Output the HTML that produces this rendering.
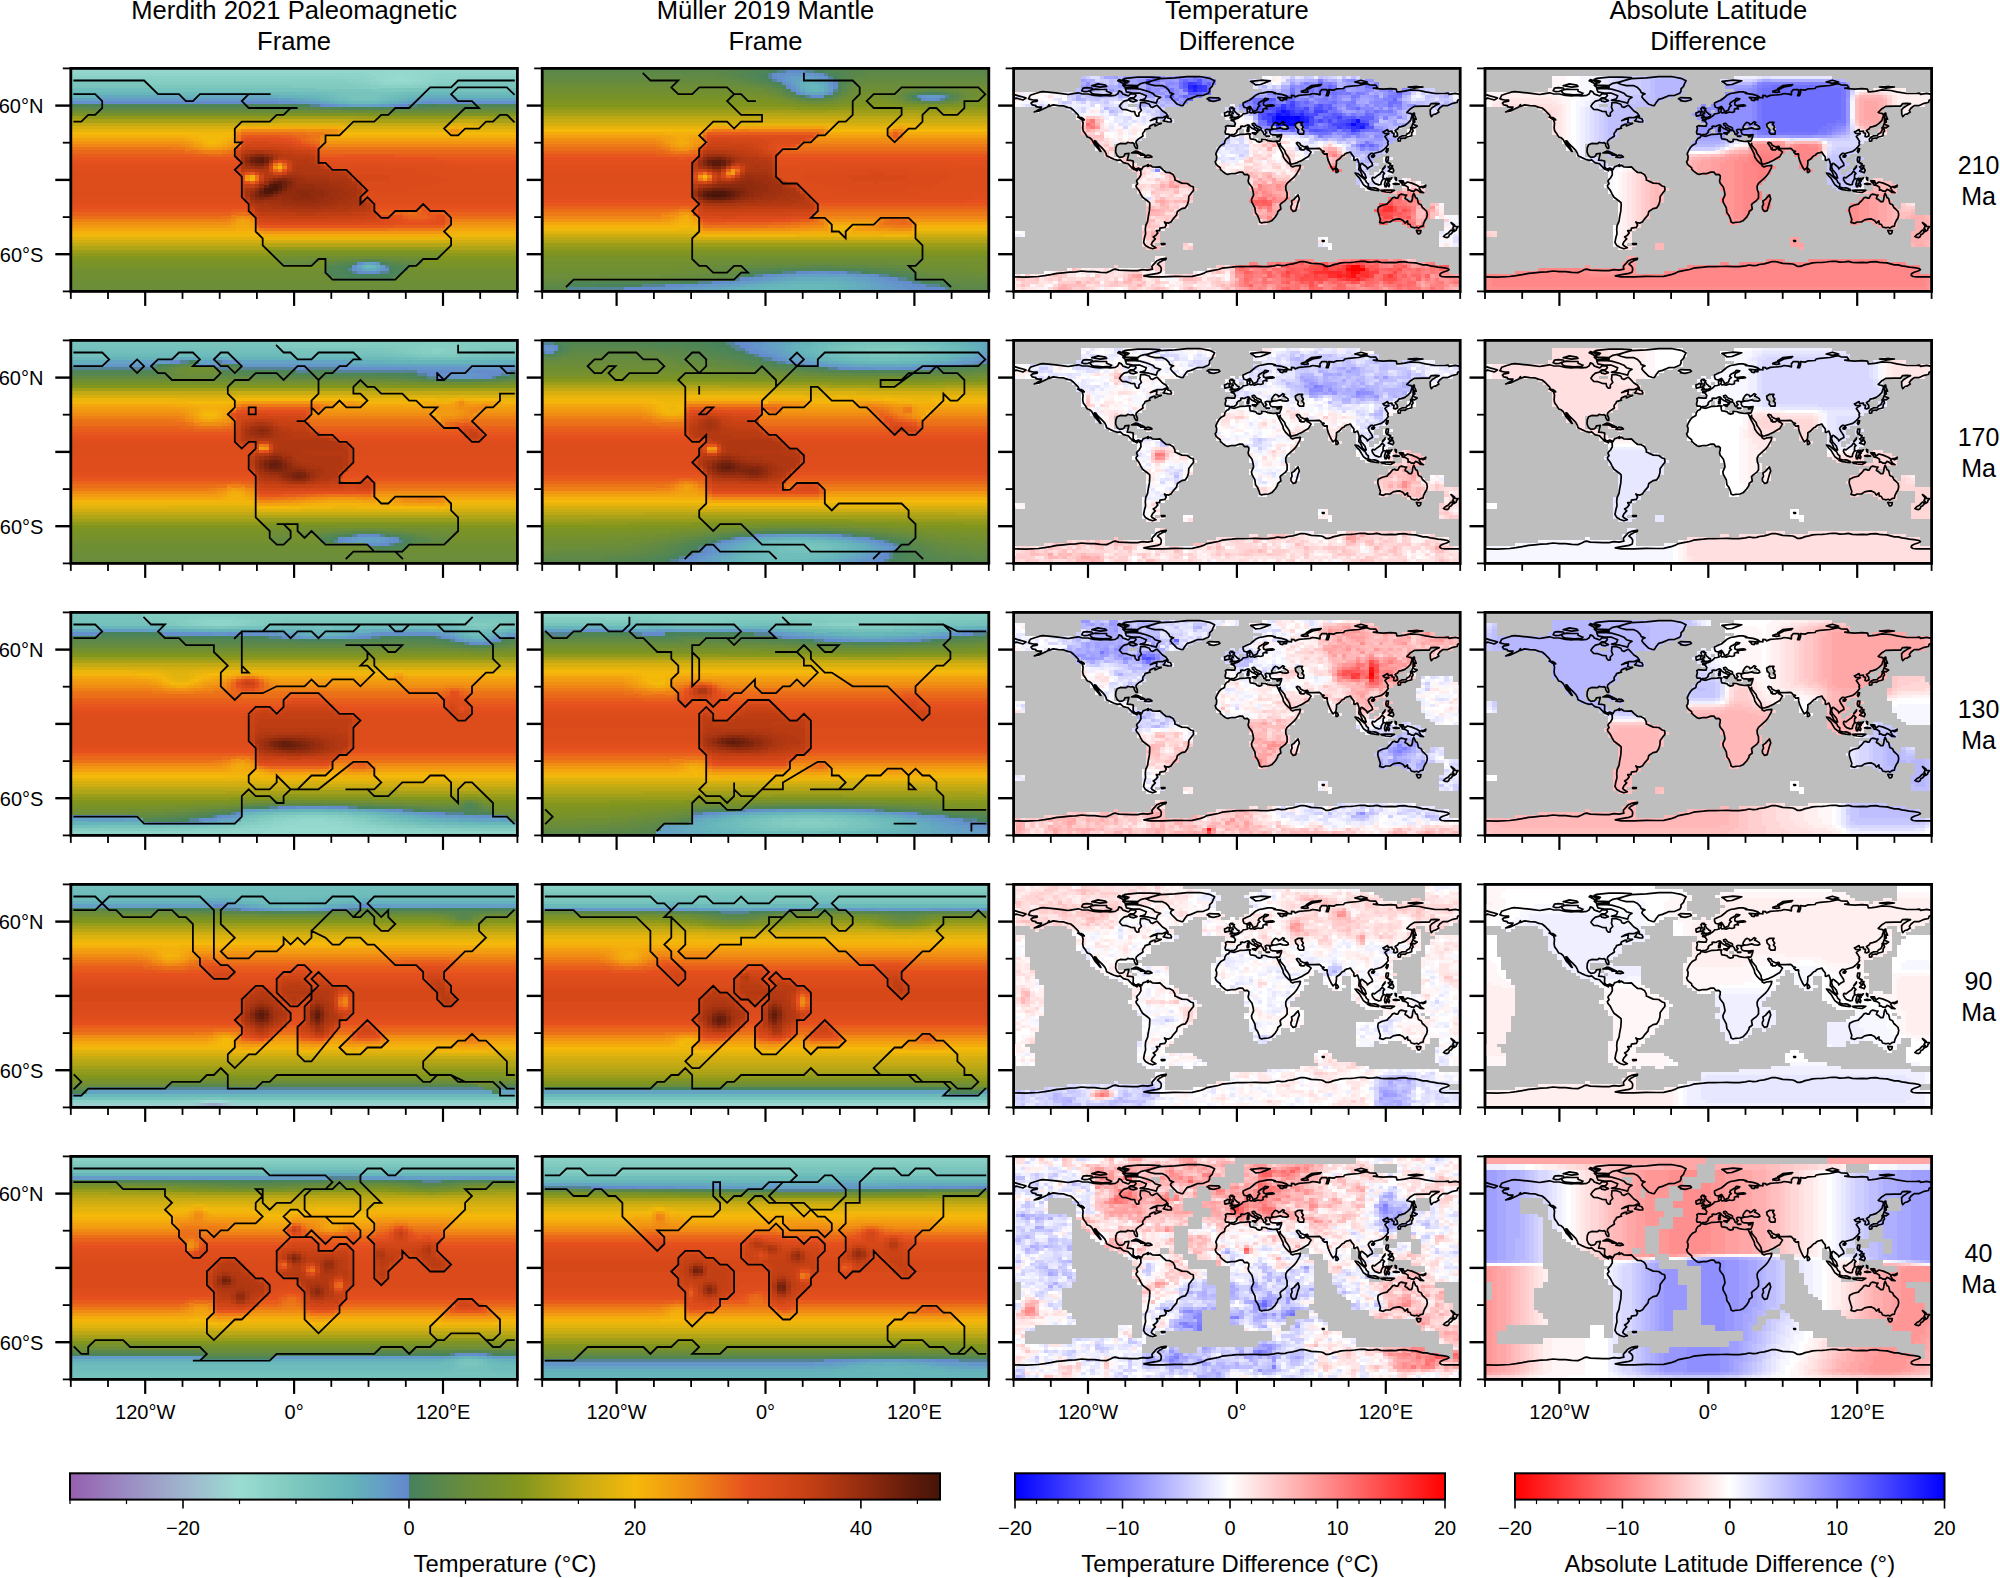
<!DOCTYPE html><html><head><meta charset="utf-8"><title>fig</title><style>
html,body{margin:0;padding:0;background:#fff}svg{display:block}text{font-family:"Liberation Sans",sans-serif;fill:#000}
</style></head><body>
<svg width="2000" height="1578" viewBox="0 0 2000 1578">
<rect width="2000" height="1578" fill="#fff"/>
<defs><path id="cst" fill="none" stroke="#000" stroke-width="1.7" stroke-linejoin="round" d="M14.9 30.2L16.7 26.9L21.1 25.4L26.1 23.8L29.2 23.2L34.7 23.8L42.2 24.5L48.4 25.3L54.6 26.1L58.3 25.4L64.5 24.4L68.2 25.4L74.4 25.6L80.6 27L86.8 27.5L90.6 26.9L96.8 27.5L101.7 27L104.2 25.4L105.4 22.5L107.9 23.5L109.2 25.6L111.7 26.5L114.8 27.6L117.2 25.3L121.6 25.4L122.4 27.3L120.3 29.5L116.6 29.4L115.4 31L113.5 32L110.4 32.7L107.9 34.9L105.9 37.8L106.7 38.8L108.5 40.9L112.9 41.3L117.2 42.9L121.1 43.2L121.6 45.8L123.3 47.8L125.3 47.6L125.3 44.6L127.8 42.1L126.5 39L126.8 36.3L127 34.2L131.5 34.3L135.8 35.9L137.1 38.4L138.9 39L142 37.4L143.3 36.8L145.8 39.3L148.9 42.6L152.2 44.6L154.1 47.1L152 47.8L148.9 49.3L143.3 49.3L140.2 50.4L136.7 52.3L140.8 50.8L143.3 50.8L143 52.7L142.7 54.3L144.5 54.6L147.6 55L144.5 56.4L141.4 57.5L141.4 55.6L139.9 56L136.5 57.5L135.8 58.8L136.5 59.8L134.6 60.2L131.5 61.2L131.1 62.6L129.5 64.4L129 65.7L129.4 67.6L127.2 69.1L125 70.5L122.8 72.4L122.3 74.3L123.7 77.4L123.8 80L122.4 80L120.7 77.2L120.6 75.3L119.1 74.3L117.1 74.6L114.1 74L112.4 75.3L110.2 75.2L106.7 75L103.6 76.4L102.3 79.3L102 83.6L103.5 87.1L105.9 89L109.2 88.5L110.8 87.2L111.3 85.5L115.4 84.9L114.6 88L113.6 91.7L116.6 91.9L119.7 92.7L119.6 96.6L119.5 98.2L121 100.2L123.3 100.4L124.7 99.6L127.2 100.7L128 101.3L129.5 98.5L132.7 97.4L134.6 96.1L134.1 98L136.5 96.8L138.7 98.4L143.3 98.7L146.4 98.4L148.9 101L152.6 104.1L156.3 104.3L159.4 106L161.3 109.4L161.3 111.5L163.8 112.7L168.3 114.7L173.7 115.1L177.2 117.6L179.6 118.4L180 121.8L177.4 125.1L175.2 128L174.9 132.6L173.7 136.3L171.8 139.4L168.1 140.2L163.8 143.1L162.9 146.8L160 149.9L157.6 153.4L155.1 154.7L152 154.2L150.9 153.6L152.6 156.6L151.3 158.9L146.4 159.8L146 162.3L142.7 162.3L144.2 164.5L142 167.2L139.6 168.5L141.7 170.5L138.9 173.4L137.7 175.9L138.6 177.2L142.3 179.4L138.9 180.4L135.2 179.1L131.9 177.2L130 174.1L130.8 169.7L132 165.4L131.7 161.1L132.1 157.3L134 153L134.6 148.7L135.8 142.5L136.2 136.3L136 134.2L134 132.6L129 128.8L127.2 125.7L125.3 122L122.8 118.9L122.4 117.1L124.1 115.2L122.9 112.7L124.1 110.9L125.5 109.6L127.3 106.5L127.2 102.8L126.3 101.8L124.6 100.5L123.4 102.5L121.6 101.3L120.1 101L117.9 99.1L116.9 97.9L114.6 95.4L113.4 95.1L109.8 94.2L106.7 91.4L104.2 92L100.5 90.8L96.8 89.2L93 87.3L92.4 84.9L91.1 82.4L88.1 79.3L86.2 77.4L83.7 75L82.1 72.6L80.9 72.4L81.9 75L84.4 78L86.2 81.1L87.3 83L86.1 82.3L83.7 79.3L81.3 76.8L79.9 74.3L78.2 71.2L76.3 69.4L73.7 68.6L72 65.7L69.7 62.6L69.1 59.5L69.5 54.5L68.6 51.7L70.7 51.5L69.5 50.1L65.4 48.6L64.5 46.5L62 44L60.2 42.1L57.1 39.6L54 39L49.6 37.4L44.7 37.2L39.7 36.5L35.4 38L35.4 36.2L34.1 38.4L32.3 39.3L28.5 41.1L24.8 42.7L20.7 43.6L23.6 42.1L27.3 40.1L27.9 38.7L24.8 38.7L22.3 38.2L22.3 37.2L18.6 36.4L17.4 34.7L19.1 33.4L23.6 32.7L23.6 31.6L19.8 31.6L16.7 31L14.9 30.2ZM132.7 14.6L138.9 12.4L146.4 10.2L161.3 9.5L173.7 8.3L186.1 8.1L196 9.9L201 12.4L199.7 14.9L198.5 18L196 20.4L196 22.9L194.8 24.8L189.8 26.9L183.6 27.3L177.4 30L173.7 31L171.2 34.1L169.3 37.2L166.9 36.9L163.8 35.9L161.3 33.4L158.8 31L156.9 28.5L157.6 26.6L160 25.4L156.3 24.2L155.1 21.7L152.6 19.2L148.9 17.3L141.4 17.3L136.5 16.1L132.7 14.6ZM142.7 34.7L135.2 32.8L126.5 31.8L131.5 30.4L132.7 27.3L126.5 24.8L119.1 24.8L112.9 23.5L111.7 20.4L119.1 20.1L126.5 20.7L134 22.9L138.9 24.8L141.4 27.3L147 29L143.9 31L142.7 34.7ZM78.2 24.8L80.6 25.8L89.3 26.4L96.8 26L98 24.8L93 22.9L93 21.1L86.8 21.1L81.9 20.7L76.9 21.7L76.9 23.5L78.2 24.8ZM68.2 22.3L70.7 23.3L74.4 22.9L79.4 21.1L78.2 19.6L73.2 19.2L69.5 19.8L68.2 22.3ZM111.7 16.7L124.1 17.1L127.8 14.9L134 13.6L142.7 11.2L146.4 9.3L136.5 8.7L124.1 8.7L111.7 9.9L109.2 11.2L115.4 13L111.7 14.9L111.7 16.7ZM109.2 16.7L124.1 18L124.1 19L111.7 19.1L109.2 16.7ZM78.2 17.3L86.8 18.8L93 18L91.8 16.7L84.4 15.5L78.2 17.3ZM105.4 11.2L114.1 14.2L109.2 14.9L104.2 12.4L105.4 11.2ZM115.4 30.4L119.1 30L123.4 32.2L120.3 33.4L116.6 32.7L115.4 30.4ZM149.7 52.5L154.4 53.5L157.6 53.6L157.9 52.5L156.9 50.4L154.2 49.6L154.4 47.7L152.2 48.8L150.7 51.4L149.7 52.5ZM64.1 48.7L68.2 49.3L70.1 51.4L68.2 51.2L64.1 48.7ZM117.9 84.5L121.6 82.8L124.1 83L127.8 84.9L131.3 86.5L127.2 86.8L126.5 85.9L122.8 84.4L119.1 84.4L117.9 84.5ZM130.9 88.7L133.4 86.8L136.5 87L138.4 88.5L135.2 89.2L130.9 88.7ZM215.9 67.1L220.8 67.9L223.3 67.1L227 65.9L232 65.7L235.7 65.3L236.9 65.7L236 66.5L236.4 69.4L236.9 70.4L239.4 70.7L242.3 71.5L243.1 72.7L245.6 73.7L248.1 73.1L248.1 71L251.8 71.1L254.3 72.2L259.3 73.1L263 72.7L263.6 74.3L264.9 77.1L267.3 81.8L269.2 85.5L269.8 88.6L272.3 92.3L274.8 94.8L276.9 96L277 97.3L279.1 98.5L281.6 97.6L286.8 96.9L286.3 99.7L282.8 105.9L280.4 108.8L276 112.7L273.5 115L272.1 117.7L272.3 121.4L273.5 124.5L273.5 129.5L271.7 131.9L268 134.8L266.5 136.3L267.3 140.6L264.2 143.1L263.9 145L261.8 148.4L258 152.4L254.9 153.6L250.6 153.9L248.1 154.6L246.1 153.6L245.6 151.1L243.8 146.8L241.9 144.3L241.3 139.4L238.2 133.8L237.9 131.3L240 126.4L239.4 122.7L238.4 118.9L235.1 114.6L234.5 112.1L235.1 110.3L235.3 107.4L233.8 105.9L230.7 106.2L228.9 103.7L225.8 103.7L221.4 105.3L218.3 105.1L214 106L212.1 105.3L209 103L206.8 101L206.6 99.2L204.7 97.9L202.6 96L201.6 93.3L202.8 91.7L203.1 88L202.2 85.5L203.5 82.4L205.3 79.3L207.2 77.2L210.9 75L211.3 72.5L212.8 70.2L215.2 69L215.9 67.1ZM284.5 126.4L285.7 130.7L284.7 133.2L282.2 142.2L279.5 143.1L277.5 140.6L277.3 138.1L278.5 135.7L277.9 132.6L280.4 131L282.8 128.2L284.5 126.4ZM216.5 66.9L215.2 65.7L212.1 65.7L211.5 63.6L212.4 60.1L211.8 58.2L213.4 57.2L218.3 57.7L221.1 57.7L221.8 55.1L220.2 52.9L217.5 52L217.7 51.3L221.4 51.2L221.1 49.9L223.5 50.2L225.2 49.3L226.4 48.3L228.3 47.1L229.5 45.5L232 45.1L234.2 44.6L233.6 42.7L233.5 40.9L236.3 40L236.3 42.1L235.7 43.4L236.9 44.6L238.8 44.1L240.9 44.7L244.4 43.6L246.9 44.1L249.4 43.4L249.4 40.9L251.2 40L253.4 40.6L252.5 38.4L255.6 37.8L258 37.8L260.5 37.2L258.7 36.5L255.6 36.8L251.8 37.3L250 36.5L249.7 34.7L250.6 32.8L254.3 31L254.7 30.4L251.2 30L250 31.6L245.6 34.1L244.6 35.9L246.3 37.2L244.4 38.8L243.8 40.9L243.1 41.9L241 42.7L239.4 42.9L239.1 41.8L237.3 39L236.3 38L233.2 39.6L230.4 38.8L229.5 36.5L229.5 34.7L233.2 32.8L236.3 31.6L239.4 29.1L241.9 26.9L245.6 25.1L249.4 24.5L254.3 23.5L258 23.5L261.8 24.4L260.5 25.1L264.2 25.5L268 26L272.9 27.5L274.2 28.7L270.4 29.5L264.2 28.9L266.1 30.4L266.7 31.8L269.2 32.2L269.8 31L272.9 31.3L272.9 29.7L275.4 29.1L277.9 29.5L277.9 27L280.4 27.3L281.6 28.5L285.3 27L290.3 26.6L296.5 26L299 25.1L303.9 25.8L306.4 26.4L306.4 23.5L308.3 21.1L313.2 21.3L313.9 23.5L312.6 27.3L314.5 27.3L315.7 23.5L315.1 21.3L320.1 21.7L323.2 20.4L330 20.1L331.2 18.6L335 18L344.9 17.1L352.9 15.2L356 16.4L362.2 16.7L364.1 19.8L359.8 19.8L363.5 20.3L369.7 20.8L377.1 20.2L382.7 20.8L383.3 23.5L387.1 23.2L390.8 22.8L397 21.4L405.7 22.1L411.9 23.5L421.8 25.1L424.3 25.1L431.7 25L434.8 24.8L435.4 26L441.6 25L446.6 26L446.6 31L444.1 31.8L443.5 34.1L439.2 34.9L434.2 37.2L429.2 37.2L426.1 39.6L424.3 42.1L425.3 43.7L421.8 45.8L419.9 46.1L417.7 48.3L416.8 45.8L416.6 41.5L418.1 39.6L423 36.5L425.5 35.3L421.8 34.9L417.4 35.3L415.6 37.8L409.4 37.8L400.7 38L397 40.3L393.3 44L394.5 44.6L397.6 45.2L398.6 47.1L397.6 49.6L397 52L394.5 54.5L391.4 57L387.7 58.2L385.2 58.8L384 60.7L381.5 62.2L383.7 65L384 67.5L381.5 68.5L380 68.1L380.5 65L378.4 64.4L378.4 62.6L374.6 63.2L374 61.1L370.9 62.9L369.4 63.4L370.9 65L375.3 65.3L372.8 66.7L371.3 68.1L373.4 71.2L374.6 73.1L374 74.3L374.6 76.2L372.2 79.3L370.3 81.1L367.8 83L364.7 83.9L361 84.9L359.8 86.4L359.1 84.9L357.3 84.9L355.4 86.7L354.6 88.3L356 91.1L358.5 94.8L358.9 97L356 98.5L353.8 100.6L353.3 98.9L350.5 96.6L348.5 95L347.4 95.1L346.5 98.5L347.7 101.6L349.2 103.1L351.4 105.9L352.6 109.6L351.7 109.9L349 108L347.7 104.7L346.7 102.8L345.2 101.2L345.5 98.5L345.5 95.4L344.5 92.3L343.9 90.7L341.5 91.9L340.3 91.7L340.3 88.6L337.8 85.5L336.8 83.6L335 84.2L333.1 84.6L331.2 85.7L330.6 86.7L328.7 87.3L325.6 90.7L322.9 92.3L322.8 95.4L322.3 98.7L321.3 100L320.3 100.6L319.4 101.5L318 99.4L316.1 95.4L314.5 91.7L313.6 88L313.5 85.5L312.6 85.5L310.8 85.7L308.9 83.9L310.5 83L308.3 82.4L306.8 80.8L305.8 80L300.2 80.3L294.6 79.9L294 78L290.9 78.5L287.2 76.8L285.9 74.6L283.8 74L282.8 74.6L283.7 76.2L285.6 78.7L286.3 80.8L287.3 79.5L287.2 81.4L290.3 81.5L293.1 79L293.4 81.1L296.1 82.4L297.5 83.7L295.9 86.2L294.9 88L291.8 89.8L288.1 92L283.7 94.2L279.1 95.6L277.3 95.8L276.3 93.2L276 91.1L274.2 88L271.9 84.9L271.1 82.1L268.8 79.3L266.7 76.8L266.6 75L265.7 77.1L263.7 74.5L263.4 72.8L265.9 72.7L266.7 70.9L267.7 68.1L268 66.3L265.5 66.5L263.6 66.8L261.1 66.5L259.3 66.5L257.4 65.9L256.2 63.8L256.4 62.6L255.8 61.9L259.3 60.7L262.4 60.5L266.7 59.5L269.2 60.5L272.9 60.7L274.8 60L274.2 58.2L271.7 56.6L269.6 55.8L270.8 54.1L269.2 53.3L266.7 55.4L264.9 56.4L264.2 54.8L261.8 53.9L260.3 55.1L258.9 57L258 58.8L258.3 60.1L259.3 60.5L257.4 61L255.6 61.1L253.1 61L251.6 61.6L251.8 62.8L253.1 64.4L252.1 64.9L251.8 66.3L251 66.3L250 65.7L249.6 64.1L248.7 62.8L247.5 61.6L247.5 59.7L246.3 58.8L243.1 57.6L241.9 56.4L241.3 55.5L240.3 54.9L238.6 55.4L238.8 56.7L240.3 57.6L240.9 59.1L243.1 59.7L246 61.6L246 62.2L244.4 61.3L243.8 62.6L244.4 63.3L243.1 64.4L242.8 64.2L243.4 62.9L242.5 61.8L241 61L238.8 60.1L236.3 58.2L235.7 57L234.1 56.5L232.6 57.2L230.7 58.1L228.9 57.7L227.1 58L227.3 59.5L224.3 61L223.1 62.6L223.5 63.4L222.4 64.7L220.8 65.9L217.7 66.2L216.5 66.9ZM0 26L5 27.5L11.2 29.1L12.4 29.7L9.3 31.6L5 30.4L2.5 29.7L0 31M281.6 55.8L284.7 53.9L289 53.9L287.8 55.8L289.7 58.8L288.4 60.7L290.3 62.6L290 65.7L285.9 65.7L284.1 63.8L284.7 61.3L282.2 58.8L281.6 55.8ZM216.5 49.6L219 49.2L223.3 48.6L225 48.1L225.4 46.2L223.7 45.8L223.3 45L221.4 43.4L220.8 42.1L219.6 42.1L220.8 40.3L218.3 40L219.3 38.9L217.1 38.9L215.9 40.3L216.5 42.1L217.1 43.4L219.3 43.6L219.6 45.2L217.7 45.6L218 46.8L216.8 47.3L219 47.8L217.7 48.3L216.5 49.6ZM215.9 46.8L215.6 45.2L216.1 43.9L214 43L212.8 44L210.9 44.6L211.1 46.8L211.5 47.7L215.9 46.8ZM193.5 30.4L196 29.2L201 29.5L205.1 29.4L206.4 31L204.7 31.8L200.1 33L195.4 32.3L196 31.6L193.5 30.4ZM236.9 13L241.9 12.4L248.1 11.8L256.8 12.4L251.8 14.2L246.9 16.1L241.9 16.5L240 14.9L236.9 13ZM287.8 23.5L291.5 23.9L294.6 23.5L292.8 20.4L297.7 17.3L307.7 16.1L306.4 17.3L299 18.6L294 21.1L291.5 21.7L287.8 22.9L287.8 23.5ZM394.5 18.6L403.2 18L409.4 18.6L400.7 19.8L394.5 18.6ZM341.2 13.6L347.4 11.8L353.6 13.6L347.4 14.9L341.2 13.6ZM233.6 63.2L235.2 62.9L235.3 60.7L235 58.2L234 59.1L234.2 60.7L233.6 61L233.6 63.2ZM238.8 64.4L242.7 64.2L242 66L238.8 64.9L238.8 64.4ZM252.5 67.5L255.9 67.8L255.6 68.1L252.5 67.9L252.5 67.5ZM263.4 68.1L266.1 67.4L265.5 68.3L263.6 68.6L263.4 68.1ZM384.6 72.7L386.8 72.5L387.1 70.2L390.2 69.6L391.4 70L393.3 68.6L395.7 68.1L398 67.3L398.2 64.4L399.5 62.6L398.8 60.2L397.2 60.7L397 62.2L395.7 64.4L393.3 65.7L392.9 66.3L392 67.3L388.3 67.5L385.8 68.9L384.6 70.2L384.3 71L384.6 72.7ZM397 59.5L398.2 58.2L399.1 55.3L401.3 56.7L403.6 57.6L401.1 59.5L398.8 58.8L397.3 60.1L397 59.5ZM399.5 54.5L401.3 53.5L400.7 50.2L402.6 50.8L401.1 47.1L400.7 44.6L399.5 45.2L399.5 49.6L399.5 54.5ZM372.4 83L373.4 80.3L374.6 80.5L374 83L373.2 84.2L372.4 83ZM358.1 87.7L360.4 86.7L361 87.3L359.8 88.8L358.1 88.6L358.1 87.7ZM322.3 99.5L324 101L324.8 102.8L323.8 103.9L322.5 104.1L322.3 101.6L322.3 99.5ZM372.8 88.6L374.9 88.6L374.6 91.1L374 93.9L377.1 95.4L376.5 95.8L374.6 94.4L372.8 93.5L372.2 91.7L372.8 88.6ZM374.6 102.8L376.5 101L379 99.5L380.2 102.2L379 104.4L377.1 103.4L374.6 102.8ZM374.6 98.5L376.5 97.3L379 97.3L377.7 99.4L375.9 99.7L374.6 98.5ZM368.8 101L371.5 97.5L371.3 98.7L369.1 101.2L368.8 101ZM358.5 109.6L359.1 109L361 109.5L363.5 107.5L366.6 105.3L368.4 102.8L370.9 105.1L369.7 106.2L369.4 109.6L370.9 110.3L369.1 110.9L367.8 113.4L367.2 116.1L365.3 116.5L361.6 115.2L359.8 113.4L358.5 111.1L358.5 109.6ZM341.5 104.6L344.3 105.1L348 108.4L351.7 111.5L352.9 114L354.8 115.5L354.6 118.7L352.9 118.6L349.8 116.2L347.7 112.7L345.7 109.4L343.6 107.4L341.5 104.6ZM353.9 119.6L355.7 118.9L357.9 119.6L360.6 119.4L363.1 120L365.3 121.2L365.1 122.2L361 121.8L357.3 121.2L355.3 120.5L353.9 119.9L353.9 119.6ZM371.5 118.3L370.9 115.8L371.9 112.1L372.8 109.9L376.5 110.3L378.4 109.4L377.1 111L373.4 110.9L374 112.7L376.3 112.6L374.6 114L375.9 116.5L375.3 118.3L374 117.1L373.2 114.8L372.7 118.4L371.5 118.3ZM367.2 121.9L370.9 121.8L375.9 121.8L378.4 121.8L380.9 121.9L377.1 124.1L372.2 123.6L368.4 122.7L367.2 121.9ZM381.5 109L382.7 109.6L382.7 112.1L381.7 110.9L381.5 109ZM379.6 115.5L382.1 115L385.6 115.8L382.1 116L379.6 115.5ZM385.8 112.5L389.5 112.5L390.8 115.6L393.9 113.6L398.2 114.7L403.2 116.8L406.3 118.9L405.7 119.9L407.5 122.7L410 124.3L406.9 124.1L404.4 122L401.9 121L400.7 122.7L398.2 122.8L395.7 121.4L394.5 121.8L394.5 118.9L392 117.2L388.9 116.5L388 115L389.5 114.2L387.1 114.2L385.8 112.5ZM407.5 118.3L410 118.1L412.2 116.7L411.9 118.3L409.4 119.3L407.5 118.3ZM364.7 138.8L364.1 141.9L364.7 144.3L366 148.7L366.8 151.1L366 154L369.7 154.9L372.2 153.6L376.5 153.6L379.6 151.5L383.3 150.8L386.4 150.5L389.5 152.1L391.4 154.6L393.9 152.4L394.2 155.5L396.4 156.1L397.6 158.6L401.3 159.4L403.2 158.9L405 159.8L406.9 158.3L409.4 157.7L410 154.9L411.2 152.4L413.1 149.3L413.7 146.2L413.1 143.1L410.6 140.6L408.8 139.1L407.5 136.3L404.8 135L404.2 132.3L403.6 130.1L401.9 129.2L401.3 127.4L400.1 124.8L399.1 127.6L398.8 130.7L398 133.2L395.7 133.2L393.3 131.1L391.4 130.1L392 128.2L393 126.6L390.8 126.4L387.7 125.7L385.8 126.6L384.2 129.8L382.7 129.8L380.9 128.8L379 129.5L376.5 132.6L374.9 133.8L373.4 135.7L369.7 136.6L367.2 137.5L364.7 138.8ZM402.8 161.9L405 162.3L407.3 162.2L406.9 164.5L405.7 165.5L404.4 165.4L403.4 163.9L402.8 161.9ZM437.5 154.1L439.5 155.5L441 156.7L441.6 158.1L444.5 158.2L442.9 160.2L442.6 161.7L440.8 163L440.1 162.7L440.4 161.1L438.9 160.2L439.9 158.6L439.8 157.1L437.9 154.9L437.5 154.1ZM437.5 161.7L439.4 162.5L439.2 163.5L437.7 165.4L435.8 166.4L435.1 168.4L433.6 169.2L431.1 168.7L429.9 168.1L432.1 166L434.8 164.5L436.7 162.3L437.5 161.7ZM147.6 175.3L151.3 175.1L151.3 175.9L148.2 176.3L147.6 175.3ZM308.7 172.2L310.5 172.2L310.5 172.9L308.9 172.9L308.7 172.2ZM0 208.5L12.4 208.8L24.8 208.1L31 207.3L37.2 206.3L43.4 205L49.6 204.4L55.8 203.8L62 203.5L68.2 202.6L74.4 203.2L80.6 203.2L86.8 203.9L93 204.2L96.8 202.6L99.2 201.3L101.7 200.7L105.4 201.7L111.7 201.9L117.9 202.2L124.1 202.3L129 201.3L134 201.7L138.9 200.7L138.3 198.2L139.6 196.4L141.4 194.5L143.3 192.4L146.4 191L150.1 190.2L152.6 189.9L152 191.2L149.5 191.8L147.6 193L145.8 193.9L143.9 195.7L146.4 197.6L147.6 199.5L147.6 201.9L147 203.8L143.9 205L136.5 206.3L130.3 207.5L136.5 208.5L148.9 208.4L161.3 207.9L171.2 208.1L178.6 207.9L186.1 206.3L189.8 205L193.5 203.2L199.7 201.9L204.7 201.1L208.4 199.8L213.4 199.2L218.3 198.8L223.3 198.2L229.5 198.2L235.7 198.1L241.9 198L248.1 198.2L254.3 198.2L260.5 197.4L264.2 196.6L268 197.2L271.7 197L274.2 196.1L279.1 195.4L282.8 194.5L286.6 193.3L290.3 193.1L294 194L297.7 195L302.7 195.2L307.7 195.6L310.1 196.5L312.6 198L315.1 198L317.6 197.2L320.1 196.2L323.8 195.4L327.5 194.5L332.5 194.1L337.4 193.9L341.2 193.6L344.9 193.1L347.4 193L351.1 192.9L354.8 193.8L359.8 193.5L363.5 193L367.2 194L372.2 194.3L377.1 193.9L382.1 194.3L385.8 193.4L390.8 193.3L394.5 193.9L398.2 194.3L401.9 194.5L405.7 195.5L409.4 196.4L413.1 196.5L416.8 197.4L420.5 198L424.3 198.8L429.2 199.2L434.2 200.1L435.4 201.3L433 202.6L429.2 203.8L426.8 205L426.1 206.9L428 208.1L431.7 208.4L436.7 208.5L441.6 208.5L446.6 208.5"/>
<clipPath id="cp"><rect x="0" y="0" width="446.6" height="223.0"/></clipPath>
<linearGradient id="gt" x1="0" x2="1" y1="0" y2="0">
<stop offset="0.0000" stop-color="#965faf"/>
<stop offset="0.0649" stop-color="#9b8cc3"/>
<stop offset="0.1299" stop-color="#a0b4cd"/>
<stop offset="0.1948" stop-color="#9bdcd2"/>
<stop offset="0.2597" stop-color="#7dc8be"/>
<stop offset="0.3247" stop-color="#64b4b9"/>
<stop offset="0.3636" stop-color="#649bc8"/>
<stop offset="0.3896" stop-color="#6487cd"/>
<stop offset="0.3896" stop-color="#46825f"/>
<stop offset="0.4545" stop-color="#698c3c"/>
<stop offset="0.5195" stop-color="#82961e"/>
<stop offset="0.5844" stop-color="#c3aa14"/>
<stop offset="0.6494" stop-color="#f5b90a"/>
<stop offset="0.7143" stop-color="#f08c14"/>
<stop offset="0.7792" stop-color="#e6501e"/>
<stop offset="0.8442" stop-color="#c84114"/>
<stop offset="0.9091" stop-color="#962d0f"/>
<stop offset="0.9740" stop-color="#5a190a"/>
<stop offset="1.0000" stop-color="#461408"/>
</linearGradient>
<linearGradient id="gd" x1="0" x2="1" y1="0" y2="0"><stop offset="0" stop-color="#0000ff"/><stop offset="0.5" stop-color="#fff"/><stop offset="1" stop-color="#ff0000"/></linearGradient>
<linearGradient id="gl" x1="0" x2="1" y1="0" y2="0"><stop offset="0" stop-color="#ff0000"/><stop offset="0.5" stop-color="#fff"/><stop offset="1" stop-color="#0000ff"/></linearGradient>
</defs>
<g transform="translate(70.8 68.4)">
<g clip-path="url(#cp)">
<g shape-rendering="crispEdges">
<g transform="translate(-2.326 0) scale(4.6521 3.0972)" fill="none" stroke-width="1.03">
<path stroke="#95d8ce" d="M0 0h97M68 1h7M69 2h5M68 3h2M72 3h3M68 4h2M73 4h2"/>
<path stroke="#92d6cc" d="M0 1h68M75 1h22M65 2h4M74 2h4M66 3h2M75 3h2M67 4h1M75 4h1M68 5h6"/>
<path stroke="#8fd4ca" d="M0 2h65M78 2h19M64 3h2M77 3h2M65 4h2M76 4h2M67 5h1M74 5h2"/>
<path stroke="#89d0c6" d="M0 3h58M84 3h13M60 4h3M80 4h3M64 5h1M77 5h2M67 6h8"/>
<path stroke="#8cd2c8" d="M58 3h6M79 3h5M63 4h2M78 4h2M65 5h2M76 5h1"/>
<path stroke="#98dad0" d="M70 3h2M70 4h3"/>
<path stroke="#7dc8be" d="M0 4h16M84 4h13M18 6h30M65 7h8"/>
<path stroke="#86cec4" d="M16 4h44M83 4h1M61 5h3M79 5h3M65 6h2M75 6h2"/>
<path stroke="#7ac6be" d="M0 5h17M83 5h14M59 7h6M73 7h3"/>
<path stroke="#83ccc2" d="M17 5h44M82 5h1M62 6h3M77 6h2"/>
<path stroke="#78c4bd" d="M0 6h18M82 6h15M53 7h6M76 7h1M61 8h6M61 9h5"/>
<path stroke="#80cac0" d="M48 6h14M79 6h3"/>
<path stroke="#6ebcbb" d="M0 7h18M95 7h2M49 8h5M75 8h2M56 9h1M70 9h1M58 10h1M68 10h1"/>
<path stroke="#76c2bc" d="M18 7h35M83 7h12M58 8h3M67 8h3M60 9h1M66 9h1M61 10h5"/>
<path stroke="#70bebc" d="M77 7h6M54 8h2M72 8h3M57 9h1M69 9h1M59 10h1M67 10h1"/>
<path stroke="#66b6ba" d="M0 8h19M77 8h5M96 8h1M50 9h3M74 9h2M55 10h1M71 10h1M59 11h1M67 11h1"/>
<path stroke="#6cbaba" d="M19 8h30M82 8h14M55 9h1M71 9h2M57 10h1M69 10h1M61 11h5M64 64h1"/>
<path stroke="#73c0bc" d="M56 8h2M70 8h2M58 9h2M67 9h2M60 10h1M66 10h1"/>
<path stroke="#64b4b9" d="M0 9h6M24 9h4M45 9h5M83 9h14M54 10h1M72 10h1M58 11h1M68 11h1M63 64h1"/>
<path stroke="#64a8c0" d="M6 9h18M28 9h16M48 10h3M55 11h1M71 11h1M63 65h1"/>
<path stroke="#64acbe" d="M44 9h1M76 9h7M51 10h2M74 10h1M56 11h1M70 11h1M66 64h1M64 65h2"/>
<path stroke="#69b8ba" d="M53 9h2M73 9h1M56 10h1M70 10h1M60 11h1M66 11h1M65 64h1"/>
<path stroke="#64a3c3" d="M0 10h7M25 10h2M75 10h2M83 10h14M54 11h1M72 11h1M61 12h4M64 63h1M62 64h1M66 65h1"/>
<path stroke="#649bc8" d="M7 10h18M27 10h18M82 10h1M50 11h2M74 11h1M58 12h2M67 12h2M63 63h1M67 64h1M62 65h1"/>
<path stroke="#649fc6" d="M45 10h3M77 10h5M52 11h2M73 11h1M60 12h1M65 12h2M65 63h1"/>
<path stroke="#64b0bc" d="M53 10h1M73 10h1M57 11h1M69 11h1"/>
<path stroke="#6491cb" d="M0 11h7M45 11h4M76 11h6M87 11h10M55 12h2M70 12h1M61 64h1M61 65h1M63 66h3"/>
<path stroke="#648ccc" d="M7 11h38M82 11h5M54 12h1M71 12h2M62 63h1M68 65h1M62 66h1M66 66h1"/>
<path stroke="#6496c9" d="M49 11h1M75 11h1M57 12h1M69 12h1M66 63h1M67 65h1"/>
<path stroke="#4d8458" d="M0 12h48M79 12h18M61 63h1M59 64h1M69 64h1M58 65h1M70 65h1M56 66h3M70 66h2M56 67h4M69 67h2M58 68h12"/>
<path stroke="#49835c" d="M48 12h4M75 12h4M67 63h1M60 64h1M59 65h1M69 65h1M59 66h2M69 66h1M60 67h9"/>
<path stroke="#558496" d="M52 12h2M73 12h2M68 64h1M60 65h1M61 66h1M67 66h2"/>
<path stroke="#5e8947" d="M0 13h5M88 13h9M62 62h1M67 62h1M55 63h2M72 63h2"/>
<path stroke="#5b884a" d="M5 13h49M77 13h11M63 62h1M66 62h1M57 63h2M70 63h2"/>
<path stroke="#57874e" d="M54 13h3M72 13h5M64 62h2M59 63h1M69 63h1M55 64h1M73 64h1"/>
<path stroke="#548651" d="M57 13h2M68 13h4M60 63h1M56 64h2M71 64h2M55 65h1"/>
<path stroke="#508555" d="M59 13h9M68 63h1M58 64h1M70 64h1M56 65h2M71 65h2M55 66h1M57 68h1"/>
<path stroke="#6e8e36" d="M0 14h4M49 14h2M86 14h7M94 14h3M59 61h11M0 68h57M70 68h27M0 69h97"/>
<path stroke="#6c8d39" d="M4 14h2M47 14h2M51 14h8M85 14h1M93 14h1M45 62h7M0 70h97M0 71h97"/>
<path stroke="#698c3c" d="M6 14h41M59 14h10M71 14h14M52 62h2M55 62h2M72 62h4M0 72h97"/>
<path stroke="#658b40" d="M69 14h2M57 62h3M69 62h3M46 63h5"/>
<path stroke="#7d9424" d="M0 15h4M46 15h21M85 15h7M95 15h2M0 62h45M54 62h1M76 62h21"/>
<path stroke="#7a9327" d="M4 15h1M45 15h1M67 15h1M84 15h1M92 15h1M94 15h1M0 63h46M53 63h2M76 63h21"/>
<path stroke="#78922a" d="M5 15h40M68 15h16M93 15h1M44 60h36M0 64h55M74 64h23"/>
<path stroke="#a2a019" d="M0 16h1M46 16h16M85 16h5"/>
<path stroke="#9c9e1a" d="M1 16h2M45 16h1M62 16h4M84 16h1M90 16h1M96 16h1M0 59h43M81 59h16"/>
<path stroke="#969c1b" d="M3 16h1M44 16h1M66 16h1M83 16h1M91 16h1M95 16h1M42 58h40"/>
<path stroke="#8f9a1c" d="M4 16h40M67 16h16M92 16h3M0 60h44M80 60h17"/>
<path stroke="#bca815" d="M0 17h1M44 17h1M60 17h3M83 17h1M88 17h2"/>
<path stroke="#b6a616" d="M1 17h2M43 17h1M63 17h3M82 17h1M90 17h1M42 57h40"/>
<path stroke="#a9a218" d="M3 17h40M66 17h16M91 17h5"/>
<path stroke="#c3aa14" d="M45 17h15M84 17h4M0 18h37M61 18h21M89 18h8M0 57h42M82 57h15"/>
<path stroke="#b0a417" d="M96 17h1M0 58h42M82 58h15"/>
<path stroke="#d2ae11" d="M37 18h2M60 18h1M88 18h1M0 56h97"/>
<path stroke="#d7b010" d="M39 18h4M59 18h1M82 18h1M87 18h1M0 19h36M60 19h21M89 19h8"/>
<path stroke="#dcb20f" d="M43 18h16M83 18h4"/>
<path stroke="#f0b80b" d="M36 19h1M59 19h1M87 19h1M26 21h10M31 22h1M0 54h41M82 54h15"/>
<path stroke="#f4b00c" d="M37 19h1M58 19h1M82 19h1M84 19h1M0 22h26M55 22h42M27 23h1M34 23h1M33 24h1M30 25h2M39 35h1M0 53h28M81 53h16"/>
<path stroke="#f4ac0d" d="M38 19h20M83 19h1M81 20h1M26 23h1M35 23h1M28 24h1M29 25h1M32 25h1M36 52h3M42 54h39"/>
<path stroke="#ebb60c" d="M81 19h1M42 55h39"/>
<path stroke="#f4b40b" d="M85 19h1M26 22h2M34 22h2M28 23h1M33 23h1M29 24h1M32 24h1M45 32h1M39 36h1M28 53h13M41 54h1M81 54h1"/>
<path stroke="#f5b90a" d="M86 19h1M0 21h26M59 21h23M84 21h13M28 22h3M32 22h2M29 23h4M30 24h2"/>
<path stroke="#e6b40d" d="M88 19h1M0 20h36M59 20h22M85 20h12M81 55h1"/>
<path stroke="#f29e10" d="M36 20h1M58 20h1M82 21h2M26 24h1M27 25h1M34 25h1M30 26h2M38 36h1M36 49h1M38 49h1M34 51h1"/>
<path stroke="#f08c14" d="M37 20h14M55 21h1M54 23h1M54 24h1M24 25h1M27 26h1M36 48h1M38 48h1"/>
<path stroke="#f09013" d="M51 20h7M56 21h1M25 25h1M36 25h1M34 26h1M37 48h1M35 49h1M39 49h1M0 50h35M82 50h15M40 52h1"/>
<path stroke="#f19512" d="M82 20h2M57 21h1M0 24h25M55 24h42M26 25h1M35 25h1M28 26h1M33 26h1M44 32h1M38 35h1M42 53h38"/>
<path stroke="#f3a70e" d="M84 20h1M25 23h1M27 24h1M34 24h1M33 25h1M37 50h1M36 51h3M0 52h36M39 52h1M81 52h16"/>
<path stroke="#ef8615" d="M36 21h1M54 22h1M0 25h24M54 25h43M26 26h1M35 26h1M45 33h1M34 49h1"/>
<path stroke="#eb6e19" d="M37 21h11M51 22h1M51 23h1M53 24h1M25 27h2M35 27h1M36 47h1M38 47h1M73 47h1M0 48h33M82 48h15M40 51h1"/>
<path stroke="#ec7418" d="M48 21h3M52 22h2M52 23h1M0 26h22M54 26h43M27 27h1M34 27h1M44 31h1M40 35h1M40 36h1M37 47h1M33 48h2M42 52h27"/>
<path stroke="#ed7a17" d="M51 21h4M36 22h1M36 23h1M53 23h1M22 26h3M28 27h1M33 27h1M46 32h1M81 51h1M41 52h1M69 52h11"/>
<path stroke="#f2a20f" d="M58 21h1M0 23h25M55 23h42M35 24h1M28 25h1M37 49h1M36 50h1M38 50h1M35 51h1M39 51h1"/>
<path stroke="#e85c1c" d="M37 22h1M46 22h2M49 23h1M50 24h1M0 28h27M54 28h5M70 28h27M76 45h1M35 46h4M76 47h1M78 47h2M72 48h1M77 48h1M81 49h1M70 51h11"/>
<path stroke="#e7561d" d="M38 22h8M48 23h1M52 25h1M59 28h11M0 29h36M79 29h18M39 34h1M0 46h35M66 46h9M76 46h1M78 46h19M77 47h1M78 48h1M73 49h4M41 51h29"/>
<path stroke="#e9621b" d="M48 22h1M51 24h1M53 25h1M27 28h3M33 28h3M46 31h1M39 37h1M77 46h1M0 47h35M67 47h3M71 47h1M75 47h1M80 47h17M73 48h4M81 48h1M81 50h1"/>
<path stroke="#ea681a" d="M49 22h2M50 23h1M52 24h1M0 27h25M54 27h43M30 28h3M44 33h1M75 46h1M35 47h1M70 47h1M72 47h1M74 47h1"/>
<path stroke="#e6501e" d="M37 23h1M47 23h1M49 24h1M51 25h1M54 29h25M0 30h37M81 30h16M46 33h1M37 35h1M37 36h1M38 37h1M0 45h39M66 45h10M77 45h20M70 48h2M72 49h1M77 49h2M40 50h1M72 50h6"/>
<path stroke="#e04d1c" d="M38 23h6M37 24h1M47 24h1M45 30h1M55 31h27M0 32h36M81 32h16M0 33h36M87 33h10M0 42h38M63 42h1M65 42h32M0 43h38M65 43h32M69 49h2M80 49h1M68 50h2"/>
<path stroke="#e34e1d" d="M44 23h3M48 24h1M50 25h1M36 26h1M53 26h1M54 30h27M0 31h37M82 31h15M38 34h1M0 44h39M66 44h31M68 48h2M79 48h2M71 49h1M79 49h1M70 50h2M78 50h3"/>
<path stroke="#f29a11" d="M25 24h1M36 24h1M29 26h1M32 26h1M45 31h1M35 50h1M39 50h1M0 51h34M82 51h15M41 53h1M80 53h1"/>
<path stroke="#da4a1a" d="M38 24h1M43 24h3M37 25h1M48 25h1M52 26h1M61 32h7M60 33h15M61 34h17M69 35h11M69 36h13M40 37h1M63 37h17M63 38h15M64 39h9M39 47h1M67 49h1M42 50h21"/>
<path stroke="#d74819" d="M39 24h4M47 25h1M50 26h2M53 27h1M40 34h1M61 35h8M62 36h7M37 37h1M66 49h1"/>
<path stroke="#dd4c1b" d="M46 24h1M49 25h1M56 32h5M68 32h13M75 33h12M0 34h37M78 34h19M0 35h37M80 35h17M0 36h37M82 36h15M0 37h37M80 37h17M0 38h37M78 38h19M0 39h37M73 39h24M0 40h37M64 40h33M0 41h37M63 41h34M66 47h1M67 48h1M40 49h1M68 49h1M41 50h1M63 50h5"/>
<path stroke="#d14617" d="M38 25h7M48 26h1M36 27h1M36 33h1M43 33h1M37 34h1M44 34h1M40 48h1M42 49h19"/>
<path stroke="#d44718" d="M45 25h2M49 26h1M46 30h1M43 32h1M45 34h1M64 42h1M66 48h1M41 49h1M61 49h5"/>
<path stroke="#ee8016" d="M25 26h1M29 27h4M35 48h1M39 48h1M0 49h34M82 49h15M80 52h1"/>
<path stroke="#ce4416" d="M37 26h1M46 26h2M52 27h1M53 28h1M44 30h1M47 31h1M36 32h1M47 32h1M59 33h1M41 35h1M65 44h1M39 46h1M64 48h2"/>
<path stroke="#c84114" d="M38 26h6M48 27h2M47 33h1M58 33h1M46 34h1M61 36h1M62 37h1M37 38h1M37 41h1M40 47h1M64 47h1M46 48h10"/>
<path stroke="#cb4215" d="M44 26h2M50 27h2M36 28h1M36 29h1M53 29h1M54 31h1M55 32h1M60 34h1M41 36h1M63 39h1M63 40h1M65 45h1M65 46h1M65 47h1M41 48h5M56 48h8"/>
<path stroke="#be3d13" d="M37 27h1M45 27h1M48 28h4M45 29h2M38 33h2M56 33h1M41 34h1M43 34h1M60 35h1M37 39h1M37 40h1M64 46h1M41 47h8M53 47h8"/>
<path stroke="#b43912" d="M38 27h1M43 27h1M45 28h1M49 30h3M49 31h4M48 32h1M40 33h1M42 33h1M48 33h1M55 33h1M42 34h1M56 34h3M42 35h1M41 37h1M61 37h1M62 41h1M63 43h1M39 44h1M40 45h1M61 45h3M41 46h6M55 46h5"/>
<path stroke="#af3712" d="M39 27h1M42 27h1M37 32h1M49 32h5M41 33h1M49 33h6M47 34h1M50 34h6M43 35h2M56 35h4M60 36h1M40 38h1M62 39h1M38 42h1M62 42h1M61 44h3M41 45h3M57 45h4M47 46h8"/>
<path stroke="#aa3511" d="M40 27h2M37 28h1M44 28h1M44 29h1M37 31h1M48 34h2M45 35h1M51 35h5M42 36h1M56 36h4M59 37h2M60 38h2M38 39h1M62 40h1M61 42h1M60 43h3M40 44h1M42 44h1M58 44h3M44 45h4M54 45h3"/>
<path stroke="#b93b12" d="M44 27h1M46 28h2M47 29h6M48 30h1M52 30h1M48 31h1M53 31h1M54 32h1M37 33h1M59 34h1M62 38h1M64 44h1M64 45h1M40 46h1M60 46h4M49 47h4"/>
<path stroke="#c33f14" d="M46 27h2M52 28h1M47 30h1M53 30h1M43 31h1M57 33h1M38 38h2M38 43h1M64 43h1M39 45h1M61 47h3"/>
<path stroke="#a03110" d="M38 28h1M39 32h1M46 35h1M48 35h1M50 36h1M51 37h5M56 38h2M57 39h2M58 40h2M58 41h2M57 42h2M42 43h4M56 43h2M46 44h3M53 44h3"/>
<path stroke="#902b0e" d="M39 28h1M42 28h1M48 37h1M41 38h1M48 38h1M40 39h1M48 39h5M47 40h2M52 40h3M39 41h1M45 41h5M52 41h3M43 42h1M48 42h5"/>
<path stroke="#84270e" d="M40 28h2M38 30h1M39 31h1M47 38h1M44 41h1M41 42h1"/>
<path stroke="#9b2f10" d="M43 28h1M43 30h1M47 35h1M43 36h1M49 36h1M49 37h2M53 38h3M55 39h2M56 40h2M56 41h2M45 42h1M55 42h2M40 43h2M46 43h2M54 43h2M49 44h4"/>
<path stroke="#a53310" d="M37 29h1M37 30h1M38 32h1M42 32h1M49 35h2M51 36h5M56 37h3M58 38h2M39 39h1M59 39h3M38 40h1M60 40h2M38 41h1M60 41h2M59 42h2M39 43h1M58 43h2M41 44h1M43 44h3M56 44h2M48 45h6"/>
<path stroke="#8a290e" d="M38 29h1M43 29h1M42 31h1M44 36h1M47 36h1M47 39h1M46 40h1M49 40h3M50 41h2M40 42h1M42 42h1"/>
<path stroke="#72210c" d="M39 29h1M42 29h1M41 39h1M43 41h1"/>
<path stroke="#661d0b" d="M40 29h1M44 37h1M44 40h1M42 41h1"/>
<path stroke="#601b0a" d="M41 29h1M40 30h1M45 37h1M45 39h1M41 40h1"/>
<path stroke="#6c1f0c" d="M39 30h1M42 30h1M46 37h1M42 38h1M46 38h1M41 41h1"/>
<path stroke="#5a190a" d="M41 30h1"/>
<path stroke="#962d0f" d="M38 31h1M40 32h2M48 36h1M42 37h1M49 38h4M53 39h2M39 40h1M55 40h1M55 41h1M39 42h1M44 42h1M46 42h2M53 42h2M48 43h6"/>
<path stroke="#78230c" d="M40 31h2M43 37h1M46 39h1M45 40h1M40 41h1"/>
<path stroke="#7e250d" d="M45 36h2M47 37h1M40 40h1"/>
<path stroke="#55180a" d="M43 38h1M45 38h1"/>
<path stroke="#4b1508" d="M44 38h1M44 39h1"/>
<path stroke="#501609" d="M42 39h1M42 40h2"/>
<path stroke="#461408" d="M43 39h1"/>
<path stroke="#e1b30e" d="M0 55h42M82 55h15"/>
<path stroke="#809521" d="M43 59h38"/>
<path stroke="#82961e" d="M0 61h44M80 61h17"/>
<path stroke="#739030" d="M44 61h5M0 65h55M73 65h24"/>
<path stroke="#708f33" d="M49 61h10M70 61h10M0 66h55M72 66h25M0 67h56M71 67h26"/>
<path stroke="#628a43" d="M60 62h2M68 62h1M51 63h2M74 63h2"/>
</g>
</g>
<path fill="none" stroke="#000" stroke-width="1.8" stroke-linejoin="miter" stroke-linecap="square" d="M3.5 12.1L73.3 12.1L87.2 25.8L108.2 25.8L115.1 32.7L122.1 32.7L129.1 25.8L198.9 25.8M177.9 25.8L171 32.7L177.9 39.6L226.8 39.6L219.8 39.6L212.8 46.4L205.9 46.4L198.9 53.3L171 53.3L164 60.2L164 67L164 67L164 73.9L171 73.9L164 80.8L164 87.6L171 94.5L164 101.4L171 108.2L171 128.8L177.9 135.7L177.9 142.6L184.9 149.4L184.9 163.1L191.9 170L191.9 176.9L212.8 197.5L240.7 197.5L247.7 190.6L254.7 190.6L254.7 204.3L261.7 211.2L324.5 211.2L338.4 197.5L345.4 197.5L352.4 190.6L366.4 190.6L380.3 176.9L380.3 170L373.3 163.1L380.3 156.3L380.3 149.4L373.3 142.6L359.4 142.6L352.4 135.7L345.4 142.6L324.5 142.6L317.5 149.4L310.5 149.4L303.5 142.6L303.5 135.7L296.6 128.8L289.6 135.7L289.6 128.8L296.6 122L275.6 101.4L261.7 101.4L254.7 94.5L247.7 94.5L247.7 80.8L254.7 73.9L254.7 67L268.7 67L282.6 53.3L303.5 53.3L310.5 46.4L317.5 46.4L324.5 39.6L338.4 39.6L359.4 19L380.3 19L387.3 12.1L443.1 12.1M3.5 25.8L24.4 25.8L31.4 32.7L31.4 39.6L24.4 46.4L17.4 46.4L10.5 53.3L3.5 53.3M443.1 25.8L436.1 19L387.3 19L380.3 25.8L387.3 32.7L401.2 32.7L408.2 39.6L394.3 39.6L373.3 60.2L380.3 67L387.3 67L394.3 60.2L408.2 60.2L415.2 53.3L422.2 53.3L429.2 46.4L436.1 46.4L443.1 53.3"/>
</g>
<rect x="0" y="0" width="446.6" height="223.0" fill="none" stroke="#000" stroke-width="2.8"/><path d="M-8 0H0" stroke="#000" stroke-width="1.8"/><path d="M-15.5 37.2H0" stroke="#000" stroke-width="2.4"/><path d="M-8 74.3H0" stroke="#000" stroke-width="1.8"/><path d="M-15.5 111.5H0" stroke="#000" stroke-width="2.4"/><path d="M-8 148.7H0" stroke="#000" stroke-width="1.8"/><path d="M-15.5 185.8H0" stroke="#000" stroke-width="2.4"/><path d="M-8 223H0" stroke="#000" stroke-width="1.8"/><path d="M0 223V230.5" stroke="#000" stroke-width="1.8"/><path d="M37.2 223V230.5" stroke="#000" stroke-width="1.8"/><path d="M74.4 223V237.5" stroke="#000" stroke-width="2.2"/><path d="M111.7 223V230.5" stroke="#000" stroke-width="1.8"/><path d="M148.9 223V230.5" stroke="#000" stroke-width="1.8"/><path d="M186.1 223V230.5" stroke="#000" stroke-width="1.8"/><path d="M223.3 223V237.5" stroke="#000" stroke-width="2.2"/><path d="M260.5 223V230.5" stroke="#000" stroke-width="1.8"/><path d="M297.7 223V230.5" stroke="#000" stroke-width="1.8"/><path d="M335 223V230.5" stroke="#000" stroke-width="1.8"/><path d="M372.2 223V237.5" stroke="#000" stroke-width="2.2"/><path d="M409.4 223V230.5" stroke="#000" stroke-width="1.8"/><path d="M446.6 223V230.5" stroke="#000" stroke-width="1.8"/>
</g>
<g transform="translate(542.2 68.4)">
<g clip-path="url(#cp)">
<g shape-rendering="crispEdges">
<g transform="translate(-2.326 0) scale(4.6521 3.0972)" fill="none" stroke-width="1.03">
<path stroke="#5b884a" d="M0 0h40M68 0h29M0 1h40M69 1h28M38 2h3M67 2h3M41 3h2M67 3h1M44 4h1M66 4h1M46 5h2M66 5h1M65 7h1M79 8h1M88 8h1M54 9h1M63 9h1M57 10h1M60 10h1M79 10h1M58 64h5M44 65h3M74 65h3M38 68h3M88 70h2M0 71h6M89 71h8M0 72h6M89 72h8"/>
<path stroke="#57874e" d="M40 0h5M64 0h4M40 1h3M66 1h3M41 2h2M66 2h1M43 3h1M66 3h1M45 4h1M48 5h1M50 6h1M65 6h1M52 7h1M53 8h1M64 8h1M80 8h1M89 9h1M58 10h2M88 10h1M47 65h3M71 65h3M78 66h3M41 68h1M88 71h1M88 72h1"/>
<path stroke="#548651" d="M45 0h2M61 0h3M43 1h2M64 1h2M43 2h2M65 2h1M44 3h2M65 3h1M46 4h1M65 4h1M49 5h1M65 5h1M51 6h1M87 8h1M55 9h1M79 9h1M50 65h4M67 65h4M43 66h2M76 66h2"/>
<path stroke="#508555" d="M47 0h3M59 0h2M45 1h2M62 1h2M45 2h1M64 2h1M46 3h1M64 3h1M47 4h1M64 7h1M81 8h1M62 9h1M88 9h1M80 10h1M54 65h13M45 66h3M73 66h3M79 67h2M7 69h17"/>
<path stroke="#4d8458" d="M50 0h9M47 1h2M61 1h1M46 2h2M63 2h1M47 3h1M48 4h1M64 4h1M50 5h1M64 5h1M52 6h1M64 6h1M53 7h1M54 8h1M63 8h1M82 8h1M86 8h1M87 10h1M48 66h2M71 66h2M43 67h1M77 67h2M24 69h6M85 69h2M6 70h6"/>
<path stroke="#49835c" d="M49 1h2M59 1h2M48 2h1M62 2h1M48 3h1M63 3h1M49 4h1M51 5h1M83 8h3M56 9h1M61 9h1M80 9h1M81 10h1M50 66h2M69 66h2M44 67h2M75 67h2M79 68h2M30 69h4M82 69h3M12 70h10M86 70h2"/>
<path stroke="#558496" d="M51 1h2M57 1h2M49 2h1M61 2h1M49 3h1M62 3h1M50 4h1M63 4h1M63 7h1M57 9h1M87 9h1M86 10h1M52 66h3M66 66h3M46 67h2M73 67h2M42 68h1M77 68h2M34 69h3M80 69h2M22 70h5M83 70h3M6 71h12M87 71h1M6 72h8"/>
<path stroke="#648ccc" d="M53 1h4M50 2h1M60 2h1M50 3h1M51 4h1M52 5h1M63 5h1M53 6h1M63 6h1M54 7h1M55 8h1M62 8h1M58 9h3M81 9h1M82 10h1M85 10h1M55 66h4M62 66h4M48 67h1M72 67h1M43 68h2M75 68h2M37 69h2M78 69h2M27 70h4M80 70h3M18 71h6M82 71h5M14 72h8M82 72h6"/>
<path stroke="#5e8947" d="M0 2h38M70 2h27M38 3h3M68 3h2M42 4h2M67 4h1M45 5h1M49 6h1M66 6h1M51 7h1M83 7h3M52 8h1M89 8h1M78 9h1M56 10h1M61 10h1M89 10h1M83 11h3M51 64h7M63 64h7M40 65h1M77 65h3M41 67h2M35 68h3M81 68h3M87 69h2M0 70h6M90 70h7"/>
<path stroke="#6491cb" d="M51 2h2M59 2h1M51 3h1M61 3h1M62 4h1M86 9h1M83 10h2M59 66h3M49 67h2M70 67h2M45 68h1M74 68h1M39 69h2M76 69h2M31 70h3M78 70h2M24 71h3M79 71h3M22 72h5M78 72h4"/>
<path stroke="#6496c9" d="M53 2h6M52 3h1M60 3h1M52 4h1M53 5h1M62 5h1M54 6h1M56 8h1M82 9h1M51 67h2M68 67h2M46 68h2M72 68h2M41 69h2M74 69h2M34 70h2M76 70h2M27 71h3M77 71h2M27 72h3M75 72h3"/>
<path stroke="#628a43" d="M0 3h38M70 3h27M39 4h3M68 4h2M43 5h2M67 5h1M47 6h2M50 7h1M66 7h1M81 7h2M86 7h1M65 8h1M78 8h1M53 9h1M64 9h1M90 9h1M62 10h1M78 10h1M82 11h1M86 11h1M45 64h6M70 64h6M37 65h3M38 67h3M81 67h2M31 68h4M84 68h4M0 69h7M89 69h8"/>
<path stroke="#649bc8" d="M53 3h1M59 3h1M53 4h1M61 4h1M62 6h1M55 7h1M62 7h1M61 8h1M83 9h3M53 67h2M66 67h2M48 68h2M71 68h1M43 69h2M73 69h1M36 70h3M74 70h2M30 71h3M75 71h2M30 72h3M72 72h3"/>
<path stroke="#649fc6" d="M54 3h2M58 3h1M54 4h1M54 5h1M55 67h11M50 68h1M69 68h2M45 69h2M71 69h2M39 70h2M73 70h1M33 71h2M73 71h2M33 72h3M70 72h2"/>
<path stroke="#64a3c3" d="M56 3h2M55 4h1M60 4h1M61 5h1M55 6h1M57 8h1M60 8h1M51 68h2M67 68h2M47 69h1M70 69h1M41 70h2M71 70h2M35 71h3M71 71h2M36 72h3M68 72h2"/>
<path stroke="#658b40" d="M0 4h39M70 4h27M41 5h2M68 5h2M46 6h1M67 6h1M49 7h1M80 7h1M87 7h2M51 8h1M90 8h1M77 9h1M55 10h1M81 11h1M58 63h5M39 64h3M43 64h2M76 64h4M40 66h3M34 67h4M83 67h3M14 68h17M88 68h9"/>
<path stroke="#64a8c0" d="M56 4h1M59 4h1M55 5h1M61 6h1M56 7h1M61 7h1M58 8h2M53 68h2M65 68h2M48 69h2M68 69h2M43 70h1M70 70h1M38 71h2M69 71h2M39 72h3M65 72h3"/>
<path stroke="#64acbe" d="M57 4h2M56 5h1M60 5h1M56 6h1M55 68h10M50 69h2M66 69h2M44 70h2M68 70h2M40 71h2M67 71h2M42 72h3M63 72h2"/>
<path stroke="#698c3c" d="M0 5h41M70 5h27M43 6h3M68 6h1M81 6h7M48 7h1M67 7h1M78 7h2M89 7h1M66 8h1M77 8h1M52 9h1M65 9h1M91 9h1M63 10h1M90 10h1M80 11h1M87 11h1M46 63h12M63 63h12M36 64h3M43 65h1M37 66h3M81 66h3M26 67h8M86 67h8M0 68h14"/>
<path stroke="#64b4b9" d="M57 5h2M57 6h1M58 7h2M54 69h10M48 70h3M64 70h2M44 71h3M63 71h3M49 72h10"/>
<path stroke="#64b0bc" d="M59 5h1M60 6h1M57 7h1M60 7h1M52 69h2M64 69h2M46 70h2M66 70h2M42 71h2M66 71h1M45 72h4M59 72h4"/>
<path stroke="#6e8e36" d="M0 6h37M73 6h1M93 6h4M42 7h4M69 7h2M74 7h3M92 7h2M49 8h1M68 8h1M75 8h1M92 8h1M51 9h1M66 9h1M75 9h1M92 9h1M53 10h1M64 10h1M91 10h1M57 11h1M60 11h2M79 11h1M36 62h46M42 64h1M30 65h7M82 65h9M0 66h30M91 66h6"/>
<path stroke="#6c8d39" d="M37 6h6M69 6h4M74 6h7M88 6h5M46 7h2M68 7h1M77 7h1M90 7h2M50 8h1M67 8h1M76 8h1M91 8h1M76 9h1M54 10h1M77 10h1M58 11h2M88 11h1M34 63h12M75 63h6M41 65h2M80 65h2M30 66h7M84 66h7M0 67h26M94 67h3"/>
<path stroke="#66b6ba" d="M58 6h2M51 70h3M61 70h3M47 71h3M61 71h2"/>
<path stroke="#708f33" d="M0 7h42M71 7h3M94 7h3M46 8h3M69 8h1M73 8h2M93 8h2M50 9h1M67 9h1M93 9h1M65 10h1M76 10h1M92 10h1M56 11h1M62 11h1M78 11h1M89 11h1M33 62h3M29 64h7M80 64h12M0 65h30M91 65h6"/>
<path stroke="#739030" d="M0 8h46M70 8h3M95 8h2M49 9h1M68 9h1M73 9h2M94 9h1M52 10h1M66 10h1M75 10h1M55 11h1M63 11h1M90 11h1M33 61h49M0 63h34M81 63h16M0 64h29M92 64h5"/>
<path stroke="#78922a" d="M0 9h42M49 10h2M68 10h2M72 10h2M94 10h2M52 11h2M65 11h1M76 11h1M92 11h1M58 12h3M81 12h6M33 60h49M0 61h33M82 61h15"/>
<path stroke="#76912d" d="M42 9h7M69 9h4M95 9h2M51 10h1M67 10h1M74 10h1M93 10h1M54 11h1M64 11h1M77 11h1M91 11h1M0 62h33M82 62h15"/>
<path stroke="#7a9327" d="M0 10h49M70 10h2M96 10h1M51 11h1M66 11h1M74 11h2M93 11h1M55 12h3M61 12h2M79 12h2M87 12h2"/>
<path stroke="#809521" d="M0 11h45M51 12h3M65 12h2M75 12h3M91 12h3"/>
<path stroke="#7d9424" d="M45 11h6M67 11h7M94 11h3M54 12h1M63 12h2M78 12h1M89 12h2M33 59h49M0 60h33M82 60h15"/>
<path stroke="#82961e" d="M0 12h51M67 12h8M94 12h3M0 59h33M82 59h15"/>
<path stroke="#8f9a1c" d="M0 13h55M64 13h18M87 13h10M0 58h33M82 58h15"/>
<path stroke="#88981d" d="M55 13h9M82 13h5M33 58h49"/>
<path stroke="#9c9e1a" d="M0 14h44M56 14h6M67 14h11M82 14h6M89 14h8M0 57h97"/>
<path stroke="#a2a019" d="M44 14h12M62 14h5M78 14h4M88 14h1"/>
<path stroke="#a9a218" d="M0 15h47M67 15h11M82 15h15"/>
<path stroke="#b0a417" d="M47 15h1M53 15h14M78 15h1M81 15h1M0 56h33M81 56h16"/>
<path stroke="#b6a616" d="M48 15h5M79 15h2M33 56h48"/>
<path stroke="#bca815" d="M0 16h48M66 16h11M82 16h15M0 55h33M81 55h16"/>
<path stroke="#c3aa14" d="M48 16h18M77 16h5"/>
<path stroke="#c8ac13" d="M0 17h47M66 17h10M82 17h15"/>
<path stroke="#d2ae11" d="M47 17h18M77 17h5M34 55h47"/>
<path stroke="#cdad12" d="M65 17h1M76 17h1M0 54h33M81 54h16M33 55h1"/>
<path stroke="#d7b010" d="M0 18h37M41 18h2M64 18h12M82 18h15"/>
<path stroke="#e1b30e" d="M37 18h4M43 18h3M63 18h1M80 18h1M0 53h34M65 53h1M81 53h16"/>
<path stroke="#e6b40d" d="M46 18h17M76 18h4M0 19h36M63 19h12M81 19h16M80 54h1"/>
<path stroke="#dcb20f" d="M81 18h1M33 54h1"/>
<path stroke="#f4b00c" d="M36 19h1M79 19h1M27 21h7M30 49h2M29 50h1M32 50h1M80 53h1"/>
<path stroke="#f3a70e" d="M37 19h1M40 19h4M61 19h1M76 19h1M78 19h1M28 22h1M32 22h2M29 23h1M31 23h1M29 24h1M30 25h1M30 48h1M29 49h1M0 50h28M62 50h10M81 50h16M62 52h1M35 53h21M73 53h7"/>
<path stroke="#f2a20f" d="M38 19h2M44 19h17M77 19h1M26 22h2M34 22h1M28 23h1M32 23h1M28 24h1M32 24h1M29 25h1M31 25h1M32 48h1M28 49h1M33 49h1M68 51h1M67 52h1"/>
<path stroke="#f4b40b" d="M62 19h1M75 19h1M30 50h2M0 51h30M32 51h2M63 51h4M81 51h16M66 52h1M63 53h1M66 53h1"/>
<path stroke="#f5b90a" d="M80 19h1M0 20h35M62 20h13M79 20h18M35 35h1M30 51h2"/>
<path stroke="#f29e10" d="M35 20h1M0 22h26M60 22h15M78 22h19M27 23h1M33 23h1M32 25h1M41 34h1M29 48h1M69 51h1M80 52h1"/>
<path stroke="#ef8615" d="M36 20h1M77 20h1M0 24h25M57 24h40M26 25h1M33 26h1M36 35h1M28 47h1M0 48h26M59 48h38M34 51h1M56 51h3"/>
<path stroke="#ed7a17" d="M37 20h4M43 20h2M35 21h1M75 21h1M0 25h25M56 25h41M26 26h1M29 27h3M35 34h1M34 36h1M29 46h1M32 46h1M0 47h26M59 47h38M58 50h2M73 50h1M49 51h4M76 51h4"/>
<path stroke="#ee8016" d="M41 20h2M45 20h16M76 20h1M25 25h1M27 26h1M30 46h2M26 47h2M60 49h1M73 49h1M60 50h1M53 51h3M73 51h3"/>
<path stroke="#f09013" d="M61 20h1M61 21h1M0 23h25M59 23h17M77 23h20M26 24h1M27 25h1M29 26h1M32 26h1M29 47h1M27 48h1M61 49h1M61 50h1M72 50h1M80 51h1M35 52h1M46 52h8M75 52h5"/>
<path stroke="#f19512" d="M75 20h1M25 23h1M34 24h1M33 25h1M30 26h2M34 35h1M32 47h1M28 48h1M0 49h26M62 49h11M80 49h17M61 51h1M71 51h1M54 52h4M72 52h3"/>
<path stroke="#f29a11" d="M78 20h1M26 23h1M34 23h1M27 24h1M33 24h1M28 25h1M41 33h1M35 36h1M30 47h2M33 48h1M26 49h2M70 51h1M34 52h1M58 52h4M68 52h4"/>
<path stroke="#f4ac0d" d="M0 21h27M34 21h1M62 21h13M78 21h19M29 22h3M30 23h1M30 24h2M31 48h1M32 49h1M28 50h1M33 50h1M62 51h1M67 51h1M34 53h1M56 53h7M67 53h6"/>
<path stroke="#e85c1c" d="M36 21h23M76 22h1M35 23h1M56 24h1M52 26h1M51 27h1M25 28h3M33 28h1M34 34h1M34 49h1M56 49h2M36 50h4"/>
<path stroke="#e9621b" d="M59 21h1M76 21h1M35 22h1M58 23h1M55 25h1M53 26h1M0 27h25M52 27h45M28 28h5M40 33h1M40 35h1M0 45h30M32 45h2M60 45h37M58 49h1M35 50h1M40 50h10"/>
<path stroke="#ec7418" d="M60 21h1M77 21h1M75 22h1M77 22h1M76 23h1M25 26h1M28 27h1M32 27h1M28 46h1M74 49h1M79 49h1M34 50h1M56 50h2M35 51h14"/>
<path stroke="#e04d1c" d="M36 22h1M48 22h10M55 24h1M50 25h1M50 26h1M56 31h33M0 32h33M42 32h1M51 32h11M83 32h14M0 33h33M0 38h33M0 39h33M96 39h1M0 40h33M90 40h7M0 41h33M58 41h5M82 41h15M58 42h35M59 46h1M34 48h1M57 48h1"/>
<path stroke="#dd4c1b" d="M37 22h11M51 23h3M56 23h1M50 24h5M35 25h1M49 25h1M34 26h1M62 32h21M51 33h15M79 33h18M0 34h33M51 34h6M88 34h9M0 35h33M51 35h5M89 35h8M0 36h33M52 36h5M88 36h9M0 37h33M53 37h6M86 37h11M56 38h5M84 38h13M56 39h10M79 39h17M57 40h33M63 41h19M53 48h4"/>
<path stroke="#e34e1d" d="M58 22h1M51 25h3M0 30h33M51 30h46M0 31h33M51 31h5M89 31h8M41 32h1M36 34h1M33 35h1M0 42h33M93 42h4M59 43h32M33 46h1M35 49h15"/>
<path stroke="#ea681a" d="M59 22h1M25 27h2M36 36h1M30 45h2M75 49h4M50 50h4M77 50h2"/>
<path stroke="#d74819" d="M36 23h1M43 23h5M47 24h2M48 25h1M48 26h1M33 34h1M39 34h1M71 34h3M66 35h13M67 36h11M35 37h1M72 37h1M39 48h3"/>
<path stroke="#d44718" d="M37 23h6M36 24h1M46 24h1M47 25h1M49 27h1M50 28h1M39 35h1M59 44h1M59 45h1M34 47h1M54 47h4"/>
<path stroke="#da4a1a" d="M48 23h3M54 23h2M49 24h1M49 26h1M50 27h1M66 33h13M57 34h14M74 34h14M56 35h10M79 35h10M33 36h1M57 36h10M78 36h10M59 37h13M73 37h13M61 38h23M66 39h13M58 47h1M35 48h4M42 48h11"/>
<path stroke="#e6501e" d="M57 23h1M54 25h1M51 26h1M0 29h30M31 29h3M51 29h46M42 34h1M41 35h1M0 43h34M91 43h6M58 48h1M50 49h4"/>
<path stroke="#f08c14" d="M25 24h1M35 24h1M34 25h1M28 26h1M40 34h1M26 48h1M80 50h1M59 51h2M72 51h1M36 52h10"/>
<path stroke="#ce4416" d="M37 24h4M44 25h2M46 26h1M34 27h1M34 46h1M58 46h1"/>
<path stroke="#d14617" d="M41 24h5M46 25h1M47 26h1M48 27h1M37 35h1M34 37h1M35 47h19"/>
<path stroke="#cb4215" d="M36 25h8M35 26h1M45 26h1M47 27h1M49 28h1M50 29h1M43 32h1M43 33h1M33 37h1M36 37h1M55 38h1M57 41h1M58 43h1M51 46h7"/>
<path stroke="#eb6e19" d="M0 26h25M54 26h43M27 27h1M33 27h1M42 33h1M0 46h28M60 46h37M59 49h1M54 50h2M74 50h3M79 50h1"/>
<path stroke="#c33f14" d="M36 26h6M44 27h2M34 28h1M47 28h1M42 31h1M50 31h1M37 34h1M42 35h1M58 45h1"/>
<path stroke="#c84114" d="M42 26h3M46 27h1M48 28h1M33 30h1M50 30h1M33 33h3M37 36h1M40 36h1M56 40h1M34 45h1M35 46h16"/>
<path stroke="#b93b12" d="M35 27h1M40 27h2M43 28h2M47 29h2M49 30h1M33 31h1M43 31h1M43 34h1M50 34h1M41 36h1M33 38h1M57 43h1M54 44h4M37 45h6"/>
<path stroke="#b43912" d="M36 27h4M42 28h1M44 29h3M46 30h3M44 31h1M49 31h1M44 32h1M36 33h1M38 34h1M38 36h1M53 38h1M56 41h1M33 42h1M55 43h2M47 44h7"/>
<path stroke="#be3d13" d="M42 27h2M45 28h2M49 29h1M33 32h1M40 32h1M50 32h1M39 33h1M50 33h1M38 35h1M39 36h1M51 36h1M52 37h1M54 38h1M55 39h1M57 42h1M34 44h1M58 44h1M35 45h2M43 45h15"/>
<path stroke="#e7561d" d="M0 28h25M51 28h46M30 29h1M0 44h34M60 44h37M33 47h1M54 49h2"/>
<path stroke="#aa3511" d="M35 28h1M34 29h1M42 29h1M42 30h1M46 32h1M45 33h4M49 34h1M51 37h1M34 38h1M52 38h1M33 39h1M53 39h2M54 40h1M53 41h3M51 42h3M34 43h1M46 43h4M36 44h6"/>
<path stroke="#a03110" d="M36 28h1M39 28h1M37 33h1M46 35h3M49 36h1M38 37h3M50 37h1M50 38h2M50 39h2M50 40h2M48 41h3M46 42h2M43 43h1"/>
<path stroke="#9b2f10" d="M37 28h2M41 29h1M34 30h1M34 31h1M35 32h1M38 33h1M44 35h2M43 36h1M46 36h3M41 37h1M48 37h2M36 38h1M49 38h1M49 39h1M33 40h1M48 40h2M33 41h1M47 41h1M45 42h1M42 43h1"/>
<path stroke="#a53310" d="M40 28h1M34 32h1M44 34h5M43 35h1M49 35h1M42 36h1M50 36h1M35 38h1M52 39h1M52 40h2M51 41h2M48 42h3M44 43h2"/>
<path stroke="#af3712" d="M41 28h1M43 29h1M43 30h3M41 31h1M45 31h4M45 32h1M47 32h3M44 33h1M49 33h1M50 35h1M37 37h1M55 40h1M54 42h3M50 43h5M35 44h1M42 44h5"/>
<path stroke="#902b0e" d="M35 29h1M40 29h1M39 32h1M43 37h3M37 38h1M44 38h3M34 39h1M45 39h2M45 40h1M45 41h1M43 42h1M36 43h1M40 43h1"/>
<path stroke="#7e250d" d="M36 29h1M39 29h1M35 30h1M40 30h1M35 39h1M42 39h1M43 40h1"/>
<path stroke="#78230c" d="M37 29h1M37 32h2M36 39h1M41 39h1M34 40h1M41 42h1"/>
<path stroke="#72210c" d="M38 29h1M40 39h1M42 40h1M34 41h1M42 41h1M35 42h1"/>
<path stroke="#661d0b" d="M36 30h1M39 30h1M39 31h1M35 40h1M41 40h1M41 41h1M36 42h1M39 42h1"/>
<path stroke="#5a190a" d="M37 30h2M37 31h2M40 40h1M35 41h1"/>
<path stroke="#962d0f" d="M41 30h1M44 36h2M42 37h1M46 37h2M47 38h2M47 39h2M46 40h2M46 41h1M44 42h1M35 43h1M41 43h1"/>
<path stroke="#84270e" d="M35 31h1M43 39h1M43 41h1M42 42h1"/>
<path stroke="#6c1f0c" d="M36 31h1M37 39h3M40 42h1"/>
<path stroke="#8a290e" d="M40 31h1M36 32h1M38 38h6M44 39h1M44 40h1M44 41h1M34 42h1M37 43h3"/>
<path stroke="#55180a" d="M36 40h1M40 41h1"/>
<path stroke="#501609" d="M37 40h1M39 40h1M36 41h1"/>
<path stroke="#4b1508" d="M38 40h1M39 41h1"/>
<path stroke="#461408" d="M37 41h2"/>
<path stroke="#601b0a" d="M37 42h2"/>
<path stroke="#f0b80b" d="M0 52h30M33 52h1M63 52h3M81 52h16M64 53h1M35 54h20M74 54h5"/>
<path stroke="#ebb60c" d="M30 52h3M34 54h1M55 54h19M79 54h1"/>
<path stroke="#69b8ba" d="M54 70h7M50 71h11"/>
</g>
</g>
<path fill="none" stroke="#000" stroke-width="1.8" stroke-linejoin="miter" stroke-linecap="square" d="M101.2 5.2L108.2 12.1L136.1 12.1L129.1 19L136.1 25.8L150 25.8L157 19L184.9 19L191.9 25.8L184.9 32.7L198.9 46.4L219.8 46.4L219.8 53.3L198.9 53.3L191.9 60.2L184.9 53.3L171 53.3L157 67L164 73.9L157 80.8L157 87.6L150 94.5L150 128.8L157 135.7L150 142.6L157 149.4L157 163.1L150 170L150 190.6L157 197.5L164 197.5L171 204.3L184.9 204.3L191.9 197.5L198.9 197.5L205.9 204.3L198.9 204.3L191.9 211.2L31.4 211.2L24.4 218.1M191.9 25.8L198.9 25.8L205.9 32.7L212.8 32.7M261.7 5.2L261.7 12.1L310.5 12.1L317.5 19L317.5 25.8L310.5 32.7L310.5 46.4L303.5 53.3L296.6 53.3L282.6 67L275.6 67L268.7 73.9L261.7 73.9L254.7 80.8L240.7 80.8L233.8 87.6L233.8 108.2L240.7 115.1L254.7 115.1L275.6 135.7L275.6 142.6L268.7 149.4L282.6 149.4L289.6 156.3L289.6 163.1L296.6 163.1L303.5 170L303.5 163.1L310.5 156.3L331.5 156.3L338.4 149.4L366.4 149.4L373.3 156.3L373.3 170L380.3 176.9L380.3 190.6L373.3 197.5L366.4 197.5L373.3 204.3L373.3 211.2L401.2 211.2L408.2 218.1M324.5 32.7L331.5 25.8L352.4 25.8L359.4 19L436.1 19L443.1 25.8L436.1 32.7L422.2 32.7L422.2 39.6L415.2 46.4L401.2 46.4L394.3 39.6L387.3 39.6L380.3 46.4L380.3 53.3L373.3 60.2L366.4 60.2L352.4 73.9L345.4 67L345.4 60.2L359.4 46.4L359.4 39.6L331.5 39.6L324.5 32.7"/>
</g>
<rect x="0" y="0" width="446.6" height="223.0" fill="none" stroke="#000" stroke-width="2.8"/><path d="M-8 0H0" stroke="#000" stroke-width="1.8"/><path d="M-15.5 37.2H0" stroke="#000" stroke-width="2.4"/><path d="M-8 74.3H0" stroke="#000" stroke-width="1.8"/><path d="M-15.5 111.5H0" stroke="#000" stroke-width="2.4"/><path d="M-8 148.7H0" stroke="#000" stroke-width="1.8"/><path d="M-15.5 185.8H0" stroke="#000" stroke-width="2.4"/><path d="M-8 223H0" stroke="#000" stroke-width="1.8"/><path d="M0 223V230.5" stroke="#000" stroke-width="1.8"/><path d="M37.2 223V230.5" stroke="#000" stroke-width="1.8"/><path d="M74.4 223V237.5" stroke="#000" stroke-width="2.2"/><path d="M111.7 223V230.5" stroke="#000" stroke-width="1.8"/><path d="M148.9 223V230.5" stroke="#000" stroke-width="1.8"/><path d="M186.1 223V230.5" stroke="#000" stroke-width="1.8"/><path d="M223.3 223V237.5" stroke="#000" stroke-width="2.2"/><path d="M260.5 223V230.5" stroke="#000" stroke-width="1.8"/><path d="M297.7 223V230.5" stroke="#000" stroke-width="1.8"/><path d="M335 223V230.5" stroke="#000" stroke-width="1.8"/><path d="M372.2 223V237.5" stroke="#000" stroke-width="2.2"/><path d="M409.4 223V230.5" stroke="#000" stroke-width="1.8"/><path d="M446.6 223V230.5" stroke="#000" stroke-width="1.8"/>
</g>
<g transform="translate(1013.6 68.4)">
<g clip-path="url(#cp)">
<rect width="446.6" height="223.0" fill="#bebebe"/>
<g shape-rendering="crispEdges">
<g transform="translate(-2.326 0) scale(4.6521 3.0972)" fill="none" stroke-width="1.03">
<path stroke="#bfbfff" d="M15 3h1M19 3h1M66 3h1M71 3h1M73 3h1M21 4h1M24 4h1M59 4h1M62 4h1M75 4h1M19 5h1M21 5h1M14 7h1M20 7h1M55 7h1M57 7h1M52 8h2M16 9h3M20 9h1M85 9h1M89 9h1M92 9h1M18 10h1M28 10h1M84 10h1M32 11h1M87 11h2M27 12h1M29 12h1M33 12h2M88 12h1M94 12h1M84 14h2M51 15h1M32 16h2M80 17h1M85 17h1M52 19h1M82 19h1M81 20h1M56 21h1M81 21h1M63 22h1M46 23h1M66 23h1M69 23h1M72 23h2M72 24h1M45 25h1M73 26h1M73 27h1M78 27h2M73 28h2M76 28h1"/>
<path stroke="#cfcfff" d="M16 3h1M64 3h1M68 3h1M19 4h2M51 4h1M20 5h1M22 5h1M58 5h2M53 6h1M24 7h1M87 7h1M89 7h2M16 8h4M22 8h1M27 8h1M88 8h1M90 8h1M12 9h2M15 9h1M22 9h1M26 9h3M91 9h1M16 10h1M20 10h1M27 10h1M90 10h1M94 10h1M12 11h1M15 11h1M90 11h1M92 11h1M94 11h1M89 12h1M21 13h2M32 13h1M29 14h1M48 14h1M22 15h1M30 15h2M90 15h1M85 16h2M55 21h1M62 22h1M64 23h1M46 24h1M64 24h1M80 26h1M80 27h1M49 28h1M75 28h1M74 31h2M31 32h1M76 32h1M80 32h1M75 33h1M80 33h1"/>
<path stroke="#dfdfff" d="M17 3h2M62 3h1M72 3h1M52 4h1M55 6h1M89 8h1M94 8h1M1 9h1M25 9h1M10 10h1M24 10h1M87 10h2M91 10h1M10 11h1M14 11h1M24 11h1M27 11h1M3 12h2M11 12h1M19 12h1M21 12h1M6 13h1M12 13h1M29 13h1M28 14h1M30 14h1M47 14h1M90 14h1M48 15h1M24 16h1M28 16h1M30 16h1M24 17h1M26 17h1M28 17h1M23 18h1M46 22h1M27 23h1M48 23h1M83 23h1M46 25h1M49 25h1M72 25h1M44 26h1M46 26h1M49 26h1M64 26h1M47 27h3M63 27h1M50 28h1M44 29h1M73 29h2M45 30h1M74 32h1M75 34h2M76 35h2M79 35h1M77 38h1M95 55h1M95 56h1"/>
<path stroke="#a7a7ff" d="M20 3h2M24 3h2M27 3h2M34 3h1M25 4h2M67 4h1M18 5h1M25 5h2M32 5h1M77 5h1M20 6h1M26 6h1M31 6h1M71 6h1M15 7h1M17 7h1M25 7h2M32 7h1M72 7h1M23 8h1M28 8h1M33 8h1M58 8h1M23 9h1M30 9h1M54 9h1M58 9h1M33 10h1M58 10h1M71 10h2M75 10h2M35 11h1M74 11h2M84 11h1M28 12h1M84 12h1M49 13h2M71 13h1M80 13h1M84 13h1M72 14h1M52 15h1M83 15h1M79 16h1M81 16h1M52 18h1M83 18h1M53 19h1M80 19h1M61 21h1M80 21h1M69 22h2M71 23h1M74 23h3M81 23h1M74 24h1M78 24h2M73 25h1M74 26h1M77 28h1"/>
<path stroke="#9f9fff" d="M22 3h1M29 3h1M35 3h1M42 3h1M15 4h1M35 4h1M71 4h1M23 5h2M27 5h1M60 5h1M72 5h2M15 6h1M18 6h1M23 6h1M25 6h1M72 6h2M16 7h1M36 7h1M58 7h2M73 7h1M82 7h1M85 7h1M29 8h1M36 8h2M57 8h1M59 8h1M78 8h1M85 8h1M29 9h1M52 9h2M63 9h1M75 9h2M34 10h1M36 10h1M64 10h1M77 10h1M36 12h1M75 12h1M77 12h1M51 13h1M78 13h1M82 13h1M71 14h1M73 14h1M82 17h1M82 18h1M84 18h1M55 20h2M80 20h1M76 21h2M73 22h1M80 22h1M77 23h1M75 24h1M79 25h1"/>
<path stroke="#b7b7ff" d="M23 3h1M26 3h1M33 3h1M23 4h1M60 4h1M63 4h1M68 4h1M74 4h1M17 5h1M61 5h1M70 5h1M19 6h1M54 6h1M70 6h1M18 7h1M23 7h1M27 7h2M56 7h1M86 7h1M14 8h1M25 8h2M54 8h1M91 8h1M24 9h1M79 9h1M15 10h1M30 10h1M29 11h2M34 11h1M85 11h1M93 11h1M35 12h1M87 12h1M20 13h1M21 14h1M32 14h1M50 14h1M84 15h1M81 18h1M81 19h1M58 21h3M81 22h1M65 23h1M80 25h1M74 27h2M77 27h1M78 28h1M74 30h2M77 30h1"/>
<path stroke="#7070ff" d="M30 3h1M39 3h1M39 4h1M36 5h1M36 6h1M76 6h1M64 7h1M66 7h1M41 8h1M60 8h1M69 8h1M60 9h1M52 10h3M60 10h1M56 11h1M69 11h1M81 11h2M54 12h1M81 12h1M69 13h1M53 14h1M64 14h1M69 14h1M78 14h1M66 15h2M77 15h1M74 16h1M54 17h1M65 18h1M64 19h2M67 19h1M58 20h1M76 20h1M66 21h2"/>
<path stroke="#8f8fff" d="M31 3h1M37 3h1M72 4h1M16 5h1M30 5h2M33 5h1M35 5h1M64 5h1M69 5h1M76 5h1M16 6h1M29 6h1M32 6h1M61 6h1M63 6h1M74 6h1M31 7h1M35 7h1M63 7h1M77 7h1M79 7h2M35 8h1M62 8h1M64 8h1M73 8h1M76 8h1M56 9h1M68 9h1M70 9h1M80 9h1M37 10h1M42 10h1M57 10h1M61 10h1M70 10h1M78 10h2M36 11h1M77 11h1M80 11h1M51 12h1M70 12h1M74 12h1M79 12h1M86 12h1M52 14h1M74 14h1M82 14h1M72 15h1M81 15h2M54 19h2M62 21h1M71 21h1M75 21h1M79 21h1M75 22h1M79 22h1M77 24h1M78 26h1"/>
<path stroke="#9797ff" d="M32 3h1M41 3h1M27 4h2M32 4h3M76 4h2M62 5h1M65 5h1M74 5h2M17 6h1M24 6h1M30 6h1M34 6h2M75 6h1M21 7h1M30 7h1M33 7h1M61 7h1M74 7h2M31 8h2M34 8h1M61 8h1M80 8h1M84 8h1M35 9h1M55 9h1M57 9h1M61 9h2M65 9h2M71 9h2M77 9h1M43 10h1M74 10h1M83 10h1M37 11h1M65 11h1M49 12h2M71 12h1M85 12h1M70 13h1M75 14h1M79 15h2M78 19h2M63 21h1M69 21h1M78 21h1M67 22h2M76 22h1M78 23h2M76 26h1"/>
<path stroke="#8787ff" d="M36 3h1M38 3h1M30 4h1M42 4h2M73 4h1M34 5h1M43 5h1M67 5h1M78 5h1M33 6h1M60 6h1M62 6h1M65 6h1M78 6h1M62 7h1M65 7h1M76 7h1M84 7h1M55 8h2M63 8h1M65 8h1M67 8h1M81 8h1M78 9h1M62 10h1M65 10h1M68 10h1M51 11h1M58 11h1M70 11h2M78 11h2M69 12h1M76 12h1M78 12h1M80 12h1M82 12h1M75 13h3M79 13h1M81 13h1M83 13h1M51 14h1M77 14h1M74 15h2M78 15h1M78 16h1M83 16h1M66 18h1M79 20h1M70 21h1M71 22h2M78 22h1M74 25h1M75 26h1M77 26h1M31 33h1"/>
<path stroke="#8080ff" d="M40 3h1M41 4h1M66 4h1M63 5h1M68 5h1M67 6h1M29 7h1M70 7h1M30 8h1M66 8h1M71 8h1M75 8h1M82 8h1M36 9h1M39 9h2M67 9h1M74 9h1M35 10h1M44 10h1M51 10h1M63 10h1M66 10h1M69 10h1M73 10h1M80 10h2M50 11h1M57 11h1M64 11h1M66 11h2M72 11h1M64 12h1M73 12h1M83 12h1M72 13h1M70 14h1M79 14h2M80 16h1M78 17h1M70 20h1M64 21h1M66 22h1M74 22h1M76 25h1M78 25h1"/>
<path stroke="#f7f7ff" d="M54 3h1M53 4h1M55 4h1M57 5h1M87 6h1M3 8h1M10 8h1M95 8h2M7 9h1M9 9h2M87 9h1M95 9h1M3 10h2M96 10h1M2 11h2M7 11h1M22 11h2M25 11h1M17 13h1M25 13h1M16 14h1M15 15h1M17 15h2M20 15h1M24 15h2M28 15h1M46 15h1M26 16h1M21 17h1M50 17h1M29 18h2M51 18h1M49 19h1M24 20h1M46 21h1M50 21h1M54 21h1M51 22h1M22 23h1M61 23h1M63 23h1M50 24h1M61 24h1M66 24h1M45 26h1M71 26h1M61 27h1M46 28h1M63 29h1M80 29h1M54 30h1M57 30h1M47 31h1M81 31h1M31 35h1M77 36h1M84 36h1M76 37h1M81 37h1M76 38h1M78 38h1M81 38h1M77 39h1M92 44h1M94 48h2M94 49h1M96 52h1M93 53h1M95 53h1M2 54h1M94 54h1M66 55h1M93 55h1M92 56h2M67 57h2M94 57h1M16 66h1M41 66h1M0 67h1M34 68h1M7 71h1M19 71h1"/>
<path stroke="#ffffff" d="M55 3h1M54 4h1M56 5h1M7 8h1M6 9h1M11 9h1M2 10h1M7 10h1M11 10h1M1 11h1M8 11h2M9 12h1M18 12h1M25 14h2M27 15h1M21 16h1M48 16h2M20 17h1M49 17h1M51 17h1M22 18h1M26 18h1M31 18h1M28 19h1M20 21h2M27 21h1M48 21h1M21 22h1M24 22h1M27 22h2M48 22h1M85 22h1M24 23h1M52 23h1M59 23h1M52 24h1M60 24h1M18 25h1M58 25h1M60 25h1M66 25h1M70 25h1M57 27h1M62 27h1M44 28h1M47 28h1M56 28h2M62 28h1M22 29h1M57 29h1M61 29h2M49 30h1M48 32h1M32 33h1M81 33h1M47 34h1M79 36h1M81 36h1M79 37h1M82 37h1M80 38h1M29 41h1M91 48h1M96 49h1M95 51h1M94 52h1M0 53h2M93 54h1M67 55h1M68 58h1M31 62h1M23 65h1M7 66h1M30 66h1M40 66h1M2 67h1M32 68h1M8 70h1M33 70h1M23 71h1M35 71h1M2 72h1M24 72h1"/>
<path stroke="#ffefef" d="M56 3h1M56 4h1M0 8h1M4 8h1M96 9h1M18 14h1M14 16h2M48 17h1M27 18h1M50 18h1M20 19h1M26 19h1M29 19h1M48 19h1M22 20h1M25 20h1M27 20h1M47 20h2M86 20h1M18 21h1M28 21h1M85 21h2M23 22h1M50 22h1M84 22h1M21 23h1M26 23h1M60 23h1M23 24h1M53 24h1M51 25h1M51 26h2M57 26h1M60 26h1M65 26h1M51 27h1M58 27h1M71 27h1M61 28h1M58 30h1M49 31h1M51 31h1M54 31h1M58 31h1M55 32h1M55 33h2M30 34h1M46 34h1M57 34h1M59 34h2M30 35h1M32 35h1M78 35h1M27 37h4M84 38h2M28 40h1M28 41h1M36 41h1M61 41h1M29 43h1M92 45h1M92 46h1M96 50h1M93 51h1M32 52h1M30 63h1M46 64h1M12 65h1M15 65h2M22 65h1M26 65h2M42 65h1M17 66h1M19 66h2M28 66h1M32 66h1M46 66h1M4 67h1M7 67h1M29 67h1M33 67h1M40 67h1M42 67h1M45 67h1M29 68h1M41 68h1M35 69h2M0 70h1M35 70h1M42 70h1M5 71h2M21 71h1M24 71h1M34 71h1M23 72h1M29 72h1M44 72h1"/>
<path stroke="#fff7f7" d="M57 3h1M57 4h1M54 5h1M5 8h2M8 8h2M3 9h3M6 10h1M8 10h1M4 11h1M0 12h2M8 12h1M18 13h1M5 14h1M24 14h1M27 14h1M16 15h1M26 15h1M49 15h1M46 16h2M20 18h1M48 18h2M22 19h2M25 19h1M27 19h1M47 19h1M50 19h2M28 20h1M46 20h1M50 20h1M85 20h1M22 21h1M24 21h1M47 21h1M20 22h1M22 22h1M25 22h2M55 22h1M54 23h1M58 23h1M26 24h1M59 25h1M69 25h1M18 26h1M58 26h1M53 27h1M51 28h1M56 29h1M23 30h1M44 30h1M44 31h1M46 32h2M49 32h1M58 32h1M46 33h1M54 33h1M59 33h1M31 34h1M29 35h1M28 36h1M83 37h1M87 37h1M26 38h1M79 38h1M76 39h1M78 39h1M29 40h1M28 42h1M93 48h1M95 49h1M94 51h1M93 52h1M2 53h1M92 55h1M94 55h1M28 56h1M67 56h1M94 56h1M92 57h1M32 61h1M21 65h1M24 65h2M28 65h1M8 66h1M14 66h1M6 67h1M14 67h2M17 67h1M32 67h1M44 67h1M46 67h1M23 68h1M33 68h1M35 68h1M46 68h1M9 69h1M19 69h1M34 69h1M4 70h1M7 70h1M39 70h1M22 71h1M45 72h2"/>
<path stroke="#e7e7ff" d="M58 3h2M61 3h1M70 3h1M55 5h1M52 6h1M11 8h2M0 9h1M88 9h1M9 10h1M26 10h1M86 10h1M5 11h1M21 11h1M26 11h1M7 12h1M12 12h1M22 12h1M24 12h1M14 13h1M19 13h1M24 13h1M13 14h2M46 14h1M91 14h1M29 15h1M45 15h1M22 16h2M22 17h1M34 17h1M47 17h1M86 17h1M24 18h2M21 19h1M46 19h1M86 19h1M82 20h1M82 21h1M47 22h1M59 22h1M61 22h1M47 23h1M47 24h1M63 24h1M65 24h1M67 24h1M69 24h1M62 25h2M47 26h1M50 26h1M62 26h1M44 27h1M45 28h1M45 29h2M49 29h1M80 30h1M79 34h1M80 35h1M78 36h1M75 37h1M96 48h1M95 52h1M92 53h1M95 54h1M96 56h1M66 57h1"/>
<path stroke="#c7c7ff" d="M60 3h1M63 3h1M67 3h1M22 4h1M61 4h1M70 4h1M56 6h1M86 6h1M54 7h1M88 7h1M15 8h1M93 8h1M21 9h1M31 9h1M90 9h1M13 10h1M17 10h1M23 10h1M25 10h1M29 10h1M85 10h1M89 10h1M92 10h2M11 11h1M20 11h1M28 11h1M86 11h1M89 11h1M95 11h1M23 12h1M30 12h1M91 12h1M93 12h1M27 13h1M47 13h2M91 13h1M22 14h1M31 14h1M85 15h2M52 17h1M79 17h1M83 17h2M86 18h1M54 20h1M57 21h1M82 22h1M68 23h1M70 24h1M72 26h1M75 29h1M76 31h1M77 32h1M81 32h1M74 33h1M76 33h1M74 36h1M74 37h1"/>
<path stroke="#efefff" d="M65 3h1M58 4h1M53 5h1M2 8h1M87 8h1M2 9h1M86 9h1M0 10h1M5 10h1M95 10h1M6 11h1M13 11h1M16 11h1M2 12h1M5 12h1M13 12h4M47 12h1M13 13h1M16 13h1M26 13h1M20 14h1M14 15h1M19 15h1M23 15h1M20 16h1M27 16h1M29 16h1M50 16h2M23 17h1M25 17h1M27 17h1M29 17h3M33 17h1M21 18h1M28 18h1M21 20h1M51 20h2M25 21h1M60 22h1M50 23h1M62 23h1M22 24h1M48 24h1M62 24h1M61 25h1M64 25h2M71 25h1M45 27h2M64 27h1M48 28h1M63 28h1M48 29h1M81 29h1M46 30h3M79 33h1M78 34h1M80 34h2M75 35h1M75 36h2M80 36h1M82 36h1M78 37h1M80 37h1M75 38h1M93 50h3M94 53h1M96 53h1M0 54h2M92 54h1M96 54h1M95 57h2M0 72h2M21 72h2"/>
<path stroke="#d7d7ff" d="M69 3h1M74 3h1M18 4h1M52 5h1M57 6h1M19 7h1M13 8h1M20 8h2M86 8h1M92 8h1M94 9h1M12 10h1M19 10h1M21 10h2M31 10h1M17 11h3M6 12h1M10 12h1M17 12h1M20 12h1M31 12h1M15 13h1M23 13h1M28 13h1M30 13h2M46 13h1M90 13h1M15 14h1M19 14h1M23 14h1M21 15h1M33 15h1M47 15h1M50 15h1M25 16h1M31 16h1M24 19h1M83 19h1M53 20h1M49 22h1M64 22h1M83 22h1M49 23h1M49 24h1M71 24h1M73 24h1M47 25h2M50 25h1M48 26h1M61 26h1M63 26h1M50 27h1M72 27h1M47 29h1M77 31h2M75 32h1M30 33h1M74 34h1M74 35h1M77 37h1M29 42h1M96 55h1"/>
<path stroke="#afafff" d="M16 4h2M64 4h2M69 4h1M15 5h1M28 5h1M71 5h1M21 6h2M27 6h2M58 6h2M22 7h1M78 7h1M24 8h1M77 8h1M79 8h1M14 9h1M19 9h1M32 9h1M84 9h1M93 9h1M14 10h1M32 10h1M31 11h1M33 11h1M76 11h1M91 11h1M32 12h1M92 12h1M85 13h1M83 14h1M32 15h1M52 16h1M82 16h1M84 16h1M81 17h1M78 18h3M65 22h1M77 22h1M67 23h1M70 23h1M80 23h1M82 23h1M45 24h1M80 24h2M79 26h1M76 27h1M76 29h2M76 30h1"/>
<path stroke="#5858ff" d="M29 4h1M40 4h1M37 5h1M37 6h1M38 8h2M55 10h1M59 12h1M53 13h1M61 13h1M68 13h1M54 14h1M63 14h1M53 15h1M69 15h1M67 16h1M69 16h1M73 16h1M76 17h1M77 19h1M64 20h1M66 20h1"/>
<path stroke="#7878ff" d="M31 4h1M36 4h1M38 4h1M41 5h1M64 6h1M66 6h1M69 6h1M77 6h1M34 7h1M60 7h1M67 7h3M71 7h1M81 7h1M68 8h1M70 8h1M72 8h1M74 8h1M33 9h1M38 9h1M59 9h1M64 9h1M69 9h1M73 9h1M81 9h3M67 10h1M62 11h1M68 11h1M73 11h1M83 11h1M52 12h1M62 12h2M72 12h1M54 13h1M64 13h1M73 13h1M68 14h1M76 14h1M81 14h1M71 15h1M73 15h1M65 16h2M53 17h1M77 17h1M53 18h2M67 18h1M77 18h1M66 19h1M57 20h1M59 20h1M61 20h1M63 20h1M77 20h2M65 21h1M68 21h1M72 21h1M74 21h1M76 24h1"/>
<path stroke="#6868ff" d="M37 4h1M29 5h1M66 5h1M42 6h1M68 6h1M37 7h1M42 8h1M83 8h1M34 9h1M37 9h1M38 10h1M59 10h1M82 10h1M52 11h1M54 11h2M59 11h1M61 11h1M63 11h1M57 12h1M61 12h1M65 12h1M67 12h1M52 13h1M67 13h1M74 13h1M68 15h1M76 15h1M69 17h1M68 20h1M72 20h1M75 20h1M73 21h1M75 25h1M77 25h1"/>
<path stroke="#3838ff" d="M38 5h1M41 6h1M38 7h1M40 7h2M58 12h1M60 14h1M56 15h1M61 15h1M73 17h1M63 18h1M76 18h1M73 20h1"/>
<path stroke="#4040ff" d="M39 5h1M60 12h1M57 13h1M62 14h1M65 14h2M55 16h1M64 16h1M70 16h1M55 17h1M62 18h1M71 18h1M57 19h1M70 19h1M72 19h1"/>
<path stroke="#5050ff" d="M40 5h1M66 12h1M55 13h2M59 13h1M65 13h2M56 14h1M61 14h1M67 14h1M54 15h1M64 15h1M70 17h2M75 17h1M55 18h1M59 19h1M71 19h1M76 19h1M65 20h1"/>
<path stroke="#6060ff" d="M42 5h1M42 7h1M40 8h1M56 10h1M53 11h1M53 12h1M55 12h2M68 12h1M62 13h1M55 14h1M70 15h1M53 16h1M68 16h1M71 16h2M75 16h3M65 17h1M67 17h1M68 18h1M68 19h2M60 20h1M67 20h1M69 20h1M71 20h1"/>
<path stroke="#2828ff" d="M38 6h1M62 15h1M63 16h1M74 18h2M74 19h1"/>
<path stroke="#1818ff" d="M39 6h1M59 15h1M62 16h1M62 17h1M58 18h1M75 19h1"/>
<path stroke="#3030ff" d="M40 6h1M58 13h1M57 14h1M55 15h1M60 15h1M72 18h1M73 19h1"/>
<path stroke="#2020ff" d="M39 7h1M59 14h1M58 15h1M56 16h1M56 17h1M63 17h1"/>
<path stroke="#ffe7e7" d="M1 8h1M0 11h1M17 14h1M23 20h1M26 20h1M23 21h1M26 21h1M51 21h1M23 23h1M25 23h1M51 23h1M21 24h1M25 24h1M68 24h1M21 25h1M67 25h1M54 26h1M56 26h1M59 26h1M54 27h1M56 27h1M21 28h1M28 28h1M54 28h1M55 29h1M58 29h1M52 30h2M56 30h1M60 30h1M25 31h1M45 31h2M48 31h1M50 31h1M55 31h1M28 32h1M30 32h1M54 32h1M29 33h1M45 33h1M47 33h1M49 33h1M57 33h2M29 34h1M60 35h1M30 36h1M51 37h1M84 37h2M87 38h1M28 39h2M80 39h2M27 40h1M37 40h2M32 41h1M35 41h1M30 42h1M36 45h1M92 47h1M92 48h1M53 49h1M32 50h1M28 51h1M32 51h1M96 51h1M31 52h1M38 57h1M93 57h1M31 61h1M32 62h1M17 65h3M9 66h1M18 66h1M22 66h2M29 66h1M39 66h1M42 66h1M12 67h2M22 67h1M39 67h1M41 67h1M43 67h1M0 68h1M6 68h1M11 68h1M21 68h1M45 68h1M1 69h1M6 69h2M29 69h2M42 69h1M5 70h1M29 70h1M32 70h1M34 70h1M36 70h1M40 70h2M0 71h2M3 71h2M18 71h1M20 71h1M28 71h1M41 71h1M44 71h1M18 72h3M43 72h1M47 72h1"/>
<path stroke="#ffdfdf" d="M8 9h1M1 10h1M19 16h1M19 18h1M19 19h1M19 20h2M58 22h1M20 23h1M19 24h1M24 24h1M51 24h1M59 24h1M52 25h2M20 26h1M53 26h1M66 26h1M21 27h1M52 27h1M55 27h1M59 27h2M27 28h1M23 29h1M29 29h1M50 29h1M52 29h1M60 29h1M55 30h1M61 30h1M26 31h1M53 31h1M57 31h1M45 32h1M52 32h2M59 32h1M27 33h2M53 33h1M48 34h1M28 35h1M27 36h1M29 36h1M32 36h1M51 36h1M85 36h1M31 37h1M29 38h1M88 38h1M30 39h1M36 39h2M79 39h1M85 39h1M36 40h1M30 41h1M33 41h1M61 42h1M30 43h1M30 44h1M36 44h2M61 44h1M91 45h1M35 46h1M33 47h2M30 48h1M31 49h1M53 50h1M33 51h1M66 56h1M31 63h1M30 64h1M30 65h1M46 65h1M11 66h3M15 66h1M31 66h1M1 67h1M5 67h1M16 67h1M19 67h3M23 67h1M31 67h1M34 67h1M37 67h1M14 68h1M18 68h2M28 68h1M30 68h1M0 69h1M8 69h1M40 69h2M6 70h1M16 70h2M19 70h1M36 71h1M40 71h1M42 71h2M7 72h1M28 72h1M34 72h1M36 72h1M42 72h1"/>
<path stroke="#4848ff" d="M60 11h1M60 13h1M63 13h1M63 15h1M65 15h1M54 16h1M64 17h1M66 17h1M68 17h1M72 17h1M56 18h1M64 18h1M69 18h2M60 19h1M63 19h1M74 20h1"/>
<path stroke="#1010ff" d="M58 14h1M57 15h1M57 17h1M60 17h1M74 17h1M57 18h1"/>
<path stroke="#ffc7c7" d="M16 16h2M19 21h1M17 22h1M19 23h1M56 24h1M20 25h1M20 27h1M20 28h1M59 28h1M71 28h1M24 29h1M51 29h1M68 29h1M24 30h1M51 30h1M59 30h1M68 30h1M44 32h1M61 32h2M26 33h1M50 34h1M52 34h1M27 35h1M31 36h1M35 36h1M52 36h1M57 36h3M32 37h1M36 38h2M31 39h1M33 39h1M39 39h1M84 39h1M87 39h1M38 41h1M34 43h1M91 44h1M35 45h1M61 45h1M33 46h1M35 47h1M88 47h1M91 47h1M29 48h1M33 48h1M30 51h2M30 52h1M29 53h1M31 53h1M29 54h1M29 55h1M30 56h1M29 58h1M38 58h1M44 64h2M29 65h1M31 65h1M3 67h1M10 67h1M18 67h1M47 67h1M1 68h1M17 68h1M24 68h1M40 68h1M47 68h1M18 69h1M31 69h1M39 69h1M44 69h1M21 70h2M25 70h1M44 70h1M46 70h1M9 71h1M15 71h1M26 71h1M32 71h1M96 71h1M9 72h2M16 72h2M30 72h1M33 72h1M37 72h1"/>
<path stroke="#ffcfcf" d="M18 16h1M15 17h1M19 17h1M15 20h1M18 20h1M17 21h1M18 23h1M18 24h1M55 25h1M57 25h1M68 25h1M55 28h1M21 29h1M54 29h1M25 30h1M50 30h1M29 31h1M59 31h2M25 32h1M29 32h1M50 32h2M57 32h1M60 32h1M50 33h1M52 33h1M27 34h2M53 34h1M56 34h1M33 35h1M56 35h1M59 35h1M60 36h1M33 37h1M55 37h1M86 37h1M30 38h2M86 38h1M27 39h1M34 39h1M38 39h1M31 40h1M31 41h1M34 41h1M37 41h1M31 42h1M33 42h1M36 42h1M38 43h1M35 44h1M60 44h1M31 45h1M34 45h1M60 45h1M91 46h1M31 48h2M34 48h1M93 49h1M30 50h1M33 50h1M28 54h1M28 55h1M31 56h1M32 57h1M37 57h1M30 58h1M85 62h1M22 64h1M31 64h1M14 65h1M44 65h1M47 65h1M10 66h1M26 66h2M43 66h1M45 66h1M11 67h1M24 67h1M28 67h1M35 67h2M38 67h1M3 68h2M8 68h1M16 68h1M22 68h1M31 68h1M36 68h1M44 68h1M2 69h4M10 69h4M15 69h1M17 69h1M21 69h1M23 69h1M26 69h2M37 69h2M43 69h1M45 69h1M3 70h1M23 70h1M26 70h1M28 70h1M30 70h1M13 71h2M16 71h1M25 71h1M30 71h1M37 71h1M39 71h1M45 71h1M47 71h1M6 72h1M12 72h2M25 72h1M35 72h1M55 72h1"/>
<path stroke="#0000ff" d="M57 16h3M61 16h1M58 17h1"/>
<path stroke="#0808ff" d="M60 16h1M59 17h1M61 17h1M59 18h2M73 18h1"/>
<path stroke="#ff9797" d="M16 17h1M18 19h1M68 27h2M68 32h1M35 38h1M54 38h1M54 39h1M57 39h1M55 40h1M83 40h1M52 41h1M56 41h1M85 41h1M55 42h1M57 42h2M58 43h1M87 44h1M90 45h1M89 46h1M89 47h1M89 48h1M55 49h1M70 62h1M54 64h1M87 64h1M89 64h1M51 65h1M93 67h2M53 68h1M55 68h1M92 68h2M87 69h1M93 69h1M56 70h1M74 70h1M79 70h1M95 70h1M56 71h1M75 71h1M88 71h1M53 72h1M63 72h1M84 72h1M88 72h1M93 72h1"/>
<path stroke="#ff7878" d="M17 17h1M17 19h1M86 41h1M53 42h1M82 43h1M83 44h2M53 45h1M55 45h1M82 48h1M85 49h1M86 50h1M87 52h1M77 62h1M80 62h1M59 63h1M63 63h1M90 63h1M79 64h1M91 64h1M48 65h1M58 65h1M84 65h1M86 65h1M88 65h1M90 65h1M52 66h1M84 66h1M86 66h1M90 66h1M51 68h1M84 68h1M89 68h1M91 68h1M55 69h1M84 69h1M92 69h1M95 69h1M50 70h1M59 70h2M63 70h1M75 70h1M81 70h2M60 71h1M86 71h2M52 72h1M61 72h1M69 72h1M85 72h1M87 72h1"/>
<path stroke="#ffbfbf" d="M18 17h1M18 22h2M55 24h1M54 25h1M21 26h1M67 26h1M70 27h1M59 29h1M26 32h1M34 34h1M54 34h1M51 35h1M54 35h1M34 36h1M54 36h1M35 37h1M33 38h1M38 38h1M52 38h1M32 39h1M35 39h1M30 40h1M82 40h1M38 42h1M36 43h1M61 43h1M33 44h1M90 44h1M29 45h2M32 45h1M29 46h1M34 46h1M87 46h2M32 47h1M52 47h1M87 47h1M90 47h1M56 48h1M87 48h1M90 48h1M29 49h1M33 49h1M54 49h1M29 50h1M29 51h1M28 53h1M31 54h1M30 55h2M86 62h1M13 65h1M44 66h1M47 66h1M9 67h1M96 67h1M2 68h1M5 68h1M10 68h1M26 68h1M39 68h1M16 69h1M22 69h1M28 69h1M47 69h1M2 70h1M10 70h1M12 70h4M31 71h1M8 72h1M14 72h1M27 72h1M32 72h1M39 72h1M56 72h1"/>
<path stroke="#ffd7d7" d="M15 18h1M16 21h1M20 24h1M54 24h1M57 24h2M19 25h1M19 26h1M70 26h1M27 27h1M29 28h1M52 28h2M58 28h1M60 28h1M53 29h1M52 31h1M56 31h1M27 32h1M56 32h1M48 33h1M51 33h1M60 33h1M32 34h2M58 34h1M61 34h1M53 35h1M57 35h2M33 36h1M27 38h2M51 38h1M88 39h1M32 40h3M34 42h2M37 42h1M29 44h1M31 44h1M34 44h1M37 45h1M35 48h1M32 49h1M34 49h1M31 50h1M54 50h1M28 52h2M29 56h1M28 57h3M37 58h1M32 63h1M32 64h1M20 65h1M32 65h1M43 65h1M45 65h1M21 66h1M24 66h2M8 67h1M30 67h1M7 68h1M9 68h1M12 68h2M15 68h1M20 68h1M42 68h2M20 69h1M32 69h2M46 69h1M1 70h1M9 70h1M18 70h1M20 70h1M24 70h1M31 70h1M37 70h2M43 70h1M2 71h1M8 71h1M17 71h1M27 71h1M29 71h1M33 71h1M3 72h2M26 72h1M40 72h2M48 72h1"/>
<path stroke="#ff6868" d="M16 18h1M83 41h1M82 42h2M55 43h1M52 44h2M83 45h2M84 47h1M79 48h1M84 48h1M80 50h1M88 51h1M76 62h1M61 63h1M65 63h1M70 63h2M76 63h1M83 63h1M52 64h2M58 64h1M60 64h4M83 64h1M92 64h1M49 65h1M79 65h1M87 65h1M92 65h1M51 66h1M62 66h1M81 66h1M83 66h1M60 67h1M86 67h2M50 68h1M59 68h2M79 68h1M83 68h1M58 69h1M70 69h1M72 69h1M76 69h2M80 69h1M82 69h1M85 69h2M65 70h1M71 70h1M76 70h1M85 70h1M58 71h1M65 71h2M70 71h2"/>
<path stroke="#ff8787" d="M17 18h1M53 39h1M52 40h1M54 40h1M55 41h1M84 41h1M56 43h1M85 43h2M85 44h1M86 47h1M55 48h1M86 49h1M86 51h1M62 62h3M71 62h1M82 62h2M64 63h1M79 63h2M56 64h1M81 64h1M88 64h1M52 65h2M48 66h1M89 66h1M49 68h1M52 68h1M56 68h1M95 68h1M49 69h1M51 69h1M53 69h1M57 69h1M79 69h1M94 69h1M49 70h1M67 70h1M73 70h1M51 71h1M63 71h1M67 71h2M77 71h1M91 71h1M71 72h1M75 72h1M79 72h1M81 72h1M86 72h1"/>
<path stroke="#ffafaf" d="M18 18h1M16 22h1M55 26h1M68 26h2M67 28h1M68 31h1M36 37h2M52 37h1M57 37h1M32 38h1M86 39h1M57 40h2M80 40h1M84 40h1M87 40h1M58 41h1M31 43h1M37 43h1M60 43h1M32 44h1M56 45h2M87 45h1M31 46h1M57 46h1M90 46h1M54 47h1M87 49h1M30 53h1M87 53h1M84 62h1M47 64h1M25 68h1M27 68h1M14 69h1M11 70h1M27 70h1M47 70h1M88 70h1M96 70h1M10 71h2M48 71h1M55 71h1M94 71h1M15 72h1M96 72h1"/>
<path stroke="#ffb7b7" d="M15 19h1M17 20h1M15 21h1M17 23h1M17 24h1M67 27h1M69 29h1M69 30h1M61 33h1M51 34h1M55 34h1M34 35h1M52 35h1M55 36h1M53 37h1M59 37h1M51 39h1M35 40h1M59 40h1M88 40h1M59 41h1M32 42h1M33 43h1M35 43h1M57 44h1M33 45h1M88 45h1M32 46h1M52 46h1M54 46h1M29 47h3M53 47h1M88 48h1M30 49h1M87 50h1M31 58h1M87 63h1M25 67h1M37 68h2M48 68h1M24 69h2M45 70h1M12 71h1M38 71h1M46 71h1M95 71h1M5 72h1M11 72h1M94 72h1"/>
<path stroke="#ff8f8f" d="M16 19h1M57 38h1M85 40h1M54 41h1M52 42h1M59 42h1M57 43h1M87 43h1M86 44h1M54 45h1M86 48h1M88 50h1M72 62h1M81 63h1M85 63h1M89 63h1M48 64h1M55 65h1M92 66h2M48 67h2M54 67h1M91 67h2M88 68h1M90 68h1M94 68h1M89 69h2M52 70h2M72 70h1M87 70h1M93 70h1M52 71h1M54 71h1M62 71h1M74 71h1M76 71h1M79 71h1M81 71h1M89 71h1M50 72h1M60 72h1M64 72h1M68 72h1M73 72h1M78 72h1M82 72h1M92 72h1"/>
<path stroke="#ffa7a7" d="M16 20h1M56 25h1M70 28h1M55 35h1M53 36h1M34 37h1M54 37h1M56 37h1M58 37h1M56 38h1M56 39h1M56 40h1M81 40h1M86 40h1M53 41h1M84 42h1M32 43h1M52 45h1M30 46h1M53 46h1M56 46h1M60 46h1M56 47h1M54 48h1M88 49h1M30 54h1M88 63h1M57 64h1M26 67h1M95 67h1M88 69h1M94 70h1M49 71h1M80 71h1M51 72h1M57 72h1M62 72h1M95 72h1"/>
<path stroke="#ff9f9f" d="M68 28h1M70 29h1M69 31h1M56 36h1M34 38h1M55 38h1M58 38h1M52 39h1M55 39h1M58 39h1M53 40h1M57 41h1M51 42h1M56 44h1M55 47h1M53 48h1M81 62h1M86 63h1M86 64h1M27 67h1M90 67h1M96 68h1M48 69h1M48 70h1M55 70h1M66 70h1M89 70h1M50 71h1M93 71h1M31 72h1M38 72h1M49 72h1M54 72h1M58 72h2M74 72h1M77 72h1"/>
<path stroke="#ff8080" d="M69 28h1M70 33h1M53 38h1M56 42h1M86 42h1M51 43h1M84 43h1M86 45h1M55 46h1M86 46h1M84 49h1M85 51h1M61 62h1M73 62h2M79 62h1M51 63h2M55 63h2M58 63h1M68 63h2M82 63h1M84 63h1M50 64h1M80 64h1M85 64h1M89 65h1M91 65h1M49 66h1M53 66h1M56 66h1M85 66h1M88 66h1M91 66h1M52 67h2M57 67h1M85 67h1M88 67h1M57 68h1M86 68h1M52 69h1M56 69h1M60 69h1M67 69h1M75 69h1M91 69h1M96 69h1M54 70h1M57 70h2M62 70h1M68 70h2M78 70h1M80 70h1M90 70h3M53 71h1M57 71h1M72 71h2M78 71h1M82 71h1M84 71h1M92 71h1M65 72h3M70 72h1M72 72h1M80 72h1M89 72h1"/>
<path stroke="#ff5858" d="M69 32h1M54 43h1M81 43h1M80 44h1M79 45h1M78 46h1M83 47h1M85 48h1M79 49h1M60 63h1M62 63h1M67 63h1M75 63h1M51 64h1M68 64h1M77 64h1M84 64h1M93 64h1M60 65h1M77 65h1M81 65h1M60 66h2M58 67h1M61 67h2M82 67h1M61 68h1M76 68h1M59 69h1M62 69h1M66 69h1M74 69h1M81 69h1"/>
<path stroke="#ff6060" d="M69 33h1M52 43h2M54 44h2M85 46h1M82 47h1M83 48h1M80 49h1M79 50h1M75 62h1M73 63h1M78 63h1M76 64h1M78 64h1M82 64h1M59 65h1M61 65h2M80 65h1M82 65h1M50 66h1M55 66h1M58 66h1M63 66h1M55 67h1M84 67h1M89 67h1M68 68h2M77 68h1M87 68h1M63 69h1M69 69h1M51 70h1M70 70h1M83 70h1M59 71h1M64 71h1"/>
<path stroke="#ff7070" d="M54 42h1M81 42h1M83 43h1M82 44h1M85 45h1M83 46h1M85 47h1M81 49h3M84 50h2M87 51h1M78 62h1M57 63h1M66 63h1M77 63h1M49 64h1M55 64h1M90 64h1M50 65h1M54 65h1M56 65h2M85 65h1M93 65h1M54 66h1M57 66h1M79 66h2M87 66h1M50 67h2M56 67h1M78 67h2M83 67h1M54 68h1M58 68h1M78 68h1M85 68h1M50 69h1M54 69h1M61 69h1M65 69h1M68 69h1M71 69h1M78 69h1M83 69h1M61 70h1M77 70h1M84 70h1M86 70h1M61 71h1M69 71h1M83 71h1M85 71h1M90 71h1M76 72h1M83 72h1M90 72h2"/>
<path stroke="#ff5050" d="M79 44h1M81 44h1M82 45h1M84 46h1M81 47h1M72 63h1M59 64h1M64 64h2M69 64h2M63 65h2M69 65h1M78 65h1M83 65h1M59 67h1M64 67h1M66 67h1M80 67h1M63 68h2M67 68h1M80 68h3M64 69h1M73 69h1M64 70h1"/>
<path stroke="#ff3838" d="M80 45h1M76 65h1M71 66h1M74 67h1M81 67h1M73 68h1"/>
<path stroke="#ff3030" d="M81 45h1M80 46h2M75 64h1M67 65h1M65 66h3M75 66h2M68 67h2M75 67h2M72 68h1"/>
<path stroke="#ff4848" d="M79 46h1M82 46h1M79 47h2M80 48h2M74 63h1M66 64h1M65 65h2M68 65h1M64 66h1M82 66h1M63 67h1M67 67h1M62 68h1M65 68h2M70 68h1"/>
<path stroke="#ff2828" d="M67 64h1M68 66h3M71 67h1M74 68h1"/>
<path stroke="#ff4040" d="M71 64h1M70 65h2M59 66h1M77 66h2M65 67h1M77 67h1M71 68h1M75 68h1"/>
<path stroke="#ff2020" d="M72 64h1M72 66h1M70 67h1M72 67h1"/>
<path stroke="#ff0000" d="M73 64h2M73 65h3"/>
<path stroke="#ff0808" d="M72 65h1M73 66h1"/>
<path stroke="#ff1010" d="M74 66h1M73 67h1"/>
</g>
</g>
<use href="#cst"/>
</g>
<rect x="0" y="0" width="446.6" height="223.0" fill="none" stroke="#000" stroke-width="2.8"/><path d="M-8 0H0" stroke="#000" stroke-width="1.8"/><path d="M-15.5 37.2H0" stroke="#000" stroke-width="2.4"/><path d="M-8 74.3H0" stroke="#000" stroke-width="1.8"/><path d="M-15.5 111.5H0" stroke="#000" stroke-width="2.4"/><path d="M-8 148.7H0" stroke="#000" stroke-width="1.8"/><path d="M-15.5 185.8H0" stroke="#000" stroke-width="2.4"/><path d="M-8 223H0" stroke="#000" stroke-width="1.8"/><path d="M0 223V230.5" stroke="#000" stroke-width="1.8"/><path d="M37.2 223V230.5" stroke="#000" stroke-width="1.8"/><path d="M74.4 223V237.5" stroke="#000" stroke-width="2.2"/><path d="M111.7 223V230.5" stroke="#000" stroke-width="1.8"/><path d="M148.9 223V230.5" stroke="#000" stroke-width="1.8"/><path d="M186.1 223V230.5" stroke="#000" stroke-width="1.8"/><path d="M223.3 223V237.5" stroke="#000" stroke-width="2.2"/><path d="M260.5 223V230.5" stroke="#000" stroke-width="1.8"/><path d="M297.7 223V230.5" stroke="#000" stroke-width="1.8"/><path d="M335 223V230.5" stroke="#000" stroke-width="1.8"/><path d="M372.2 223V237.5" stroke="#000" stroke-width="2.2"/><path d="M409.4 223V230.5" stroke="#000" stroke-width="1.8"/><path d="M446.6 223V230.5" stroke="#000" stroke-width="1.8"/>
</g>
<g transform="translate(1485.0 68.4)">
<g clip-path="url(#cp)">
<rect width="446.6" height="223.0" fill="#bebebe"/>
<g shape-rendering="crispEdges">
<g transform="translate(-2.326 0) scale(4.6521 3.0972)" fill="none" stroke-width="1.03">
<path stroke="#fff7f7" d="M15 3h3M15 4h3M15 5h3M15 6h3M86 6h2M15 7h3M81 7h1M1 8h4M15 8h3M1 9h2M16 9h2M1 10h1M17 10h2M1 11h1M17 11h2M0 12h2M18 12h1M18 13h1M18 14h1M18 15h1M18 16h1M18 17h1M18 18h1M18 19h1M18 20h1M18 21h1M82 21h1M18 22h1M84 22h2M18 23h1M18 24h1M18 25h1M55 25h1M18 26h1M48 27h2M30 33h1M29 34h1M29 35h1M29 36h1M29 37h1M82 37h1M29 38h1M29 39h1M81 39h1M29 40h1M29 41h1M29 42h1M29 43h1M29 44h1M29 45h1M29 46h1M29 47h1M29 48h1M29 49h1M29 50h1M29 51h1M29 52h1M29 53h1M29 54h1M29 55h1M29 56h1M28 57h1"/>
<path stroke="#ffffff" d="M18 3h3M18 4h3M18 5h3M18 6h3M18 7h3M80 7h1M0 8h1M18 8h3M0 9h1M18 9h3M0 10h1M19 10h2M0 11h1M19 11h1M19 12h1M19 13h1M19 14h1M19 15h1M19 16h1M19 17h1M19 18h1M19 19h1M19 20h1M19 21h1M19 22h1M83 22h1M19 23h1M61 23h1M19 24h1M73 24h1M19 25h1M54 25h1M19 26h1M52 26h1M44 27h4M73 28h1M31 32h1M29 33h1M28 34h1M28 35h1M28 36h1M28 37h1M28 38h1M28 39h1M28 40h1M28 41h1M28 42h1M28 51h1M28 52h1M28 53h1M28 54h1M28 55h1M28 56h1"/>
<path stroke="#f7f7ff" d="M21 3h4M21 4h3M21 5h3M21 6h3M21 7h3M21 8h3M21 9h2M21 10h2M20 11h2M79 11h1M20 12h2M79 12h1M20 13h1M79 13h1M20 14h1M79 14h1M20 15h1M79 15h1M20 16h1M79 16h1M20 17h1M20 18h1M20 19h1M20 20h1M80 20h1M20 21h1M20 22h1M20 23h1M58 23h3M83 23h1M20 24h1M20 25h1M20 26h1M20 27h1M20 28h1M73 29h1M29 32h2M28 33h1M27 34h1M27 35h1M27 36h1M82 36h1M27 37h1M26 38h2M27 39h1M27 40h1"/>
<path stroke="#efefff" d="M25 3h1M54 3h5M24 4h2M24 5h2M24 6h2M24 7h2M24 8h2M23 9h3M23 10h1M79 10h1M22 11h1M22 12h1M21 13h1M21 14h1M21 15h1M21 16h1M21 17h1M79 17h1M21 18h1M21 19h1M21 20h1M21 21h1M81 21h1M21 22h1M82 22h1M21 23h1M65 23h1M21 24h1M55 24h2M21 25h1M53 25h1M21 26h1M21 27h1M21 28h1M21 29h1M28 32h1M26 33h2M81 38h1M80 39h1"/>
<path stroke="#e7e7ff" d="M26 3h2M59 3h1M62 3h13M26 4h1M26 5h1M26 6h1M26 7h1M26 8h1M26 9h1M79 9h1M24 10h2M23 11h2M23 12h1M22 13h1M22 14h1M22 15h1M22 16h1M22 17h1M22 18h1M79 18h1M22 19h1M22 20h1M22 21h1M22 22h1M22 23h1M67 23h5M82 23h1M22 24h1M54 24h1M74 25h1M51 26h1M22 29h1M27 32h1M79 39h1"/>
<path stroke="#d7d7ff" d="M28 3h1M28 4h1M56 4h2M28 5h1M28 6h1M28 7h1M28 8h1M79 8h1M28 9h1M27 10h1M26 11h1M25 13h1M24 14h1M24 15h1M24 16h1M24 17h1M24 18h1M24 19h1M24 20h1M79 20h1M24 21h1M24 22h1M79 22h2M24 23h1M73 23h1M79 23h2M24 24h1M53 24h1M75 24h6M52 25h1M75 25h6M50 26h1M75 26h1M80 26h1M74 27h1M24 29h1M24 30h1M25 31h2M81 36h1M80 38h1"/>
<path stroke="#cfcfff" d="M29 3h5M29 4h5M58 4h1M29 5h5M29 6h5M29 7h5M79 7h1M29 8h5M29 9h2M28 10h1M27 11h2M27 12h1M26 13h1M25 14h1M25 15h1M25 16h1M25 17h1M25 18h1M25 19h1M25 20h1M25 21h1M79 21h1M25 22h1M25 23h1M74 23h5M25 24h1M44 26h6M76 26h4M75 27h6M74 28h1M25 30h1M80 37h1M78 38h2M77 39h1"/>
<path stroke="#c7c7ff" d="M34 3h2M34 4h2M34 5h2M34 6h2M34 7h2M34 8h2M31 9h4M29 10h6M29 11h4M28 12h2M27 13h2M26 14h1M26 15h1M26 16h1M26 17h1M34 17h1M26 18h1M26 19h1M26 20h1M26 21h1M26 22h1M78 22h1M26 23h1M54 23h1M26 24h1M52 24h1M51 25h1M29 28h1M75 28h4M29 29h1M74 29h4M80 29h2M74 30h2M80 30h1M74 31h1M81 31h1M74 32h1M80 32h2M74 33h1M80 33h2M74 34h1M80 34h2M74 35h1M79 35h2M74 36h1M79 36h2M74 37h1M77 37h3M75 38h3M76 39h1"/>
<path stroke="#bfbfff" d="M36 3h7M36 4h1M36 5h1M52 5h3M36 6h1M36 7h1M36 8h1M35 9h2M35 10h2M33 11h4M30 12h7M29 13h4M27 14h6M27 15h7M27 16h7M27 17h5M33 17h1M27 18h5M27 19h3M27 20h2M27 21h2M27 22h2M77 22h1M27 23h1M50 25h1M27 27h1M27 28h2M76 30h2M75 31h4M75 32h3M75 33h2M79 33h1M75 34h2M78 34h2M75 35h4M75 36h4M75 37h2"/>
<path stroke="#dfdfff" d="M60 3h2M27 4h1M51 4h5M27 5h1M27 6h1M27 7h1M27 8h1M27 9h1M26 10h1M25 11h1M24 12h1M23 13h2M23 14h1M23 15h1M23 16h1M23 17h1M23 18h1M23 19h1M79 19h1M23 20h1M23 21h1M80 21h1M23 22h1M81 22h1M23 23h1M66 23h1M72 23h1M81 23h1M23 24h1M74 24h1M81 24h1M74 26h1M23 29h1M23 30h1M29 31h1M25 32h2M81 37h1M78 39h1"/>
<path stroke="#b7b7ff" d="M37 4h7M59 4h1M77 4h1M37 5h7M55 5h3M37 6h6M37 7h6M37 8h6M37 9h4M37 10h2M42 10h2M37 11h1M78 21h1M76 22h1M52 23h1M51 24h1M45 25h5"/>
<path stroke="#a7a7ff" d="M60 4h2M58 5h1M78 5h1M78 19h1M77 21h1M55 22h1M58 22h1M74 22h1M46 23h5"/>
<path stroke="#afafff" d="M62 4h15M44 10h1M78 20h1M75 22h1M51 23h1M45 24h6"/>
<path stroke="#8787ff" d="M59 5h1M77 5h1M58 7h1M58 8h1M58 9h1M58 10h1M58 11h1M58 12h1M58 13h1M58 14h1M58 15h1M58 16h1M58 17h1M58 18h1M76 19h1M58 20h1M75 20h1M74 21h1"/>
<path stroke="#8080ff" d="M60 5h17M59 6h1M76 18h2M75 19h1M74 20h1M59 21h1M72 21h2"/>
<path stroke="#9f9fff" d="M52 6h6M45 15h1M78 18h1M46 21h1M76 21h1M46 22h6M63 22h3M71 22h3"/>
<path stroke="#8f8fff" d="M58 6h1M78 6h1M57 7h1M78 7h1M52 8h6M78 8h1M52 9h6M78 9h1M51 10h7M50 11h8M47 12h1M49 12h9M47 13h11M47 14h2M50 14h8M47 15h11M47 16h11M47 17h11M48 18h10M47 19h9M57 19h1M77 19h1M50 20h8M76 20h1M58 21h1"/>
<path stroke="#7878ff" d="M60 6h2M75 6h3M59 7h1M77 7h1M59 8h1M77 8h1M59 9h1M77 9h1M59 10h1M77 10h1M59 11h1M77 11h1M59 12h1M77 12h1M59 13h1M77 13h1M59 14h1M77 14h1M59 15h1M77 15h1M59 16h1M77 16h1M59 17h1M76 17h2M59 18h1M74 18h2M59 19h1M73 19h2M59 20h2M72 20h2M60 21h12"/>
<path stroke="#7070ff" d="M62 6h13M60 7h17M60 8h17M60 9h17M60 10h17M60 11h17M60 12h17M60 13h17M60 14h17M60 15h17M60 16h17M60 17h16M60 18h1M62 18h12M60 19h1M63 19h10M61 20h1M63 20h9"/>
<path stroke="#ffefef" d="M14 7h1M82 7h1M84 7h7M5 8h10M80 8h1M88 8h9M3 9h13M89 9h8M2 10h3M15 10h2M89 10h8M2 11h1M16 11h1M89 11h7M17 12h1M89 12h1M91 12h4M17 13h1M90 13h2M17 14h1M90 14h2M17 15h1M90 15h1M17 16h1M17 17h1M17 18h1M17 19h1M17 20h1M17 21h1M17 22h1M17 23h1M62 23h1M64 23h1M17 24h1M56 25h1M50 27h1M73 27h1M31 33h1M30 34h1M30 35h1M30 36h1M30 37h1M30 38h1M30 39h1M30 40h1M30 41h1M30 42h1M30 43h1M30 44h1M30 45h1M30 46h1M30 47h1M30 48h1M30 49h1M30 50h1M30 51h1M30 52h1M30 53h1M30 54h1M30 55h1M30 56h1M29 57h2M29 58h1"/>
<path stroke="#9797ff" d="M54 7h3M78 10h1M78 11h1M78 12h1M46 13h1M78 13h1M46 14h1M78 14h1M46 15h1M78 15h1M46 16h1M78 16h1M78 17h1M46 19h1M46 20h3M77 20h1M47 21h2M50 21h2M54 21h4M75 21h1M59 22h4M66 22h5"/>
<path stroke="#ffd7d7" d="M81 8h1M85 8h1M87 9h1M5 14h1M13 14h2M14 15h1M14 16h1M85 21h1M54 26h1M33 34h1M33 35h1M33 36h1M33 37h1M33 38h1M33 39h1M33 40h1M33 41h1M33 42h1M33 43h1M33 44h1M33 45h1M33 46h1M33 47h1M33 48h1M33 49h1M33 50h1M33 51h1M0 53h3M0 54h1M2 54h1"/>
<path stroke="#ffcfcf" d="M82 8h3M80 9h1M87 10h1M87 11h1M87 12h1M80 18h1M82 20h1M55 26h2M52 27h1M44 28h2M34 34h1M34 35h1M34 36h1M84 36h2M34 37h1M83 37h1M34 38h1M34 39h1M34 40h1M81 40h1M34 41h1M34 42h1M34 43h1M34 44h1M90 44h1M34 45h1M91 45h2M34 46h1M34 47h1M34 48h1M34 49h1M87 53h1M1 54h1"/>
<path stroke="#ffdfdf" d="M86 8h1M4 12h11M6 13h1M12 13h4M15 14h1M15 15h1M15 16h1M15 17h1M15 18h1M15 19h1M15 20h1M15 21h1M86 21h1M57 24h1M73 25h1M73 26h1M51 27h1M32 34h1M32 35h1M32 36h1M32 37h1M32 38h1M32 39h1M32 40h1M80 40h1M32 41h1M32 42h1M32 43h1M32 44h1M91 44h1M32 45h1M32 46h1M32 47h1M32 48h1M32 49h1M32 50h1M32 51h1M32 52h1M32 57h1M31 58h1"/>
<path stroke="#ffe7e7" d="M87 8h1M88 9h1M5 10h10M88 10h1M3 11h13M88 11h1M2 12h2M15 12h2M88 12h1M16 13h1M16 14h1M16 15h1M16 16h1M16 17h1M16 18h1M16 19h1M80 19h1M16 20h1M81 20h1M16 21h1M16 22h1M63 23h1M53 26h1M32 33h1M31 34h1M31 35h1M31 36h1M31 37h1M31 38h1M31 39h1M31 40h1M31 41h1M31 42h1M31 43h1M31 44h1M92 44h1M31 45h1M31 46h1M31 47h1M31 48h1M31 49h1M31 50h1M31 51h1M31 52h1M31 53h1M31 54h1M31 55h1M31 56h1M30 58h1"/>
<path stroke="#ffb7b7" d="M81 9h5M86 10h1M86 11h1M86 12h1M86 15h1M81 18h1M82 19h1M85 20h1M67 24h5M54 27h1M51 28h1M45 29h2M44 30h1M44 31h1M44 32h1M37 37h1M37 38h1M85 38h3M37 39h1M84 39h4M37 40h1M87 40h2M37 41h1M37 42h1M37 43h1M37 44h1M37 45h1M88 45h1M88 46h1M88 47h1M92 47h1M88 48h1M91 48h1M95 48h1M88 49h1M88 50h1M96 50h1M87 51h2M96 51h1M96 52h1M96 53h1M96 54h1M95 56h1M37 57h2M92 57h1M95 57h1M37 58h2"/>
<path stroke="#ffc7c7" d="M86 9h1M80 17h1M81 19h1M65 24h2M72 24h1M57 25h1M46 28h3M35 36h1M35 37h1M84 37h1M35 38h1M35 39h1M39 39h1M35 40h1M35 41h1M35 42h1M35 43h1M35 44h1M35 45h1M90 45h1M35 46h1M90 46h2M35 47h1M35 48h1"/>
<path stroke="#ffbfbf" d="M80 10h1M80 11h1M80 12h1M80 13h1M80 14h1M80 15h1M80 16h1M86 20h1M53 27h1M49 28h2M44 29h1M36 37h1M85 37h3M36 38h1M38 38h1M84 38h1M88 38h1M36 39h1M38 39h1M88 39h1M36 40h1M38 40h1M82 40h1M36 41h1M38 41h1M36 42h1M38 42h1M36 43h1M38 43h1M36 44h1M36 45h1M89 46h1M92 46h1M89 47h3M89 48h2M96 48h1M96 49h1M87 52h1M96 55h1M96 56h1M96 57h1"/>
<path stroke="#ffafaf" d="M81 10h5M81 11h1M85 11h1M81 12h1M85 12h1M81 13h1M85 13h1M81 14h1M85 14h1M81 15h1M85 15h1M81 16h1M85 16h2M81 17h2M86 17h1M82 18h2M86 18h1M83 19h1M86 19h1M58 24h1M65 25h1M57 26h1M65 26h1M55 27h2M47 29h2M45 30h2M45 31h1M45 32h1M45 33h1M83 40h4M86 41h1M87 43h1M87 44h1M87 45h1M87 46h1M87 47h1M87 48h1M92 48h3M87 49h1M93 49h3M86 50h2M93 50h3M86 51h1M93 51h3M93 52h3M92 53h4M92 54h4M92 55h4M92 56h3M93 57h2M0 72h1M96 72h1"/>
<path stroke="#ffa7a7" d="M82 11h3M82 12h3M82 13h3M82 14h3M82 15h3M82 16h3M83 17h3M84 18h1M59 24h2M72 27h1M52 28h1M49 29h2M47 30h2M46 31h3M46 32h3M46 33h2M46 34h2M83 41h3M86 42h1M85 43h2M85 44h2M85 45h2M85 46h2M85 47h2M85 48h2M85 49h2M85 50h1M85 51h1M68 58h1M31 61h2"/>
<path stroke="#ff9f9f" d="M61 24h4M72 25h1M57 27h1M53 28h2M51 29h2M49 30h3M49 31h2M49 32h2M48 33h3M48 34h1M50 34h1M81 42h4M83 43h2M83 44h2M83 45h2M83 46h2M83 47h2M83 48h2M83 49h2M53 50h2M84 50h1M66 55h2M66 56h2M66 57h3M31 62h2M30 63h3M30 64h3M0 70h1M96 70h1M0 71h1M96 71h1M1 72h2M94 72h2"/>
<path stroke="#ff9797" d="M58 25h1M64 25h1M66 25h1M64 26h1M66 26h1M72 26h1M55 28h2M71 28h1M53 29h2M52 30h2M51 31h3M51 32h3M51 33h3M51 34h3M51 35h3M51 36h3M51 37h3M51 38h3M51 39h3M52 40h2M52 41h2M51 42h3M51 43h3M81 43h2M52 44h2M81 44h2M52 45h2M81 45h2M52 46h2M78 46h1M81 46h2M52 47h2M81 47h2M53 48h1M81 48h2M53 49h2M81 49h2M22 64h1M22 65h11M23 66h10M0 67h1M96 67h1M0 68h1M96 68h1M0 69h1M96 69h1M3 72h91"/>
<path stroke="#ff8f8f" d="M59 25h5M67 25h1M70 25h2M58 26h6M63 27h2M71 27h1M57 28h1M55 29h2M54 30h3M54 31h2M54 32h2M62 32h1M54 33h2M70 33h1M54 34h2M54 35h2M54 36h2M54 37h2M54 38h2M54 39h2M54 40h2M54 41h2M54 42h2M54 43h2M54 44h2M79 44h2M54 45h2M79 45h2M54 46h2M79 46h2M54 47h2M79 47h2M54 48h3M79 48h2M55 49h1M79 49h2M79 50h2M21 65h1M21 66h2M23 67h11M1 68h1M95 68h1M1 69h1M95 69h1M1 70h1M95 70h1M1 71h95"/>
<path stroke="#ff8787" d="M68 25h2M67 26h5M58 27h5M67 27h4M58 28h1M62 28h2M67 28h4M57 29h1M63 29h1M68 29h3M57 30h1M68 30h2M56 31h2M68 31h2M56 32h3M68 32h2M56 33h3M61 33h1M69 33h1M56 34h3M61 34h1M56 35h3M56 36h3M56 37h3M56 38h3M56 39h3M56 40h3M56 41h3M56 42h3M56 43h3M56 44h2M56 45h2M56 46h2M56 47h1M61 62h4M70 62h17M51 63h2M55 63h36M44 64h50M12 65h9M42 65h52M7 66h14M39 66h55M1 67h22M34 67h62M2 68h93M2 69h93M2 70h93"/>
<path stroke="#ff8080" d="M59 28h3M58 29h5M58 30h2M61 30h1M58 31h3M59 32h3M59 33h2M59 34h2M59 35h2M59 36h2M59 37h1M59 40h1M59 41h1M61 41h1M59 42h1M61 42h1M60 43h2M60 44h2M60 45h2M60 46h1"/>
<path stroke="#ff7878" d="M60 30h1"/>
</g>
</g>
<use href="#cst"/>
</g>
<rect x="0" y="0" width="446.6" height="223.0" fill="none" stroke="#000" stroke-width="2.8"/><path d="M-8 0H0" stroke="#000" stroke-width="1.8"/><path d="M-15.5 37.2H0" stroke="#000" stroke-width="2.4"/><path d="M-8 74.3H0" stroke="#000" stroke-width="1.8"/><path d="M-15.5 111.5H0" stroke="#000" stroke-width="2.4"/><path d="M-8 148.7H0" stroke="#000" stroke-width="1.8"/><path d="M-15.5 185.8H0" stroke="#000" stroke-width="2.4"/><path d="M-8 223H0" stroke="#000" stroke-width="1.8"/><path d="M0 223V230.5" stroke="#000" stroke-width="1.8"/><path d="M37.2 223V230.5" stroke="#000" stroke-width="1.8"/><path d="M74.4 223V237.5" stroke="#000" stroke-width="2.2"/><path d="M111.7 223V230.5" stroke="#000" stroke-width="1.8"/><path d="M148.9 223V230.5" stroke="#000" stroke-width="1.8"/><path d="M186.1 223V230.5" stroke="#000" stroke-width="1.8"/><path d="M223.3 223V237.5" stroke="#000" stroke-width="2.2"/><path d="M260.5 223V230.5" stroke="#000" stroke-width="1.8"/><path d="M297.7 223V230.5" stroke="#000" stroke-width="1.8"/><path d="M335 223V230.5" stroke="#000" stroke-width="1.8"/><path d="M372.2 223V237.5" stroke="#000" stroke-width="2.2"/><path d="M409.4 223V230.5" stroke="#000" stroke-width="1.8"/><path d="M446.6 223V230.5" stroke="#000" stroke-width="1.8"/>
</g>
<g transform="translate(70.8 340.4)">
<g clip-path="url(#cp)">
<g shape-rendering="crispEdges">
<g transform="translate(-2.326 0) scale(4.6521 3.0972)" fill="none" stroke-width="1.03">
<path stroke="#78c4bd" d="M0 0h45M0 1h45M0 4h7M48 4h6M61 4h6M92 4h5M71 5h2M86 5h2"/>
<path stroke="#83ccc2" d="M45 0h52M45 1h31M82 1h15M71 2h4M83 2h5M73 3h2M84 3h2M74 4h2M83 4h2"/>
<path stroke="#86cec4" d="M76 1h6M75 2h8M75 3h3M81 3h3M76 4h2M80 4h3"/>
<path stroke="#76c2bc" d="M0 2h45M24 4h3M33 4h1M68 5h3M88 5h3"/>
<path stroke="#80cac0" d="M45 2h26M88 2h9M70 3h3M86 3h3M72 4h2M85 4h2M76 5h7"/>
<path stroke="#73c0bc" d="M0 3h46M0 5h8M49 5h4M62 5h6M91 5h6M75 6h9"/>
<path stroke="#7ac6be" d="M46 3h18M95 3h2M67 4h3M89 4h3M73 5h1M84 5h2"/>
<path stroke="#7dc8be" d="M64 3h6M89 3h6M70 4h2M87 4h2M74 5h2M83 5h1"/>
<path stroke="#89d0c6" d="M78 3h3M78 4h2"/>
<path stroke="#70bebc" d="M7 4h17M27 4h6M34 4h14M54 4h7M73 6h2M84 6h2"/>
<path stroke="#6cbaba" d="M8 5h15M24 5h9M35 5h14M53 5h9M0 6h8M49 6h3M62 6h8M89 6h8"/>
<path stroke="#6ebcbb" d="M23 5h1M33 5h2M70 6h3M86 6h3"/>
<path stroke="#69b8ba" d="M8 6h1"/>
<path stroke="#64b4b9" d="M9 6h13M28 6h3M36 6h13M52 6h10M68 7h6M85 7h5"/>
<path stroke="#64acbe" d="M22 6h2M33 6h2"/>
<path stroke="#64a8c0" d="M24 6h4M31 6h2"/>
<path stroke="#64b0bc" d="M35 6h1M0 7h8M60 7h8M90 7h7"/>
<path stroke="#64a3c3" d="M8 7h11M28 7h4M37 7h23M0 8h8M60 8h37M64 64h1"/>
<path stroke="#649bc8" d="M19 7h2M36 7h1M61 64h1M67 64h1M61 65h1M67 65h1"/>
<path stroke="#6496c9" d="M21 7h1M35 7h1M8 8h10M27 8h6M37 8h23M73 9h20M82 11h6M82 12h5M60 64h1M68 64h1M60 65h1M68 65h1"/>
<path stroke="#6491cb" d="M22 7h1M34 7h1M49 9h2M58 9h15M93 9h4M82 10h5M79 11h3M88 11h2M80 12h2M87 12h2M59 64h1M69 64h1M59 65h1M69 65h1M64 66h3"/>
<path stroke="#648ccc" d="M23 7h1M33 7h1M75 10h7M87 10h8M77 11h2M90 11h3M79 12h1M89 12h2M62 63h5M58 64h1M70 64h1M58 65h1M70 65h1M67 66h2"/>
<path stroke="#558496" d="M24 7h2M32 7h1M18 8h1M0 9h18M32 9h3M37 9h12M51 9h7M49 10h3M57 10h18M95 10h2M75 11h2M93 11h2M77 12h2M91 12h1M61 63h1M67 63h1M57 65h1M71 65h1M69 66h1"/>
<path stroke="#49835c" d="M26 7h2M19 8h1M48 10h1M72 11h3M95 11h2M76 12h1M92 12h2M60 63h1M68 63h1M57 64h1M71 64h1M56 65h1M72 65h1M70 66h1"/>
<path stroke="#66b6ba" d="M74 7h11"/>
<path stroke="#4d8458" d="M20 8h1M36 8h1M66 11h6M75 12h1M94 12h1M59 63h1M69 63h1M56 64h1M72 64h1M71 66h2M65 67h4"/>
<path stroke="#508555" d="M21 8h1M35 8h1M0 10h19M33 10h2M36 10h12M52 10h5M48 11h5M55 11h11M73 12h2M95 12h2M82 13h5M58 63h1M70 63h1M55 64h1M73 64h1M55 65h1M73 65h1M73 66h1M69 67h3"/>
<path stroke="#548651" d="M22 8h1M34 8h1M18 9h1M41 11h4M71 12h2M80 13h2M87 13h3M57 63h1M71 63h1M54 65h1M74 65h1M72 67h1M66 68h6"/>
<path stroke="#5b884a" d="M23 8h1M33 8h1M20 9h1M36 9h1M19 10h1M45 12h1M47 12h6M54 12h13M76 13h2M91 13h2M61 62h2M66 62h2M55 63h1M73 63h1M75 64h2M77 65h1"/>
<path stroke="#5e8947" d="M24 8h2M21 9h1M35 9h1M20 10h1M40 12h5M75 13h1M93 13h2M59 62h2M68 62h2M54 63h1M74 63h1M77 64h1M78 65h3"/>
<path stroke="#628a43" d="M26 8h1M21 10h1M35 10h1M21 11h1M0 12h22M32 12h8M46 12h1M53 12h1M73 13h2M95 13h2M57 62h2M70 62h2M53 63h1M75 63h1M78 64h2M44 65h3M81 65h1"/>
<path stroke="#57874e" d="M19 9h1M0 11h21M33 11h8M45 11h3M53 11h2M67 12h4M78 13h2M90 13h1M63 62h3M56 63h1M72 63h1M54 64h1M74 64h1M75 65h2"/>
<path stroke="#658b40" d="M22 9h1M22 10h1M22 11h1M22 12h1M70 13h3M56 62h1M72 62h1M51 63h1M76 63h2M45 64h3M80 64h2"/>
<path stroke="#698c3c" d="M23 9h1M23 11h2M32 11h1M23 12h4M30 12h2M60 13h10M54 62h2M73 62h2M50 63h1M78 63h3M43 64h2M0 71h97M0 72h97"/>
<path stroke="#6c8d39" d="M24 9h1M23 10h2M32 10h1M25 11h7M27 12h3M37 13h23M61 61h7M51 62h3M75 62h3M43 63h5M81 63h2M0 69h97M0 70h97"/>
<path stroke="#6e8e36" d="M25 9h1M31 9h1M25 10h1M31 10h1M0 13h37M80 14h9M57 61h4M68 61h4M43 62h5M50 62h1M78 62h6M0 67h65M73 67h24M0 68h66M72 68h25"/>
<path stroke="#708f33" d="M26 9h5M26 10h5M76 14h4M89 14h4M52 61h5M72 61h5M0 66h64M74 66h23"/>
<path stroke="#78922a" d="M0 14h35M62 14h1M42 60h5M49 60h35M0 63h43M48 63h2M52 63h1M83 63h14"/>
<path stroke="#76912d" d="M35 14h27M63 14h8M0 64h43M48 64h6M82 64h15"/>
<path stroke="#739030" d="M71 14h5M93 14h4M43 61h5M49 61h3M77 61h7M0 65h44M47 65h7M82 65h15"/>
<path stroke="#82961e" d="M0 15h74M95 15h2M42 59h16M71 59h13M0 60h42M47 60h2M84 60h13"/>
<path stroke="#809521" d="M74 15h21M58 59h13"/>
<path stroke="#a2a019" d="M0 16h97M0 58h41M84 58h13"/>
<path stroke="#c3aa14" d="M0 17h36M61 17h36M0 56h40M83 56h14"/>
<path stroke="#c8ac13" d="M36 17h25M40 56h43"/>
<path stroke="#d7b010" d="M0 18h35M63 18h9M93 18h4"/>
<path stroke="#dcb20f" d="M35 18h1M62 18h1M72 18h12M85 18h8M21 54h19M40 55h1M50 55h19M81 55h1"/>
<path stroke="#e1b30e" d="M36 18h26M84 18h1M0 54h21M82 54h15M41 55h9M69 55h12"/>
<path stroke="#ebb60c" d="M0 19h24M64 19h10M79 19h3M93 19h4M0 53h40M82 53h15M57 54h5"/>
<path stroke="#e6b40d" d="M24 19h12"/>
<path stroke="#f5b90a" d="M36 19h27M89 19h3M26 20h10M29 24h3M41 54h9M69 54h10M80 54h1"/>
<path stroke="#f0b80b" d="M63 19h1M74 19h5M82 19h1M86 19h3M92 19h1M40 54h1M50 54h7M62 54h7M81 54h1"/>
<path stroke="#f4b40b" d="M83 19h1M85 19h1M0 20h26M58 20h1M64 20h12M93 20h4M29 23h3M30 25h2M0 52h40M67 52h2M82 52h15M55 53h8M79 54h1"/>
<path stroke="#f4ac0d" d="M84 19h1M63 20h1M76 20h3M82 20h1M92 20h1M23 21h4M34 21h2M76 21h1M28 22h1M32 22h2M33 23h1M28 25h1M32 25h1M35 49h2M34 50h1M37 50h1M33 51h1M38 51h1M40 53h1M50 53h2M69 53h1M81 53h1"/>
<path stroke="#f2a20f" d="M36 20h1M59 20h1M62 20h1M89 20h2M78 21h1M81 21h1M25 22h1M35 22h1M26 23h1M34 23h1M27 25h1M33 25h1M29 26h1M31 26h1M33 50h1M38 50h1M53 52h2M63 52h3M41 53h5M72 53h9"/>
<path stroke="#f29e10" d="M37 20h1M55 20h2M60 20h2M85 20h1M79 21h2M82 21h1M91 21h1M0 22h25M55 22h24M90 22h7M25 23h1M26 24h1M28 26h1M32 26h1M79 26h1M41 35h1M35 48h1M32 50h1M39 50h1M51 52h2M81 52h1"/>
<path stroke="#f29a11" d="M38 20h17M83 20h1M59 21h1M79 22h4M24 23h1M79 23h5M79 24h4M34 25h1M79 25h1M36 48h1M33 49h1M38 49h1M0 50h32M66 50h31M70 51h1M50 52h1M70 52h1"/>
<path stroke="#f3a70e" d="M57 20h1M86 20h3M91 20h1M0 21h23M57 21h2M63 21h13M77 21h1M92 21h5M26 22h2M34 22h1M27 23h1M27 24h1M33 24h1M30 26h1M34 49h1M37 49h1M0 51h33M39 51h1M66 51h4M81 51h16M55 52h8M69 52h1M46 53h4M70 53h2"/>
<path stroke="#f4b00c" d="M79 20h3M27 21h7M29 22h3M28 23h1M32 23h1M78 23h1M28 24h1M32 24h1M78 24h1M29 25h1M35 50h2M34 51h4M66 52h1M52 53h3M63 53h6"/>
<path stroke="#f08c14" d="M84 20h1M55 21h1M84 21h1M86 22h1M0 24h24M52 24h26M85 24h1M88 24h9M83 25h1M26 26h1M28 27h1M32 27h1M33 48h1M38 48h1M0 49h31M66 49h31M52 51h2M41 52h4M75 52h5"/>
<path stroke="#ef8615" d="M36 21h1M87 22h2M86 23h2M86 24h1M24 25h1M84 25h1M86 25h1M25 26h1M35 26h1M80 26h1M33 27h1M80 27h1M32 48h1M39 48h1M51 51h1M72 51h3M79 51h1"/>
<path stroke="#ed7a17" d="M37 21h17M54 22h1M23 26h2M83 26h1M86 26h1M26 27h1M41 34h1M37 47h1M0 48h30M66 48h31M47 51h2"/>
<path stroke="#ee8016" d="M54 21h1M53 23h1M0 25h24M52 25h27M85 25h1M87 25h10M81 26h2M27 27h1M34 27h1M34 47h3M30 48h2M65 50h1M40 51h1M49 51h2M75 51h4"/>
<path stroke="#f19512" d="M56 21h1M62 21h1M83 21h1M85 21h3M90 21h1M83 22h1M0 23h24M52 23h1M54 23h24M84 23h1M88 23h9M25 24h1M83 24h1M87 24h1M26 25h1M27 26h1M33 26h1M42 35h1M34 48h1M37 48h1M32 49h1M39 49h1M56 51h6M65 51h1M40 52h1M48 52h2M71 52h1"/>
<path stroke="#f09013" d="M60 21h2M88 21h2M84 22h2M89 22h1M85 23h1M24 24h1M84 24h1M25 25h1M80 25h3M34 26h1M29 27h3M31 49h1M54 51h2M62 51h3M71 51h1M80 51h1M45 52h3M72 52h3M80 52h1"/>
<path stroke="#ea681a" d="M36 22h1M53 22h1M35 23h1M82 27h1M24 28h3M35 28h1M35 46h2M40 50h1M51 50h2"/>
<path stroke="#e85c1c" d="M37 22h15M84 27h1M86 27h1M0 29h27M34 29h2M53 29h31M89 29h8M46 50h3"/>
<path stroke="#e9621b" d="M52 22h1M83 27h1M0 28h24M52 28h29M82 28h1M88 28h9M27 29h7M0 46h35M37 46h3M59 46h3M66 46h31M65 49h1M49 50h2"/>
<path stroke="#e6501e" d="M36 23h1M51 24h1M35 25h1M51 25h1M87 28h1M0 31h36M57 31h28M89 31h8M40 35h1M0 44h40M59 44h38M53 49h12"/>
<path stroke="#e34e1d" d="M37 23h14M35 24h1M84 29h1M0 32h36M58 32h28M89 32h8M42 36h1M0 43h40M59 43h38M65 48h1M50 49h3"/>
<path stroke="#e7561d" d="M51 23h1M85 27h1M83 28h1M0 30h36M54 30h31M89 30h8M41 36h1M0 45h40M58 45h5M65 45h32M40 49h1M41 50h5"/>
<path stroke="#ec7418" d="M34 24h1M0 26h23M51 26h28M84 26h1M87 26h10M25 27h1M35 27h1M28 28h5M81 28h1M42 34h1M32 47h2M38 47h2M55 50h8M44 51h3"/>
<path stroke="#da4a1a" d="M36 24h4M43 24h8M85 28h1M65 46h1M65 47h1M59 48h3"/>
<path stroke="#d74819" d="M40 24h3M43 35h1M63 45h2M40 47h1M60 47h1M52 48h7M62 48h3"/>
<path stroke="#d44718" d="M36 25h1M50 25h1M36 26h1M52 29h1M85 29h1M88 30h1M85 31h1M88 32h1M37 34h1M40 36h1M58 46h1M62 46h1M59 47h1M61 47h1M41 48h11"/>
<path stroke="#d14617" d="M37 25h2M44 25h6M50 26h1M36 27h1M87 29h1M53 30h1M85 30h1M56 31h1M86 32h1M43 34h1M62 47h1"/>
<path stroke="#ce4416" d="M39 25h5M47 26h3M36 28h1M51 28h1M86 29h1M88 31h1M87 32h1M36 33h1M41 33h2M59 33h1M58 44h1M40 46h1M41 47h1M56 47h3M63 47h2"/>
<path stroke="#cb4215" d="M37 26h1M45 26h2M50 27h1M36 29h1M55 31h1M57 32h1M60 34h1M39 37h1M60 40h1M39 42h1M59 42h1M63 46h2M42 47h4M53 47h3"/>
<path stroke="#c84114" d="M38 26h1M44 26h1M46 27h4M36 30h1M86 30h2M36 31h1M86 31h1M36 32h1M38 33h1M43 36h1M40 45h1M46 47h1M51 47h2"/>
<path stroke="#c33f14" d="M39 26h1M43 26h1M37 27h1M45 27h1M48 28h3M51 29h1M52 30h1M54 31h1M87 31h1M37 33h1M40 33h1M58 33h1M60 35h1M60 36h1M60 37h1M60 38h1M60 39h1M58 43h1M40 44h1M41 46h1M56 46h2M47 47h4"/>
<path stroke="#be3d13" d="M40 26h3M44 27h1M46 28h2M48 29h3M56 32h1M39 38h1M39 41h1M59 41h1M57 45h1M42 46h3M54 46h2"/>
<path stroke="#eb6e19" d="M85 26h1M0 27h25M52 27h28M81 27h1M87 27h10M27 28h1M33 28h2M0 47h32M66 47h31M53 50h2M63 50h2M41 51h3"/>
<path stroke="#b93b12" d="M38 27h1M37 28h1M45 28h1M46 29h2M47 30h5M48 31h6M43 33h1M59 34h1M40 37h2M39 39h1M39 40h1M41 45h1M56 45h1M45 46h1M53 46h1"/>
<path stroke="#b43912" d="M39 27h1M43 27h1M37 29h1M45 29h1M37 30h1M46 30h1M37 31h1M46 31h2M37 32h1M46 32h10M57 33h1M44 34h1M44 35h1M59 35h1M50 36h10M42 37h1M52 37h8M59 38h1M59 39h1M59 40h1M58 42h1M40 43h1M57 44h1M42 45h2M54 45h2M46 46h1M52 46h1"/>
<path stroke="#aa3511" d="M40 27h2M44 29h1M44 30h1M38 31h1M44 31h1M40 32h1M45 36h2M47 37h1M40 38h1M48 38h1M49 39h1M50 40h3M52 41h3M40 42h1M54 42h1M54 43h1M42 44h1M45 45h1M47 46h1"/>
<path stroke="#af3712" d="M42 27h1M38 28h1M44 28h1M45 30h1M45 31h1M38 32h2M41 32h5M44 33h13M45 34h14M45 35h14M44 36h1M47 36h3M48 37h4M49 38h10M50 39h9M53 40h6M55 41h4M55 42h3M55 43h3M41 44h1M54 44h3M44 45h1M53 45h1M51 46h1"/>
<path stroke="#dd4c1b" d="M51 27h1M86 28h1M0 34h37M38 34h3M61 34h36M0 35h40M61 35h36M0 36h40M61 36h36M0 37h39M61 37h36M42 49h3"/>
<path stroke="#a03110" d="M39 28h1M43 29h1M43 30h1M40 31h1M42 31h1M45 37h1M41 38h1M47 38h1M40 39h1M40 40h1M48 40h1M40 41h1M50 41h1M52 42h1M42 43h1M46 45h1"/>
<path stroke="#9b2f10" d="M40 28h1M42 28h1M39 29h1M39 30h1M41 31h1M44 37h1M47 39h1M49 41h1M41 42h1M51 42h1M52 43h1M45 44h1M52 44h1"/>
<path stroke="#962d0f" d="M41 28h1M40 30h1M42 30h1M42 38h1M46 38h1M48 41h1M43 43h2M47 45h1M51 45h1"/>
<path stroke="#a53310" d="M43 28h1M38 29h1M38 30h1M39 31h1M43 31h1M43 37h1M46 37h1M48 39h1M49 40h1M51 41h1M53 42h1M41 43h1M53 43h1M43 44h2M53 44h1M52 45h1M48 46h3"/>
<path stroke="#e04d1c" d="M84 28h1M88 29h1M0 33h36M39 33h1M60 33h37M0 38h39M61 38h36M0 39h39M61 39h36M0 40h39M61 40h36M0 41h39M60 41h37M0 42h39M60 42h37M40 48h1M41 49h1M45 49h5"/>
<path stroke="#902b0e" d="M40 29h1M42 29h1M41 30h1M41 39h1M47 40h1M41 41h1M50 42h1M45 43h1M51 43h1M46 44h1"/>
<path stroke="#8a290e" d="M41 29h1M43 38h1M45 38h1M46 39h1M41 40h1M47 41h1M42 42h1M47 42h3M46 43h1M51 44h1M48 45h1M50 45h1"/>
<path stroke="#84270e" d="M44 38h1M43 42h1M46 42h1M47 43h1M47 44h1M49 45h1"/>
<path stroke="#7e250d" d="M42 39h1M46 40h1M42 41h1M46 41h1M44 42h2M48 43h1M50 43h1"/>
<path stroke="#72210c" d="M43 39h1M45 41h1M49 44h1"/>
<path stroke="#6c1f0c" d="M44 39h1M45 40h1M43 41h2"/>
<path stroke="#78230c" d="M45 39h1M42 40h1M49 43h1M48 44h1M50 44h1"/>
<path stroke="#661d0b" d="M43 40h2"/>
<path stroke="#d2ae11" d="M0 55h40M82 55h15"/>
<path stroke="#b0a417" d="M0 57h97"/>
<path stroke="#969c1b" d="M41 58h43"/>
<path stroke="#8f9a1c" d="M0 59h42M84 59h13"/>
<path stroke="#7d9424" d="M0 61h43M48 61h1M84 61h13"/>
<path stroke="#7a9327" d="M0 62h43M48 62h2M84 62h13"/>
<path stroke="#649fc6" d="M62 64h2M65 64h2M62 65h5"/>
</g>
</g>
<path fill="none" stroke="#000" stroke-width="1.8" stroke-linejoin="miter" stroke-linecap="square" d="M3.5 12.1L31.4 12.1L38.4 19L31.4 25.8L3.5 25.8M59.3 25.8L66.3 19L73.3 25.8L66.3 32.7L59.3 25.8M80.2 25.8L87.2 19L101.2 19L108.2 12.1L122.1 12.1L129.1 19L122.1 25.8L143.1 25.8L150 32.7L143.1 39.6L101.2 39.6L94.2 32.7L87.2 32.7L80.2 25.8M143.1 19L150 12.1L157 12.1L171 25.8L164 32.7L157 25.8L150 25.8L143.1 19M205.9 5.2L212.8 12.1L219.8 12.1L226.8 19L240.7 19L247.7 12.1L282.6 12.1L289.6 19L282.6 19L275.6 25.8L268.7 25.8L261.7 32.7L254.7 32.7L247.7 39.6L247.7 53.3L240.7 60.2L240.7 73.9L233.8 80.8L226.8 80.8M247.7 39.6L233.8 25.8L226.8 25.8L212.8 39.6L205.9 32.7L184.9 32.7L177.9 39.6L164 39.6L157 46.4L157 53.3L164 60.2L164 67L157 73.9L164 80.8L164 101.4L171 108.2L177.9 101.4L184.9 101.4L184.9 108.2L177.9 115.1L177.9 128.8L184.9 135.7L184.9 176.9L198.9 190.6L198.9 197.5L205.9 204.3L212.8 204.3L219.8 197.5L219.8 190.6L212.8 183.7L205.9 183.7L226.8 183.7L226.8 190.6L233.8 197.5L240.7 190.6L254.7 204.3L296.6 204.3L303.5 211.2L331.5 211.2L338.4 204.3L373.3 204.3L387.3 190.6L387.3 176.9L380.3 170L380.3 163.1L373.3 156.3L324.5 156.3L317.5 163.1L310.5 163.1L303.5 156.3L303.5 142.6L296.6 135.7L289.6 142.6L268.7 142.6L268.7 135.7L282.6 122L282.6 108.2L275.6 101.4L268.7 101.4L261.7 94.5L247.7 94.5L233.8 80.8M240.7 67L247.7 73.9L254.7 67L261.7 67L268.7 60.2L275.6 67L289.6 67L296.6 60.2L289.6 53.3L282.6 53.3L282.6 46.4L289.6 39.6L296.6 46.4L303.5 46.4L310.5 53.3L331.5 53.3L338.4 60.2L345.4 60.2L352.4 67L366.4 67L359.4 73.9L373.3 87.6L387.3 87.6L401.2 101.4L408.2 101.4L415.2 94.5L401.2 80.8L415.2 67L422.2 67L429.2 60.2L429.2 53.3L443.1 53.3M387.3 5.2L387.3 12.1L443.1 12.1M366.4 32.7L366.4 39.6L373.3 39.6L380.3 32.7L394.3 32.7L401.2 25.8L443.1 25.8M366.4 32.7L373.3 39.6M429.2 25.8L436.1 32.7L443.1 32.7M177.9 67L184.9 67L184.9 73.9L177.9 73.9L177.9 67M275.6 218.1L282.6 211.2L324.5 211.2L331.5 218.1"/>
</g>
<rect x="0" y="0" width="446.6" height="223.0" fill="none" stroke="#000" stroke-width="2.8"/><path d="M-8 0H0" stroke="#000" stroke-width="1.8"/><path d="M-15.5 37.2H0" stroke="#000" stroke-width="2.4"/><path d="M-8 74.3H0" stroke="#000" stroke-width="1.8"/><path d="M-15.5 111.5H0" stroke="#000" stroke-width="2.4"/><path d="M-8 148.7H0" stroke="#000" stroke-width="1.8"/><path d="M-15.5 185.8H0" stroke="#000" stroke-width="2.4"/><path d="M-8 223H0" stroke="#000" stroke-width="1.8"/><path d="M0 223V230.5" stroke="#000" stroke-width="1.8"/><path d="M37.2 223V230.5" stroke="#000" stroke-width="1.8"/><path d="M74.4 223V237.5" stroke="#000" stroke-width="2.2"/><path d="M111.7 223V230.5" stroke="#000" stroke-width="1.8"/><path d="M148.9 223V230.5" stroke="#000" stroke-width="1.8"/><path d="M186.1 223V230.5" stroke="#000" stroke-width="1.8"/><path d="M223.3 223V237.5" stroke="#000" stroke-width="2.2"/><path d="M260.5 223V230.5" stroke="#000" stroke-width="1.8"/><path d="M297.7 223V230.5" stroke="#000" stroke-width="1.8"/><path d="M335 223V230.5" stroke="#000" stroke-width="1.8"/><path d="M372.2 223V237.5" stroke="#000" stroke-width="2.2"/><path d="M409.4 223V230.5" stroke="#000" stroke-width="1.8"/><path d="M446.6 223V230.5" stroke="#000" stroke-width="1.8"/>
</g>
<g transform="translate(542.2 340.4)">
<g clip-path="url(#cp)">
<g shape-rendering="crispEdges">
<g transform="translate(-2.326 0) scale(4.6521 3.0972)" fill="none" stroke-width="1.03">
<path stroke="#4d8458" d="M0 0h4M34 0h4M4 1h1M33 1h4M35 2h3M38 3h2M40 4h2M43 5h1M45 6h2M48 7h2M52 8h2M94 8h2M58 9h2M88 9h2M70 10h8M50 62h10M43 63h2M68 63h1M39 64h1M73 64h1M36 65h1M76 65h1M34 66h1M32 67h1M77 67h1M31 68h1M77 68h2M29 69h2M78 69h1M27 70h1M78 70h1M25 71h2M77 71h2M26 72h2M75 72h2"/>
<path stroke="#508555" d="M4 0h2M26 0h8M5 1h1M26 1h7M5 2h1M31 2h4M5 3h1M35 3h3M4 4h1M38 4h2M0 5h3M41 5h2M43 6h2M47 7h1M50 8h2M96 8h1M56 9h2M90 9h2M66 10h4M78 10h5M47 62h3M60 62h3M42 63h1M69 63h2M38 64h1M74 64h1M35 65h1M77 65h1M33 66h1M31 67h1M78 67h1M30 68h1M79 68h1M28 69h1M79 69h2M25 70h2M79 70h3M22 71h3M79 71h3M23 72h3M77 72h3"/>
<path stroke="#548651" d="M6 0h20M6 1h20M6 2h1M23 2h8M31 3h4M36 4h2M3 5h1M39 5h2M42 6h1M45 7h2M49 8h1M54 9h2M92 9h2M62 10h4M83 10h3M45 62h2M63 62h2M41 63h1M71 63h1M36 64h2M75 64h1M33 65h2M78 65h2M31 66h2M78 66h1M30 67h1M79 67h1M28 68h2M80 68h2M26 69h2M81 69h2M23 70h2M82 70h2M19 71h3M82 71h3M20 72h3M80 72h4"/>
<path stroke="#49835c" d="M38 0h3M3 1h1M37 1h3M4 2h1M38 2h3M4 3h1M40 3h2M3 4h1M42 4h2M44 5h2M47 6h1M50 7h1M54 8h1M93 8h1M60 9h2M86 9h2M45 63h1M67 63h1M40 64h1M72 64h1M37 65h1M75 65h1M35 66h1M77 66h1M33 67h1M32 68h2M76 68h1M31 69h1M76 69h2M28 70h2M76 70h2M27 71h1M75 71h2M28 72h2M73 72h2"/>
<path stroke="#558496" d="M41 0h2M0 1h3M40 1h2M41 2h2M42 3h2M0 4h1M44 4h1M46 5h1M48 6h2M51 7h2M96 7h1M55 8h2M91 8h2M62 9h2M84 9h2M65 63h2M41 64h1M71 64h1M38 65h1M74 65h1M36 66h1M76 66h1M34 67h1M34 68h1M32 69h1M75 69h1M30 70h1M75 70h1M28 71h2M74 71h1M30 72h2M71 72h2"/>
<path stroke="#648ccc" d="M43 0h3M42 1h2M3 2h1M43 2h2M3 3h1M44 3h1M1 4h2M45 4h2M47 5h2M50 6h1M53 7h1M94 7h2M57 8h1M90 8h1M64 9h3M81 9h3M46 63h1M64 63h1M42 64h1M70 64h1M39 65h1M73 65h1M37 66h1M75 66h1M35 67h1M35 68h1M33 69h1M74 69h1M31 70h2M73 70h2M30 71h1M72 71h2M32 72h1M69 72h2"/>
<path stroke="#6491cb" d="M46 0h2M44 1h2M0 2h3M45 2h1M0 3h1M45 3h2M47 4h1M49 5h1M51 6h1M96 6h1M54 7h1M93 7h1M58 8h2M88 8h2M67 9h5M77 9h4M47 63h1M62 63h2M43 64h1M68 64h2M40 65h1M72 65h1M74 66h1M36 67h1M76 67h1M36 68h1M34 69h2M73 69h1M33 70h1M72 70h1M31 71h2M71 71h1M33 72h2M67 72h2"/>
<path stroke="#6496c9" d="M48 0h1M46 1h2M46 2h2M1 3h2M47 3h1M48 4h1M50 5h1M52 6h1M95 6h1M55 7h2M92 7h1M60 8h2M86 8h2M72 9h5M48 63h3M60 63h2M44 64h1M67 64h1M71 65h1M38 66h1M73 66h1M37 67h1M75 67h1M37 68h1M75 68h1M36 69h1M72 69h1M34 70h1M71 70h1M33 71h1M69 71h2M35 72h1M66 72h1"/>
<path stroke="#649bc8" d="M49 0h2M48 1h1M48 2h1M48 3h2M49 4h2M51 5h1M96 5h1M53 6h1M94 6h1M57 7h1M90 7h2M62 8h2M85 8h1M51 63h9M45 64h1M66 64h1M41 65h1M70 65h1M39 66h1M72 66h1M38 67h1M74 67h1M38 68h1M74 68h1M37 69h1M71 69h1M35 70h1M70 70h1M34 71h1M68 71h1M36 72h2M64 72h2"/>
<path stroke="#649fc6" d="M51 0h2M95 0h2M49 1h2M49 2h1M50 3h1M51 4h1M52 5h1M95 5h1M54 6h2M93 6h1M58 7h1M89 7h1M64 8h2M83 8h2M65 64h1M42 65h1M69 65h1M40 66h1M71 66h1M39 67h1M73 67h1M39 68h1M73 68h1M38 69h1M70 69h1M36 70h1M69 70h1M35 71h2M67 71h1M38 72h2M62 72h2"/>
<path stroke="#64a3c3" d="M53 0h1M94 0h1M51 1h1M96 1h1M50 2h2M51 3h1M96 3h1M52 4h1M95 4h2M53 5h1M94 5h1M56 6h1M91 6h2M59 7h2M88 7h1M66 8h2M80 8h3M46 64h1M64 64h1M43 65h1M68 65h1M41 66h1M40 67h1M72 67h1M72 68h1M39 69h1M69 69h1M37 70h1M67 70h2M37 71h1M65 71h2M40 72h1M60 72h2"/>
<path stroke="#64a8c0" d="M54 0h2M92 0h2M52 1h2M95 1h1M52 2h1M95 2h2M52 3h1M95 3h1M53 4h1M94 4h1M54 5h2M93 5h1M57 6h1M90 6h1M61 7h1M86 7h2M68 8h12M47 64h1M62 64h2M44 65h1M67 65h1M42 66h1M70 66h1M41 67h1M71 67h1M40 68h1M71 68h1M40 69h1M68 69h1M38 70h1M66 70h1M38 71h1M64 71h1M41 72h2M58 72h2"/>
<path stroke="#64acbe" d="M56 0h1M91 0h1M54 1h1M93 1h2M53 2h1M94 2h1M53 3h1M94 3h1M54 4h1M93 4h1M56 5h1M92 5h1M58 6h1M89 6h1M62 7h2M85 7h1M48 64h2M61 64h1M45 65h2M66 65h1M43 66h1M69 66h1M42 67h1M70 67h1M41 68h1M70 68h1M41 69h1M67 69h1M39 70h2M65 70h1M39 71h1M63 71h1M43 72h3M56 72h2"/>
<path stroke="#64b0bc" d="M57 0h2M89 0h2M55 1h1M92 1h1M54 2h1M93 2h1M54 3h1M93 3h1M55 4h1M92 4h1M57 5h1M91 5h1M59 6h1M88 6h1M64 7h1M83 7h2M50 64h2M58 64h3M65 65h1M44 66h1M68 66h1M43 67h1M69 67h1M42 68h1M69 68h1M42 69h1M65 69h2M41 70h1M64 70h1M40 71h2M61 71h2M46 72h10"/>
<path stroke="#64b4b9" d="M59 0h1M88 0h1M56 1h2M91 1h1M55 2h1M92 2h1M55 3h1M92 3h1M56 4h1M91 4h1M58 5h1M89 5h2M60 6h2M87 6h1M65 7h2M81 7h2M52 64h6M64 65h1M45 66h1M67 66h1M44 67h1M68 67h1M43 68h1M68 68h1M43 69h1M64 69h1M42 70h1M63 70h1M42 71h1M60 71h1"/>
<path stroke="#66b6ba" d="M60 0h2M86 0h2M58 1h1M89 1h2M56 2h2M91 2h1M56 3h1M91 3h1M57 4h1M90 4h1M59 5h1M88 5h1M62 6h1M85 6h2M67 7h3M78 7h3M63 65h1M46 66h1M66 66h1M45 67h1M67 67h1M44 68h1M67 68h1M44 69h1M63 69h1M43 70h1M61 70h2M43 71h2M58 71h2"/>
<path stroke="#69b8ba" d="M62 0h2M84 0h2M59 1h1M88 1h1M58 2h1M90 2h1M57 3h2M90 3h1M58 4h1M89 4h1M60 5h1M87 5h1M63 6h1M84 6h1M70 7h8M47 65h2M62 65h1M47 66h1M65 66h1M46 67h1M66 67h1M45 68h2M66 68h1M45 69h2M62 69h1M44 70h2M60 70h1M45 71h2M55 71h3"/>
<path stroke="#6cbaba" d="M64 0h2M82 0h2M60 1h2M87 1h1M59 2h1M88 2h2M59 3h1M89 3h1M59 4h1M88 4h1M61 5h1M86 5h1M64 6h2M82 6h2M49 65h1M60 65h2M48 66h1M64 66h1M47 67h1M65 67h1M47 68h1M65 68h1M47 69h1M60 69h2M46 70h2M58 70h2M47 71h8"/>
<path stroke="#6ebcbb" d="M66 0h3M80 0h2M62 1h1M85 1h2M60 2h1M87 2h1M60 3h1M87 3h2M60 4h2M87 4h1M62 5h2M85 5h1M66 6h2M80 6h2M50 65h3M58 65h2M49 66h2M63 66h1M48 67h1M64 67h1M48 68h1M64 68h1M48 69h2M58 69h2M48 70h3M55 70h3"/>
<path stroke="#70bebc" d="M69 0h11M63 1h2M83 1h2M61 2h1M86 2h1M61 3h1M86 3h1M62 4h1M85 4h2M64 5h1M83 5h2M68 6h3M77 6h3M53 65h5M51 66h3M62 66h1M49 67h2M63 67h1M49 68h2M63 68h1M50 69h8M51 70h4"/>
<path stroke="#73c0bc" d="M65 1h2M81 1h2M62 2h2M84 2h2M62 3h1M85 3h1M63 4h1M84 4h1M65 5h2M82 5h1M71 6h6M54 66h2M60 66h2M51 67h2M62 67h1M51 68h7M62 68h1"/>
<path stroke="#76c2bc" d="M67 1h2M79 1h2M64 2h1M83 2h1M63 3h2M84 3h1M64 4h1M83 4h1M67 5h1M80 5h2M58 66h2M53 67h4M61 67h1M61 68h1"/>
<path stroke="#78c4bd" d="M69 1h10M65 2h2M81 2h2M65 3h1M82 3h2M65 4h2M81 4h2M68 5h3M77 5h3M56 66h2M59 67h2M59 68h2"/>
<path stroke="#57874e" d="M7 2h16M6 3h1M25 3h6M5 4h1M32 4h4M4 5h1M36 5h3M39 6h3M43 7h2M47 8h2M52 9h2M94 9h2M60 10h2M86 10h3M65 62h2M39 63h2M72 63h1M35 64h1M76 64h2M32 65h1M30 66h1M79 66h1M28 67h2M80 67h2M27 68h1M82 68h1M24 69h2M83 69h2M19 70h4M84 70h3M14 71h5M85 71h6M13 72h7M84 72h7"/>
<path stroke="#7ac6be" d="M67 2h3M79 2h2M66 3h2M80 3h2M67 4h2M79 4h2M71 5h6M57 67h2M58 68h1"/>
<path stroke="#7dc8be" d="M70 2h9M68 3h2M78 3h2M69 4h4M75 4h4"/>
<path stroke="#5b884a" d="M7 3h18M6 4h1M26 4h6M33 5h3M37 6h2M41 7h2M45 8h2M50 9h2M96 9h1M57 10h3M89 10h2M44 62h1M67 62h2M38 63h1M73 63h2M34 64h1M78 64h1M31 65h1M29 66h1M80 66h2M27 67h1M82 67h2M24 68h3M83 68h2M21 69h3M85 69h3M14 70h5M87 70h6M0 71h14M91 71h6M0 72h13M91 72h6"/>
<path stroke="#80cac0" d="M70 3h8M73 4h2"/>
<path stroke="#5e8947" d="M7 4h19M5 5h1M27 5h6M0 6h4M33 6h4M38 7h3M42 8h3M48 9h2M54 10h3M91 10h3M67 11h14M53 61h4M42 62h2M69 62h2M37 63h1M75 63h1M33 64h1M79 64h2M30 65h1M80 65h1M27 66h2M82 66h1M25 67h2M84 67h1M22 68h2M85 68h3M16 69h5M88 69h5M0 70h14M93 70h4"/>
<path stroke="#628a43" d="M6 5h21M4 6h1M28 6h5M34 7h4M39 8h3M45 9h3M52 10h2M94 10h2M62 11h5M81 11h5M48 61h5M57 61h5M41 62h1M71 62h1M35 63h2M76 63h2M31 64h2M28 65h2M81 65h1M25 66h2M83 66h2M22 67h3M85 67h3M18 68h4M88 68h4M0 69h16M93 69h4"/>
<path stroke="#658b40" d="M5 6h23M1 7h2M29 7h5M36 8h3M42 9h3M49 10h3M96 10h1M59 11h3M86 11h4M45 61h3M62 61h4M39 62h2M72 62h2M34 63h1M78 63h2M30 64h1M26 65h2M82 65h2M23 66h2M85 66h2M19 67h3M88 67h4M4 68h14M92 68h5"/>
<path stroke="#698c3c" d="M0 7h1M3 7h26M30 8h6M38 9h4M46 10h3M55 11h4M90 11h3M44 61h1M66 61h2M37 62h2M74 62h2M32 63h2M80 63h1M28 64h2M81 64h2M24 65h2M84 65h2M20 66h3M87 66h4M11 67h8M92 67h5M0 68h4"/>
<path stroke="#6c8d39" d="M0 8h30M33 9h5M42 10h4M52 11h3M93 11h4M43 61h1M68 61h3M35 62h2M76 62h2M30 63h2M26 64h2M83 64h2M21 65h3M86 65h3M13 66h7M91 66h6M0 67h11"/>
<path stroke="#708f33" d="M0 9h16M28 10h9M43 11h5M59 12h5M84 12h6M47 60h16M38 61h2M73 61h3M31 62h2M25 63h3M83 63h2M18 64h5M88 64h4M0 65h16M94 65h3"/>
<path stroke="#6e8e36" d="M16 9h17M37 10h5M48 11h4M64 12h20M37 61h1M40 61h3M71 61h2M33 62h2M78 62h3M28 63h2M81 63h2M23 64h3M85 64h3M16 65h5M89 65h5M0 66h13"/>
<path stroke="#739030" d="M0 10h28M36 11h7M54 12h5M90 12h5M44 60h3M63 60h4M35 61h2M76 61h3M28 62h3M81 62h2M21 63h4M85 63h5M0 64h18M92 64h5"/>
<path stroke="#76912d" d="M0 11h36M48 12h6M95 12h2M43 60h1M67 60h4M32 61h3M79 61h2M24 62h4M83 62h3M11 63h10M90 63h7"/>
<path stroke="#7d9424" d="M0 12h21M53 13h8M87 13h8M41 59h8M62 59h7M30 60h5M80 60h1M0 61h22M88 61h9"/>
<path stroke="#7a9327" d="M21 12h20M61 13h26M49 59h13M35 60h1M75 60h5M22 61h6M82 61h6M0 62h16M94 62h3"/>
<path stroke="#78922a" d="M41 12h7M36 60h7M71 60h4M28 61h4M81 61h1M16 62h8M86 62h8M0 63h11"/>
<path stroke="#88981d" d="M0 13h18M63 14h22M43 58h24M19 59h14M81 59h10"/>
<path stroke="#82961e" d="M18 13h27M33 59h3M76 59h5M0 60h21M89 60h8"/>
<path stroke="#809521" d="M45 13h8M95 13h2M36 59h5M69 59h7M21 60h9M81 60h8"/>
<path stroke="#9c9e1a" d="M0 14h28M0 58h11"/>
<path stroke="#969c1b" d="M28 14h23M11 58h24M80 58h17"/>
<path stroke="#8f9a1c" d="M51 14h12M85 14h12M35 58h8M67 58h13M0 59h19M91 59h6"/>
<path stroke="#b0a417" d="M0 15h39"/>
<path stroke="#a9a218" d="M39 15h23M87 15h10M0 57h33M79 57h18"/>
<path stroke="#a2a019" d="M62 15h25M33 57h46"/>
<path stroke="#c3aa14" d="M0 16h71M87 16h10"/>
<path stroke="#bca815" d="M71 16h16M0 56h22M89 56h8"/>
<path stroke="#d7b010" d="M0 17h31M57 17h5M68 17h29M0 54h35M62 54h1M79 54h18"/>
<path stroke="#dcb20f" d="M31 17h26M62 17h6M35 54h1M61 54h1M63 54h1M78 54h1"/>
<path stroke="#e6b40d" d="M0 18h31M58 18h4M76 18h13M90 18h7M0 53h36M61 53h3M78 53h19"/>
<path stroke="#ebb60c" d="M31 18h1M57 18h1M62 18h2M66 18h10M89 18h1M25 19h6M80 19h4M86 19h1M88 19h1M28 22h1M64 53h1M77 53h1"/>
<path stroke="#f0b80b" d="M32 18h25M64 18h2M0 19h25M48 19h1M58 19h4M77 19h3M84 19h2M87 19h1M89 19h8M26 20h5M27 21h3M27 22h1M29 22h1M27 23h3M60 53h1M65 53h12"/>
<path stroke="#f4b40b" d="M31 19h1M57 19h1M63 19h5M71 19h3M0 20h24M48 20h1M58 20h10M80 20h5M86 20h11M25 21h1M25 22h1M84 22h1M26 23h1M30 23h1"/>
<path stroke="#f4b00c" d="M32 19h16M49 19h8M68 19h3M77 20h3M24 21h1M25 23h1M83 23h1M27 24h3M0 51h36M61 51h36"/>
<path stroke="#f5b90a" d="M62 19h1M74 19h3M24 20h2M85 20h1M26 21h1M30 21h1M85 21h1M26 22h1M30 22h1M83 24h1M0 52h36M61 52h36M36 53h24"/>
<path stroke="#f29e10" d="M31 20h1M56 20h1M69 20h4M77 21h1M0 22h22M52 22h18M85 22h12M23 23h1M81 24h1M27 25h3M30 48h1M32 48h1M29 49h1M33 49h1"/>
<path stroke="#f29a11" d="M32 20h16M49 20h7M68 21h1M76 21h1M78 21h2M80 22h1M22 23h1M80 23h1M24 24h1M26 25h1M30 25h1M36 35h2M31 47h2M33 48h1M28 49h1M34 49h1"/>
<path stroke="#f3a70e" d="M57 20h1M74 20h2M0 21h22M57 21h11M80 21h1M86 21h11M23 22h1M81 22h3M24 23h1M82 23h1M82 25h1M29 50h5M37 52h23"/>
<path stroke="#f2a20f" d="M68 20h1M73 20h1M22 22h1M81 23h1M25 24h1M82 24h1M31 48h1M30 49h3M0 50h29M34 50h2M61 50h36"/>
<path stroke="#f4ac0d" d="M76 20h1M22 21h2M81 21h4M24 22h1M26 24h1M30 24h1M36 52h1M60 52h1"/>
<path stroke="#ef8615" d="M31 21h1M52 21h2M70 21h2M70 22h1M75 22h1M76 23h1M77 24h2M22 25h2M26 26h1M30 26h1M31 46h1M25 48h3M35 48h1"/>
<path stroke="#ed7a17" d="M32 21h20M73 22h1M79 22h1M51 23h1M71 23h1M78 23h2M76 24h1M78 25h1M22 26h2M36 36h2M33 46h1M27 47h1M35 47h1M36 50h1M60 50h1"/>
<path stroke="#f08c14" d="M54 21h2M72 21h2M77 23h1M0 24h22M48 24h24M79 24h1M84 24h13M24 25h1M80 25h1M27 26h3M29 47h1M28 48h1M37 51h23"/>
<path stroke="#f19512" d="M56 21h1M75 21h1M0 23h22M48 23h1M52 23h19M84 23h13M23 24h1M80 24h1M25 25h1M30 47h1M29 48h1M0 49h28M35 49h1M61 49h36M36 51h1M60 51h1"/>
<path stroke="#f09013" d="M69 21h1M74 21h1M76 22h2M22 24h1M81 25h1M33 47h1M34 48h1"/>
<path stroke="#eb6e19" d="M31 22h1M51 22h1M49 23h1M72 23h2M75 24h1M80 26h1M0 27h25M47 27h27M82 27h15M28 46h1M34 46h1"/>
<path stroke="#e85c1c" d="M32 22h3M38 22h10M31 23h1M47 24h1M75 25h1M77 26h1M0 29h31M48 29h27M82 29h15M0 45h29M35 45h1M53 45h44M60 48h1M36 49h1"/>
<path stroke="#e7561d" d="M35 22h3M47 23h1M74 25h1M76 26h1M74 27h1M80 27h1M0 30h31M49 30h27M77 30h2M81 30h16M36 34h2M0 44h36M54 44h43"/>
<path stroke="#e9621b" d="M48 22h3M73 24h1M73 25h1M78 26h1M0 28h26M48 28h27M82 28h15M29 45h1M33 45h2M60 49h1"/>
<path stroke="#ec7418" d="M71 22h2M74 23h1M72 24h1M77 25h1M0 26h22M47 26h26M82 26h15M25 27h6M29 46h1M0 47h27M52 47h3M60 47h37"/>
<path stroke="#ee8016" d="M74 22h1M78 22h1M75 23h1M0 25h22M47 25h26M79 25h1M83 25h14M24 26h2M81 26h1M30 46h1M32 46h1M28 47h1M34 47h1M0 48h25M53 48h1M61 48h36"/>
<path stroke="#e34e1d" d="M32 23h1M40 23h7M31 24h1M75 26h1M78 27h1M81 29h1M0 32h32M35 32h1M52 32h45M0 42h35M55 42h42M55 47h1M59 47h1M36 48h1M52 48h1M37 49h16M54 49h6"/>
<path stroke="#e04d1c" d="M33 23h2M38 23h2M77 27h1M76 30h1M0 33h36M53 33h44M35 35h1M0 38h34M57 38h40M0 39h33M57 39h40M0 40h33M56 40h41M0 41h34M56 41h41"/>
<path stroke="#dd4c1b" d="M35 23h3M46 24h1M31 25h1M75 27h2M75 29h1M79 30h2M0 34h35M53 34h44M0 35h34M38 35h1M55 35h42M0 36h34M56 36h41M0 37h34M57 37h40M56 47h1M58 47h1M55 48h1M59 48h1"/>
<path stroke="#ea681a" d="M50 23h1M74 24h1M76 25h1M73 26h1M79 26h1M81 27h1M26 28h5M30 45h3M0 46h28M35 46h1M53 46h44M37 50h23"/>
<path stroke="#da4a1a" d="M32 24h1M41 24h5M46 25h1M47 28h1M75 28h1M80 28h1M35 34h1M52 46h1M36 47h1M57 47h1M51 48h1M56 48h3"/>
<path stroke="#d74819" d="M33 24h1M39 24h2M31 26h1M46 26h1M78 28h2M35 36h1M37 48h14"/>
<path stroke="#d44718" d="M34 24h1M38 24h1M45 25h1M31 27h1M77 28h1M80 29h1M31 30h1M32 32h1M38 36h1"/>
<path stroke="#d14617" d="M35 24h1M37 24h1M32 25h1M41 25h4M46 27h1M76 28h1M76 29h4M48 30h1M50 31h1M34 35h1M53 44h1M36 46h1M37 47h1M51 47h1"/>
<path stroke="#ce4416" d="M36 24h1M40 25h1M42 26h4M31 28h1M31 29h1M34 32h1M52 33h1M38 34h1M36 37h2M56 37h1M33 39h1M56 39h1M33 40h1M38 47h13"/>
<path stroke="#cb4215" d="M33 25h1M39 25h1M32 26h1M41 26h1M47 29h1M33 32h1M51 32h1M36 33h1M54 35h1M34 36h1M55 41h1M54 42h1M35 43h1M36 45h1M52 45h1"/>
<path stroke="#c84114" d="M34 25h1M38 25h1M40 26h1M41 27h5M46 28h1M32 31h1M49 31h1M37 33h1M55 36h1M56 38h1M37 46h1M51 46h1"/>
<path stroke="#be3d13" d="M35 25h1M37 25h1M33 27h1M39 27h1M32 28h1M40 28h2M32 29h1M41 29h6M32 30h1M47 30h1M48 31h1M36 32h1M50 32h1M52 34h1M53 35h1M35 37h1M55 40h1M36 44h1M51 45h1M43 46h6"/>
<path stroke="#b93b12" d="M36 25h1M34 26h1M38 26h1M33 28h1M39 28h1M33 29h1M39 29h2M33 30h1M39 30h8M33 31h3M41 31h7M38 33h1M51 33h1M39 35h1M39 36h1M54 36h1M38 37h1M55 37h1M34 38h1M35 42h1M52 44h1M37 45h1M50 45h1"/>
<path stroke="#c33f14" d="M33 26h1M39 26h1M32 27h1M40 27h1M42 28h4M34 37h1M34 41h1M53 43h1M38 46h5M49 46h2"/>
<path stroke="#af3712" d="M35 26h1M37 26h1M34 28h1M38 28h1M35 29h1M37 29h1M40 33h11M40 34h12M40 35h12M40 36h5M43 37h9M35 38h2M48 38h7M50 39h5M51 40h4M52 41h2M52 42h1M51 43h1M50 44h1M42 45h2M48 45h1"/>
<path stroke="#aa3511" d="M36 26h1M35 27h1M37 27h1M35 28h1M37 28h1M36 29h1M39 37h1M41 37h2M37 38h1M44 38h4M35 39h1M48 39h2M50 40h1M35 41h1M51 41h1M51 42h1M36 43h1M50 43h1M37 44h1M49 44h1M44 45h1M47 45h1"/>
<path stroke="#e6501e" d="M74 26h1M79 27h1M81 28h1M0 31h32M51 31h46M0 43h35M54 43h43M54 48h1M53 49h1"/>
<path stroke="#b43912" d="M34 27h1M38 27h1M34 29h1M38 29h1M34 30h5M36 31h5M37 32h13M39 33h1M39 34h1M52 35h1M45 36h9M52 37h3M55 38h1M34 39h1M55 39h1M34 40h1M54 41h1M53 42h1M52 43h1M51 44h1M38 45h4M49 45h1"/>
<path stroke="#a53310" d="M36 27h1M36 28h1M40 37h1M43 38h1M46 39h2M35 40h1M49 40h1M50 41h1M50 42h1M38 44h1M45 45h2"/>
<path stroke="#a03110" d="M38 38h1M42 38h1M36 39h1M44 39h2M48 40h1M49 41h1M36 42h1M49 42h1M49 43h1M39 44h4M48 44h1"/>
<path stroke="#962d0f" d="M39 38h2M37 39h1M45 40h2M36 41h1M48 41h1M48 43h1M44 44h1M47 44h1"/>
<path stroke="#9b2f10" d="M41 38h1M43 39h1M36 40h1M47 40h1M37 43h1M43 44h1"/>
<path stroke="#8a290e" d="M38 39h1M41 39h1M37 40h1M43 40h1M47 41h1M39 43h3M43 43h1M47 43h1"/>
<path stroke="#7e250d" d="M39 39h2M38 42h1M42 42h3M46 42h1M45 43h2"/>
<path stroke="#902b0e" d="M42 39h1M44 40h1M37 42h1M48 42h1M38 43h1M42 43h1M45 44h2"/>
<path stroke="#78230c" d="M38 40h1M42 41h1M41 42h1M45 42h1"/>
<path stroke="#6c1f0c" d="M39 40h2M41 41h1"/>
<path stroke="#72210c" d="M41 40h1M38 41h1M39 42h2"/>
<path stroke="#84270e" d="M42 40h1M37 41h1M43 41h4M47 42h1M44 43h1"/>
<path stroke="#661d0b" d="M39 41h1"/>
<path stroke="#601b0a" d="M40 41h1"/>
<path stroke="#e1b30e" d="M36 54h25M64 54h14"/>
<path stroke="#c8ac13" d="M0 55h34M79 55h18"/>
<path stroke="#cdad12" d="M34 55h45"/>
<path stroke="#b6a616" d="M22 56h67"/>
</g>
</g>
<path fill="none" stroke="#000" stroke-width="1.8" stroke-linejoin="miter" stroke-linecap="square" d="M45.4 25.8L52.3 19L59.3 19L66.3 12.1L94.2 12.1L101.2 19L115.1 19L122.1 25.8L115.1 32.7L87.2 32.7L80.2 39.6L73.3 39.6L66.3 32.7L73.3 25.8L66.3 25.8L59.3 32.7L52.3 32.7L45.4 25.8M143.1 19L150 12.1L157 12.1L164 19L164 25.8L157 32.7L143.1 19M136.1 39.6L143.1 32.7L212.8 32.7L219.8 25.8L233.8 39.6L233.8 46.4L219.8 60.2L219.8 73.9L212.8 80.8L205.9 80.8M136.1 39.6L143.1 46.4L143.1 94.5L150 101.4L157 101.4L164 94.5L164 101.4L157 108.2L157 115.1L150 122L164 135.7L164 163.1L157 170L157 176.9L171 190.6L177.9 183.7L198.9 183.7L219.8 204.3L261.7 204.3L268.7 211.2L352.4 211.2L359.4 204.3L366.4 204.3L373.3 197.5L373.3 183.7L366.4 176.9L366.4 170L359.4 163.1L296.6 163.1L289.6 170L282.6 163.1L282.6 149.4L275.6 142.6L254.7 142.6L247.7 149.4L240.7 149.4L240.7 142.6L261.7 122L261.7 115.1L254.7 108.2L247.7 108.2L233.8 94.5L226.8 94.5L212.8 80.8M219.8 67L226.8 73.9L233.8 73.9L240.7 67L261.7 67L268.7 60.2L268.7 46.4L275.6 46.4L289.6 60.2L310.5 60.2L317.5 67L324.5 67L338.4 80.8L352.4 94.5L359.4 87.6L366.4 94.5L373.3 94.5L380.3 87.6L380.3 80.8L401.2 60.2L401.2 53.3L408.2 60.2L415.2 60.2L422.2 53.3L422.2 39.6L415.2 32.7L401.2 32.7L394.3 25.8L380.3 25.8L352.4 46.4L338.4 46.4L338.4 39.6L359.4 39.6L366.4 32.7L387.3 32.7L394.3 25.8M233.8 46.4L254.7 25.8L275.6 25.8L275.6 19L282.6 12.1L436.1 12.1L443.1 19L436.1 25.8L394.3 25.8M247.7 19L254.7 12.1L261.7 19L254.7 25.8L247.7 19M157 46.4L157 53.3M157 73.9L164 67L171 67L164 73.9L157 73.9M143.1 218.1L150 211.2L157 211.2L164 204.3L171 204.3L177.9 211.2L226.8 211.2L233.8 218.1M331.5 218.1L338.4 211.2L373.3 211.2L380.3 218.1"/>
</g>
<rect x="0" y="0" width="446.6" height="223.0" fill="none" stroke="#000" stroke-width="2.8"/><path d="M-8 0H0" stroke="#000" stroke-width="1.8"/><path d="M-15.5 37.2H0" stroke="#000" stroke-width="2.4"/><path d="M-8 74.3H0" stroke="#000" stroke-width="1.8"/><path d="M-15.5 111.5H0" stroke="#000" stroke-width="2.4"/><path d="M-8 148.7H0" stroke="#000" stroke-width="1.8"/><path d="M-15.5 185.8H0" stroke="#000" stroke-width="2.4"/><path d="M-8 223H0" stroke="#000" stroke-width="1.8"/><path d="M0 223V230.5" stroke="#000" stroke-width="1.8"/><path d="M37.2 223V230.5" stroke="#000" stroke-width="1.8"/><path d="M74.4 223V237.5" stroke="#000" stroke-width="2.2"/><path d="M111.7 223V230.5" stroke="#000" stroke-width="1.8"/><path d="M148.9 223V230.5" stroke="#000" stroke-width="1.8"/><path d="M186.1 223V230.5" stroke="#000" stroke-width="1.8"/><path d="M223.3 223V237.5" stroke="#000" stroke-width="2.2"/><path d="M260.5 223V230.5" stroke="#000" stroke-width="1.8"/><path d="M297.7 223V230.5" stroke="#000" stroke-width="1.8"/><path d="M335 223V230.5" stroke="#000" stroke-width="1.8"/><path d="M372.2 223V237.5" stroke="#000" stroke-width="2.2"/><path d="M409.4 223V230.5" stroke="#000" stroke-width="1.8"/><path d="M446.6 223V230.5" stroke="#000" stroke-width="1.8"/>
</g>
<g transform="translate(1013.6 340.4)">
<g clip-path="url(#cp)">
<rect width="446.6" height="223.0" fill="#bebebe"/>
<g shape-rendering="crispEdges">
<g transform="translate(-2.326 0) scale(4.6521 3.0972)" fill="none" stroke-width="1.03">
<path stroke="#f7f7ff" d="M15 3h1M18 3h1M20 3h2M37 3h1M56 3h1M63 3h1M17 4h1M21 4h1M27 4h1M29 4h1M32 4h1M37 4h1M41 4h1M43 4h1M51 4h1M56 4h1M30 5h2M52 5h1M22 6h2M26 6h1M34 6h1M53 6h2M18 7h1M21 7h1M26 7h2M36 7h2M89 7h1M0 8h1M2 8h2M17 8h1M20 8h1M25 8h2M31 8h2M37 8h1M89 8h1M94 8h1M11 9h1M29 9h1M31 9h2M37 9h2M59 9h1M90 9h2M94 9h1M9 10h1M21 10h1M28 10h1M32 10h1M44 10h1M56 10h1M90 10h2M7 11h1M15 11h2M31 11h1M34 11h1M56 11h1M1 12h1M10 12h1M16 12h1M19 12h2M47 12h1M53 12h1M13 13h1M18 13h2M26 13h2M19 14h1M28 14h1M90 14h2M19 15h1M21 15h1M25 15h2M30 15h2M47 15h1M18 16h1M20 16h2M32 16h1M46 16h1M52 16h4M57 16h1M18 17h1M20 17h1M28 17h1M55 17h2M26 18h2M53 18h1M26 19h2M48 19h1M50 19h2M59 19h1M15 20h1M26 20h2M50 20h1M56 20h2M82 20h1M15 21h1M24 21h1M27 21h2M47 21h2M57 21h1M62 21h1M64 21h1M75 21h1M25 22h1M46 22h1M51 22h1M63 22h2M67 22h1M77 22h1M26 23h1M54 23h1M64 23h1M66 23h1M70 23h1M72 23h1M77 23h1M81 23h1M83 23h1M18 24h2M25 24h2M73 24h1M54 25h1M76 25h1M50 26h1M52 26h1M65 26h1M73 26h1M20 27h1M48 27h1M52 27h1M56 27h1M58 27h2M80 27h1M51 28h2M23 29h1M52 29h2M76 29h1M81 29h1M47 30h1M52 30h1M80 30h1M47 31h1M49 31h2M53 31h1M57 32h2M80 32h1M27 33h1M46 33h2M51 33h1M57 33h1M59 33h1M75 33h1M27 34h1M29 34h1M75 34h2M78 34h1M29 35h1M51 35h2M55 35h1M58 35h1M77 35h1M80 35h1M28 36h1M54 36h1M77 36h1M53 37h2M75 37h1M78 37h2M27 38h2M51 38h1M75 38h1M80 38h1M34 39h1M53 39h1M57 39h1M78 39h1M34 40h2M37 40h1M32 41h2M35 41h1M37 41h1M52 41h1M56 41h1M59 41h1M54 42h1M56 42h1M32 43h1M53 43h1M57 43h1M31 44h1M54 44h1M57 44h1M60 44h1M31 45h1M37 45h1M56 45h1M61 45h1M33 46h1M55 46h1M57 46h1M31 47h3M53 47h2M29 48h1M29 49h1M32 49h1M30 50h1M28 51h1M32 51h1M1 53h1M2 54h1M28 55h1M66 55h1M28 56h1M28 57h1M31 62h1M30 63h1M66 63h1M37 67h2M76 68h1M43 71h1M69 71h1M12 72h1M55 72h1"/>
<path stroke="#ffffff" d="M16 3h1M19 3h1M24 3h2M35 3h1M39 3h1M57 3h2M62 3h1M15 4h1M18 4h2M25 4h1M39 4h1M42 4h1M77 4h1M25 5h3M38 5h1M42 5h1M53 5h1M56 5h1M16 6h1M24 6h2M27 6h2M38 6h1M22 7h1M24 7h1M30 7h4M35 7h1M9 8h1M19 8h1M22 8h1M27 8h2M34 8h1M0 9h2M3 9h1M12 9h1M20 9h2M25 9h1M27 9h2M36 9h1M86 9h1M11 10h3M19 10h1M26 10h1M34 10h1M36 10h1M38 10h1M24 11h1M26 11h1M32 11h2M35 11h1M90 11h1M93 11h1M3 12h2M11 12h1M15 12h1M17 12h2M27 12h2M30 12h2M33 12h1M14 13h1M20 13h1M32 13h1M50 13h2M5 14h1M17 14h2M21 14h1M31 14h2M46 14h1M55 14h1M23 15h1M28 15h1M90 15h1M26 16h1M50 16h1M27 17h1M33 17h1M15 18h1M22 18h1M24 18h1M28 18h1M15 19h1M19 19h1M22 19h2M49 19h1M54 19h1M64 19h1M67 19h1M19 20h1M24 20h1M28 20h1M64 20h1M66 20h1M85 20h1M18 21h1M55 21h2M61 21h1M67 21h1M77 21h1M24 22h1M49 22h2M65 22h1M46 23h1M58 23h1M62 23h1M65 23h1M67 23h1M51 24h4M56 24h1M64 24h1M67 24h1M71 24h1M51 25h2M55 25h2M19 26h1M47 26h1M51 26h1M53 26h1M57 26h3M63 26h2M71 26h1M47 27h1M49 27h1M60 27h1M62 27h1M64 27h1M70 27h1M73 27h1M44 28h1M49 28h1M60 28h1M74 28h1M45 29h2M50 29h2M54 29h2M58 29h1M80 29h1M24 30h1M45 30h2M48 30h2M51 30h1M54 30h2M25 31h1M46 31h1M54 31h1M31 32h1M50 32h1M62 32h1M30 33h1M49 33h2M56 33h1M60 33h1M79 33h1M30 34h1M34 34h1M46 34h1M48 34h1M27 35h2M56 35h1M59 35h1M79 35h1M35 36h1M51 36h1M59 36h1M74 36h1M29 37h1M26 38h1M38 38h1M53 38h1M57 38h1M76 38h1M38 39h1M51 39h1M79 39h2M28 40h1M30 40h1M33 40h1M53 40h1M38 41h1M53 41h1M57 41h2M61 41h1M28 42h1M30 42h1M51 42h1M51 43h1M58 43h1M60 43h1M32 44h1M37 44h1M52 44h1M90 44h1M54 45h1M29 46h1M31 46h1M52 46h1M34 47h1M55 47h1M31 48h2M95 51h1M29 52h1M32 52h1M0 53h1M29 55h1M29 56h1M66 56h1M29 57h1M37 57h2M68 58h1M30 64h1M66 64h1M32 65h1M67 65h1M70 65h1M39 67h1M46 67h1M75 67h1M37 68h1M85 69h1M26 70h1M37 70h1M87 70h1M26 71h1M8 72h4M20 72h1M32 72h1M41 72h2M54 72h1M62 72h1M89 72h1M96 72h1"/>
<path stroke="#e7e7ff" d="M17 3h1M31 3h3M59 3h1M65 3h1M69 3h1M72 3h2M22 4h1M28 4h1M30 4h1M34 4h1M58 4h1M62 4h1M67 4h2M73 4h1M18 5h1M21 5h2M28 5h1M74 5h1M76 5h1M15 6h1M18 6h1M20 6h1M33 6h1M36 6h2M39 6h3M55 6h2M58 6h1M76 6h1M17 7h1M28 7h1M38 7h1M42 7h1M54 7h2M59 7h1M74 7h1M5 8h1M8 8h1M11 8h1M18 8h1M39 8h1M53 8h4M64 8h1M86 8h1M93 8h1M8 9h1M17 9h1M19 9h1M24 9h1M55 9h1M58 9h1M89 9h1M92 9h1M4 10h1M18 10h1M31 10h1M52 10h1M59 10h2M81 10h1M93 10h2M4 11h1M8 11h1M10 11h2M13 11h2M54 11h1M59 11h2M91 11h1M94 11h1M5 12h1M9 12h1M12 12h2M55 12h1M58 12h1M60 12h1M15 13h1M52 13h1M91 13h1M15 14h1M20 14h1M24 14h1M26 14h1M52 14h3M56 14h1M15 15h3M48 15h1M53 15h2M58 15h1M19 16h1M59 16h1M49 17h1M51 17h1M53 17h1M29 18h1M49 18h1M51 18h1M55 18h1M63 18h1M46 19h1M55 19h1M66 19h1M86 19h1M48 20h1M60 20h1M46 21h1M51 21h1M66 21h1M68 21h1M71 21h1M73 21h2M82 21h1M55 22h1M60 22h1M68 22h1M73 22h1M75 22h1M25 23h1M76 23h1M17 24h1M76 24h1M80 24h1M64 25h1M75 25h1M77 25h1M80 25h1M18 26h1M51 27h1M74 27h1M76 27h1M78 27h1M24 29h1M75 29h1M44 30h1M77 30h1M52 31h1M78 31h1M51 32h1M55 32h2M75 32h2M31 33h1M54 33h1M76 33h1M80 33h1M51 34h1M54 34h2M74 34h1M54 35h1M75 35h1M53 36h1M75 36h1M78 36h1M76 37h1M78 38h1M58 39h1M29 40h1M52 40h1M34 42h1M36 43h1M55 43h1M36 44h1M56 44h1M32 45h1M34 45h1M36 45h1M53 45h1M53 46h1M29 47h1M35 47h1M30 48h1M34 48h1M31 49h1M53 50h1M29 51h1M63 62h1"/>
<path stroke="#dfdfff" d="M22 3h2M30 3h1M66 3h1M16 4h1M33 4h1M59 4h1M64 4h1M69 4h1M29 5h1M40 5h1M57 5h1M59 5h1M61 5h1M70 5h1M72 5h1M75 5h1M17 6h1M32 6h1M42 6h1M74 6h2M16 7h1M34 7h1M41 7h1M57 7h1M64 7h1M75 7h1M87 7h1M6 8h2M16 8h1M29 8h2M58 8h2M65 8h1M67 8h2M83 8h1M88 8h1M92 8h1M13 9h1M15 9h1M26 9h1M30 9h1M54 9h1M60 9h1M87 9h2M93 9h1M95 9h1M7 10h1M16 10h2M35 10h1M42 10h1M57 10h2M82 10h1M96 10h1M9 11h1M12 11h1M52 11h1M58 11h1M77 11h1M82 11h1M8 12h1M24 12h1M36 12h1M51 12h2M54 12h1M57 12h1M59 12h1M57 13h1M51 14h1M57 14h1M18 15h1M49 15h1M14 16h1M17 16h1M48 16h2M48 17h1M58 17h2M48 18h1M67 18h1M80 18h1M86 18h1M82 19h2M77 20h1M78 21h2M70 22h3M78 22h1M80 22h1M75 23h1M80 23h1M74 24h1M74 26h1M78 26h1M75 27h1M79 27h1M75 28h1M78 28h1M75 30h2M29 31h1M75 31h1M28 32h2M81 33h1M50 34h1M53 34h1M74 35h1M80 36h1M27 37h1M34 41h1M33 42h1M35 42h1M34 43h1M56 43h1M61 44h1M33 45h1M54 46h1M32 50h1"/>
<path stroke="#ffefef" d="M26 3h1M38 3h1M41 3h1M70 3h1M55 4h1M54 5h1M19 7h1M22 9h1M1 10h1M23 10h1M1 11h2M17 11h1M19 11h1M2 12h1M21 12h1M32 12h1M34 12h1M28 13h2M31 13h1M47 13h1M47 14h1M22 15h1M24 16h1M21 17h1M26 17h1M34 17h1M54 17h1M52 18h1M21 19h1M52 19h1M57 19h1M23 20h1M22 21h1M25 21h1M16 22h1M20 22h1M27 22h1M59 22h1M82 22h3M20 23h1M23 23h1M48 23h1M68 23h1M20 24h1M24 24h1M48 24h1M58 24h2M66 24h1M70 24h1M81 24h1M45 25h1M61 25h1M63 25h1M65 25h1M68 25h1M70 25h1M72 25h2M20 26h1M54 26h1M60 26h2M67 26h2M63 27h1M68 27h1M72 27h1M21 28h1M46 28h1M54 28h1M58 28h2M62 28h1M68 28h1M29 29h1M48 29h2M60 29h1M70 29h1M23 30h1M59 30h1M69 30h1M44 31h2M59 31h1M74 31h1M44 32h1M60 32h2M29 33h1M61 34h1M57 36h1M35 37h1M37 37h1M55 37h1M57 37h1M34 38h1M56 38h1M35 39h1M37 39h1M39 39h1M54 39h2M76 39h1M27 40h1M54 40h1M59 40h1M81 40h1M31 41h1M29 43h2M29 44h2M55 44h1M91 44h1M29 45h1M60 45h1M88 46h1M92 46h1M52 47h1M56 47h1M55 48h1M96 48h1M33 49h1M55 49h1M33 51h1M93 51h1M30 52h1M93 52h1M2 53h1M28 53h1M31 53h1M29 54h1M67 55h1M67 56h1M30 57h1M32 57h1M66 57h2M29 58h1M31 61h1M32 62h1M61 62h2M64 62h1M70 62h1M31 63h1M61 63h1M63 63h1M67 63h1M69 63h1M83 63h1M89 63h1M31 64h2M64 64h2M70 64h1M83 64h1M86 64h1M92 64h2M25 65h2M30 65h2M46 65h1M64 65h1M83 65h1M88 65h1M92 65h2M29 66h1M32 66h1M53 66h1M66 66h2M75 66h1M29 67h1M47 67h1M76 67h1M88 67h1M96 67h1M26 68h1M28 68h1M38 68h1M55 68h1M65 68h1M96 68h1M0 69h1M20 69h1M30 69h1M32 69h1M40 69h1M59 69h1M67 69h2M86 69h1M25 70h1M27 70h1M33 70h1M40 70h3M45 70h1M59 70h1M62 70h1M68 70h1M73 70h1M80 70h1M89 70h1M94 70h1M20 71h1M51 71h1M58 71h1M65 71h1M70 71h1M96 71h1M4 72h3M33 72h1M36 72h1M40 72h1M50 72h2M53 72h1M64 72h2M67 72h2M70 72h2"/>
<path stroke="#efefff" d="M27 3h3M34 3h1M60 3h2M67 3h2M71 3h1M74 3h1M23 4h2M26 4h1M35 4h2M40 4h1M57 4h1M63 4h1M66 4h1M70 4h2M74 4h1M15 5h2M20 5h1M36 5h2M39 5h1M41 5h1M55 5h1M19 6h1M21 6h1M52 6h1M87 6h1M29 7h1M56 7h1M58 7h1M88 7h1M90 7h1M12 8h2M21 8h1M24 8h1M36 8h1M42 8h1M87 8h1M91 8h1M4 9h2M33 9h2M39 9h2M56 9h1M14 10h2M20 10h1M24 10h1M27 10h1M29 10h2M33 10h1M37 10h1M43 10h1M87 10h1M89 10h1M92 10h1M95 10h1M5 11h2M25 11h1M30 11h1M36 11h2M50 11h1M55 11h1M57 11h1M89 11h1M92 11h1M95 11h1M0 12h1M7 12h1M49 12h2M56 12h1M92 12h3M6 13h1M12 13h1M16 13h2M30 13h1M48 13h1M54 13h3M90 13h1M13 14h2M16 14h1M25 14h1M27 14h1M30 14h1M48 14h1M50 14h1M14 15h1M20 15h1M24 15h1M27 15h1M32 15h1M45 15h2M50 15h3M55 15h1M57 15h1M86 15h1M15 16h2M28 16h1M31 16h1M47 16h1M51 16h1M58 16h1M15 17h1M17 17h1M47 17h1M52 17h1M57 17h1M85 17h1M18 18h2M30 18h1M54 18h1M57 18h1M59 18h1M18 19h1M29 19h1M47 19h1M60 19h1M63 19h1M68 19h1M47 20h1M51 20h1M54 20h1M59 20h1M67 20h1M81 20h1M86 20h1M50 21h1M54 21h1M59 21h1M65 21h1M72 21h1M76 21h1M18 22h1M47 22h1M62 22h1M66 22h1M69 22h1M74 22h1M76 22h1M81 22h1M18 23h1M51 23h2M69 23h1M73 23h1M57 24h1M18 25h1M53 25h1M74 25h1M75 26h1M77 26h1M69 27h1M20 28h1M27 28h1M29 28h1M47 28h1M56 28h1M73 28h1M22 29h1M74 29h1M77 29h1M50 30h1M53 30h1M74 30h1M48 31h1M57 31h2M76 31h1M81 31h1M25 32h1M27 32h1M30 32h1M45 32h2M48 32h1M59 32h1M74 32h1M81 32h1M28 33h1M55 33h1M74 33h1M31 34h1M47 34h1M79 34h3M76 35h1M78 35h1M27 36h1M29 36h1M52 36h1M76 36h1M79 36h1M28 37h1M58 37h1M77 37h1M80 37h1M29 38h1M58 38h1M77 38h1M79 38h1M28 39h1M52 39h1M77 39h1M36 40h1M28 41h1M36 41h1M52 42h2M55 42h1M57 42h1M61 42h1M33 43h1M54 43h1M61 43h1M33 44h2M52 45h1M92 45h1M33 48h1M30 49h1M29 50h1M31 50h1M30 51h2M28 54h1M59 66h1M21 72h1M63 72h1"/>
<path stroke="#fff7f7" d="M36 3h1M42 3h1M64 3h1M20 4h1M38 4h1M52 4h3M75 4h1M19 5h1M23 5h2M29 6h2M20 7h1M23 7h1M1 8h1M10 8h1M23 8h1M33 8h1M35 8h1M2 9h1M9 9h1M35 9h1M0 10h1M2 10h1M10 10h1M25 10h1M3 11h1M20 11h1M27 11h3M14 12h1M29 12h1M35 12h1M91 12h1M46 13h1M29 14h1M29 15h1M33 15h1M56 15h1M22 16h2M25 16h1M27 16h1M29 16h2M33 16h1M56 16h1M19 17h1M22 17h1M30 17h1M17 18h1M20 18h2M23 18h1M25 18h1M31 18h1M56 18h1M17 19h1M20 19h1M24 19h1M28 19h1M53 19h1M17 20h2M22 20h1M25 20h1M46 20h1M52 20h1M55 20h1M58 20h1M63 20h1M65 20h1M21 21h1M23 21h1M26 21h1M58 21h1M60 21h1M63 21h1M85 21h2M17 22h1M19 22h1M21 22h3M48 22h1M58 22h1M61 22h1M85 22h1M17 23h1M24 23h1M27 23h1M47 23h1M50 23h1M63 23h1M82 23h1M45 24h1M50 24h1M55 24h1M62 24h1M65 24h1M72 24h1M19 25h2M57 25h3M66 25h1M44 26h1M49 26h1M55 26h1M62 26h1M70 26h1M72 26h1M44 27h1M50 27h1M55 27h1M57 27h1M61 27h1M67 27h1M28 28h1M45 28h1M48 28h1M50 28h1M55 28h1M57 28h1M63 28h1M69 28h1M21 29h1M44 29h1M47 29h1M56 29h1M59 29h1M73 29h1M25 30h1M56 30h3M26 31h1M51 31h1M55 31h2M26 32h1M47 32h1M49 32h1M26 33h1M45 33h1M48 33h1M58 33h1M28 34h1M56 34h1M59 34h1M81 36h1M36 37h1M52 37h1M59 37h1M74 37h1M81 37h1M35 38h1M52 38h1M55 38h1M27 39h1M29 39h1M33 39h1M36 39h1M56 39h1M32 40h1M38 40h1M56 40h2M80 40h1M29 41h2M54 41h2M37 42h2M58 42h2M31 43h1M37 43h1M52 43h1M92 44h1M55 45h1M57 45h1M90 45h2M30 46h1M34 46h1M56 46h1M90 46h1M30 47h1M35 48h1M56 48h1M94 49h1M33 50h1M54 50h1M96 50h1M28 52h1M31 52h1M29 53h1M1 54h1M30 54h2M96 54h1M30 55h1M95 55h2M30 56h2M68 57h1M37 58h1M71 62h1M32 63h1M64 63h2M87 64h2M27 65h1M54 65h1M65 65h1M86 65h2M45 66h1M55 66h1M58 66h1M27 67h1M33 67h1M58 67h1M27 68h1M30 68h1M40 68h1M75 68h1M85 68h1M87 68h1M89 68h1M41 69h1M65 69h2M87 69h2M90 69h1M32 70h1M85 70h1M88 70h1M41 71h1M53 71h1M55 71h2M61 71h1M67 71h1M86 71h1M26 72h2M37 72h1M43 72h1M52 72h1M56 72h1M61 72h1M88 72h1M90 72h1"/>
<path stroke="#ffe7e7" d="M40 3h1M54 3h2M76 4h1M43 5h1M25 7h1M10 9h1M23 9h1M0 11h1M21 13h1M23 14h1M16 17h1M25 17h1M29 17h1M25 19h1M20 20h2M53 20h1M61 20h1M28 22h1M19 23h1M21 23h2M49 23h1M60 23h2M21 24h1M23 24h1M47 24h1M49 24h1M63 24h1M68 24h2M50 25h1M62 25h1M69 25h1M21 26h1M48 26h1M56 26h1M66 26h1M69 26h1M21 27h1M45 27h2M53 27h1M71 27h1M53 28h1M61 28h1M67 28h1M57 29h1M62 29h1M68 29h2M61 30h1M68 30h1M68 32h2M69 33h2M57 34h2M60 34h1M30 35h1M34 35h1M55 36h1M58 36h1M34 37h1M51 37h1M55 40h1M58 40h1M29 42h1M31 42h2M53 44h1M30 45h1M88 45h1M60 46h1M89 47h1M53 49h1M79 49h1M95 49h2M86 51h1M96 52h1M87 53h1M95 53h1M95 54h1M94 55h1M95 56h2M92 57h1M30 58h2M86 62h1M60 63h1M85 63h4M49 64h3M59 64h1M63 64h1M67 64h2M89 64h1M91 64h1M28 65h2M50 65h2M58 65h1M68 65h2M78 65h1M16 66h1M27 66h1M30 66h1M42 66h1M57 66h1M60 66h1M63 66h1M65 66h1M69 66h2M86 66h1M0 67h1M5 67h1M13 67h1M16 67h1M28 67h1M31 67h1M36 67h1M41 67h1M56 67h1M59 67h1M77 67h1M84 67h1M95 67h1M0 68h1M22 68h1M29 68h1M34 68h1M41 68h2M60 68h1M66 68h2M77 68h1M79 68h1M84 68h1M88 68h1M94 68h2M21 69h1M26 69h1M33 69h1M42 69h1M61 69h1M64 69h1M74 69h1M76 69h2M84 69h1M96 69h1M5 70h2M30 70h2M48 70h2M52 70h4M64 70h1M66 70h1M70 70h2M75 70h1M86 70h1M25 71h1M28 71h1M32 71h2M37 71h1M44 71h1M46 71h3M54 71h1M62 71h2M68 71h1M85 71h1M88 71h3M0 72h1M2 72h1M7 72h1M13 72h1M22 72h1M28 72h1M34 72h1M38 72h2M46 72h1M48 72h2M57 72h1M59 72h1M69 72h1M72 72h1M85 72h1M87 72h1M95 72h1"/>
<path stroke="#cfcfff" d="M31 4h1M60 4h2M65 4h1M32 5h1M69 5h1M73 5h1M78 5h1M65 6h2M68 6h3M72 6h1M78 6h1M86 6h1M60 7h1M73 7h1M76 7h1M81 7h1M84 7h1M4 8h1M14 8h2M60 8h1M66 8h1M70 8h1M75 8h1M90 8h1M6 9h2M52 9h1M57 9h1M61 9h1M65 9h1M68 9h1M76 9h2M61 10h2M64 10h1M83 10h1M61 11h1M83 11h1M86 11h1M76 12h2M87 12h1M49 13h1M53 13h1M61 13h1M77 13h1M84 13h2M61 14h1M81 14h1M71 15h1M81 15h1M60 16h1M86 16h1M61 17h2M80 17h1M62 18h1M73 19h1M79 19h2M73 20h1M75 20h1M78 20h2M70 21h1M76 28h2M53 33h1M32 34h2M53 35h1M35 43h1"/>
<path stroke="#d7d7ff" d="M72 4h1M17 5h1M33 5h3M58 5h1M63 5h3M71 5h1M77 5h1M31 6h1M35 6h1M57 6h1M59 6h1M63 6h1M73 6h1M14 7h2M39 7h2M65 7h3M70 7h1M86 7h1M38 8h1M40 8h2M52 8h1M74 8h1M77 8h2M84 8h2M95 8h2M14 9h1M16 9h1M18 9h1M53 9h1M64 9h1M78 9h1M85 9h1M5 10h2M8 10h1M53 10h3M65 10h1M78 10h1M86 10h1M88 10h1M51 11h1M53 11h1M65 11h2M76 11h1M81 11h1M88 11h1M6 12h1M86 12h1M89 12h1M24 13h2M59 13h2M78 13h1M83 13h1M58 14h1M77 14h1M80 14h1M82 14h1M50 17h1M60 17h1M86 17h1M50 18h1M58 18h1M60 18h1M68 18h1M65 19h1M69 20h2M76 20h1M80 20h1M69 21h1M80 21h2M71 23h1M74 23h1M75 24h1M76 26h1M80 26h1M27 27h1M77 27h1M52 32h1M54 32h1M77 32h1M52 33h1M52 34h1M36 42h1M35 45h1M32 46h1M35 46h1"/>
<path stroke="#c7c7ff" d="M60 5h1M66 5h2M62 6h1M64 6h1M67 6h1M77 6h1M61 7h1M63 7h1M69 7h1M71 7h1M77 7h1M79 7h2M82 7h1M85 7h1M57 8h1M61 8h1M69 8h1M71 8h1M76 8h1M79 8h1M81 8h2M63 9h1M67 9h1M81 9h4M96 9h1M51 10h1M63 10h1M68 10h2M76 10h2M79 10h2M84 10h1M75 11h1M78 11h1M80 11h1M84 11h1M87 11h1M61 12h1M66 12h1M71 12h1M73 12h1M82 12h1M88 12h1M58 13h1M72 13h1M76 13h1M60 14h1M72 14h1M76 14h1M83 14h1M59 15h2M79 15h2M82 15h1M61 16h1M79 16h1M66 18h1M69 18h1M71 18h1M84 18h1M69 19h2M81 19h1M79 22h1M78 23h1M77 24h1M78 25h2M79 26h1M77 31h1M53 32h1M32 33h1"/>
<path stroke="#bfbfff" d="M62 5h1M68 5h1M60 6h1M71 6h1M62 7h1M68 7h1M72 7h1M72 8h2M80 8h1M62 9h1M66 9h1M69 9h1M72 9h1M75 9h1M79 9h2M71 10h1M75 10h1M85 10h1M71 11h1M79 11h1M68 12h1M70 12h1M74 12h1M79 12h1M81 12h1M83 12h2M66 13h1M69 13h2M73 13h1M80 13h3M62 14h1M74 14h1M79 14h1M85 14h1M61 15h2M72 15h1M75 15h1M83 15h1M62 16h1M84 16h2M63 17h1M79 17h1M83 17h1M70 18h1M79 18h1M81 18h1M83 18h1M74 19h1M76 19h2M68 20h1M74 20h1M35 44h1"/>
<path stroke="#b7b7ff" d="M61 6h1M78 7h1M67 10h1M70 10h1M62 11h3M72 11h2M85 11h1M65 12h1M69 12h1M72 12h1M75 12h1M85 12h1M68 13h1M75 13h1M79 13h1M59 14h1M66 14h1M70 14h2M73 14h1M78 14h1M70 15h1M74 15h1M77 15h2M85 15h1M63 16h1M71 16h1M78 16h1M80 16h4M70 17h1M78 17h1M81 17h2M72 18h1M71 20h2M79 23h1M78 24h2"/>
<path stroke="#afafff" d="M62 8h1M70 9h1M74 9h1M66 10h1M73 10h2M69 11h1M74 11h1M63 12h2M67 12h1M78 12h1M62 13h1M65 13h1M67 13h1M74 13h1M63 14h1M84 14h1M69 15h1M73 15h1M76 15h1M84 15h1M70 16h1M73 16h1M77 16h1M71 17h3M84 17h1M64 18h2M76 18h1M82 18h1M71 19h2M75 19h1M78 19h1"/>
<path stroke="#9f9fff" d="M63 8h1M73 9h1M72 10h1M80 12h1M63 13h1M65 14h1M63 15h2M67 15h2M65 17h1M67 17h1M75 18h1"/>
<path stroke="#a7a7ff" d="M71 9h1M67 11h2M70 11h1M62 12h1M64 13h1M71 13h1M67 14h3M75 14h1M67 16h1M69 16h1M72 16h1M74 16h1M76 16h1M66 17h1M68 17h1M73 18h1M77 18h1"/>
<path stroke="#ffd7d7" d="M3 10h1M22 10h1M17 21h1M19 21h1M59 23h1M60 24h2M60 25h1M54 27h1M68 31h1M32 35h1M30 36h1M34 36h1M82 36h1M84 36h1M33 38h1M81 38h1M84 38h1M30 39h1M84 39h1M84 40h1M82 44h1M87 45h1M79 47h1M88 47h1M92 47h1M54 48h1M79 48h1M92 48h1M95 48h1M81 49h1M93 49h1M85 51h1M94 51h1M96 51h1M30 53h1M92 55h1M94 56h1M93 57h1M75 62h1M77 62h1M79 62h2M83 62h2M55 63h1M59 63h1M70 63h1M77 63h2M80 63h1M45 64h1M48 64h1M54 64h1M61 64h1M78 64h1M82 64h1M85 64h1M90 64h1M14 65h1M21 65h1M42 65h3M47 65h1M49 65h1M53 65h1M56 65h1M60 65h1M63 65h1M75 65h1M79 65h1M82 65h1M85 65h1M90 65h2M7 66h1M12 66h1M21 66h1M24 66h1M26 66h1M41 66h1M48 66h4M56 66h1M68 66h1M74 66h1M78 66h1M80 66h3M2 67h2M15 67h1M17 67h1M26 67h1M30 67h1M43 67h1M48 67h5M57 67h1M61 67h2M64 67h2M81 67h1M86 67h2M89 67h1M2 68h1M6 68h1M8 68h1M14 68h3M18 68h3M23 68h1M32 68h1M45 68h1M49 68h1M59 68h1M64 68h1M68 68h1M73 68h1M80 68h1M83 68h1M86 68h1M90 68h1M93 68h1M9 69h1M23 69h3M29 69h1M35 69h1M43 69h1M47 69h2M52 69h3M58 69h1M60 69h1M69 69h1M78 69h1M89 69h1M92 69h1M94 69h1M38 70h2M46 70h1M60 70h1M69 70h1M72 70h1M74 70h1M78 70h1M83 70h2M91 70h1M96 70h1M0 71h2M7 71h1M13 71h1M27 71h1M31 71h1M49 71h1M57 71h1M59 71h1M73 71h2M79 71h1M81 71h3M91 71h1M95 71h1M3 72h1M14 72h1M16 72h1M19 72h1M24 72h2M30 72h2M47 72h1M58 72h1M60 72h1M79 72h2M94 72h1"/>
<path stroke="#ffdfdf" d="M18 11h1M21 11h1M22 13h1M23 17h2M31 17h1M20 21h1M26 22h1M46 24h1M21 25h1M46 25h2M71 25h1M45 26h2M70 28h1M61 29h1M63 29h1M60 31h1M69 31h1M61 33h1M31 35h1M33 35h1M57 35h1M60 35h1M60 36h1M56 37h1M84 37h1M36 38h2M54 38h1M81 39h1M31 40h1M38 43h1M82 45h1M78 46h1M89 46h1M91 46h1M90 47h1M53 48h1M89 48h2M93 48h2M34 49h1M54 49h1M80 49h1M79 50h1M94 50h2M93 53h1M96 53h1M0 54h1M94 54h1M31 55h1M38 58h1M76 62h1M82 62h1M51 63h2M62 63h1M68 63h1M71 63h1M79 63h1M81 63h2M44 64h1M46 64h2M58 64h1M62 64h1M69 64h1M80 64h1M13 65h1M15 65h1M17 65h1M24 65h1M45 65h1M55 65h1M57 65h1M61 65h1M66 65h1M71 65h1M8 66h1M28 66h1M43 66h1M46 66h2M52 66h1M64 66h1M71 66h1M87 66h1M90 66h1M93 66h1M1 67h1M4 67h1M6 67h2M11 67h1M20 67h2M23 67h1M32 67h1M40 67h1M53 67h1M55 67h1M60 67h1M66 67h1M72 67h3M80 67h1M85 67h1M1 68h1M9 68h1M12 68h1M17 68h1M21 68h1M24 68h1M31 68h1M33 68h1M39 68h1M43 68h1M46 68h3M61 68h2M70 68h1M74 68h1M34 69h1M37 69h1M39 69h1M45 69h1M62 69h1M75 69h1M81 69h1M93 69h1M95 69h1M20 70h1M22 70h1M29 70h1M34 70h1M36 70h1M43 70h2M47 70h1M50 70h2M56 70h3M61 70h1M65 70h1M67 70h1M79 70h1M81 70h2M90 70h1M93 70h1M95 70h1M2 71h1M6 71h1M9 71h3M21 71h1M34 71h3M39 71h2M42 71h1M45 71h1M50 71h1M52 71h1M64 71h1M66 71h1M71 71h2M78 71h1M80 71h1M87 71h1M94 71h1M23 72h1M29 72h1M35 72h1M45 72h1M73 72h1M77 72h2M86 72h1M91 72h2"/>
<path stroke="#ffcfcf" d="M22 11h1M22 14h1M16 18h1M22 24h1M48 25h2M67 25h1M71 28h1M60 30h1M33 36h1M56 36h1M82 37h1M85 38h1M82 40h1M88 40h1M81 42h1M79 44h2M79 45h1M81 45h1M79 46h1M86 47h2M80 48h1M82 48h2M91 48h1M82 49h2M88 49h1M80 50h1M85 50h1M93 50h1M87 52h1M94 52h2M92 53h1M92 54h1M93 55h1M92 56h1M95 57h2M32 61h1M74 62h1M81 62h1M76 63h1M90 63h1M60 64h1M71 64h1M75 64h3M81 64h1M84 64h1M12 65h1M19 65h2M48 65h1M59 65h1M62 65h1M74 65h1M81 65h1M84 65h1M89 65h1M25 66h1M31 66h1M54 66h1M62 66h1M76 66h1M83 66h2M88 66h1M9 67h2M12 67h1M18 67h1M34 67h2M45 67h1M54 67h1M67 67h1M70 67h1M79 67h1M83 67h1M90 67h1M94 67h1M3 68h1M5 68h1M10 68h1M36 68h1M44 68h1M50 68h1M52 68h1M56 68h3M63 68h1M69 68h1M72 68h1M78 68h1M1 69h3M13 69h1M19 69h1M22 69h1M27 69h1M31 69h1M36 69h1M38 69h1M49 69h1M51 69h1M56 69h2M71 69h1M73 69h1M79 69h2M83 69h1M91 69h1M1 70h1M3 70h2M7 70h1M12 70h1M21 70h1M23 70h2M35 70h1M63 70h1M77 70h1M92 70h1M4 71h2M8 71h1M12 71h1M22 71h3M38 71h1M60 71h1M84 71h1M93 71h1M1 72h1M15 72h1M44 72h1M74 72h1M81 72h1M84 72h1"/>
<path stroke="#ffbfbf" d="M23 11h1M16 20h1M85 36h1M33 37h1M85 37h1M87 37h1M85 39h2M83 41h2M86 41h1M81 43h2M84 43h1M83 44h2M84 45h1M81 46h1M83 46h1M86 46h2M88 48h1M85 49h1M84 50h1M86 50h2M94 53h1M93 54h1M72 62h1M57 63h2M84 63h1M52 64h2M55 64h2M23 65h1M52 65h1M72 65h1M76 65h2M9 66h1M18 66h1M22 66h1M39 66h2M61 66h1M72 66h1M77 66h1M8 67h1M24 67h2M44 67h1M63 67h1M82 67h1M4 68h1M11 68h1M35 68h1M71 68h1M82 68h1M92 68h1M4 69h2M11 69h1M0 70h1M14 70h1M19 71h1M29 71h2M75 71h1M92 71h1M18 72h1M82 72h1"/>
<path stroke="#ffb7b7" d="M22 12h1M87 38h1M87 39h1M85 40h3M86 42h1M87 43h1M81 44h1M85 44h1M85 45h1M85 48h1M87 48h1M84 49h1M87 49h1M74 64h1M18 65h1M78 67h1M53 68h1M10 69h1M12 69h1M15 69h1M8 70h2M11 70h1M17 70h1M14 71h3M18 71h1"/>
<path stroke="#ffc7c7" d="M23 12h1M23 13h1M16 19h1M16 21h1M30 37h1M83 37h1M86 37h1M30 38h1M88 38h1M31 39h2M88 39h1M83 40h1M82 42h2M83 43h1M87 44h1M80 45h1M83 45h1M80 46h1M82 46h1M80 47h1M82 47h1M91 47h1M81 48h1M86 48h1M86 49h1M88 50h1M87 51h2M93 56h1M94 57h1M73 62h1M78 62h1M85 62h1M56 63h1M74 63h1M22 64h1M57 64h1M79 64h1M16 65h1M22 65h1M80 65h1M10 66h2M13 66h3M17 66h1M19 66h2M23 66h1M44 66h1M73 66h1M79 66h1M85 66h1M89 66h1M91 66h2M14 67h1M19 67h1M22 67h1M42 67h1M68 67h2M71 67h1M92 67h2M7 68h1M13 68h1M25 68h1M51 68h1M54 68h1M81 68h1M91 68h1M6 69h2M14 69h1M16 69h3M28 69h1M44 69h1M46 69h1M50 69h1M55 69h1M63 69h1M70 69h1M72 69h1M82 69h1M2 70h1M10 70h1M13 70h1M19 70h1M28 70h1M76 70h1M3 71h1M76 71h2M17 72h1M66 72h1M75 72h2M83 72h1M93 72h1"/>
<path stroke="#9797ff" d="M64 14h1M75 16h1M64 17h1M69 17h1M77 17h1M74 18h1M78 18h1"/>
<path stroke="#8080ff" d="M65 15h1"/>
<path stroke="#8787ff" d="M66 15h1M74 17h1"/>
<path stroke="#8f8fff" d="M64 16h3M68 16h1M75 17h2"/>
<path stroke="#ffafaf" d="M31 36h1M86 38h1M85 43h2M86 45h1M81 47h1M83 47h1M85 47h1M84 48h1M72 63h1M75 63h1M18 70h1M17 71h1"/>
<path stroke="#ffa7a7" d="M32 36h1M85 41h1M84 42h1M86 44h1M85 46h1M73 64h1M73 65h1M91 67h1M8 69h1M15 70h2"/>
<path stroke="#ff7878" d="M31 37h1"/>
<path stroke="#ff8080" d="M32 37h1"/>
<path stroke="#ff8f8f" d="M31 38h1M84 46h1M84 47h1"/>
<path stroke="#ff9797" d="M32 38h1M72 64h1"/>
<path stroke="#ff9f9f" d="M73 63h1"/>
</g>
</g>
<use href="#cst"/>
</g>
<rect x="0" y="0" width="446.6" height="223.0" fill="none" stroke="#000" stroke-width="2.8"/><path d="M-8 0H0" stroke="#000" stroke-width="1.8"/><path d="M-15.5 37.2H0" stroke="#000" stroke-width="2.4"/><path d="M-8 74.3H0" stroke="#000" stroke-width="1.8"/><path d="M-15.5 111.5H0" stroke="#000" stroke-width="2.4"/><path d="M-8 148.7H0" stroke="#000" stroke-width="1.8"/><path d="M-15.5 185.8H0" stroke="#000" stroke-width="2.4"/><path d="M-8 223H0" stroke="#000" stroke-width="1.8"/><path d="M0 223V230.5" stroke="#000" stroke-width="1.8"/><path d="M37.2 223V230.5" stroke="#000" stroke-width="1.8"/><path d="M74.4 223V237.5" stroke="#000" stroke-width="2.2"/><path d="M111.7 223V230.5" stroke="#000" stroke-width="1.8"/><path d="M148.9 223V230.5" stroke="#000" stroke-width="1.8"/><path d="M186.1 223V230.5" stroke="#000" stroke-width="1.8"/><path d="M223.3 223V237.5" stroke="#000" stroke-width="2.2"/><path d="M260.5 223V230.5" stroke="#000" stroke-width="1.8"/><path d="M297.7 223V230.5" stroke="#000" stroke-width="1.8"/><path d="M335 223V230.5" stroke="#000" stroke-width="1.8"/><path d="M372.2 223V237.5" stroke="#000" stroke-width="2.2"/><path d="M409.4 223V230.5" stroke="#000" stroke-width="1.8"/><path d="M446.6 223V230.5" stroke="#000" stroke-width="1.8"/>
</g>
<g transform="translate(1485.0 340.4)">
<g clip-path="url(#cp)">
<rect width="446.6" height="223.0" fill="#bebebe"/>
<g shape-rendering="crispEdges">
<g transform="translate(-2.326 0) scale(4.6521 3.0972)" fill="none" stroke-width="1.03">
<path stroke="#ffdfdf" d="M15 3h11M15 4h12M15 5h12M15 6h12M14 7h13M4 8h23M4 9h23M4 10h23M4 11h23M4 12h21M6 13h1M12 13h16M5 14h1M13 14h16M14 15h20M14 16h20M15 17h17M33 17h2M15 18h17M15 19h15M15 20h14M15 21h14M16 22h13M17 23h11M17 24h10M59 24h5M18 25h4M58 25h2M64 25h7M18 26h4M58 26h1M65 26h2M71 26h1M20 27h2M27 27h1M58 27h1M71 27h1M20 28h2M27 28h3M58 28h2M71 28h1M21 29h4M29 29h1M58 29h4M23 30h3M58 30h4M59 31h2M70 33h1M84 36h2M81 37h2M75 38h4M90 44h1M91 45h1M91 46h2M96 48h1M96 49h1M96 50h1M96 51h1M96 52h1M87 53h1M96 53h1M96 54h1M96 55h1M96 56h1M96 57h1M61 62h4M70 62h17M51 63h2M55 63h36M44 64h50M44 65h50M44 66h50M44 67h53M44 68h53M44 69h53M45 70h52M45 71h51M46 72h49"/>
<path stroke="#ffe7e7" d="M26 3h3M27 4h2M27 5h2M27 6h2M27 7h2M88 7h3M2 8h2M27 8h2M88 8h8M2 9h2M27 9h2M88 9h9M2 10h2M27 10h2M88 10h9M2 11h2M27 11h2M88 11h8M2 12h2M27 12h4M88 12h2M91 12h4M28 13h5M90 13h2M29 14h4M90 14h2M58 24h1M64 24h7M71 25h1M57 26h1M57 27h1M57 28h1M57 29h1M57 30h1M25 31h2M29 31h1M57 31h2M58 32h5M58 33h4M59 34h3M59 35h2M60 36h1M82 36h1M75 37h6M91 44h1M92 45h1M44 70h1M44 71h1M96 71h1M44 72h2M95 72h2"/>
<path stroke="#ffefef" d="M29 3h6M29 4h6M29 5h6M29 6h6M87 6h1M29 7h6M87 7h1M29 8h6M87 8h1M96 8h1M29 9h6M87 9h1M29 10h6M87 10h1M29 11h6M87 11h1M31 12h4M87 12h1M90 15h1M59 23h2M57 24h1M71 24h1M57 25h1M72 25h1M72 26h1M72 27h1M56 29h1M56 30h1M56 31h1M25 32h7M57 32h1M57 33h1M57 34h2M57 35h2M57 36h3M81 36h1M57 37h3M74 37h1M57 38h2M57 39h2M57 40h3M57 41h3M61 41h1M57 42h3M61 42h1M57 43h2M60 43h2M57 44h1M60 44h2M92 44h1M57 45h1M60 45h2M57 46h1M60 46h1M43 65h1M43 66h1M43 67h1M43 68h1M43 69h1M43 70h1M43 71h1M43 72h1"/>
<path stroke="#fff7f7" d="M35 3h2M35 4h2M35 5h2M35 6h2M35 7h2M86 7h1M0 8h2M35 8h2M86 8h1M0 9h2M35 9h2M86 9h1M0 10h2M35 10h2M86 10h1M0 11h2M35 11h2M86 11h1M0 12h2M35 12h2M86 12h1M58 23h1M61 23h4M72 24h1M56 25h1M56 26h1M56 27h1M55 28h2M55 29h1M55 30h1M55 31h1M55 32h2M26 33h7M55 33h2M55 34h2M55 35h2M55 36h2M76 36h5M55 37h2M55 38h2M55 39h2M55 40h2M55 41h2M55 42h2M55 43h2M55 44h2M55 45h2M55 46h2M56 47h1M56 48h1M68 58h1M42 65h1M42 66h1M42 67h1M42 68h1M42 69h1M42 70h1M42 71h1M42 72h1"/>
<path stroke="#ffffff" d="M37 3h6M54 3h4M37 4h7M51 4h5M37 5h7M37 6h6M86 6h1M37 7h6M37 8h6M37 9h4M37 10h2M42 10h3M37 11h1M46 22h6M46 23h7M54 23h1M65 23h7M45 24h12M45 25h11M44 26h12M44 27h12M44 28h11M44 29h11M44 30h11M44 31h11M44 32h11M45 33h10M27 34h7M46 34h3M50 34h5M51 35h4M51 36h4M74 36h2M51 37h4M51 38h4M51 39h4M52 40h3M52 41h3M51 42h4M51 43h4M52 44h3M52 45h3M52 46h3M52 47h4M53 48h3M53 49h3M53 50h2M0 53h3M0 54h3M66 55h2M66 56h2M66 57h3M41 66h1M41 67h1M41 68h1M41 69h1M41 70h1M41 71h1M0 72h1M40 72h2"/>
<path stroke="#f7f7ff" d="M58 3h2M56 4h2M52 5h6M52 6h5M54 7h3M52 8h5M85 8h1M52 9h5M85 9h1M51 10h6M85 10h1M50 11h7M85 11h1M47 12h1M49 12h8M85 12h1M46 13h11M46 14h3M50 14h7M45 15h12M46 16h11M47 17h10M48 18h9M46 19h10M46 20h3M50 20h7M46 21h3M50 21h2M54 21h4M55 22h1M58 22h2M72 23h1M73 24h1M73 25h1M73 26h1M73 27h1M73 28h1M73 29h1M34 34h1M80 35h1M22 64h1M12 65h21M7 66h26M39 66h2M0 67h41M0 68h41M0 69h41M0 70h41M0 71h41M1 72h39"/>
<path stroke="#efefff" d="M60 3h15M58 4h2M58 5h1M57 6h1M57 7h2M85 7h1M57 8h2M57 9h2M57 10h2M57 11h2M57 12h2M57 13h2M85 13h1M57 14h2M85 14h1M57 15h2M86 15h1M57 16h2M57 17h2M57 18h2M57 19h1M57 20h2M58 21h1M60 22h4M73 23h1M81 34h1M27 35h8M74 35h6M31 61h2M31 62h2M30 63h3M30 64h3"/>
<path stroke="#e7e7ff" d="M60 4h18M59 5h1M58 6h1M84 7h1M84 8h1M84 9h1M84 10h1M84 11h1M84 12h1M85 15h1M86 16h1M86 17h1M86 18h1M86 19h1M59 20h1M86 20h1M59 21h1M86 21h1M64 22h9M85 22h1M74 23h10M74 24h8M74 25h2M74 26h2M74 27h2M74 28h2M74 29h2M81 29h1M74 30h2M74 31h2M81 31h1M74 32h2M81 32h1M74 33h2M80 33h2M74 34h3M78 34h3M27 36h9M27 37h11M26 38h13M27 39h13M27 40h12M28 41h11M28 42h11M29 43h10M29 44h9M29 45h9M29 46h7M29 47h7M29 48h7M29 49h6M29 50h5M28 51h6M28 52h5M28 53h4M28 54h4M28 55h4M28 56h4M28 57h3M32 57h1M37 57h2M29 58h3M37 58h2"/>
<path stroke="#dfdfff" d="M60 5h19M59 6h2M59 7h1M59 8h1M83 8h1M59 9h1M83 9h1M59 10h1M83 10h1M59 11h1M83 11h1M59 12h1M83 12h1M59 13h1M84 13h1M59 14h1M84 14h1M59 15h1M84 15h1M59 16h1M85 16h1M59 17h1M85 17h1M59 18h2M59 19h2M60 20h1M85 20h1M60 21h12M85 21h1M73 22h12M76 25h5M76 26h5M76 27h5M76 28h3M76 29h2M80 29h1M76 30h2M80 30h1M76 31h3M76 32h2M80 32h1M76 33h1M79 33h1"/>
<path stroke="#d7d7ff" d="M61 6h18M60 7h23M60 8h23M60 9h23M60 10h23M60 11h23M60 12h23M60 13h24M60 14h24M60 15h24M60 16h25M60 17h25M62 18h23M63 19h21M61 20h1M63 20h20M72 21h11"/>
<path stroke="#ffd7d7" d="M60 25h4M59 26h6M67 26h4M59 27h6M67 27h4M60 28h4M67 28h4M62 29h2M68 29h3M68 30h2M68 31h2M68 32h2M69 33h1M83 37h5M79 38h3M84 38h5M76 39h6M84 39h5M90 45h1M78 46h1M90 46h1M90 47h3M90 48h6M93 49h3M93 50h3M93 51h3M87 52h1M93 52h3M92 53h4M92 54h4M92 55h4M92 56h4M92 57h4"/>
<path stroke="#ffcfcf" d="M80 40h9M83 41h4M81 42h4M86 42h1M81 43h7M79 44h9M79 45h10M79 46h11M79 47h11M79 48h11M79 49h10M79 50h2M84 50h5M85 51h4"/>
</g>
</g>
<use href="#cst"/>
</g>
<rect x="0" y="0" width="446.6" height="223.0" fill="none" stroke="#000" stroke-width="2.8"/><path d="M-8 0H0" stroke="#000" stroke-width="1.8"/><path d="M-15.5 37.2H0" stroke="#000" stroke-width="2.4"/><path d="M-8 74.3H0" stroke="#000" stroke-width="1.8"/><path d="M-15.5 111.5H0" stroke="#000" stroke-width="2.4"/><path d="M-8 148.7H0" stroke="#000" stroke-width="1.8"/><path d="M-15.5 185.8H0" stroke="#000" stroke-width="2.4"/><path d="M-8 223H0" stroke="#000" stroke-width="1.8"/><path d="M0 223V230.5" stroke="#000" stroke-width="1.8"/><path d="M37.2 223V230.5" stroke="#000" stroke-width="1.8"/><path d="M74.4 223V237.5" stroke="#000" stroke-width="2.2"/><path d="M111.7 223V230.5" stroke="#000" stroke-width="1.8"/><path d="M148.9 223V230.5" stroke="#000" stroke-width="1.8"/><path d="M186.1 223V230.5" stroke="#000" stroke-width="1.8"/><path d="M223.3 223V237.5" stroke="#000" stroke-width="2.2"/><path d="M260.5 223V230.5" stroke="#000" stroke-width="1.8"/><path d="M297.7 223V230.5" stroke="#000" stroke-width="1.8"/><path d="M335 223V230.5" stroke="#000" stroke-width="1.8"/><path d="M372.2 223V237.5" stroke="#000" stroke-width="2.2"/><path d="M409.4 223V230.5" stroke="#000" stroke-width="1.8"/><path d="M446.6 223V230.5" stroke="#000" stroke-width="1.8"/>
</g>
<g transform="translate(70.8 612.4)">
<g clip-path="url(#cp)">
<g shape-rendering="crispEdges">
<g transform="translate(-2.326 0) scale(4.6521 3.0972)" fill="none" stroke-width="1.03">
<path stroke="#78c4bd" d="M0 0h16M87 0h10M0 1h16M92 1h5M93 2h4M94 3h2M82 4h1M27 5h2M36 5h2M85 5h1M91 5h1M93 5h1M47 65h3M55 65h3M40 66h1M64 66h1M37 67h1M67 67h1M71 68h2M20 69h4M81 69h4"/>
<path stroke="#83ccc2" d="M16 0h71M16 1h12M37 1h50M21 2h5M39 2h5M82 2h4M23 3h2M40 3h2M83 3h1M24 4h2M39 4h2M87 4h3M93 4h1M45 66h2M58 66h2M41 67h2M62 67h2M38 68h2M65 68h2M33 69h2M70 69h2M0 70h21M84 70h13"/>
<path stroke="#86cec4" d="M28 1h9M26 2h3M36 2h3M25 3h1M39 3h1M84 3h2M26 4h1M38 4h1M47 66h2M56 66h2M43 67h1M61 67h1M40 68h1M64 68h1M35 69h2M68 69h2M21 70h6M78 70h6"/>
<path stroke="#7ac6be" d="M87 1h5M86 2h7M92 3h2M0 4h6M45 4h35M83 4h1M29 5h2M34 5h2M86 5h1M90 5h1M50 65h5M41 66h1M63 66h1M38 67h1M66 67h1M70 68h1M24 69h4M77 69h4"/>
<path stroke="#76c2bc" d="M0 2h16M0 3h17M96 3h1M80 4h2M25 5h2M38 5h2M84 5h1M94 5h1M88 6h1M91 6h1M45 65h2M58 65h2M39 66h1M65 66h1M68 67h1M73 68h1M7 69h13M85 69h12"/>
<path stroke="#80cac0" d="M16 2h5M44 2h38M19 3h4M42 3h4M79 3h4M23 4h1M41 4h1M86 4h1M90 4h1M94 4h1M44 66h1M60 66h1M40 67h1M64 67h1M37 68h1M67 68h1M30 69h3M72 69h3"/>
<path stroke="#89d0c6" d="M29 2h7M26 3h2M37 3h2M27 4h1M37 4h1M49 66h7M44 67h2M59 67h2M41 68h2M62 68h2M37 69h2M66 69h2M27 70h5M73 70h5"/>
<path stroke="#7dc8be" d="M17 3h2M46 3h33M86 3h6M20 4h3M42 4h3M84 4h2M91 4h2M95 4h2M31 5h3M87 5h3M92 5h1M42 66h2M61 66h2M39 67h1M65 67h1M36 68h1M68 68h2M28 69h2M75 69h2"/>
<path stroke="#8cd2c8" d="M28 3h2M35 3h2M28 4h2M35 4h2M46 67h1M58 67h1M43 68h1M61 68h1M39 69h2M64 69h2M32 70h3M70 70h3M0 71h27M78 71h19"/>
<path stroke="#8fd4ca" d="M30 3h5M30 4h5M47 67h3M55 67h3M44 68h2M59 68h2M41 69h3M61 69h3M35 70h4M66 70h4M27 71h8M70 71h8M0 72h31M74 72h23"/>
<path stroke="#73c0bc" d="M6 4h14M24 5h1M40 5h2M53 5h4M95 5h1M87 6h1M89 6h1M44 65h1M60 65h1M38 66h1M66 66h1M69 67h2M74 68h2M0 69h7"/>
<path stroke="#6ebcbb" d="M0 5h7M20 5h1M63 5h16M82 5h1M85 6h1M86 7h1M41 65h2M62 65h2M68 66h1M72 67h1M78 68h3"/>
<path stroke="#66b6ba" d="M7 5h13M49 6h2M59 6h2M55 7h1M90 7h1M87 8h1M89 8h1M50 64h5M38 65h1M66 65h1M71 66h2M76 67h1M4 68h13M88 68h8"/>
<path stroke="#70bebc" d="M21 5h3M42 5h11M57 5h6M79 5h1M83 5h1M96 5h1M86 6h1M90 6h1M92 6h1M87 7h2M43 65h1M61 65h1M37 66h1M67 66h1M71 67h1M76 68h2"/>
<path stroke="#69b8ba" d="M80 5h1M51 6h2M57 6h2M84 6h1M94 6h1M85 7h1M89 7h1M88 8h1M39 65h1M65 65h1M70 66h1M74 67h2M84 68h4"/>
<path stroke="#6cbaba" d="M81 5h1M53 6h4M93 6h1M40 65h1M64 65h1M69 66h1M73 67h1M81 68h3"/>
<path stroke="#64a8c0" d="M0 6h7M19 6h1M69 6h8M81 6h1M49 7h1M60 7h1M84 8h1M87 9h3M41 64h2M62 64h2M71 65h1M76 66h2M36 67h1M84 67h3M31 68h1"/>
<path stroke="#649bc8" d="M7 6h10M45 7h2M64 7h1M80 7h1M96 7h1M50 8h1M59 8h1M92 8h1M90 9h1M37 64h1M67 64h1M74 65h2M36 66h1M81 66h3M32 67h1M24 68h3"/>
<path stroke="#649fc6" d="M17 6h2M47 7h1M62 7h2M81 7h1M95 7h1M51 8h2M57 8h2M83 8h1M93 8h1M85 9h1M38 64h2M65 64h2M73 65h1M79 66h2M0 67h12M33 67h1M93 67h2M27 68h2"/>
<path stroke="#64acbe" d="M20 6h5M41 6h3M65 6h4M77 6h3M50 7h1M59 7h1M83 7h1M93 7h1M90 8h1M43 64h2M60 64h2M70 65h1M75 66h1M81 67h3M32 68h2"/>
<path stroke="#64b0bc" d="M25 6h3M37 6h4M44 6h3M63 6h2M80 6h1M82 6h1M96 6h1M51 7h1M58 7h1M91 7h1M85 8h1M45 64h2M58 64h2M68 65h2M74 66h1M79 67h2M34 68h1"/>
<path stroke="#64b4b9" d="M28 6h9M47 6h2M61 6h2M83 6h1M95 6h1M52 7h3M56 7h2M84 7h1M92 7h1M86 8h1M47 64h3M55 64h3M37 65h1M67 65h1M73 66h1M77 67h2M0 68h4M35 68h1"/>
<path stroke="#6491cb" d="M0 7h7M20 7h11M34 7h9M67 7h12M47 8h2M62 8h1M81 8h1M95 8h1M83 9h1M91 9h1M88 10h1M49 63h7M69 64h2M77 65h2M13 66h2M33 66h2M87 66h5M29 67h2M17 68h4"/>
<path stroke="#49835c" d="M7 7h13M0 8h6M21 8h22M67 8h12M50 9h10M81 9h1M93 9h1M84 10h1M40 63h3M62 63h3M74 64h2M34 65h1M85 65h3M30 66h1M24 67h2"/>
<path stroke="#6496c9" d="M31 7h3M43 7h2M65 7h2M79 7h1M49 8h1M60 8h2M82 8h1M94 8h1M84 9h1M68 64h1M76 65h1M35 66h1M84 66h3M31 67h1M21 68h3"/>
<path stroke="#64a3c3" d="M48 7h1M61 7h1M82 7h1M94 7h1M53 8h4M91 8h1M86 9h1M40 64h1M64 64h1M72 65h1M78 66h1M12 67h4M34 67h2M87 67h6M29 68h2"/>
<path stroke="#548651" d="M6 8h15M24 9h17M69 9h7M96 9h1M81 10h1M93 10h1M86 11h5M85 62h1M69 63h2M87 63h1M36 64h1M80 64h5M30 65h1M25 66h2M16 67h2"/>
<path stroke="#558496" d="M43 8h3M65 8h2M79 8h1M82 9h1M85 10h1M43 63h2M60 63h2M72 64h2M35 65h1M81 65h4M31 66h1M26 67h2"/>
<path stroke="#648ccc" d="M46 8h1M63 8h2M80 8h1M96 8h1M92 9h1M86 10h2M89 10h2M45 63h4M56 63h4M71 64h1M36 65h1M79 65h2M0 66h13M32 66h1M92 66h2M28 67h1M96 68h1"/>
<path stroke="#5b884a" d="M0 9h24M25 10h24M61 10h17M95 10h1M83 11h1M91 11h1M50 62h5M73 63h3M88 63h1M33 64h2M89 64h2M27 65h2M21 66h2"/>
<path stroke="#508555" d="M41 9h6M63 9h6M76 9h4M95 9h1M82 10h1M92 10h1M86 62h1M37 63h1M67 63h2M85 63h1M78 64h2M85 64h3M31 65h2M27 66h1M18 67h3"/>
<path stroke="#4d8458" d="M47 9h3M60 9h3M80 9h1M94 9h1M83 10h1M91 10h1M38 63h2M65 63h2M86 63h1M76 64h2M33 65h1M88 65h3M28 66h2M21 67h3"/>
<path stroke="#628a43" d="M0 10h25M31 11h50M93 11h2M40 62h4M61 62h4M84 62h1M79 63h4M30 64h1M23 65h2M15 66h2"/>
<path stroke="#57874e" d="M49 10h12M78 10h3M94 10h1M84 11h2M87 62h1M71 63h2M84 63h1M35 64h1M88 64h1M29 65h1M23 66h2M95 67h2"/>
<path stroke="#5e8947" d="M96 10h1M81 11h2M92 11h1M44 62h6M55 62h6M76 63h3M83 63h1M31 64h2M25 65h2M17 66h4"/>
<path stroke="#698c3c" d="M0 11h31M84 12h3M90 12h1M85 61h1M69 62h3M34 63h2M26 64h2M16 65h4"/>
<path stroke="#658b40" d="M95 11h2M87 12h3M86 61h1M37 62h3M65 62h4M88 62h1M36 63h1M89 63h2M28 64h2M20 65h3M94 66h3"/>
<path stroke="#708f33" d="M0 12h31M95 12h2M47 61h11M84 61h1M90 62h1M26 63h3M13 64h7M91 64h1"/>
<path stroke="#6e8e36" d="M31 12h49M92 12h3M76 62h7M89 62h1M29 63h3M20 64h3M0 65h7"/>
<path stroke="#6c8d39" d="M80 12h4M91 12h1M87 61h1M72 62h4M83 62h1M32 63h2M23 64h3M7 65h9M91 65h6"/>
<path stroke="#78922a" d="M0 13h31M91 13h6M73 61h10M89 61h1M27 62h4M0 63h16M91 63h6"/>
<path stroke="#76912d" d="M31 13h55M37 61h2M66 61h7M83 61h1M31 62h4M16 63h7"/>
<path stroke="#739030" d="M86 13h5M39 61h6M46 61h1M58 61h8M88 61h1M35 62h2M23 63h3M0 64h13M92 64h5"/>
<path stroke="#82961e" d="M0 14h32M64 14h1M96 14h1M72 60h11M89 60h1M0 61h26M91 61h6"/>
<path stroke="#809521" d="M32 14h32M65 14h22M90 14h6M37 60h7M46 60h26M84 60h1M88 60h1M26 61h8"/>
<path stroke="#7d9424" d="M87 14h3M85 60h1M87 60h1M34 61h3M0 62h20M91 62h6"/>
<path stroke="#969c1b" d="M0 15h33M64 15h2M92 15h5M69 59h13M84 59h1M88 59h2"/>
<path stroke="#8f9a1c" d="M33 15h31M66 15h26M38 59h2M47 59h19M85 59h3M0 60h35M83 60h1M90 60h7"/>
<path stroke="#a9a218" d="M0 16h97M34 58h4M40 58h7M65 58h4M71 58h11M84 58h5"/>
<path stroke="#c3aa14" d="M0 17h97"/>
<path stroke="#d7b010" d="M0 18h20M28 18h69M0 55h39M45 55h1M51 55h4M67 55h5M82 55h3M87 55h10"/>
<path stroke="#d2ae11" d="M20 18h8"/>
<path stroke="#ebb60c" d="M0 19h14M33 19h38M72 19h25M20 20h1M27 20h2M21 21h1M22 22h1M41 54h4M46 54h6M56 54h11M77 54h5"/>
<path stroke="#e6b40d" d="M14 19h6M29 19h4M21 20h1M26 20h1M22 21h1M26 21h1M23 22h3M0 54h41M45 54h1M52 54h4M67 54h10M82 54h15"/>
<path stroke="#e1b30e" d="M20 19h2M26 19h3M22 20h4M23 21h3"/>
<path stroke="#dcb20f" d="M22 19h4M39 55h6M46 55h5M55 55h12M72 55h10M85 55h2"/>
<path stroke="#f0b80b" d="M71 19h1M18 20h2M29 20h1M20 21h1M27 21h1M21 22h1M26 22h1M23 23h2M34 53h7"/>
<path stroke="#f4b40b" d="M0 20h15M33 20h2M42 20h28M73 20h24M19 21h1M29 21h1M20 22h1M26 23h1M42 53h2M51 53h1M57 53h2M65 53h1M79 53h1"/>
<path stroke="#f5b90a" d="M15 20h3M30 20h3M28 21h1M27 22h1M22 23h1M25 23h1M39 52h2M0 53h34M41 53h1M52 53h5M66 53h13M80 53h17"/>
<path stroke="#f4b00c" d="M35 20h1M41 20h1M72 20h1M17 21h2M30 21h1M28 22h1M21 23h1M0 52h39M41 52h1M56 52h2M66 52h31M44 53h7M59 53h6"/>
<path stroke="#f4ac0d" d="M36 20h1M40 20h1M14 21h3M31 21h2M19 22h1M29 22h1M20 23h1M27 23h1M23 24h2M36 50h2M35 51h4M42 52h1"/>
<path stroke="#f3a70e" d="M37 20h1M39 20h1M70 20h1M0 21h14M33 21h1M43 21h26M73 21h24M18 22h1M30 22h1M28 23h1M22 24h1M25 24h1M36 49h2M35 50h1M38 50h1M34 51h1M39 51h2M54 52h2M58 52h1"/>
<path stroke="#f2a20f" d="M38 20h1M71 20h1M34 21h1M69 21h1M72 21h1M16 22h2M31 22h1M19 23h1M21 24h1M26 24h1M35 49h1M38 49h1M0 51h34M56 51h3M66 51h31M43 52h11M59 52h7"/>
<path stroke="#f29a11" d="M35 21h1M33 22h1M44 22h1M72 22h1M17 23h1M30 23h2M28 24h1M37 48h1M33 50h1"/>
<path stroke="#f08c14" d="M36 21h1M42 22h1M33 23h1M43 23h1M0 24h17M31 24h2M45 24h36M85 24h12M20 25h1M27 25h2M32 49h1M40 50h1M43 51h2M54 51h1M60 51h1M64 51h1"/>
<path stroke="#ed7a17" d="M37 21h1M39 21h1M35 22h1M42 23h1M34 24h1M73 25h8M85 25h2M18 26h3M27 26h4M36 47h3M31 48h2M41 50h1"/>
<path stroke="#ec7418" d="M38 21h1M41 22h1M42 24h1M34 25h1M42 25h1M81 25h1M84 25h1M0 26h18M31 26h3M42 26h31M87 26h10M35 47h1M0 48h31M57 48h40M60 50h1"/>
<path stroke="#ef8615" d="M40 21h1M33 24h1M44 24h1M81 24h4M18 25h2M29 25h2M34 48h1M39 48h1M0 49h32M57 49h3M65 49h32M45 51h9M61 51h3"/>
<path stroke="#f19512" d="M41 21h1M70 21h1M43 22h1M70 22h1M0 23h17M32 23h1M45 23h26M72 23h25M19 24h1M29 24h1M23 25h3M36 48h1M34 49h1M39 49h1M0 50h33M57 50h3M66 50h31M42 51h1M59 51h1"/>
<path stroke="#f29e10" d="M42 21h1M0 22h16M32 22h1M45 22h25M73 22h24M18 23h1M29 23h1M20 24h1M27 24h1M34 50h1M39 50h1M41 51h1"/>
<path stroke="#f09013" d="M71 21h1M34 22h1M71 22h1M44 23h1M71 23h1M17 24h2M30 24h1M21 25h2M26 25h1M35 48h1M38 48h1M33 49h1M55 51h1M65 51h1"/>
<path stroke="#e85c1c" d="M36 22h1M36 25h1M40 25h1M85 27h1M0 29h46M56 29h25M86 29h11M0 46h36M38 46h2M60 46h37M56 49h1M62 49h2"/>
<path stroke="#dd4c1b" d="M37 22h1M40 23h1M47 29h1M54 29h1M81 29h1M83 29h2M56 30h1M85 30h1M85 31h2M84 32h1M0 34h39M62 34h21M86 34h11M0 35h39M63 35h34M0 36h39M62 36h35M0 37h39M61 37h36M0 38h39M61 38h36M0 39h39M61 39h36M0 40h39M61 40h36M0 41h39M61 41h36M0 42h39M61 42h36M56 48h1"/>
<path stroke="#d74819" d="M38 22h1M39 24h1M55 30h1M41 31h2M39 32h1M40 47h1M41 48h2M55 48h1"/>
<path stroke="#da4a1a" d="M39 22h1M37 24h1M48 29h6M82 29h1M46 30h1M81 30h1M83 30h1M40 31h1M43 31h1M81 31h1M83 31h1M86 32h1M59 46h1M57 47h1"/>
<path stroke="#e7561d" d="M40 22h1M81 27h1M84 27h1M80 28h1M0 30h46M57 30h24M86 30h11"/>
<path stroke="#ee8016" d="M34 23h1M43 24h1M0 25h18M31 25h3M43 25h30M87 25h10M21 26h6M33 48h1M56 50h1M65 50h1"/>
<path stroke="#ea681a" d="M35 23h1M35 24h1M35 25h1M41 25h1M82 25h2M35 26h1M40 26h2M80 26h1M85 26h1M0 47h33M58 47h39M64 49h1M43 50h13M61 50h3"/>
<path stroke="#e04d1c" d="M36 23h1M82 28h2M55 29h1M85 29h1M84 30h1M0 33h39M61 33h21M86 33h11M0 43h40M61 43h36M40 48h1M44 49h11"/>
<path stroke="#d14617" d="M37 23h1M46 31h1M82 31h1M45 32h1M82 32h1M85 33h1M83 34h2M60 44h1"/>
<path stroke="#c84114" d="M38 23h1M47 32h9M40 33h1M43 33h3M57 33h1M60 34h1M39 37h1M60 37h1M39 38h1M60 38h1M39 39h1M60 39h1M39 42h1M60 43h1M57 46h1M44 47h3M50 47h3"/>
<path stroke="#ce4416" d="M39 23h1M47 31h9M40 32h1M43 32h1M39 33h1M59 33h1M84 33h1M61 34h1M61 36h1M40 46h1M58 46h1M41 47h1M56 47h1"/>
<path stroke="#e9621b" d="M41 23h1M41 24h1M36 26h4M81 26h1M84 26h1M35 27h2M47 27h8M80 27h1M0 28h47M55 28h25M86 28h11M36 46h2M40 49h1M61 49h1"/>
<path stroke="#e6501e" d="M36 24h1M37 25h1M39 25h1M83 26h1M47 28h1M54 28h1M85 28h1M0 31h40M44 31h2M57 31h24M84 31h1M87 31h10M0 45h40M60 45h37M41 49h1"/>
<path stroke="#d44718" d="M38 24h1M47 30h8M82 30h1M56 31h1M57 32h1M83 32h1M85 32h1M60 33h1M82 33h1M85 34h1M62 35h1M43 48h12"/>
<path stroke="#e34e1d" d="M40 24h1M38 25h1M82 26h1M82 27h2M48 28h6M81 28h1M84 28h1M46 29h1M0 32h39M44 32h1M58 32h24M87 32h10M0 44h40M61 44h36M42 49h2M55 49h1"/>
<path stroke="#eb6e19" d="M34 26h1M73 26h7M86 26h1M0 27h35M37 27h10M55 27h25M86 27h11M33 47h2M39 47h1M60 49h1M42 50h1M64 50h1"/>
<path stroke="#cb4215" d="M41 32h2M46 32h1M56 32h1M58 33h1M83 33h1M39 34h1M39 35h1M61 35h1M39 36h1M59 45h1M42 47h2M53 47h3"/>
<path stroke="#c33f14" d="M41 33h2M46 33h11M40 34h20M40 35h1M40 36h1M60 36h1M39 40h1M60 40h1M39 41h1M60 41h1M60 42h1M40 45h1M56 46h1M47 47h3"/>
<path stroke="#be3d13" d="M41 35h20M41 36h19M40 37h20M40 38h1M58 38h2M59 44h1M58 45h1M41 46h1M55 46h1"/>
<path stroke="#b93b12" d="M41 38h17M40 39h1M56 39h4M59 40h1M40 44h1M57 45h1M42 46h2M53 46h2"/>
<path stroke="#b43912" d="M41 39h4M52 39h4M40 40h1M56 40h3M58 41h2M59 42h1M40 43h1M58 43h2M58 44h1M56 45h1M44 46h1M52 46h1"/>
<path stroke="#af3712" d="M45 39h7M41 40h1M54 40h2M40 41h1M56 41h2M57 42h2M57 43h1M56 44h2M41 45h1M55 45h1M45 46h2M50 46h2"/>
<path stroke="#aa3511" d="M42 40h2M52 40h2M55 41h1M40 42h1M56 42h1M56 43h1M42 45h1M54 45h1M47 46h3"/>
<path stroke="#a53310" d="M44 40h1M50 40h2M41 41h1M54 41h1M55 42h1M55 43h1M41 44h1M55 44h1M43 45h1M53 45h1"/>
<path stroke="#a03110" d="M45 40h5M42 41h1M53 41h1M41 42h1M54 42h1M41 43h1M54 44h1M44 45h1M52 45h1"/>
<path stroke="#962d0f" d="M43 41h1M51 41h1M42 42h1M42 43h1M53 43h1M43 44h1M52 44h1M46 45h1M49 45h2"/>
<path stroke="#902b0e" d="M44 41h1M49 41h2M52 42h1M52 43h1M47 45h2"/>
<path stroke="#8a290e" d="M45 41h1M48 41h1M51 42h1M44 44h1M51 44h1"/>
<path stroke="#84270e" d="M46 41h2M43 42h1M50 42h1M43 43h1M51 43h1M50 44h1"/>
<path stroke="#9b2f10" d="M52 41h1M53 42h1M54 43h1M42 44h1M53 44h1M45 45h1M51 45h1"/>
<path stroke="#78230c" d="M44 42h1M49 42h1M44 43h1M46 44h3"/>
<path stroke="#6c1f0c" d="M45 42h1M47 42h1M45 43h1M48 43h1"/>
<path stroke="#661d0b" d="M46 42h1M46 43h2"/>
<path stroke="#72210c" d="M48 42h1M49 43h1"/>
<path stroke="#7e250d" d="M50 43h1M45 44h1M49 44h1"/>
<path stroke="#cdad12" d="M0 56h97"/>
<path stroke="#bca815" d="M0 57h97"/>
<path stroke="#b0a417" d="M0 58h34M82 58h2M89 58h8"/>
<path stroke="#a2a019" d="M38 58h2M47 58h18M69 58h2"/>
<path stroke="#9c9e1a" d="M0 59h38M40 59h7M66 59h3M82 59h2M90 59h7"/>
<path stroke="#88981d" d="M35 60h2M44 60h2"/>
<path stroke="#7a9327" d="M86 60h1M45 61h1M90 61h1M20 62h7"/>
<path stroke="#92d6cc" d="M50 67h5M46 68h3M56 68h3M44 69h2M59 69h2M39 70h4M62 70h4M35 71h7M63 71h7M31 72h17M57 72h17"/>
<path stroke="#95d8ce" d="M49 68h7M46 69h13M43 70h4M58 70h4M42 71h21M48 72h9"/>
<path stroke="#98dad0" d="M47 70h11"/>
</g>
</g>
<path fill="none" stroke="#000" stroke-width="1.8" stroke-linejoin="miter" stroke-linecap="square" d="M3.5 12.1L24.4 12.1L31.4 19L24.4 25.8L3.5 25.8M73.3 5.2L80.2 12.1L94.2 12.1L87.2 19L94.2 25.8L108.2 25.8L115.1 32.7L143.1 32.7L143.1 39.6L157 53.3L150 60.2L150 73.9L164 87.6L171 80.8L191.9 80.8L205.9 73.9L233.8 73.9L240.7 67L247.7 73.9L254.7 73.9L261.7 67L282.6 67L289.6 73.9L303.5 60.2L296.6 53.3L289.6 53.3L296.6 46.4L296.6 39.6L289.6 32.7L275.6 32.7M289.6 32.7L331.5 32.7L324.5 39.6L317.5 39.6L310.5 32.7M296.6 39.6L303.5 46.4L303.5 53.3L317.5 67L324.5 67L338.4 80.8L366.4 80.8L373.3 87.6L373.3 94.5L387.3 108.2L394.3 108.2L401.2 101.4L401.2 94.5L394.3 87.6L401.2 80.8L401.2 73.9L415.2 60.2L422.2 60.2L429.2 53.3L422.2 46.4L422.2 32.7L408.2 19L373.3 19L366.4 12.1M164 25.8L171 19L191.9 19L198.9 12.1L394.3 12.1L401.2 5.2M171 19L171 60.2L177.9 60.2L171 53.3M191.9 19L212.8 19L219.8 25.8L226.8 19L240.7 19L247.7 25.8L254.7 19L282.6 19L289.6 12.1M317.5 12.1L324.5 19L331.5 19L338.4 12.1M443.1 12.1L429.2 12.1L422.2 19L429.2 25.8L443.1 25.8M177.9 101.4L184.9 94.5L198.9 94.5L205.9 101.4L212.8 94.5L212.8 87.6L219.8 80.8L247.7 80.8L268.7 101.4L282.6 101.4L289.6 108.2L282.6 115.1L282.6 135.7L275.6 142.6L268.7 142.6L261.7 149.4L261.7 156.3L254.7 163.1L240.7 163.1L226.8 176.9L219.8 176.9L205.9 163.1L205.9 170L198.9 176.9L184.9 176.9L177.9 170L177.9 163.1L184.9 156.3L184.9 135.7L177.9 128.8L177.9 101.4M3.5 204.3L66.3 204.3L73.3 211.2L164 211.2L171 204.3L171 183.7L177.9 176.9L184.9 183.7L198.9 183.7L205.9 190.6L212.8 190.6L212.8 183.7L219.8 176.9M226.8 176.9L247.7 176.9L282.6 149.4L296.6 149.4L303.5 156.3L303.5 163.1L310.5 170L303.5 176.9L275.6 176.9M296.6 176.9L303.5 183.7L317.5 183.7L331.5 170L352.4 170L359.4 163.1L373.3 163.1L380.3 170L380.3 183.7L387.3 190.6L387.3 176.9L394.3 170L401.2 170L422.2 190.6L422.2 204.3L436.1 204.3L443.1 211.2"/>
</g>
<rect x="0" y="0" width="446.6" height="223.0" fill="none" stroke="#000" stroke-width="2.8"/><path d="M-8 0H0" stroke="#000" stroke-width="1.8"/><path d="M-15.5 37.2H0" stroke="#000" stroke-width="2.4"/><path d="M-8 74.3H0" stroke="#000" stroke-width="1.8"/><path d="M-15.5 111.5H0" stroke="#000" stroke-width="2.4"/><path d="M-8 148.7H0" stroke="#000" stroke-width="1.8"/><path d="M-15.5 185.8H0" stroke="#000" stroke-width="2.4"/><path d="M-8 223H0" stroke="#000" stroke-width="1.8"/><path d="M0 223V230.5" stroke="#000" stroke-width="1.8"/><path d="M37.2 223V230.5" stroke="#000" stroke-width="1.8"/><path d="M74.4 223V237.5" stroke="#000" stroke-width="2.2"/><path d="M111.7 223V230.5" stroke="#000" stroke-width="1.8"/><path d="M148.9 223V230.5" stroke="#000" stroke-width="1.8"/><path d="M186.1 223V230.5" stroke="#000" stroke-width="1.8"/><path d="M223.3 223V237.5" stroke="#000" stroke-width="2.2"/><path d="M260.5 223V230.5" stroke="#000" stroke-width="1.8"/><path d="M297.7 223V230.5" stroke="#000" stroke-width="1.8"/><path d="M335 223V230.5" stroke="#000" stroke-width="1.8"/><path d="M372.2 223V237.5" stroke="#000" stroke-width="2.2"/><path d="M409.4 223V230.5" stroke="#000" stroke-width="1.8"/><path d="M446.6 223V230.5" stroke="#000" stroke-width="1.8"/>
</g>
<g transform="translate(542.2 612.4)">
<g clip-path="url(#cp)">
<g shape-rendering="crispEdges">
<g transform="translate(-2.326 0) scale(4.6521 3.0972)" fill="none" stroke-width="1.03">
<path stroke="#8fd4ca" d="M0 0h19M0 1h19"/>
<path stroke="#83ccc2" d="M19 0h35M89 0h8M19 1h5M42 1h10M90 1h7M24 2h5M37 2h5M55 2h6M82 2h6M29 3h8M62 3h5M76 3h5M57 4h2M83 4h3M56 67h4M52 68h3M61 68h3M55 69h6"/>
<path stroke="#86cec4" d="M54 0h35M24 1h18M52 1h11M80 1h10M0 2h14M29 2h8M61 2h21M67 3h9M59 4h3M80 4h3M55 68h6"/>
<path stroke="#89d0c6" d="M63 1h17M14 2h5M62 4h4M77 4h3"/>
<path stroke="#7dc8be" d="M19 2h1M95 2h2M23 3h3M40 3h3M53 3h5M85 3h4M30 4h5M51 4h3M63 5h4M76 5h3M50 67h2M63 67h2M48 68h2M66 68h1M49 69h3M64 69h2"/>
<path stroke="#80cac0" d="M20 2h4M42 2h13M88 2h7M0 3h19M26 3h3M37 3h3M58 3h4M81 3h4M54 4h3M86 4h1M67 5h9M52 67h4M60 67h3M50 68h2M64 68h2M52 69h3M61 69h3"/>
<path stroke="#78c4bd" d="M19 3h1M94 3h3M14 4h5M25 4h2M39 4h2M87 4h1M59 5h2M82 5h2M55 66h6M47 67h2M67 67h1M45 68h2M69 68h1M46 69h2M68 69h2M50 70h4M62 70h3"/>
<path stroke="#7ac6be" d="M20 3h3M43 3h10M89 3h5M27 4h3M35 4h4M61 5h2M79 5h3M49 67h1M65 67h2M47 68h1M67 68h2M48 69h1M66 69h2M54 70h8"/>
<path stroke="#76c2bc" d="M0 4h11M13 4h1M23 4h2M41 4h4M50 4h1M88 4h4M57 5h2M84 5h2M52 66h3M61 66h3M46 67h1M68 67h2M44 68h1M70 68h2M45 69h1M70 69h1M48 70h2M65 70h3"/>
<path stroke="#6ebcbb" d="M11 4h2M50 5h1M62 6h2M79 6h2M47 66h1M68 66h1M42 67h1M72 67h1M40 68h2M74 68h1M40 69h2M74 69h1M42 70h2M72 70h1M47 71h3M65 71h4"/>
<path stroke="#70bebc" d="M19 4h1M96 4h1M51 5h3M64 6h3M76 6h3M48 66h2M66 66h2M43 67h2M71 67h1M42 68h1M73 68h1M42 69h1M73 69h1M44 70h2M70 70h2M50 71h6M60 71h5"/>
<path stroke="#73c0bc" d="M20 4h3M45 4h5M92 4h4M54 5h3M86 5h2M67 6h9M50 66h2M64 66h2M45 67h1M70 67h1M43 68h1M72 68h1M43 69h2M71 69h2M46 70h2M68 70h2M56 71h4"/>
<path stroke="#8cd2c8" d="M66 4h11"/>
<path stroke="#66b6ba" d="M0 5h10M14 5h1M23 5h3M41 5h9M91 5h3M56 6h2M85 6h2M65 7h3M74 7h4M51 65h4M61 65h3M42 66h2M72 66h1M39 67h1M76 67h1M37 68h1M78 68h1M36 69h2M78 69h1M37 70h2M77 70h2M39 71h3M74 71h2M45 72h4M66 72h4"/>
<path stroke="#64acbe" d="M10 5h4M49 6h3M59 7h2M82 7h2M69 8h5M45 65h2M68 65h2M39 66h1M76 66h1M35 67h1M79 67h2M33 68h1M81 68h2M32 69h1M82 69h2M31 70h2M82 70h2M32 71h3M81 71h3M34 72h4M78 72h3"/>
<path stroke="#69b8ba" d="M15 5h4M26 5h3M37 5h4M88 5h3M58 6h2M83 6h2M68 7h6M55 65h6M44 66h1M71 66h1M40 67h1M75 67h1M38 68h1M76 68h2M38 69h1M77 69h1M39 70h2M75 70h2M42 71h2M71 71h3M49 72h17"/>
<path stroke="#64b0bc" d="M19 5h1M52 6h2M61 7h2M80 7h2M47 65h2M67 65h1M40 66h1M74 66h2M36 67h2M78 67h1M34 68h2M80 68h1M33 69h2M81 69h1M33 70h2M80 70h2M35 71h2M79 71h2M38 72h4M74 72h4"/>
<path stroke="#6cbaba" d="M20 5h3M29 5h8M60 6h2M81 6h2M45 66h2M69 66h2M41 67h1M73 67h2M39 68h1M75 68h1M39 69h1M75 69h2M41 70h1M73 70h2M44 71h3M69 71h2"/>
<path stroke="#64b4b9" d="M94 5h3M54 6h2M87 6h1M63 7h2M78 7h2M49 65h2M64 65h3M41 66h1M73 66h1M38 67h1M77 67h1M36 68h1M79 68h1M35 69h1M79 69h2M35 70h2M79 70h1M37 71h2M76 71h3M42 72h3M70 72h4"/>
<path stroke="#649fc6" d="M0 6h9M15 6h3M19 6h2M29 6h10M48 6h1M91 6h3M53 7h2M61 8h2M80 8h2M56 64h4M41 65h1M73 65h2M35 66h1M79 66h2M83 67h1M86 68h1M26 69h2M87 69h3M26 70h1M89 70h3M91 71h5M91 72h6"/>
<path stroke="#6491cb" d="M9 6h6M18 6h1M89 7h2M54 8h3M86 8h2M64 9h3M76 9h3M46 64h2M68 64h2M36 65h2M78 65h1M84 66h1M88 67h1M91 68h2M95 69h2"/>
<path stroke="#64a3c3" d="M21 6h4M89 6h2M55 7h2M86 7h2M63 8h2M78 8h2M42 65h2M72 65h1M36 66h2M78 66h1M33 67h1M82 67h1M84 68h2M28 69h2M86 69h1M27 70h2M86 70h3M25 71h4M87 71h4M25 72h5M85 72h6"/>
<path stroke="#649bc8" d="M25 6h4M39 6h9M94 6h3M51 7h2M59 8h2M82 8h2M51 64h5M60 64h5M39 65h2M75 65h1M34 66h1M81 66h1M84 67h2M87 68h2M90 69h2M92 70h4M96 71h1"/>
<path stroke="#64a8c0" d="M88 6h1M57 7h2M84 7h2M65 8h4M74 8h4M44 65h1M70 65h2M38 66h1M77 66h1M34 67h1M81 67h1M32 68h1M83 68h1M30 69h2M84 69h2M29 70h2M84 70h2M29 71h3M84 71h3M30 72h4M81 72h4"/>
<path stroke="#508555" d="M0 7h2M7 7h9M3 8h3M21 8h8M48 8h2M92 8h3M51 9h3M63 10h4M76 10h4M50 63h16M36 64h2M78 64h2M86 65h2M93 66h3"/>
<path stroke="#558496" d="M2 7h5M20 7h2M46 7h4M93 7h3M50 8h2M59 9h2M82 9h2M42 64h2M72 64h2M33 65h2M81 65h1M87 66h1M91 67h3M96 68h1"/>
<path stroke="#4d8458" d="M16 7h4M90 8h2M54 9h2M87 9h1M67 10h9M38 64h2M76 64h2M84 65h2M90 66h3"/>
<path stroke="#648ccc" d="M22 7h5M91 7h2M52 8h2M61 9h3M79 9h3M44 64h2M70 64h2M35 65h1M79 65h2M85 66h2M89 67h2M93 68h3"/>
<path stroke="#49835c" d="M27 7h19M96 7h1M88 8h2M56 9h3M84 9h3M40 64h2M74 64h2M82 65h2M88 66h2M94 67h3"/>
<path stroke="#6496c9" d="M50 7h1M88 7h1M57 8h2M84 8h2M67 9h9M48 64h3M65 64h3M38 65h1M76 65h2M33 66h1M82 66h2M86 67h2M89 68h2M92 69h3M96 70h1"/>
<path stroke="#5b884a" d="M0 8h3M6 8h15M23 9h8M35 9h7M91 9h4M53 10h3M86 10h1M72 63h3M84 64h3M93 65h4M30 67h1M27 68h1M24 69h2M20 70h4M10 71h10M0 72h16"/>
<path stroke="#57874e" d="M29 8h14M42 9h5M89 9h2M56 10h4M83 10h3M44 63h2M69 63h3M33 64h1M82 64h2M90 65h3M31 67h2M28 68h2M24 70h2M20 71h5M16 72h9"/>
<path stroke="#548651" d="M43 8h5M95 8h2M47 9h4M88 9h1M60 10h3M80 10h3M46 63h4M66 63h3M34 64h2M80 64h2M88 65h2M96 66h1M30 68h2"/>
<path stroke="#628a43" d="M0 9h23M31 9h4M43 10h6M87 10h3M62 11h6M75 11h6M35 63h3M78 63h3M89 64h4M30 66h2M26 67h2M22 68h3M17 69h4M0 70h14"/>
<path stroke="#5e8947" d="M95 9h2M49 10h4M68 11h7M38 63h2M75 63h3M87 64h2M32 66h1M28 67h2M25 68h2M21 69h3M14 70h6M0 71h10"/>
<path stroke="#6c8d39" d="M0 10h23M33 10h2M45 11h7M71 62h4M43 63h1M29 65h2M25 66h2M19 67h3M8 68h7"/>
<path stroke="#658b40" d="M23 10h10M35 10h8M90 10h4M57 11h5M81 11h5M51 62h14M33 63h2M81 63h3M93 64h4M29 66h1M24 67h2M19 68h3M9 69h8"/>
<path stroke="#698c3c" d="M94 10h3M52 11h5M86 11h1M45 62h6M65 62h6M84 63h3M31 65h2M27 66h2M22 67h2M15 68h4M0 69h9"/>
<path stroke="#739030" d="M0 11h24M47 12h9M87 12h1M85 62h2M27 64h3M21 65h3M15 66h4M0 67h8"/>
<path stroke="#6e8e36" d="M24 11h21M87 11h6M63 12h16M36 62h3M75 62h5M40 63h3M32 64h1M27 65h2M22 66h3M15 67h4M0 68h8"/>
<path stroke="#708f33" d="M93 11h4M58 12h5M79 12h8M33 62h3M80 62h5M30 64h2M24 65h3M19 66h3M8 67h7"/>
<path stroke="#78922a" d="M0 12h25M92 12h5M63 13h16M40 61h1M71 61h8M39 62h4M28 63h4M87 63h1M20 64h4M10 65h7M0 66h6"/>
<path stroke="#76912d" d="M25 12h22M56 12h2M88 12h4M45 61h26M43 62h2M32 63h1M24 64h3M17 65h4M6 66h9"/>
<path stroke="#809521" d="M0 13h28M93 13h4M48 60h19M41 61h4M20 62h9M87 62h8M0 63h15"/>
<path stroke="#7d9424" d="M28 13h21M55 13h3M88 13h5M29 62h4M15 63h8M93 63h4M0 64h12"/>
<path stroke="#7a9327" d="M49 13h6M58 13h5M79 13h9M33 61h3M79 61h8M23 63h5M88 63h5M12 64h8M0 65h10"/>
<path stroke="#8f9a1c" d="M0 14h40M56 14h2M88 14h9M50 59h15M33 60h1M35 60h4M42 60h4M0 61h15"/>
<path stroke="#88981d" d="M40 14h16M58 14h30M84 60h3M15 61h16M87 61h10"/>
<path stroke="#a9a218" d="M0 15h66M77 15h20M22 58h13M86 58h8"/>
<path stroke="#a2a019" d="M66 15h11M35 58h51M0 59h32M86 59h11"/>
<path stroke="#c3aa14" d="M0 16h97"/>
<path stroke="#d7b010" d="M0 17h97M0 55h97"/>
<path stroke="#e6b40d" d="M0 18h97M49 54h1M53 54h1M64 54h1M69 54h1M84 54h1"/>
<path stroke="#f5b90a" d="M0 19h21M30 19h67M22 20h6M23 21h4M23 22h1M26 22h1M24 23h3M33 52h1M64 53h1M70 53h1M83 53h1"/>
<path stroke="#f0b80b" d="M21 19h9M24 22h2M0 53h36M51 53h3M65 53h5M84 53h13"/>
<path stroke="#f4b00c" d="M0 20h20M29 20h4M37 20h60M21 21h1M27 23h1M25 24h1M32 50h2M31 51h1M0 52h30M53 52h2M63 52h11M79 52h1M82 52h15M38 53h11M56 53h6M75 53h3"/>
<path stroke="#f4b40b" d="M20 20h2M28 20h1M22 21h1M27 21h2M22 22h1M27 22h1M23 23h1M32 51h3M30 52h3M34 52h2M36 53h2M49 53h2M54 53h2M62 53h2M71 53h4M78 53h5"/>
<path stroke="#f4ac0d" d="M33 20h4M20 21h1M21 22h1M22 23h1M24 24h1M26 24h1M34 50h1M30 51h1M35 51h1M81 52h1"/>
<path stroke="#f2a20f" d="M0 21h18M29 21h68M19 22h1M22 24h1M32 49h2M30 50h1M37 52h14M56 52h6M75 52h3"/>
<path stroke="#f3a70e" d="M18 21h2M20 22h1M21 23h1M23 24h1M27 24h1M31 50h1M35 50h1M0 51h30M54 51h2M63 51h11M78 51h2M81 51h16M36 52h1M51 52h2M55 52h1M62 52h1M74 52h1M78 52h1M80 52h1"/>
<path stroke="#f29a11" d="M0 22h18M28 22h3M39 22h58M19 23h1M21 24h1M24 25h3M35 49h1M0 50h29M54 50h3M62 50h35M53 51h1M56 51h1M62 51h1M77 51h1"/>
<path stroke="#f29e10" d="M18 22h1M20 23h1M31 49h1M34 49h1M29 50h1M74 51h1M80 51h1"/>
<path stroke="#f19512" d="M31 22h2M37 22h2M18 23h1M20 24h1M23 25h1M27 25h1M30 49h1M36 51h1M75 51h2"/>
<path stroke="#f09013" d="M33 22h4M0 23h18M28 23h1M40 23h57M19 24h1M22 25h1M28 25h1M29 49h1M52 51h1M57 51h1M61 51h1"/>
<path stroke="#f08c14" d="M29 23h2M39 23h1M18 24h1M21 25h1M32 48h3M0 49h29M54 49h5M62 49h35M37 51h15M58 51h3"/>
<path stroke="#ef8615" d="M31 23h1M38 23h1M0 24h18M28 24h1M42 24h55M20 25h1M24 26h3M31 48h1M35 48h1M57 50h1"/>
<path stroke="#ed7a17" d="M32 23h1M30 24h1M0 25h18M44 25h3M52 25h24M81 25h16M20 26h2M29 26h1M0 48h28M54 48h43M36 50h1M53 50h1M58 50h1M61 50h1"/>
<path stroke="#eb6e19" d="M33 23h1M36 23h1M31 24h1M40 25h1M0 26h18M43 26h5M51 26h25M81 26h16M21 27h8M0 47h31M55 47h42M59 49h1M37 50h16M60 50h1"/>
<path stroke="#e9621b" d="M34 23h1M40 26h1M78 26h2M22 28h7M0 46h36M57 46h40"/>
<path stroke="#ea681a" d="M35 23h1M30 25h1M39 25h1M41 26h2M48 26h3M76 26h2M80 26h1M0 27h21M29 27h1M41 27h36M82 27h15M60 49h1"/>
<path stroke="#ee8016" d="M37 23h1M29 24h1M39 24h3M18 25h2M22 26h2M27 26h2M28 48h3"/>
<path stroke="#e7561d" d="M32 24h1M31 25h1M30 27h1M78 27h3M0 29h30M33 29h3M39 29h5M50 29h28M82 29h15M0 45h35M58 45h39"/>
<path stroke="#da4a1a" d="M33 24h1M32 25h1M37 26h1M32 27h1M33 28h1M36 28h1M79 29h2M50 30h1M81 31h3M0 34h34M37 34h4M53 34h3M58 34h23M83 34h14M0 35h34M58 35h39M0 36h34M58 36h39M0 37h34M58 37h39M36 47h1M37 48h2M47 48h6"/>
<path stroke="#d14617" d="M34 24h2M33 27h1M36 27h1M45 30h4M50 31h1M51 32h1M34 33h1M52 33h1M83 33h1M57 34h1M81 34h2M37 47h1M48 47h5"/>
<path stroke="#dd4c1b" d="M36 24h1M37 25h1M37 27h1M31 28h2M37 28h1M31 29h2M36 29h2M45 29h4M0 33h34M37 33h5M53 33h3M57 33h24M84 33h13M0 38h34M58 38h39M0 39h34M58 39h39M0 40h34M58 40h39M0 41h34M58 41h39M56 46h1"/>
<path stroke="#e85c1c" d="M37 24h1M38 25h1M30 26h1M39 26h1M40 27h1M77 27h1M81 27h1M0 28h22M29 28h1M41 28h37M82 28h15M36 49h1M53 49h1"/>
<path stroke="#ec7418" d="M38 24h1M29 25h1M41 25h3M47 25h5M76 25h5M18 26h2M31 47h5M61 49h1M59 50h1"/>
<path stroke="#c33f14" d="M33 25h1M33 26h1M44 32h6M43 33h1M51 33h1M36 34h1M37 35h1M40 35h1M53 35h3M34 38h1M34 39h1M57 40h1M57 41h1M34 43h1M53 45h3M38 46h1M47 46h2"/>
<path stroke="#af3712" d="M34 25h2M34 26h2M40 38h6M36 39h2M48 39h2M35 40h1M50 40h2M51 41h2M51 42h2M35 43h1M51 43h1M36 44h1M49 44h1M38 45h2M47 45h1"/>
<path stroke="#c84114" d="M36 25h1M36 26h1M43 32h1M50 32h1M35 33h1M52 34h1M34 35h1M38 35h2M34 36h1M57 36h1M34 37h1M57 37h1M57 38h1M57 39h1M57 42h1M57 43h1M37 46h1M49 46h3"/>
<path stroke="#e34e1d" d="M31 26h1M31 27h1M38 27h1M30 28h1M39 28h1M78 28h1M81 29h1M82 30h2M0 31h43M51 31h28M84 31h13M0 43h34M58 43h39M36 48h1M38 49h14"/>
<path stroke="#d44718" d="M32 26h1M49 30h1M43 31h1M80 31h1M42 32h1M80 32h1M83 32h1M55 46h1M53 47h1"/>
<path stroke="#e6501e" d="M38 26h1M39 27h1M40 28h1M81 28h1M0 30h31M32 30h5M38 30h6M51 30h28M84 30h13M0 44h34M58 44h39M37 49h1M52 49h1"/>
<path stroke="#cb4215" d="M34 27h2M44 31h6M42 33h1M82 33h1M34 34h1M41 34h1M57 35h1M56 45h1M52 46h2"/>
<path stroke="#d74819" d="M34 28h2M44 30h1M79 30h2M79 31h1M35 32h2M56 33h1M57 45h1M39 48h8"/>
<path stroke="#e04d1c" d="M38 28h1M79 28h2M30 29h1M38 29h1M44 29h1M49 29h1M78 29h1M31 30h1M37 30h1M81 30h1M0 32h35M37 32h5M52 32h28M84 32h13M0 42h34M58 42h39M54 47h1M53 48h1"/>
<path stroke="#ce4416" d="M81 32h2M36 33h1M81 33h1M56 34h1M34 44h1M57 44h1M35 45h1M36 46h1M54 46h1M38 47h10"/>
<path stroke="#be3d13" d="M44 33h7M35 34h1M42 34h10M35 35h2M41 35h1M52 35h1M56 35h1M35 36h1M37 36h3M50 36h7M56 37h1M34 40h1M34 41h1M34 42h1M56 43h1M54 44h3M36 45h1M51 45h2M39 46h8"/>
<path stroke="#b93b12" d="M42 35h10M36 36h1M40 36h10M35 37h21M35 38h1M50 38h7M53 39h4M55 40h2M56 41h1M56 42h1M53 43h3M35 44h1M52 44h2M49 45h2"/>
<path stroke="#b43912" d="M36 38h4M46 38h4M35 39h1M50 39h3M52 40h3M53 41h3M53 42h3M52 43h1M50 44h2M37 45h1M48 45h1"/>
<path stroke="#aa3511" d="M38 39h2M46 39h2M36 40h1M49 40h1M35 41h1M50 41h1M35 42h1M50 42h1M50 43h1M37 44h1M40 45h1M45 45h2"/>
<path stroke="#a53310" d="M40 39h6M37 40h1M48 40h1M49 41h1M36 43h1M49 43h1M48 44h1M41 45h4"/>
<path stroke="#9b2f10" d="M38 40h1M45 40h2M48 42h1M37 43h1M39 44h1M46 44h1"/>
<path stroke="#962d0f" d="M39 40h1M44 40h1M37 41h1M47 41h1M47 43h1M40 44h1M45 44h1"/>
<path stroke="#902b0e" d="M40 40h1M43 40h1M46 41h1M37 42h1M47 42h1M38 43h1M46 43h1M41 44h1M43 44h2"/>
<path stroke="#8a290e" d="M41 40h2M38 41h1M45 41h1M46 42h1M42 44h1"/>
<path stroke="#a03110" d="M47 40h1M36 41h1M48 41h1M36 42h1M49 42h1M48 43h1M38 44h1M47 44h1"/>
<path stroke="#78230c" d="M39 41h1M43 41h1M44 42h1M40 43h1M43 43h1"/>
<path stroke="#72210c" d="M40 41h1M42 41h1M39 42h1M41 43h2"/>
<path stroke="#6c1f0c" d="M41 41h1M43 42h1"/>
<path stroke="#7e250d" d="M44 41h1M38 42h1M45 42h1M44 43h1"/>
<path stroke="#661d0b" d="M40 42h1M42 42h1"/>
<path stroke="#601b0a" d="M41 42h1"/>
<path stroke="#84270e" d="M39 43h1M45 43h1"/>
<path stroke="#e1b30e" d="M0 54h36M50 54h3M65 54h4M85 54h12"/>
<path stroke="#ebb60c" d="M36 54h13M54 54h10M70 54h14"/>
<path stroke="#c8ac13" d="M0 56h97"/>
<path stroke="#bca815" d="M0 57h34M49 57h3M65 57h2M86 57h11"/>
<path stroke="#b6a616" d="M34 57h15M52 57h13M67 57h19"/>
<path stroke="#b0a417" d="M0 58h22M94 58h3"/>
<path stroke="#9c9e1a" d="M32 59h4M42 59h1"/>
<path stroke="#969c1b" d="M36 59h6M43 59h7M65 59h21M0 60h33M87 60h10"/>
<path stroke="#82961e" d="M34 60h1M39 60h3M46 60h2M67 60h17M31 61h2M36 61h4M0 62h20M95 62h2"/>
</g>
</g>
<path fill="none" stroke="#000" stroke-width="1.8" stroke-linejoin="miter" stroke-linecap="square" d="M3.5 19L10.5 25.8L24.4 25.8L31.4 19L38.4 19L45.4 12.1L59.3 12.1L66.3 19L80.2 19L87.2 12.1L87.2 5.2M191.9 25.8L198.9 19L191.9 12.1L94.2 12.1L87.2 19L94.2 25.8L101.2 25.8L115.1 39.6L129.1 39.6L129.1 46.4L136.1 53.3L136.1 60.2L129.1 67L129.1 73.9L136.1 80.8L136.1 87.6L143.1 94.5L150 87.6L164 87.6L171 94.5L177.9 87.6L184.9 87.6L191.9 80.8L198.9 80.8L212.8 67L212.8 73.9L219.8 80.8L233.8 80.8L240.7 73.9L247.7 73.9L254.7 67L261.7 73.9L275.6 60.2L268.7 53.3L261.7 53.3L261.7 46.4L254.7 39.6L233.8 39.6M254.7 39.6L261.7 32.7L268.7 39.6L268.7 46.4L282.6 60.2L289.6 60.2L310.5 73.9L345.4 73.9L380.3 108.2L387.3 101.4L387.3 94.5L373.3 80.8L373.3 73.9L394.3 53.3L401.2 53.3L408.2 46.4L408.2 39.6L401.2 32.7L408.2 25.8L408.2 19L401.2 12.1L317.5 12.1M401.2 12.1L415.2 19L443.1 19M164 25.8L191.9 25.8L184.9 25.8L191.9 32.7L198.9 25.8L233.8 25.8L226.8 19L233.8 12.1L268.7 12.1M240.7 5.2L247.7 12.1M275.6 32.7L296.6 32.7L289.6 39.6L282.6 39.6L275.6 32.7M164 25.8L157 32.7L150 32.7L150 73.9L157 67L157 46.4L150 39.6M157 101.4L164 94.5L171 101.4L171 108.2L184.9 108.2L205.9 87.6L226.8 87.6L247.7 108.2L254.7 108.2L261.7 101.4L268.7 108.2L268.7 135.7L261.7 142.6L254.7 142.6L247.7 149.4L247.7 156.3L240.7 163.1L233.8 163.1L212.8 183.7L198.9 183.7L191.9 176.9L191.9 170L191.9 183.7L184.9 190.6L177.9 183.7L164 183.7L157 176.9L164 170L164 142.6L157 135.7L157 101.4M115.1 218.1L122.1 211.2L150 211.2L150 190.6L157 183.7L164 190.6L177.9 190.6L184.9 197.5L198.9 197.5L219.8 176.9L240.7 176.9L240.7 170L275.6 149.4L282.6 149.4L289.6 156.3L289.6 163.1L296.6 163.1L303.5 170L296.6 176.9L268.7 176.9M296.6 176.9L310.5 176.9L324.5 163.1L338.4 163.1L345.4 156.3L359.4 156.3L366.4 163.1L373.3 156.3L380.3 163.1L387.3 163.1L394.3 170L394.3 176.9L401.2 183.7L401.2 197.5L443.1 197.5M366.4 163.1L366.4 176.9L373.3 176.9L366.4 170M3.5 197.5L10.5 204.3L3.5 211.2M352.4 211.2L373.3 211.2M429.2 218.1L429.2 211.2L443.1 211.2"/>
</g>
<rect x="0" y="0" width="446.6" height="223.0" fill="none" stroke="#000" stroke-width="2.8"/><path d="M-8 0H0" stroke="#000" stroke-width="1.8"/><path d="M-15.5 37.2H0" stroke="#000" stroke-width="2.4"/><path d="M-8 74.3H0" stroke="#000" stroke-width="1.8"/><path d="M-15.5 111.5H0" stroke="#000" stroke-width="2.4"/><path d="M-8 148.7H0" stroke="#000" stroke-width="1.8"/><path d="M-15.5 185.8H0" stroke="#000" stroke-width="2.4"/><path d="M-8 223H0" stroke="#000" stroke-width="1.8"/><path d="M0 223V230.5" stroke="#000" stroke-width="1.8"/><path d="M37.2 223V230.5" stroke="#000" stroke-width="1.8"/><path d="M74.4 223V237.5" stroke="#000" stroke-width="2.2"/><path d="M111.7 223V230.5" stroke="#000" stroke-width="1.8"/><path d="M148.9 223V230.5" stroke="#000" stroke-width="1.8"/><path d="M186.1 223V230.5" stroke="#000" stroke-width="1.8"/><path d="M223.3 223V237.5" stroke="#000" stroke-width="2.2"/><path d="M260.5 223V230.5" stroke="#000" stroke-width="1.8"/><path d="M297.7 223V230.5" stroke="#000" stroke-width="1.8"/><path d="M335 223V230.5" stroke="#000" stroke-width="1.8"/><path d="M372.2 223V237.5" stroke="#000" stroke-width="2.2"/><path d="M409.4 223V230.5" stroke="#000" stroke-width="1.8"/><path d="M446.6 223V230.5" stroke="#000" stroke-width="1.8"/>
</g>
<g transform="translate(1013.6 612.4)">
<g clip-path="url(#cp)">
<rect width="446.6" height="223.0" fill="#bebebe"/>
<g shape-rendering="crispEdges">
<g transform="translate(-2.326 0) scale(4.6521 3.0972)" fill="none" stroke-width="1.03">
<path stroke="#9797ff" d="M15 3h2M21 4h1M22 6h1M23 11h1M20 12h1M20 13h1M14 14h2M19 14h1M16 15h2M25 15h1M27 15h1M30 16h1M82 44h1M85 44h1M84 45h1M82 46h2M82 48h1"/>
<path stroke="#c7c7ff" d="M17 3h1M19 3h1M26 3h1M29 3h1M37 3h1M39 4h3M26 5h1M30 5h1M35 5h1M16 6h1M24 6h2M39 6h1M23 7h1M42 7h1M18 8h1M30 8h1M13 9h1M32 9h2M14 10h1M28 10h1M14 11h1M33 11h1M28 12h3M12 13h1M25 13h2M47 13h1M47 14h1M51 14h1M20 15h1M47 15h1M51 15h1M22 16h1M49 16h1M18 17h1M26 17h1M33 17h1M48 17h1M56 18h1M22 19h1M28 19h1M22 20h1M29 28h1M29 32h1M28 33h1M29 34h1M33 34h2M33 35h1M27 37h1M81 37h1M82 40h1M84 40h2M79 44h1M87 44h1M80 45h1M90 45h1M78 46h2M88 46h1M80 47h1M86 47h1M80 48h1M86 48h1M90 48h1M86 49h1M85 51h1M87 51h2M87 52h1M92 54h1M92 56h1M77 64h1M76 65h1M91 66h1M75 67h1"/>
<path stroke="#b7b7ff" d="M18 3h1M24 3h1M15 4h1M18 4h1M20 4h1M27 4h2M15 5h1M39 5h1M27 6h1M30 6h1M17 7h1M26 7h2M20 8h1M27 8h1M14 9h1M18 9h1M22 9h1M26 9h1M31 9h1M12 11h1M21 11h1M25 11h1M17 12h1M13 14h1M21 14h1M26 15h1M16 16h1M20 16h1M26 16h1M31 16h1M25 17h1M26 18h3M32 36h1M31 37h1M87 39h1M83 41h1M82 42h1M81 43h1M87 43h1M80 44h1M81 46h1M85 46h1M84 47h1M81 49h1M85 50h1M88 50h1M96 57h1M73 66h1M89 66h1"/>
<path stroke="#cfcfff" d="M20 3h1M23 3h1M30 3h3M26 4h1M34 4h1M24 5h1M28 5h1M31 5h1M17 6h1M28 6h1M14 7h1M24 7h1M34 7h1M36 7h1M13 8h1M15 8h1M24 8h1M40 8h1M11 9h1M16 9h1M37 9h1M39 9h2M13 10h1M28 11h2M46 13h1M49 13h1M52 13h1M33 15h1M15 16h1M19 16h1M48 16h1M17 17h1M23 17h2M27 17h1M31 17h1M24 18h1M23 19h1M27 19h1M54 19h1M24 20h2M27 20h1M27 22h1M26 23h1M89 23h1M24 24h1M26 24h1M89 25h1M27 32h1M96 32h1M30 33h1M31 35h1M29 36h1M33 36h1M84 36h1M32 37h1M87 37h1M80 39h1M86 39h1M87 40h1M81 42h1M90 44h1M87 47h1M89 48h1M85 49h1M96 49h1M86 50h1M95 56h2M95 57h1M70 62h1M71 63h1M75 63h1M87 63h1M85 64h2M65 65h2M72 65h1M78 65h1M83 65h1M87 65h1M89 65h1M81 66h1M74 67h1M90 67h2"/>
<path stroke="#9f9fff" d="M21 3h2M17 4h1M19 4h1M22 4h1M22 5h1M29 5h1M23 8h1M26 8h1M29 8h1M16 10h1M18 10h1M30 10h1M16 11h1M18 11h1M20 11h1M19 12h1M16 13h1M22 13h1M27 13h2M30 13h1M17 14h1M20 14h1M15 15h1M18 15h2M24 16h1M86 42h1M86 43h1M81 45h1M85 45h1M82 47h1M88 48h1M79 49h1"/>
<path stroke="#d7d7ff" d="M25 3h1M35 3h1M40 3h1M24 4h1M31 4h1M33 4h1M32 5h1M32 6h1M36 6h1M41 6h2M56 6h2M33 7h1M35 7h1M16 8h1M35 8h1M38 8h1M1 9h1M15 9h1M36 9h1M56 9h1M8 10h2M11 10h2M29 10h1M33 10h1M38 10h1M36 11h2M11 12h1M33 12h1M36 12h1M49 12h1M50 13h2M46 14h1M48 14h1M46 15h1M52 15h1M33 16h1M46 16h1M16 17h1M22 17h1M56 17h1M30 18h1M49 18h1M24 19h1M29 19h1M26 20h1M23 21h2M26 21h1M88 21h1M25 22h1M21 23h2M25 24h1M2 30h1M48 31h1M25 32h2M28 32h1M32 33h1M30 34h1M27 35h2M34 35h1M27 36h2M35 36h1M28 37h2M80 37h1M26 38h1M77 38h3M81 38h1M87 38h2M81 39h1M80 40h1M86 40h1M88 40h1M91 44h1M88 45h1M87 46h1M89 46h1M81 47h1M89 47h1M94 49h2M93 51h1M87 53h1M78 62h1M58 63h1M77 63h1M79 63h1M64 64h1M69 64h1M74 64h2M79 64h1M84 64h1M91 64h2M84 65h1M90 65h1M68 66h1M73 67h1M76 67h1"/>
<path stroke="#bfbfff" d="M27 3h1M33 3h1M25 4h1M16 5h2M19 5h1M23 5h1M23 6h1M29 6h1M31 6h1M16 7h1M25 7h1M28 7h4M21 8h1M28 8h1M24 9h1M31 10h2M13 11h1M27 11h1M13 12h1M32 13h1M48 13h1M50 14h1M14 15h1M21 15h1M49 15h1M14 16h1M18 16h1M21 16h1M23 16h1M25 16h1M32 16h1M50 16h2M30 17h1M49 17h2M25 18h1M29 18h1M26 19h1M28 21h1M25 23h1M27 33h1M29 33h1M30 35h1M30 37h1M84 39h1M84 41h1M87 45h1M80 46h1M86 46h1M79 47h1M85 47h1M88 47h1M87 48h1M80 49h1M80 50h1M86 51h1M68 65h1M77 65h1M74 66h3M90 66h1"/>
<path stroke="#a7a7ff" d="M28 3h1M16 4h1M21 5h1M19 6h3M26 6h1M18 7h1M20 7h3M19 8h1M19 9h1M23 9h1M29 9h1M34 9h1M19 10h3M23 10h1M34 10h2M19 11h1M22 11h1M24 11h1M30 11h1M14 12h1M16 12h1M18 12h1M24 12h1M31 12h1M17 13h2M21 13h1M23 13h1M31 13h1M18 14h1M22 14h1M24 14h1M26 14h1M22 15h2M32 15h1M50 15h1M17 16h1M27 34h1M83 42h2M85 43h1M81 44h1M84 46h1M79 48h1M81 48h1M83 48h2M82 49h3M87 49h2M79 50h1M74 65h1"/>
<path stroke="#e7e7ff" d="M34 3h1M42 3h2M48 3h1M55 3h1M68 3h1M38 4h1M42 4h1M44 4h1M48 4h1M54 4h1M33 5h1M36 5h1M55 5h1M15 6h1M37 6h1M52 6h2M55 6h1M1 7h2M15 7h1M32 7h1M39 7h2M58 7h1M1 8h1M10 8h1M12 8h1M37 8h1M39 8h1M42 8h1M53 8h1M3 9h1M5 9h1M7 9h1M54 9h1M58 9h2M0 10h1M3 10h1M44 10h1M58 10h1M50 11h1M3 12h1M7 12h1M35 12h1M50 12h1M53 13h1M52 14h1M45 15h1M20 17h1M52 17h2M57 17h1M19 18h1M22 18h1M48 18h1M55 18h1M57 18h1M48 19h1M50 19h1M21 20h1M28 20h1M56 20h1M65 21h1M91 21h1M24 22h1M28 22h1M27 23h1M88 23h1M92 23h1M18 24h1M22 24h1M21 25h1M47 25h1M58 25h1M19 26h1M87 26h1M20 27h1M27 28h1M87 28h1M91 28h1M93 28h1M29 29h1M48 30h1M90 30h1M2 31h1M30 32h1M26 33h1M31 33h1M46 33h1M91 34h1M90 35h2M34 36h1M76 37h1M78 37h1M82 37h2M85 37h1M29 38h1M76 38h1M85 38h1M38 39h1M92 44h1M91 45h1M90 46h1M91 48h2M94 48h1M96 48h1M29 52h1M93 52h2M1 53h1M93 53h1M2 54h1M28 54h2M31 54h1M95 54h2M93 55h1M29 57h1M92 57h1M30 58h1M64 62h1M72 62h4M80 62h1M83 62h1M73 63h2M76 63h1M78 63h1M83 63h1M86 63h1M89 63h2M57 64h1M65 64h2M71 64h1M83 64h1M89 64h2M58 65h1M63 65h1M67 65h1M69 65h1M71 65h1M86 65h1M93 65h1M60 66h2M70 66h1M72 66h1M85 66h1M92 66h1M62 67h1M71 67h1M77 67h1M67 68h2M72 68h1M75 68h1M77 68h1M85 68h2M69 69h1"/>
<path stroke="#efefff" d="M36 3h1M44 3h1M63 3h1M65 3h1M43 4h1M55 4h1M65 4h1M43 5h1M53 5h1M64 5h2M0 6h1M38 6h1M41 7h1M54 7h1M61 7h1M8 8h1M41 8h1M56 8h2M38 9h1M52 9h1M4 10h2M10 10h1M37 10h1M42 10h1M52 10h1M59 10h1M2 11h1M4 11h1M32 11h1M34 11h1M4 12h1M8 12h1M52 12h1M55 12h1M54 13h1M57 13h1M56 14h1M48 15h1M58 15h1M47 16h1M52 16h1M56 16h1M15 17h1M34 17h1M55 17h1M17 18h2M20 18h2M31 18h1M16 19h2M49 19h1M55 19h1M54 20h2M27 21h1M46 21h1M50 21h1M22 22h1M26 22h1M49 22h2M58 22h1M65 22h1M89 22h1M94 22h1M17 23h1M23 23h1M93 23h1M23 24h1M58 24h1M61 24h1M88 25h1M21 26h1M46 26h1M48 26h2M95 26h1M50 27h2M91 27h1M49 28h1M88 28h1M23 29h2M88 29h1M96 29h1M1 30h1M47 30h1M53 30h1M88 30h1M96 30h1M53 31h1M2 32h1M31 32h1M88 32h1M50 33h1M89 33h1M95 33h1M31 34h1M92 34h1M96 34h1M77 35h1M79 35h1M92 35h1M80 36h1M95 36h1M34 37h1M28 38h1M91 46h1M94 51h1M96 52h1M0 53h1M94 53h2M1 54h1M93 54h1M31 55h1M67 55h1M92 55h1M94 55h1M31 56h1M93 56h1M66 57h1M94 57h1M62 62h2M82 62h1M84 62h2M62 63h2M72 63h1M85 63h1M88 63h1M58 64h1M62 64h1M70 64h1M72 64h1M80 64h1M93 64h1M57 65h1M62 65h1M80 65h3M88 65h1M59 66h1M64 66h2M78 66h1M87 66h1M60 67h1M65 67h1M70 67h1M78 67h1M85 67h1M88 67h2M94 67h1M62 68h1M73 68h2M76 68h1M82 68h1M89 68h1M74 69h1"/>
<path stroke="#dfdfff" d="M38 3h2M41 3h1M45 3h1M56 3h1M64 3h1M32 4h1M35 4h3M64 4h1M34 5h1M37 5h2M41 5h2M33 6h3M40 6h1M54 6h1M37 7h1M56 7h1M0 8h1M9 8h1M11 8h1M32 8h3M36 8h1M52 8h1M10 9h1M12 9h1M57 9h1M36 10h1M35 11h1M9 12h1M47 12h1M51 12h1M19 17h1M21 17h1M61 17h1M23 18h1M54 18h1M21 19h1M25 19h1M25 21h1M90 21h1M93 21h1M23 22h1M93 22h1M24 23h1M21 24h1M89 24h1M46 25h1M20 26h1M28 28h1M92 28h1M26 31h1M29 31h1M96 31h1M32 34h1M29 35h1M32 35h1M30 36h2M85 36h1M33 37h1M74 37h1M79 37h1M84 37h1M86 37h1M27 38h1M80 38h1M84 38h1M86 38h1M78 39h2M85 39h1M88 39h1M81 40h1M92 45h1M92 46h1M90 47h1M95 48h1M95 50h2M95 51h1M92 53h1M94 54h1M29 55h1M95 55h2M30 56h1M94 56h1M32 57h1M93 57h1M61 62h1M71 62h1M77 62h1M79 62h1M64 63h3M70 63h1M84 63h1M63 64h1M73 64h1M78 64h1M87 64h2M59 65h2M64 65h1M70 65h1M73 65h1M85 65h1M91 65h1M58 66h1M62 66h2M67 66h1M69 66h1M77 66h1M86 66h1M88 66h1M61 67h1M63 67h1M66 67h2M72 67h1M84 67h1M92 67h2"/>
<path stroke="#fff7f7" d="M46 3h2M66 3h1M2 4h1M51 4h1M59 4h1M60 5h1M62 5h1M60 7h1M64 7h1M4 8h2M55 8h1M58 8h1M55 9h1M60 9h1M62 9h2M2 10h1M55 10h1M63 10h1M52 11h1M56 11h1M59 11h1M54 12h1M56 12h1M58 13h1M60 13h1M54 15h2M61 16h1M66 18h1M86 18h1M18 19h1M20 19h1M46 19h1M63 19h1M16 20h1M47 20h1M63 20h2M16 21h1M48 21h1M51 21h1M55 21h1M57 21h1M68 21h1M16 22h1M47 22h1M61 22h3M58 23h1M64 23h1M90 23h2M20 24h1M46 24h2M49 24h1M53 24h1M65 24h1M88 24h1M91 24h2M94 24h3M45 25h1M51 25h1M57 25h1M65 25h1M92 25h2M45 26h1M51 26h1M55 26h1M65 26h1M89 26h2M44 27h1M47 27h1M54 27h1M64 27h1M87 27h1M89 27h1M44 28h1M48 28h1M50 28h1M94 28h1M1 29h1M44 29h1M49 29h2M52 29h3M91 29h1M50 30h1M56 30h1M94 30h2M0 31h1M25 31h1M49 31h1M54 31h1M93 31h1M44 32h1M50 32h1M68 32h2M90 32h2M95 32h1M47 33h1M49 33h1M52 33h1M60 33h1M69 33h1M52 34h1M93 34h1M74 35h1M94 35h1M96 35h1M35 38h1M37 38h1M28 39h1M39 39h1M27 40h1M38 41h1M61 42h1M61 43h1M33 45h1M30 51h2M31 52h1M30 54h1M28 55h1M30 55h1M81 62h1M86 62h1M59 63h1M59 64h1M61 64h1M67 64h1M55 65h1M61 65h1M79 66h1M41 67h1M57 67h1M82 67h1M61 68h1M88 68h1M92 68h1M95 68h2M67 69h1M77 69h1M81 69h3M77 70h1M78 71h1"/>
<path stroke="#ffffff" d="M54 3h1M61 3h1M70 3h1M0 4h1M46 4h1M53 4h1M60 4h1M62 4h1M1 5h1M54 5h1M59 5h1M2 6h1M61 6h1M63 6h1M55 7h1M6 9h1M53 9h1M6 10h1M43 10h1M1 11h1M8 11h2M62 11h1M5 12h2M58 12h1M54 14h2M58 14h1M53 15h1M57 15h1M55 16h1M57 16h1M58 17h1M66 17h1M58 18h1M62 18h2M57 19h1M17 20h1M20 20h1M48 20h1M53 20h1M47 21h1M56 21h1M61 21h1M89 21h1M21 22h1M60 22h1M64 22h1M88 22h1M91 22h1M18 23h1M49 23h1M59 23h1M61 23h2M45 24h1M51 24h2M59 24h1M20 25h1M50 25h1M56 25h1M60 25h2M94 25h1M18 26h1M56 26h2M63 26h1M91 26h1M94 26h1M27 27h1M52 27h1M90 27h1M95 27h1M46 28h1M51 28h1M89 28h1M96 28h1M21 29h1M46 29h1M55 29h1M68 29h1M90 29h1M0 30h1M24 30h1M92 30h2M1 31h1M47 31h1M89 31h4M47 32h3M92 32h1M45 33h1M51 33h1M91 33h1M50 34h1M74 34h1M95 34h1M76 35h1M78 35h1M93 35h1M95 35h1M74 36h1M79 36h1M93 36h2M37 37h1M77 37h1M30 38h2M36 38h1M38 38h1M75 38h1M37 39h1M92 47h1M93 49h1M29 51h1M28 52h1M29 53h2M29 56h1M66 56h1M28 57h1M68 57h1M31 58h1M37 58h1M60 63h1M67 63h1M81 63h2M55 64h1M56 65h1M56 66h1M66 66h1M80 66h1M56 67h1M58 67h2M79 67h2M58 68h1M79 68h1M90 68h1M94 68h1M61 69h2M72 69h1M79 69h2"/>
<path stroke="#ffdfdf" d="M57 3h1M66 5h1M60 8h1M66 8h1M54 10h1M62 10h1M64 11h1M59 12h1M62 12h1M64 12h1M65 13h1M5 14h1M60 14h1M63 14h2M66 14h1M65 15h1M60 16h1M62 16h1M64 16h1M67 16h1M65 18h1M15 19h1M59 19h1M66 19h2M15 20h1M65 20h1M67 20h1M18 21h1M20 21h1M60 21h1M19 22h2M63 23h1M69 23h1M55 24h2M69 24h1M63 25h1M67 25h1M59 26h2M67 26h3M45 27h1M53 27h1M60 27h2M63 27h1M54 28h2M60 28h2M67 28h2M95 28h1M56 29h1M62 29h1M94 29h1M46 30h1M57 30h2M61 30h1M56 31h1M60 31h1M68 31h1M74 31h1M94 31h1M1 32h1M46 32h1M57 32h1M61 32h2M57 33h1M74 33h1M76 33h1M53 34h1M59 34h1M76 34h1M79 34h1M76 36h1M59 37h1M58 38h1M51 39h1M55 39h1M28 40h1M30 40h1M33 40h2M28 41h1M30 41h1M32 41h1M35 41h2M61 41h1M28 42h1M30 42h1M33 42h1M36 42h1M38 42h1M60 43h1M32 44h1M61 44h1M33 46h2M32 47h1M32 50h1M32 51h2M51 63h1M44 64h1M27 65h1M53 65h1M23 66h1M2 67h1M42 67h1M3 68h1M5 68h1M40 68h1M55 68h1M3 69h1M21 69h1M26 69h1M29 69h1M41 69h1M55 69h1M59 69h1M64 69h2M85 69h1M88 69h1M90 69h1M92 69h1M96 69h1M4 70h1M44 70h1M64 70h1M73 70h1M86 70h2M6 71h1M19 71h1M75 71h1M85 71h2M24 72h1M51 72h1M60 72h2M63 72h3M79 72h1"/>
<path stroke="#ffefef" d="M58 3h2M71 3h1M73 3h1M45 4h1M66 4h1M2 5h1M58 6h2M64 6h2M6 8h1M62 8h2M61 9h1M64 9h1M56 10h1M64 10h2M53 11h1M58 11h1M65 11h1M1 12h1M53 12h1M6 13h1M59 13h1M60 15h2M59 16h1M60 17h1M64 17h2M15 18h1M67 18h1M18 20h1M46 20h1M52 20h1M86 20h1M15 21h1M62 21h1M17 22h2M46 22h1M48 22h1M51 22h1M68 22h1M19 23h2M46 23h1M52 23h1M54 23h1M67 23h1M94 23h2M54 24h1M62 24h1M48 25h2M52 25h1M62 25h1M95 25h2M44 26h1M53 26h1M58 26h1M61 26h1M64 26h1M66 26h1M92 26h2M96 26h1M46 27h1M48 27h1M56 27h1M88 27h1M45 28h1M52 28h1M56 28h2M90 28h1M92 29h1M95 29h1M23 30h1M25 30h1M49 30h1M51 30h1M69 30h1M91 30h1M44 31h1M51 31h1M55 31h1M57 31h1M88 31h1M95 31h1M45 32h1M51 32h1M93 32h2M54 33h1M58 33h2M70 33h1M79 33h1M54 34h1M58 34h1M61 34h1M80 34h2M75 35h1M60 36h1M75 36h1M77 36h1M36 37h1M34 38h1M30 39h1M29 40h1M36 40h1M38 40h1M29 41h1M33 44h1M34 45h1M30 50h1M28 51h1M30 52h1M2 53h1M31 53h1M28 56h1M38 57h1M67 57h1M38 58h1M56 63h1M54 64h1M28 67h1M53 67h1M55 67h1M87 67h1M28 68h1M59 68h1M65 68h1M78 68h1M87 68h1M93 68h1M27 69h2M60 69h1M63 69h1M73 69h1M84 69h1M70 70h1M75 70h2M78 70h1M80 70h1M76 71h1M74 72h1M76 72h1M85 72h1"/>
<path stroke="#ffe7e7" d="M60 3h1M67 3h1M72 3h1M74 3h1M52 4h1M57 4h2M61 4h1M63 4h1M0 5h1M58 5h1M61 5h1M63 5h1M62 7h2M65 7h1M61 8h1M65 8h1M67 8h1M65 9h1M53 10h1M61 10h1M54 11h1M61 11h1M63 11h1M0 12h1M60 12h1M59 14h1M61 14h2M65 14h1M59 15h1M62 15h1M64 15h1M67 15h1M63 16h1M65 16h1M62 17h2M67 17h1M59 18h2M64 18h1M64 19h1M86 19h1M19 20h1M57 20h1M19 21h1M58 21h1M59 22h1M47 23h1M68 23h1M19 24h1M48 24h1M63 24h2M66 24h1M53 25h3M66 25h1M70 25h1M90 25h2M54 26h1M62 26h1M70 26h1M55 27h1M57 27h3M62 27h1M69 27h3M47 28h1M58 28h1M45 29h1M51 29h1M45 30h1M54 30h2M68 30h1M50 31h1M52 31h1M58 31h1M69 31h1M52 32h2M59 32h2M53 33h1M55 33h1M80 33h2M92 33h1M75 34h1M56 36h1M27 39h1M31 41h1M29 42h1M33 43h1M36 43h1M34 44h1M60 44h1M32 45h1M29 48h1M31 49h2M29 50h1M32 52h1M67 56h1M37 57h1M31 61h1M32 63h1M52 63h1M68 63h1M56 64h1M60 64h1M17 65h1M54 65h1M41 66h1M52 66h2M55 66h1M29 67h1M54 67h1M96 67h1M8 68h1M25 68h1M27 68h1M54 68h1M56 68h1M64 68h1M5 69h1M24 69h1M75 69h1M78 69h1M86 69h1M93 69h2M6 70h1M57 70h1M67 70h1M69 70h1M71 70h1M79 70h1M81 70h1M4 71h1M56 71h1M74 71h1M77 71h1M79 71h2M11 72h1M57 72h2M75 72h1M86 72h1"/>
<path stroke="#f7f7ff" d="M62 3h1M69 3h1M1 4h1M47 4h1M56 4h1M52 5h1M56 5h2M1 6h1M62 6h1M0 7h1M38 7h1M57 7h1M59 7h1M2 8h2M7 8h1M54 8h1M59 8h1M0 9h1M2 9h1M4 9h1M8 9h2M1 10h1M7 10h1M51 10h1M57 10h1M60 10h1M3 11h1M5 11h3M10 11h2M51 11h1M55 11h1M57 11h1M2 12h1M10 12h1M34 12h1M57 12h1M61 12h1M55 13h2M53 14h1M57 14h1M56 15h1M53 16h2M58 16h1M47 17h1M51 17h1M54 17h1M59 17h1M16 18h1M50 18h4M19 19h1M47 19h1M51 19h3M50 20h2M17 21h1M21 21h2M54 21h1M63 21h2M66 21h2M92 21h1M94 21h1M55 22h1M66 22h2M90 22h1M92 22h1M50 23h2M60 23h1M65 23h2M17 24h1M50 24h1M57 24h1M60 24h1M90 24h1M93 24h1M18 25h2M59 25h1M87 25h1M47 26h1M50 26h1M52 26h1M88 26h1M21 27h1M49 27h1M92 27h3M20 28h2M0 29h1M2 29h1M22 29h1M47 29h2M89 29h1M93 29h1M44 30h1M52 30h1M89 30h1M46 31h1M89 32h1M48 33h1M90 33h1M93 33h2M96 33h1M46 34h3M51 34h1M89 34h2M94 34h1M80 35h1M78 36h1M81 36h2M91 36h2M96 36h1M35 37h1M75 37h1M32 38h2M29 39h1M76 39h2M37 40h1M37 41h1M91 47h1M93 48h1M93 50h2M96 51h1M95 52h1M28 53h1M96 53h1M0 54h1M66 55h1M30 57h1M29 58h1M68 58h1M76 62h1M57 63h1M61 63h1M69 63h1M80 63h1M68 64h1M76 64h1M81 64h2M79 65h1M92 65h1M57 66h1M71 66h1M82 66h3M93 66h1M64 67h1M68 67h2M81 67h1M83 67h1M86 67h1M95 67h1M60 68h1M63 68h1M66 68h1M69 68h3M80 68h2M83 68h2M91 68h1M56 69h1M68 69h1M70 69h2M76 69h1M87 69h1M68 70h1"/>
<path stroke="#afafff" d="M23 4h1M29 4h2M18 5h1M20 5h1M25 5h1M27 5h1M40 5h1M18 6h1M19 7h1M14 8h1M17 8h1M22 8h1M25 8h1M31 8h1M17 9h1M20 9h2M25 9h1M27 9h2M30 9h1M15 10h1M17 10h1M22 10h1M24 10h4M15 11h1M17 11h1M26 11h1M31 11h1M12 12h1M15 12h1M21 12h1M27 12h1M32 12h1M13 13h3M24 13h1M16 14h1M25 14h1M32 14h1M27 16h1M28 17h2M23 20h1M28 34h1M83 40h1M85 41h2M82 43h1M84 43h1M86 44h1M79 45h1M86 45h1M83 47h1M85 48h1M84 50h1M87 50h1"/>
<path stroke="#ffcfcf" d="M67 4h3M77 4h1M77 6h1M66 7h2M96 8h1M67 10h1M86 10h1M87 11h1M89 11h1M93 12h1M67 14h1M90 14h1M63 15h1M66 15h1M58 20h1M60 20h2M85 21h2M71 24h1M77 26h1M68 27h1M72 27h1M78 27h1M80 27h1M69 28h1M71 28h1M73 28h1M57 29h1M70 29h1M73 29h1M60 30h1M74 30h1M78 31h1M54 32h1M80 32h1M75 33h1M55 34h1M60 34h1M51 35h3M59 35h2M59 36h1M56 38h1M32 39h1M57 39h2M55 41h1M58 41h1M29 43h1M35 43h1M29 44h1M35 45h1M60 45h1M29 46h1M35 46h1M57 46h1M29 47h2M31 48h1M30 49h1M33 50h1M31 63h1M55 63h1M46 64h1M51 64h1M12 65h1M21 65h1M43 65h1M47 65h1M8 66h2M18 66h1M25 66h1M43 66h1M46 66h2M50 66h1M3 67h1M5 67h1M14 67h1M21 67h1M23 67h1M34 67h1M40 67h1M6 68h1M14 68h1M17 68h1M23 68h1M31 68h1M33 68h2M42 68h1M57 68h1M6 69h2M13 69h1M15 69h1M17 69h1M20 69h1M23 69h1M25 69h1M31 69h1M33 69h1M40 69h1M54 69h1M66 69h1M20 70h2M26 70h2M36 70h1M40 70h1M53 70h1M55 70h1M61 70h1M3 71h1M8 71h1M13 71h1M18 71h1M24 71h1M27 71h1M33 71h1M44 71h1M57 71h1M59 71h1M72 71h1M91 71h1M93 71h1M5 72h2M21 72h1M26 72h1M45 72h2M50 72h1M56 72h1M81 72h1M84 72h1M87 72h1M89 72h2"/>
<path stroke="#ffbfbf" d="M70 4h1M76 4h1M67 5h1M73 5h2M66 6h1M72 6h1M76 6h1M87 6h1M70 7h1M78 7h2M84 7h1M69 8h1M71 8h1M79 8h1M81 8h1M71 9h1M77 9h1M81 9h1M87 9h1M95 9h1M69 10h1M80 10h2M85 10h1M87 10h1M93 10h1M76 11h1M79 11h2M82 11h2M86 11h1M95 11h1M77 12h1M82 12h1M87 12h1M92 12h1M94 12h1M73 13h1M76 13h1M79 13h1M81 13h1M83 13h1M80 14h1M83 14h1M68 15h1M70 15h1M71 16h1M86 16h1M69 17h1M84 18h1M60 19h1M68 19h1M69 21h1M69 22h1M70 23h1M73 23h1M72 24h1M78 25h1M80 25h1M67 27h1M73 27h1M80 29h2M45 31h1M54 35h1M58 35h1M51 36h2M55 36h1M57 36h1M52 37h1M54 37h4M57 38h1M52 39h1M54 39h1M31 40h1M53 40h2M37 42h1M31 43h2M31 44h1M35 44h1M30 45h1M36 45h1M53 45h1M55 45h1M31 46h1M56 46h1M60 46h1M56 47h1M33 48h1M31 62h1M32 64h1M49 64h1M14 65h2M26 65h1M32 65h1M49 65h1M19 66h1M22 66h1M24 66h1M28 66h1M32 66h1M40 66h1M6 67h1M9 67h1M17 67h2M20 67h1M45 67h1M50 67h1M0 68h1M9 68h1M16 68h1M20 68h1M30 68h1M9 69h1M16 69h1M19 69h1M30 69h1M34 69h1M37 69h1M45 69h3M49 69h1M51 69h2M57 69h1M11 70h1M18 70h1M37 70h1M47 70h1M51 70h2M58 70h1M62 70h2M65 70h1M72 70h1M92 70h2M2 71h1M7 71h1M10 71h1M14 71h1M30 71h1M34 71h1M45 71h1M50 71h1M53 71h1M55 71h1M62 71h1M64 71h1M66 71h2M70 71h1M84 71h1M88 71h1M92 71h1M2 72h1M10 72h1M12 72h1M15 72h1M20 72h1M30 72h1M34 72h1M37 72h1M40 72h1M44 72h1M48 72h1M67 72h1M71 72h2M82 72h2M88 72h1M92 72h2"/>
<path stroke="#ffb7b7" d="M71 4h2M69 5h2M76 5h1M67 6h1M86 6h1M77 7h1M81 7h2M85 7h1M90 7h1M77 8h1M89 8h3M94 8h1M67 9h1M69 9h1M72 9h1M76 9h1M78 9h2M88 9h1M93 9h1M68 10h1M72 10h3M76 10h2M90 10h1M95 10h1M75 11h1M77 11h2M81 11h1M84 11h2M88 11h1M91 11h1M93 11h1M73 12h1M76 12h1M80 12h1M86 12h1M89 12h1M74 13h1M78 13h1M82 13h1M90 13h1M68 14h1M72 14h3M69 15h1M72 15h2M86 15h1M69 16h2M84 16h1M84 22h1M71 23h2M75 23h1M81 23h1M73 24h2M81 24h1M74 25h2M73 26h1M74 27h1M79 27h1M59 28h1M63 28h1M70 28h1M74 28h2M77 28h2M74 29h2M80 30h1M76 31h1M81 31h1M81 32h1M53 36h1M53 37h1M58 37h1M54 38h1M53 39h1M32 40h1M52 40h1M57 40h1M54 41h1M57 41h1M53 42h1M30 43h1M58 43h1M30 44h1M57 44h1M29 45h1M35 48h1M54 50h1M22 64h1M19 65h2M23 65h3M29 65h2M48 65h1M14 66h1M29 66h1M49 66h1M51 66h1M1 67h1M10 67h2M30 67h1M32 67h2M39 67h1M49 67h1M11 68h1M18 68h1M22 68h1M32 68h1M43 68h2M47 68h2M51 68h1M10 69h1M36 69h1M38 69h1M53 69h1M8 70h1M10 70h1M12 70h2M19 70h1M24 70h2M29 70h2M38 70h1M83 70h1M12 71h1M16 71h1M25 71h1M29 71h1M32 71h1M37 71h1M49 71h1M60 71h2M63 71h1M65 71h1M69 71h1M83 71h1M90 71h1M95 71h1M18 72h1M29 72h1M41 72h1M53 72h1M55 72h1M62 72h1M70 72h1"/>
<path stroke="#ffc7c7" d="M73 4h3M86 7h2M68 8h1M78 8h1M82 8h1M87 8h1M66 9h1M68 9h1M96 9h1M66 10h1M78 10h1M96 10h1M92 11h1M65 12h2M84 12h1M88 12h1M91 12h1M64 13h1M67 13h1M84 13h1M70 14h1M75 14h1M78 14h1M82 14h1M84 14h1M83 15h1M90 15h1M68 16h1M85 17h1M85 22h1M67 24h1M72 26h1M80 26h1M76 27h1M63 29h1M75 30h1M77 30h1M59 31h1M77 31h1M75 32h1M77 32h1M78 34h1M56 35h1M58 36h1M52 38h2M31 39h1M35 39h1M56 39h1M35 40h1M56 40h1M58 40h1M33 41h1M56 41h1M59 41h1M31 42h2M37 43h2M51 43h2M54 43h1M36 44h1M31 45h1M37 45h1M57 45h1M30 46h1M52 46h1M31 47h1M34 47h2M55 47h1M34 48h1M55 48h2M34 49h1M32 61h1M30 63h1M31 64h1M47 64h1M50 64h1M13 65h1M28 65h1M42 65h1M45 65h2M51 65h1M7 66h1M10 66h1M13 66h1M15 66h3M20 66h1M26 66h1M0 67h1M4 67h1M7 67h1M15 67h1M25 67h2M31 67h1M35 67h1M37 67h1M43 67h1M46 67h1M48 67h1M51 67h1M4 68h1M10 68h1M19 68h1M21 68h1M26 68h1M37 68h2M49 68h1M4 69h1M11 69h1M14 69h1M18 69h1M44 69h1M3 70h1M7 70h1M22 70h2M28 70h1M33 70h2M39 70h1M48 70h1M59 70h2M82 70h1M85 70h1M89 70h2M94 70h1M11 71h1M20 71h2M26 71h1M28 71h1M47 71h1M52 71h1M58 71h1M68 71h1M71 71h1M73 71h1M81 71h1M87 71h1M94 71h1M0 72h2M3 72h2M7 72h1M14 72h1M16 72h1M19 72h1M22 72h2M25 72h1M27 72h1M31 72h1M35 72h2M47 72h1M54 72h1M66 72h1M68 72h1M91 72h1M94 72h3"/>
<path stroke="#ffafaf" d="M68 5h1M75 5h1M77 5h2M71 6h1M75 6h1M78 6h1M68 7h2M74 7h1M76 7h1M76 8h1M80 8h1M83 8h2M88 8h1M92 8h1M73 9h1M80 9h1M84 9h2M89 9h1M94 9h1M70 10h1M82 10h1M89 10h1M91 10h2M94 10h1M67 11h2M71 11h1M73 11h2M70 12h1M75 12h1M79 12h1M83 12h1M85 12h1M69 13h4M77 13h1M80 13h1M76 14h1M81 14h1M75 15h1M79 15h1M84 15h1M69 18h1M69 19h1M82 20h1M80 23h1M75 24h1M73 25h1M77 25h1M76 26h1M79 26h1M76 29h2M76 30h1M57 35h1M51 37h1M52 41h1M52 42h1M57 42h1M53 43h1M52 44h3M52 45h1M54 49h2M30 64h1M50 65h1M11 66h2M21 66h1M48 66h1M8 67h1M12 67h1M16 67h1M19 67h1M22 67h1M36 67h1M38 67h1M1 68h2M13 68h1M35 68h2M2 69h1M8 69h1M12 69h1M32 69h1M39 69h1M42 69h2M2 70h1M14 70h2M17 70h1M31 70h2M46 70h1M49 70h2M0 71h2M15 71h1M22 71h2M35 71h2M38 71h1M40 71h1M51 71h1M54 71h1M82 71h1M8 72h2M33 72h1M43 72h1"/>
<path stroke="#ffa7a7" d="M71 5h1M69 6h2M73 7h1M75 7h1M88 7h1M70 8h1M72 8h1M75 9h1M82 9h2M71 10h1M83 10h1M88 10h1M70 11h1M90 11h1M67 12h3M71 12h1M81 12h1M85 13h1M71 15h1M72 16h2M75 16h1M79 16h1M70 17h1M82 17h1M86 17h1M83 18h1M71 22h1M80 22h1M83 22h1M74 23h1M82 23h2M76 25h1M74 26h2M76 28h1M76 32h1M54 36h1M51 38h1M53 41h1M54 42h2M58 42h1M56 44h1M54 45h1M56 45h1M53 46h2M52 47h3M54 48h1M31 65h1M30 66h2M39 66h1M13 67h1M12 68h1M1 69h1M48 69h1M50 69h1M1 70h1M9 70h1M16 70h1M9 71h1M31 71h1M39 71h1M41 71h1M89 71h1M28 72h1M42 72h1M69 72h1"/>
<path stroke="#ff9f9f" d="M72 5h1M71 7h2M80 7h1M73 8h3M85 8h1M74 9h1M90 9h2M79 10h1M69 11h1M72 11h1M74 12h1M68 13h1M69 14h1M76 15h1M80 15h1M85 15h1M83 16h1M85 16h1M81 17h1M83 17h1M82 19h2M69 20h1M76 22h1M79 24h2M79 25h1M75 27h1M75 31h1M55 46h1M46 68h1M50 68h1M41 70h1M43 71h1M38 72h2"/>
<path stroke="#ffd7d7" d="M60 6h1M64 8h1M86 8h1M95 8h1M86 9h1M0 11h1M60 11h1M66 11h1M94 11h1M63 12h1M61 13h3M66 13h1M91 13h1M79 14h1M91 14h1M66 16h1M68 17h1M68 18h1M65 19h1M59 20h1M66 20h1M68 20h1M85 20h1M59 21h1M48 23h1M68 24h1M70 24h1M64 25h1M68 25h2M71 25h2M71 26h1M78 26h1M77 27h1M96 27h1M53 28h1M62 28h1M58 29h4M69 29h1M59 30h1M0 32h1M55 32h2M58 32h1M74 32h1M56 33h1M61 33h1M56 34h2M55 35h1M55 38h1M33 39h2M36 39h1M55 40h1M59 40h1M34 41h1M34 42h2M51 42h1M59 42h1M34 43h1M37 44h1M61 45h1M32 46h1M33 47h1M30 48h1M32 48h1M29 49h1M33 49h1M31 50h1M53 50h1M32 62h1M45 64h1M48 64h1M52 64h2M16 65h1M18 65h1M22 65h1M44 65h1M52 65h1M27 66h1M42 66h1M44 66h2M54 66h1M24 67h1M27 67h1M44 67h1M52 67h1M7 68h1M15 68h1M24 68h1M29 68h1M39 68h1M41 68h1M45 68h1M52 68h2M0 69h1M22 69h1M35 69h1M58 69h1M89 69h1M91 69h1M95 69h1M0 70h1M5 70h1M35 70h1M45 70h1M54 70h1M56 70h1M66 70h1M74 70h1M84 70h1M88 70h1M91 70h1M95 70h2M5 71h1M17 71h1M46 71h1M48 71h1M96 71h1M13 72h1M17 72h1M32 72h1M49 72h1M52 72h1M59 72h1M73 72h1M77 72h2M80 72h1"/>
<path stroke="#ff9797" d="M68 6h1M73 6h2M93 8h1M70 9h1M92 9h1M84 10h1M72 12h1M78 12h1M75 13h1M71 14h1M77 14h1M85 14h1M74 15h1M78 15h1M81 15h2M80 16h1M82 16h1M71 17h2M84 17h1M70 18h1M79 18h4M70 22h1M72 22h1M75 22h1M81 22h2M76 24h1M56 42h1M55 43h1M57 43h1M55 44h1M47 67h1"/>
<path stroke="#ff8f8f" d="M89 7h1M75 10h1M76 16h1M73 17h1M76 17h1M80 17h1M79 20h1M70 21h1M82 21h1M79 23h1M56 43h1M53 49h1M43 70h1"/>
<path stroke="#6868ff" d="M35 9h1M28 14h1"/>
<path stroke="#8f8fff" d="M22 12h2M29 13h1M23 14h1M31 14h1M28 16h1M83 44h1M82 45h1M75 65h1"/>
<path stroke="#7878ff" d="M19 13h1M30 14h1"/>
<path stroke="#8080ff" d="M27 14h1M29 14h1M84 44h1M83 45h1"/>
<path stroke="#8787ff" d="M24 15h1M31 15h1M83 43h1"/>
<path stroke="#5858ff" d="M28 15h1"/>
<path stroke="#5050ff" d="M29 15h1"/>
<path stroke="#6060ff" d="M30 15h1"/>
<path stroke="#ff8787" d="M77 15h1M74 16h1M79 17h1M75 18h2M79 19h1M80 20h1M79 21h2M73 22h1M76 23h1M78 24h1M53 48h1"/>
<path stroke="#7070ff" d="M29 16h1"/>
<path stroke="#ff5050" d="M77 16h1M78 17h1M78 18h1M72 19h1M71 20h1M78 21h1"/>
<path stroke="#ff7070" d="M78 16h1M74 17h1M73 18h1M76 20h1M71 21h2"/>
<path stroke="#ff8080" d="M81 16h1M71 18h2M80 19h2M74 22h1M79 22h1M77 24h1"/>
<path stroke="#ff7878" d="M75 17h1M70 19h1M76 19h1M81 20h1M75 21h1M81 21h1"/>
<path stroke="#ff4040" d="M77 17h1M73 20h1"/>
<path stroke="#ff6060" d="M74 18h1M74 19h1M78 20h1"/>
<path stroke="#ff1818" d="M77 18h1"/>
<path stroke="#ff5858" d="M71 19h1M73 19h1M72 20h1M76 21h1"/>
<path stroke="#ff6868" d="M75 19h1M70 20h1M75 20h1M78 22h1M77 23h2"/>
<path stroke="#ff1010" d="M77 19h1M77 21h1M42 70h1"/>
<path stroke="#ff4848" d="M78 19h1M74 21h1M42 71h1"/>
<path stroke="#ff3838" d="M74 20h1M73 21h1M77 22h1"/>
<path stroke="#ff0000" d="M77 20h1"/>
</g>
</g>
<use href="#cst"/>
</g>
<rect x="0" y="0" width="446.6" height="223.0" fill="none" stroke="#000" stroke-width="2.8"/><path d="M-8 0H0" stroke="#000" stroke-width="1.8"/><path d="M-15.5 37.2H0" stroke="#000" stroke-width="2.4"/><path d="M-8 74.3H0" stroke="#000" stroke-width="1.8"/><path d="M-15.5 111.5H0" stroke="#000" stroke-width="2.4"/><path d="M-8 148.7H0" stroke="#000" stroke-width="1.8"/><path d="M-15.5 185.8H0" stroke="#000" stroke-width="2.4"/><path d="M-8 223H0" stroke="#000" stroke-width="1.8"/><path d="M0 223V230.5" stroke="#000" stroke-width="1.8"/><path d="M37.2 223V230.5" stroke="#000" stroke-width="1.8"/><path d="M74.4 223V237.5" stroke="#000" stroke-width="2.2"/><path d="M111.7 223V230.5" stroke="#000" stroke-width="1.8"/><path d="M148.9 223V230.5" stroke="#000" stroke-width="1.8"/><path d="M186.1 223V230.5" stroke="#000" stroke-width="1.8"/><path d="M223.3 223V237.5" stroke="#000" stroke-width="2.2"/><path d="M260.5 223V230.5" stroke="#000" stroke-width="1.8"/><path d="M297.7 223V230.5" stroke="#000" stroke-width="1.8"/><path d="M335 223V230.5" stroke="#000" stroke-width="1.8"/><path d="M372.2 223V237.5" stroke="#000" stroke-width="2.2"/><path d="M409.4 223V230.5" stroke="#000" stroke-width="1.8"/><path d="M446.6 223V230.5" stroke="#000" stroke-width="1.8"/>
</g>
<g transform="translate(1485.0 612.4)">
<g clip-path="url(#cp)">
<rect width="446.6" height="223.0" fill="#bebebe"/>
<g shape-rendering="crispEdges">
<g transform="translate(-2.326 0) scale(4.6521 3.0972)" fill="none" stroke-width="1.03">
<path stroke="#b7b7ff" d="M15 3h20M15 4h20M15 5h21M15 6h21M14 7h22M3 8h33M3 9h33M3 10h33M3 11h33M4 12h21M27 12h8M6 13h1M12 13h21M5 14h1M13 14h20M14 15h20M14 16h20M15 17h17M33 17h1M15 18h17M15 19h15M15 20h14M15 21h14M16 22h13M17 23h11M17 24h10M18 25h4M18 26h4M20 27h2M27 27h1M20 28h2M27 28h3M21 29h4M29 29h1M23 30h3M87 43h1M87 44h1M87 45h2M87 46h3M87 47h3M87 48h4M92 48h3M87 49h2M93 49h2M88 50h1M93 50h2M88 51h1M93 51h2M93 52h2M92 53h3M92 54h3M92 55h3M93 56h2"/>
<path stroke="#bfbfff" d="M35 3h2M35 4h7M36 5h7M2 6h1M36 6h7M2 7h1M36 7h7M2 8h1M36 8h7M2 9h1M36 9h5M2 10h1M36 10h3M42 10h1M2 11h1M36 11h2M2 12h2M35 12h2M34 17h1M46 25h2M25 31h2M29 31h1M85 39h3M85 40h4M85 41h2M86 42h1M86 43h1M86 44h1M86 45h1M90 45h1M86 46h1M90 46h1M86 47h1M90 47h3M86 48h1M91 48h1M95 48h1M86 49h1M95 49h1M86 50h2M95 50h1M86 51h2M95 51h1M95 52h1M95 53h1M95 54h1M95 55h1M92 56h1M95 56h1M92 57h4M81 63h10M81 64h12M81 65h12M81 66h12"/>
<path stroke="#c7c7ff" d="M37 3h8M42 4h3M2 5h1M43 5h1M1 7h1M1 8h1M1 9h1M1 10h1M43 10h1M1 11h1M1 12h1M46 22h2M46 23h4M45 24h5M45 25h1M48 25h2M44 26h6M45 27h5M27 32h5M84 37h4M84 38h5M84 39h1M88 39h1M84 40h1M84 41h1M84 42h1M84 43h2M84 44h2M90 44h1M84 45h2M84 46h2M91 46h2M84 47h2M84 48h2M96 48h1M84 49h2M96 49h1M84 50h2M96 50h1M85 51h1M96 51h1M87 52h1M96 52h1M96 53h1M96 54h1M96 55h1M96 56h1M96 57h1M79 62h8M79 63h2M79 64h2M93 64h1M79 65h2M93 65h1M79 66h2M93 66h1M79 67h16M80 68h14"/>
<path stroke="#d7d7ff" d="M45 3h1M1 5h1M0 6h1M0 12h1M46 19h3M48 20h1M50 22h1M44 28h6M2 31h1M26 33h3M84 36h1M83 37h1M82 42h1M82 43h1M81 44h2M91 44h1M81 45h2M81 46h2M81 47h2M81 48h2M81 49h2M87 53h1M78 62h1M78 63h1M78 66h1M78 67h1M95 67h1M78 68h1M95 68h1M79 69h16"/>
<path stroke="#e7e7ff" d="M46 3h1M46 13h1M46 14h1M45 15h2M46 16h2M47 17h2M49 18h1M50 19h1M50 20h1M51 21h1M51 27h1M1 29h1M1 30h1M2 32h1M27 34h7M79 44h1M79 45h1M79 46h1M79 47h1M79 48h1M79 49h1M79 50h1M77 62h1M77 63h1M77 64h1M77 65h1M77 66h1M77 67h1M96 67h1M77 68h1M96 68h1M95 69h1M79 70h2M93 70h2"/>
<path stroke="#efefff" d="M47 3h1M0 4h1M47 4h1M47 12h1M47 13h2M47 14h2M47 15h3M48 16h2M49 17h2M50 18h1M51 19h1M51 20h1M51 28h1M44 29h6M1 31h1M34 34h1M78 46h1M77 69h1M78 70h1M79 71h15M81 72h11"/>
<path stroke="#f7f7ff" d="M48 3h1M48 4h1M51 10h1M50 11h2M49 12h3M49 13h3M50 14h2M50 15h2M50 16h2M51 17h1M51 18h1M52 19h1M52 20h1M52 23h1M0 29h1M50 29h1M0 30h1M89 30h8M0 31h1M88 31h9M1 32h1M88 32h9M89 33h8M89 34h8M90 35h7M91 36h5M82 37h1M81 40h1M76 62h1M76 63h1M76 64h1M76 65h1M76 66h1M76 67h1M76 68h1M96 69h1M95 70h1M78 71h1M94 71h1M79 72h2M92 72h3"/>
<path stroke="#ffffff" d="M54 3h8M51 4h10M52 5h3M59 5h2M52 6h3M60 6h1M54 7h1M60 7h1M52 8h3M60 8h1M52 9h3M60 9h1M52 10h3M60 10h1M52 11h3M60 11h1M52 12h3M60 12h1M52 13h3M60 13h1M52 14h3M60 14h1M52 15h3M60 15h1M52 16h3M60 16h1M52 17h3M60 17h1M52 18h3M60 18h1M53 19h2M60 19h1M53 20h1M60 20h1M60 21h1M52 24h1M52 25h1M89 28h8M51 29h1M68 29h2M88 29h9M68 30h2M88 30h1M68 31h2M0 32h1M68 32h2M69 33h2M82 36h1M96 36h1M0 53h3M0 54h3M66 55h2M66 56h2M66 57h3M68 58h1M75 62h1M75 63h1M75 64h1M75 65h1M75 66h1M75 67h1M75 68h1M76 69h1M77 70h1M96 70h1M77 71h1M95 71h1M78 72h1M95 72h1"/>
<path stroke="#fff7f7" d="M62 3h4M61 4h3M55 5h4M61 5h2M55 6h5M61 6h2M55 7h5M61 7h2M55 8h5M61 8h2M55 9h5M61 9h1M55 10h5M61 10h1M55 11h5M61 11h1M55 12h5M61 12h1M55 13h5M61 13h1M55 14h5M61 14h1M55 15h5M61 15h1M55 16h5M61 16h1M55 17h5M61 17h1M55 18h5M55 19h1M57 19h1M59 19h1M54 20h3M58 20h2M61 20h1M54 21h2M59 21h1M61 21h1M59 22h3M60 23h2M60 24h2M60 25h2M52 26h1M61 26h1M52 27h1M67 27h3M92 27h5M67 28h4M88 28h1M70 29h1M28 35h5M81 39h1M80 40h1M72 62h3M72 63h3M72 64h3M72 65h3M72 66h3M73 67h2M73 68h2M75 69h1M76 70h1M96 71h1M77 72h1M96 72h1"/>
<path stroke="#ffefef" d="M66 3h4M64 4h2M63 5h1M63 6h1M63 7h1M63 8h1M62 9h2M62 10h2M62 11h2M62 12h2M62 13h2M62 14h2M62 15h2M62 16h2M62 17h2M62 18h2M63 19h1M57 20h1M63 20h1M56 21h3M62 21h2M58 22h1M62 22h2M59 23h1M62 23h2M59 24h1M62 24h2M59 25h1M62 25h3M60 26h1M62 26h7M60 27h5M70 27h2M89 27h3M52 28h1M61 28h3M71 28h1M87 28h1M62 29h2M44 30h1M27 35h1M33 35h2M81 38h1M70 62h2M69 63h3M69 64h3M69 65h3M69 66h3M69 67h4M70 68h3M71 69h4M74 70h2M75 71h2M75 72h2"/>
<path stroke="#ffe7e7" d="M70 3h3M66 4h2M64 5h2M64 6h1M64 7h1M64 8h1M64 9h1M64 10h1M64 11h1M64 12h1M64 13h1M64 14h1M64 15h1M64 16h1M64 17h1M64 18h1M64 19h1M64 20h1M64 21h1M55 22h1M64 22h1M58 23h1M64 23h2M53 24h1M58 24h1M64 24h2M65 25h4M59 26h1M69 26h2M90 26h7M59 27h1M72 27h1M88 27h1M59 28h2M52 29h1M61 29h1M45 30h6M66 63h3M66 64h3M66 65h3M66 66h3M66 67h3M67 68h3M68 69h3M70 70h4M71 71h4M71 72h4"/>
<path stroke="#ffdfdf" d="M73 3h2M68 4h2M66 5h2M65 6h2M65 7h2M65 8h2M65 9h2M65 10h2M65 11h2M65 12h2M65 13h2M65 14h2M65 15h2M65 16h2M65 17h2M65 18h2M65 19h2M65 20h2M65 21h2M65 22h2M54 23h1M66 23h1M66 24h3M53 25h1M58 25h1M69 25h2M95 25h2M53 26h1M58 26h1M71 26h1M89 26h1M53 27h1M58 27h1M87 27h1M58 28h1M59 29h2M51 30h1M61 30h1M81 37h1M80 39h1M63 62h2M63 63h3M63 64h3M63 65h3M63 66h3M63 67h3M64 68h3M64 69h4M65 70h5M66 71h5M65 72h6"/>
<path stroke="#dfdfff" d="M1 4h1M46 4h1M0 5h1M48 18h1M49 19h1M50 21h1M51 22h1M51 23h1M51 24h1M51 25h1M51 26h1M50 28h1M82 40h1M81 42h1M81 43h1M80 44h1M92 44h1M80 45h1M80 46h1M80 47h1M80 48h1M80 49h1M80 50h1M78 69h1M81 70h12"/>
<path stroke="#cfcfff" d="M2 4h1M45 4h1M1 6h1M0 7h1M0 8h1M0 9h1M0 10h1M44 10h1M0 11h1M46 20h2M46 21h3M48 22h2M50 23h1M50 24h1M50 25h1M50 26h1M44 27h1M50 27h1M2 29h1M2 30h1M25 32h2M29 33h4M85 36h1M83 40h1M83 41h1M83 42h1M83 43h1M83 44h1M83 45h1M91 45h2M83 46h1M83 47h1M83 48h1M83 49h1M78 64h1M78 65h1M79 68h1M94 68h1"/>
<path stroke="#ffd7d7" d="M70 4h2M68 5h1M67 6h1M67 7h1M67 8h1M67 9h1M67 10h1M67 11h1M67 12h1M67 13h1M67 14h1M67 15h1M67 16h1M67 17h1M67 18h1M67 19h1M67 20h1M67 21h1M67 22h1M94 22h1M67 23h2M92 23h4M54 24h4M69 24h1M90 24h7M54 25h1M57 25h1M71 25h1M89 25h6M57 26h1M72 26h1M88 26h1M57 27h1M53 28h1M58 29h1M59 30h2M81 36h1M61 62h2M60 63h3M60 64h3M60 65h3M60 66h3M60 67h3M60 68h4M61 69h3M61 70h4M61 71h5M59 72h6"/>
<path stroke="#ffcfcf" d="M72 4h2M69 5h2M68 6h2M68 7h1M68 8h1M68 9h1M68 10h1M68 11h1M68 12h1M68 13h1M68 14h1M68 15h1M68 16h1M68 17h1M68 18h1M68 19h1M68 20h1M68 21h1M89 21h6M68 22h2M89 22h5M69 23h1M89 23h3M70 24h2M89 24h1M55 25h2M72 25h1M88 25h1M54 26h3M73 26h1M54 27h3M73 27h1M54 28h4M73 28h1M53 29h1M57 29h1M73 29h1M52 30h1M58 30h1M44 31h6M59 31h2M62 32h1M27 36h8M80 38h1M79 39h1M57 63h3M57 64h3M57 65h3M57 66h3M57 67h3M57 68h3M57 69h4M57 70h4M56 71h5M0 72h1M55 72h4"/>
<path stroke="#ffc7c7" d="M74 4h4M71 5h1M70 6h1M69 7h2M69 8h2M69 9h2M69 10h2M69 11h2M69 12h2M69 13h2M69 14h2M69 15h2M69 16h2M69 17h2M69 18h2M69 19h2M69 20h2M69 21h2M88 21h1M70 22h1M88 22h1M70 23h2M88 23h1M72 24h1M88 24h1M73 25h1M87 26h1M54 29h3M53 30h1M56 30h2M50 31h2M58 31h1M60 32h2M35 36h1M27 37h1M80 37h1M26 38h1M39 39h1M38 58h1M55 63h2M55 64h2M55 65h2M55 66h2M0 67h1M55 67h2M0 68h1M55 68h2M0 69h1M55 69h2M0 70h1M54 70h3M0 71h2M53 71h3M1 72h54"/>
<path stroke="#ffbfbf" d="M72 5h2M71 6h2M71 7h1M71 8h1M71 9h1M71 10h1M71 11h1M71 12h1M71 13h1M71 14h1M71 15h1M71 16h1M71 17h1M71 18h1M71 19h1M71 20h1M71 21h1M71 22h1M72 23h1M73 24h1M87 25h1M74 26h1M74 27h1M74 28h1M74 29h1M81 29h1M54 30h2M74 30h1M52 31h6M74 31h1M44 32h8M57 32h3M74 32h1M45 33h1M59 33h3M81 33h1M61 34h1M81 34h1M80 36h1M28 37h8M27 38h2M38 38h1M79 38h1M27 39h1M38 39h1M77 39h2M27 40h1M38 40h1M38 41h1M38 42h1M38 43h1M53 50h2M28 57h1M37 57h2M29 58h3M37 58h1M31 61h2M53 64h2M53 65h2M53 66h2M1 67h1M53 67h2M1 68h1M53 68h2M1 69h3M51 69h4M1 70h53M2 71h51"/>
<path stroke="#ffb7b7" d="M74 5h5M73 6h1M72 7h2M72 8h1M96 8h1M72 9h1M96 9h1M72 10h1M96 10h1M72 11h1M72 12h1M72 13h1M72 14h1M72 15h1M72 16h1M72 17h1M72 18h1M72 19h1M72 20h1M72 21h1M72 22h2M73 23h1M74 25h1M75 26h2M75 27h6M75 28h4M75 29h2M80 29h1M75 30h1M80 30h1M75 31h1M81 31h1M52 32h5M75 32h1M80 32h2M46 33h13M74 33h2M80 33h1M46 34h3M50 34h11M74 34h2M80 34h1M51 35h10M74 35h1M79 35h2M51 36h10M74 36h1M79 36h1M36 37h2M51 37h9M74 37h1M78 37h2M29 38h9M51 38h8M75 38h4M28 39h10M51 39h8M76 39h1M28 40h10M52 40h8M28 41h10M52 41h8M61 41h1M28 42h10M51 42h9M61 42h1M29 43h9M51 43h8M60 43h2M29 44h9M52 44h6M60 44h2M29 45h9M52 45h6M60 45h2M29 46h7M52 46h6M60 46h1M29 47h7M52 47h5M29 48h7M53 48h4M29 49h6M53 49h3M29 50h5M28 51h6M28 52h5M28 53h4M28 54h4M28 55h4M28 56h4M29 57h2M32 57h1M31 62h2M30 63h3M51 63h2M22 64h1M30 64h3M44 64h9M12 65h21M42 65h11M7 66h26M39 66h14M2 67h51M2 68h51M4 69h47"/>
<path stroke="#ffafaf" d="M74 6h5M86 6h2M74 7h1M73 8h2M95 8h1M73 9h2M95 9h1M73 10h2M95 10h1M73 11h2M95 11h1M73 12h2M73 13h2M73 14h2M73 15h2M73 16h2M73 17h2M73 18h2M86 18h1M73 19h2M86 19h1M73 20h2M86 20h1M73 21h2M86 21h1M74 22h1M74 23h1M74 24h2M75 25h6M77 26h4M77 29h1M76 30h2M76 31h3M76 32h2M76 33h1M79 33h1M76 34h1M78 34h2M75 35h4M75 36h4M75 37h3"/>
<path stroke="#ffa7a7" d="M75 7h8M84 7h7M75 8h20M75 9h20M75 10h20M75 11h20M75 12h15M91 12h4M75 13h11M90 13h2M75 14h11M90 14h2M75 15h12M90 15h1M75 16h12M75 17h12M75 18h10M75 19h9M75 20h8M85 20h1M75 21h8M85 21h1M75 22h11M75 23h9M76 24h6"/>
</g>
</g>
<use href="#cst"/>
</g>
<rect x="0" y="0" width="446.6" height="223.0" fill="none" stroke="#000" stroke-width="2.8"/><path d="M-8 0H0" stroke="#000" stroke-width="1.8"/><path d="M-15.5 37.2H0" stroke="#000" stroke-width="2.4"/><path d="M-8 74.3H0" stroke="#000" stroke-width="1.8"/><path d="M-15.5 111.5H0" stroke="#000" stroke-width="2.4"/><path d="M-8 148.7H0" stroke="#000" stroke-width="1.8"/><path d="M-15.5 185.8H0" stroke="#000" stroke-width="2.4"/><path d="M-8 223H0" stroke="#000" stroke-width="1.8"/><path d="M0 223V230.5" stroke="#000" stroke-width="1.8"/><path d="M37.2 223V230.5" stroke="#000" stroke-width="1.8"/><path d="M74.4 223V237.5" stroke="#000" stroke-width="2.2"/><path d="M111.7 223V230.5" stroke="#000" stroke-width="1.8"/><path d="M148.9 223V230.5" stroke="#000" stroke-width="1.8"/><path d="M186.1 223V230.5" stroke="#000" stroke-width="1.8"/><path d="M223.3 223V237.5" stroke="#000" stroke-width="2.2"/><path d="M260.5 223V230.5" stroke="#000" stroke-width="1.8"/><path d="M297.7 223V230.5" stroke="#000" stroke-width="1.8"/><path d="M335 223V230.5" stroke="#000" stroke-width="1.8"/><path d="M372.2 223V237.5" stroke="#000" stroke-width="2.2"/><path d="M409.4 223V230.5" stroke="#000" stroke-width="1.8"/><path d="M446.6 223V230.5" stroke="#000" stroke-width="1.8"/>
</g>
<g transform="translate(70.8 884.4)">
<g clip-path="url(#cp)">
<g shape-rendering="crispEdges">
<g transform="translate(-2.326 0) scale(4.6521 3.0972)" fill="none" stroke-width="1.03">
<path stroke="#73c0bc" d="M0 0h97M0 1h97M42 5h1"/>
<path stroke="#70bebc" d="M0 2h97M35 3h27M39 5h3M56 5h2"/>
<path stroke="#6ebcbb" d="M0 3h35M62 3h35M42 4h13M37 5h2M58 5h4M43 6h1"/>
<path stroke="#76c2bc" d="M0 4h6M9 4h19M37 4h5M57 4h4M66 4h31M0 69h25M37 69h60"/>
<path stroke="#6cbaba" d="M6 4h3M28 4h9M55 4h2M61 4h5M0 5h7M8 5h21M46 5h5M65 5h32M41 6h2M55 6h1"/>
<path stroke="#64b0bc" d="M7 5h1M29 5h5M63 5h2M0 6h30M54 6h1M66 6h31M41 7h1M55 7h1"/>
<path stroke="#64b4b9" d="M34 5h3M62 5h1M36 6h1M44 6h1M52 6h2M60 6h3M64 6h2M42 7h2M53 7h2"/>
<path stroke="#69b8ba" d="M43 5h3M51 5h4M39 6h2M56 6h2M46 7h5M3 68h94"/>
<path stroke="#66b6ba" d="M55 5h1M37 6h2M45 6h7M58 6h2M44 7h2M51 7h2"/>
<path stroke="#649fc6" d="M30 6h1M0 7h7M8 7h23M34 7h1M62 7h1M65 7h32M44 8h2M51 8h2"/>
<path stroke="#64a3c3" d="M31 6h5M63 6h1M35 7h3M59 7h3M46 8h5M4 67h87M93 67h4"/>
<path stroke="#648ccc" d="M7 7h1M31 7h3M63 7h2M37 8h2M58 8h2"/>
<path stroke="#64a8c0" d="M38 7h1M58 7h1"/>
<path stroke="#64acbe" d="M39 7h2M56 7h2"/>
<path stroke="#49835c" d="M0 8h6M9 8h22M65 8h32"/>
<path stroke="#57874e" d="M6 8h3M31 8h2M64 8h1M37 9h3M82 9h2M86 9h2M84 10h2M21 65h13M41 65h47M92 65h5"/>
<path stroke="#558496" d="M33 8h4M60 8h3M4 66h85M93 66h4"/>
<path stroke="#6491cb" d="M39 8h2M56 8h2"/>
<path stroke="#6496c9" d="M41 8h1M55 8h1M0 68h3"/>
<path stroke="#649bc8" d="M42 8h2M53 8h2"/>
<path stroke="#548651" d="M63 8h1M40 9h3M54 9h2M84 9h2"/>
<path stroke="#698c3c" d="M0 9h11M19 9h4M95 9h2M41 10h15M81 10h1M88 10h1M22 64h12M42 64h45M91 64h6"/>
<path stroke="#5e8947" d="M11 9h8M23 9h6M56 9h1M68 9h11M91 9h4M0 66h4M89 66h4"/>
<path stroke="#5b884a" d="M29 9h2M33 9h4M60 9h2M64 9h1M66 9h2M79 9h3M88 9h3M83 10h1M86 10h1M84 11h2"/>
<path stroke="#658b40" d="M31 9h2M62 9h2M65 9h1"/>
<path stroke="#508555" d="M43 9h2M52 9h2"/>
<path stroke="#4d8458" d="M45 9h7M0 67h4M91 67h2"/>
<path stroke="#628a43" d="M57 9h3M82 10h1M87 10h1M83 11h1M86 11h1"/>
<path stroke="#739030" d="M0 10h11M18 10h5M31 10h2M62 10h1M65 10h2M68 10h1M95 10h2M29 63h5M44 63h32M78 63h19"/>
<path stroke="#6e8e36" d="M11 10h7M23 10h8M33 10h2M63 10h2M67 10h1M69 10h10M91 10h4M84 12h2"/>
<path stroke="#6c8d39" d="M35 10h6M61 10h1M79 10h2M89 10h2M82 11h1M87 11h1M0 65h21M34 65h7M88 65h4"/>
<path stroke="#708f33" d="M56 10h5M81 11h1M88 11h1M83 12h1M86 12h1"/>
<path stroke="#7d9424" d="M0 11h25M31 11h2M66 11h3M92 11h5M81 12h1M30 62h4M45 62h30M79 62h18"/>
<path stroke="#7a9327" d="M25 11h6M33 11h3M55 11h5M61 11h5M69 11h9M90 11h2M88 12h1M0 63h29M34 63h10M76 63h2"/>
<path stroke="#78922a" d="M36 11h19M60 11h1M78 11h2"/>
<path stroke="#76912d" d="M80 11h1M89 11h1M82 12h1M87 12h1M0 64h22M34 64h8M87 64h4"/>
<path stroke="#82961e" d="M0 12h80M90 12h7M83 13h1M86 13h1M32 61h2M77 61h17M0 62h30M34 62h11M75 62h4"/>
<path stroke="#809521" d="M80 12h1M89 12h1M84 13h2"/>
<path stroke="#969c1b" d="M0 13h80M90 13h7M0 60h32M33 60h44M94 60h3"/>
<path stroke="#8f9a1c" d="M80 13h2M88 13h2M32 60h1M77 60h17M0 61h32M34 61h43M94 61h3"/>
<path stroke="#88981d" d="M82 13h1M87 13h1"/>
<path stroke="#a9a218" d="M0 14h81M89 14h8M35 58h2M76 58h18"/>
<path stroke="#a2a019" d="M81 14h8M0 59h76M94 59h3"/>
<path stroke="#bca815" d="M0 15h97M0 57h34M38 57h13M52 57h24M94 57h3"/>
<path stroke="#cdad12" d="M0 16h97"/>
<path stroke="#dcb20f" d="M0 17h97M35 55h3M50 55h3M79 55h13"/>
<path stroke="#ebb60c" d="M0 18h97M35 54h2M39 54h2M49 54h1M53 54h1M60 54h3M78 54h2M90 54h2"/>
<path stroke="#f5b90a" d="M0 19h97M33 50h2M33 51h2M32 52h3"/>
<path stroke="#f4b00c" d="M0 20h20M24 20h3M31 20h3M46 20h20M88 20h9M20 21h4M20 22h4M20 23h1M23 23h1M32 50h1M35 50h1M31 51h1M0 52h30M42 52h7M55 52h4M68 52h15M91 52h6M36 53h1M40 53h1M49 53h1M53 53h1M60 53h1M62 53h1M81 53h3M90 53h1"/>
<path stroke="#f4b40b" d="M20 20h4M21 23h2M32 51h1M35 51h1M30 52h2M35 52h1M41 53h1M54 53h1M59 53h1M63 53h1M79 53h2"/>
<path stroke="#f4ac0d" d="M27 20h4M34 20h12M66 20h22M18 21h2M24 21h2M19 22h1M24 22h1M21 24h2M30 51h1M37 53h3M50 53h3M61 53h1M84 53h6"/>
<path stroke="#f2a20f" d="M0 21h16M27 21h70M18 22h1M24 24h1M32 49h1M30 50h1M36 52h1M49 52h1M59 52h1M65 52h2M83 52h1"/>
<path stroke="#f3a70e" d="M16 21h2M26 21h1M25 22h1M19 23h1M24 23h1M20 24h1M23 24h1M33 49h2M31 50h1M0 51h30M43 51h6M56 51h3M68 51h15M90 51h7M67 52h1M90 52h1"/>
<path stroke="#f29a11" d="M0 22h16M31 22h2M40 22h28M85 22h12M17 23h1M26 23h1M25 24h1M20 25h1M23 25h1M31 49h1M0 50h30M44 50h5M56 50h4M68 50h17M88 50h9M83 51h1M39 52h2M52 52h2"/>
<path stroke="#f29e10" d="M16 22h2M26 22h1M18 23h1M25 23h1M19 24h1M21 25h2M35 49h1M37 52h2M41 52h1M50 52h2M54 52h1M60 52h5M84 52h6"/>
<path stroke="#f19512" d="M27 22h4M33 22h7M68 22h17M16 23h1M27 23h1M18 24h1M24 25h1M36 49h1M59 51h1M89 51h1"/>
<path stroke="#f08c14" d="M0 23h14M31 23h38M84 23h13M27 24h1M18 25h1M25 25h1M21 26h2M32 48h1M34 48h1M0 49h30M44 49h5M57 49h4M68 49h18M87 49h10M60 51h1"/>
<path stroke="#f09013" d="M14 23h2M17 24h1M26 24h1M19 25h1M33 48h1M30 49h1M36 51h1M42 51h1M49 51h1M55 51h1M67 51h1M84 51h1M88 51h1"/>
<path stroke="#ef8615" d="M28 23h3M69 23h15M15 24h2M20 26h1M23 26h1M59 38h1M31 48h1M35 48h1M37 51h2M50 51h2M61 51h6M85 51h3"/>
<path stroke="#ee8016" d="M0 24h15M32 24h37M84 24h13M17 25h1M26 25h1M19 26h1M24 26h1M59 37h1M36 48h1M36 50h1M85 50h1M87 50h1M39 51h3M52 51h3"/>
<path stroke="#ed7a17" d="M28 24h1M30 24h2M69 24h2M82 24h2M16 25h1M27 25h1M18 26h1M25 26h1M59 39h1M27 48h4M43 50h1M60 50h1M67 50h1"/>
<path stroke="#ec7418" d="M29 24h1M71 24h11M0 25h16M32 25h38M83 25h14M17 26h1M26 26h1M58 38h1M0 48h27M45 48h4M57 48h4M67 48h30M86 49h1M49 50h1M86 50h1"/>
<path stroke="#ea681a" d="M28 25h1M31 25h1M70 25h2M82 25h1M0 26h16M33 26h37M83 26h14M18 27h2M25 27h1M58 37h1M58 39h1M0 47h31M46 47h3M58 47h4M66 47h31M67 49h1M37 50h1M55 50h1M61 50h1M66 50h1"/>
<path stroke="#e9621b" d="M29 25h2M72 25h10M70 26h1M16 27h2M26 27h3M59 36h1M56 49h1M38 50h1M42 50h1M50 50h2M62 50h4"/>
<path stroke="#eb6e19" d="M16 26h1M27 26h1M20 27h5M31 47h6"/>
<path stroke="#e85c1c" d="M28 26h1M32 26h1M71 26h3M82 26h1M0 27h16M35 27h14M52 27h23M82 27h15M19 28h7M0 46h37M47 46h2M58 46h5M66 46h31M39 50h1M52 50h1"/>
<path stroke="#e7561d" d="M29 26h3M74 26h8M51 27h1M0 28h19M26 28h4M36 28h12M52 28h24M81 28h16M59 40h1M49 49h1M61 49h1M40 50h1M53 50h2"/>
<path stroke="#e6501e" d="M29 27h1M34 27h1M49 27h2M75 27h1M81 27h1M0 29h30M36 29h10M52 29h1M54 29h22M81 29h16M58 36h1M0 45h37M47 45h3M58 45h5M64 45h33M65 46h1M61 48h1M66 48h1M37 49h1M43 49h1M41 50h1"/>
<path stroke="#e04d1c" d="M30 27h3M76 27h5M48 28h1M51 28h1M53 29h1M0 31h45M51 31h2M56 31h21M81 31h16M60 39h1M0 43h36M48 43h3M60 43h37M63 45h1M38 49h1M50 49h1M62 49h4"/>
<path stroke="#e34e1d" d="M33 27h1M35 28h1M0 30h31M35 30h10M51 30h2M55 30h21M81 30h16M60 37h1M60 38h1M58 40h1M0 44h36M48 44h3M59 44h38M44 48h1M66 49h1"/>
<path stroke="#dd4c1b" d="M30 28h1M76 28h1M80 28h1M30 29h1M35 29h1M46 29h1M51 29h1M0 32h45M52 32h1M56 32h21M82 32h15M59 35h1M60 36h1M0 42h37M48 42h3M61 42h36M57 47h1M62 47h1M65 47h1M37 48h1M49 48h1M51 49h1"/>
<path stroke="#da4a1a" d="M31 28h4M49 28h2M77 28h3M76 29h1M0 33h40M42 33h3M52 33h2M60 33h18M82 33h15M0 38h37M46 38h1M50 38h2M61 38h19M83 38h14M0 39h37M46 39h2M50 39h1M61 39h19M83 39h14M0 40h37M47 40h4M60 40h37M0 41h37M48 41h3M61 41h36M45 47h1M56 48h1M39 49h1M55 49h1"/>
<path stroke="#d44718" d="M31 29h3M48 29h3M77 29h3M32 30h2M55 31h1M59 33h1M60 35h1M63 46h1M37 47h1M38 48h1M43 48h1M50 48h1M63 48h2M40 49h1"/>
<path stroke="#d74819" d="M34 29h1M47 29h1M80 29h1M31 30h1M34 30h1M45 30h1M53 30h2M76 30h1M81 32h1M0 34h39M43 34h2M61 34h17M82 34h15M0 35h39M44 35h1M58 35h1M61 35h18M82 35h15M0 36h38M44 36h2M61 36h18M83 36h14M0 37h37M45 37h1M51 37h1M61 37h18M83 37h14M59 41h1M46 46h1M49 46h1M64 46h1M49 47h1M62 48h1M65 48h1M42 49h1M52 49h1"/>
<path stroke="#ce4416" d="M46 30h4M77 30h3M45 31h1M77 31h1M51 32h1M53 32h1M40 33h2M58 33h1M81 33h1M49 39h1M57 39h1M80 39h1M82 39h1M36 43h1M47 44h1M58 44h1M50 45h1M37 46h1M44 47h1M56 47h1M39 48h1M53 49h2"/>
<path stroke="#d14617" d="M50 30h1M80 30h1M53 31h1M77 32h1M59 34h2M82 36h1M57 37h1M57 38h1M58 41h1M60 41h1M60 42h1M59 43h1M36 44h1M57 46h1M63 47h2M51 48h1M41 49h1"/>
<path stroke="#c84114" d="M46 31h4M78 31h2M45 33h1M57 33h1M78 33h1M42 34h1M43 35h1M45 35h1M57 35h1M38 36h1M81 39h1M57 40h1M47 41h1M47 43h1M46 45h1M45 46h1M50 46h1M43 47h1M51 47h1M42 48h1"/>
<path stroke="#cb4215" d="M50 31h1M54 31h1M80 31h1M45 32h1M55 32h1M39 34h1M58 34h1M78 34h1M81 34h1M57 36h1M37 37h1M79 37h1M48 39h1M59 42h1M38 47h1M50 47h1M52 48h1M55 48h1"/>
<path stroke="#c33f14" d="M46 32h1M50 32h1M54 32h1M78 32h1M80 32h1M51 33h1M56 33h1M45 34h1M39 35h1M81 35h1M79 36h1M44 37h1M46 37h1M50 37h1M82 37h1M37 38h1M45 38h1M47 38h1M49 38h1M80 38h1M82 38h1M51 39h1M46 40h1M47 42h1M58 42h1M37 45h1M57 45h1M56 46h1M39 47h1M40 48h1"/>
<path stroke="#be3d13" d="M47 32h3M79 32h1M46 33h1M50 33h1M54 33h2M79 33h2M40 34h2M52 34h1M57 34h1M79 35h1M43 36h1M46 36h1M81 36h1M37 39h1M37 40h1M57 41h1M58 43h1M38 46h1M44 46h1M51 46h1M55 47h1M41 48h1"/>
<path stroke="#b93b12" d="M47 33h3M46 34h6M53 34h4M79 34h2M40 35h1M42 35h1M46 35h1M56 35h1M80 35h1M39 36h1M47 36h5M56 36h1M80 36h1M38 37h1M47 37h1M49 37h1M56 37h1M80 37h2M48 38h1M56 38h1M81 38h1M45 39h1M51 40h1M37 41h1M46 44h1M57 44h1M45 45h1M56 45h1M55 46h1M42 47h1M52 47h1M53 48h2"/>
<path stroke="#b43912" d="M41 35h1M47 35h9M40 36h3M52 36h4M39 37h1M43 37h1M48 37h1M52 37h1M55 37h1M38 38h1M44 38h1M56 39h1M56 40h1M46 41h1M51 41h1M37 42h1M51 42h1M57 42h1M37 43h1M46 43h1M51 43h1M57 43h1M37 44h1M51 44h1M44 45h1M51 45h1M39 46h1M43 46h1M40 47h1"/>
<path stroke="#af3712" d="M40 37h3M53 37h2M39 38h1M43 38h1M52 38h1M55 38h1M38 39h1M44 39h1M45 40h1M56 41h1M46 42h1M56 42h1M45 43h1M56 43h1M45 44h1M56 44h1M38 45h1M55 45h1M41 47h1"/>
<path stroke="#aa3511" d="M40 38h1M42 38h1M54 38h1M55 39h1M38 40h1M44 40h1M55 40h1M45 41h1M45 42h1M44 44h1M55 44h1M42 46h1M52 46h1M54 47h1"/>
<path stroke="#a53310" d="M41 38h1M53 38h1M39 39h1M43 39h1M38 41h1M44 41h1M55 41h1M44 42h1M44 43h1M55 43h1M38 44h1M39 45h1M43 45h1M40 46h1M54 46h1M53 47h1"/>
<path stroke="#9b2f10" d="M40 39h1M42 39h1M39 40h1M43 40h1M43 44h1M52 45h1M54 45h1M41 46h1M53 46h1"/>
<path stroke="#962d0f" d="M41 39h1M52 40h1M43 41h1M39 44h1M42 45h1"/>
<path stroke="#a03110" d="M52 39h1M54 39h1M38 42h1M55 42h1M38 43h1"/>
<path stroke="#902b0e" d="M53 39h1M54 40h1M39 41h1M43 42h1M43 43h1M40 45h1"/>
<path stroke="#8a290e" d="M40 40h1M42 40h1M39 43h1M52 44h1M54 44h1M41 45h1"/>
<path stroke="#7e250d" d="M41 40h1M53 40h1M52 42h1M54 42h1M42 44h1"/>
<path stroke="#72210c" d="M40 41h1M42 43h1M41 44h1M53 44h1"/>
<path stroke="#661d0b" d="M41 41h1M40 42h1"/>
<path stroke="#78230c" d="M42 41h1M40 44h1"/>
<path stroke="#84270e" d="M52 41h1M54 41h1M39 42h1M52 43h1M54 43h1M53 45h1"/>
<path stroke="#6c1f0c" d="M53 41h1M42 42h1M40 43h1"/>
<path stroke="#5a190a" d="M41 42h1"/>
<path stroke="#601b0a" d="M53 42h1M41 43h1M53 43h1"/>
<path stroke="#f0b80b" d="M0 53h36M42 53h7M55 53h4M64 53h15M91 53h6M37 54h2M50 54h3M80 54h10"/>
<path stroke="#e1b30e" d="M0 54h35M41 54h8M54 54h5M63 54h15M92 54h5"/>
<path stroke="#e6b40d" d="M59 54h1"/>
<path stroke="#d7b010" d="M0 55h35M38 55h12M53 55h26M92 55h5"/>
<path stroke="#c8ac13" d="M0 56h97"/>
<path stroke="#b6a616" d="M34 57h4M51 57h1M76 57h18"/>
<path stroke="#b0a417" d="M0 58h35M37 58h39M94 58h3"/>
<path stroke="#9c9e1a" d="M76 59h18"/>
<path stroke="#78c4bd" d="M25 69h4M33 69h4"/>
<path stroke="#7ac6be" d="M29 69h4"/>
<path stroke="#89d0c6" d="M0 70h26M36 70h61"/>
<path stroke="#8cd2c8" d="M26 70h2M35 70h1"/>
<path stroke="#92d6cc" d="M28 70h1"/>
<path stroke="#98dad0" d="M29 70h1"/>
<path stroke="#9cd8d2" d="M30 70h2"/>
<path stroke="#9bdcd2" d="M32 70h1"/>
<path stroke="#95d8ce" d="M33 70h1"/>
<path stroke="#8fd4ca" d="M34 70h1"/>
<path stroke="#9cd0d0" d="M0 71h26M36 71h61"/>
<path stroke="#9dccd0" d="M26 71h1M35 71h1"/>
<path stroke="#9ec8d0" d="M27 71h1M34 71h1"/>
<path stroke="#9ec0ce" d="M28 71h1"/>
<path stroke="#a0b4cd" d="M29 71h1M27 72h1M34 72h2"/>
<path stroke="#9faccb" d="M30 71h1M33 72h1"/>
<path stroke="#9ea8ca" d="M31 71h1M29 72h1M32 72h1"/>
<path stroke="#a0b0cc" d="M32 71h1M28 72h1"/>
<path stroke="#9fbcce" d="M33 71h1"/>
<path stroke="#a0b8ce" d="M0 72h27M36 72h61"/>
<path stroke="#9ea4c9" d="M30 72h2"/>
</g>
</g>
<path fill="none" stroke="#000" stroke-width="1.8" stroke-linejoin="miter" stroke-linecap="square" d="M3.5 12.1L24.4 12.1L38.4 25.8L45.4 25.8L52.3 32.7L80.2 32.7L87.2 25.8L101.2 25.8L108.2 32.7L115.1 32.7L122.1 39.6L122.1 67L129.1 73.9L129.1 80.8L143.1 94.5L157 94.5L164 87.6L157 80.8L150 80.8L143.1 73.9L143.1 25.8L129.1 12.1L38.4 12.1L24.4 25.8L3.5 25.8M150 25.8L157 19L164 19L171 12.1L191.9 12.1L198.9 19L254.7 19L261.7 12.1L282.6 12.1L289.6 19L289.6 25.8L282.6 32.7L275.6 25.8L261.7 25.8L240.7 46.4L240.7 53.3L233.8 60.2L226.8 53.3L219.8 60.2L212.8 53.3L212.8 60.2L205.9 67L184.9 67L177.9 73.9L157 73.9L150 67L164 53.3L150 39.6L150 25.8M240.7 46.4L254.7 53.3L261.7 60.2L268.7 60.2L275.6 53.3L289.6 53.3L296.6 60.2L303.5 60.2L324.5 80.8L345.4 80.8L352.4 87.6L352.4 94.5L366.4 108.2L366.4 115.1L373.3 122L380.3 122L387.3 115.1L380.3 108.2L380.3 101.4L373.3 94.5L373.3 87.6L394.3 67L401.2 67L415.2 53.3L408.2 46.4L408.2 39.6L415.2 32.7L436.1 32.7L443.1 25.8M443.1 12.1L303.5 12.1L296.6 19L310.5 32.7L317.5 25.8L317.5 32.7L324.5 39.6L317.5 46.4L310.5 46.4L303.5 39.6L303.5 32.7L296.6 25.8L289.6 32.7L282.6 32.7M205.9 94.5L212.8 87.6L219.8 87.6L226.8 80.8L233.8 80.8L240.7 87.6L233.8 94.5L240.7 101.4L240.7 108.2L226.8 122L219.8 122L205.9 108.2L205.9 94.5M171 115.1L184.9 101.4L191.9 101.4L219.8 128.8L219.8 135.7L184.9 170L177.9 170L164 183.7L157 176.9L157 170L164 163.1L164 156.3L171 149.4L171 142.6L164 135.7L171 128.8L171 115.1M240.7 94.5L247.7 87.6L261.7 101.4L275.6 101.4L282.6 108.2L282.6 128.8L275.6 135.7L268.7 135.7L268.7 142.6L240.7 176.9L233.8 176.9L226.8 170L226.8 142.6L233.8 135.7L233.8 122L240.7 115.1L240.7 108.2L247.7 101.4L240.7 94.5M268.7 163.1L296.6 135.7L317.5 156.3L310.5 163.1L296.6 163.1L289.6 170L275.6 170L268.7 163.1M443.1 190.6L436.1 190.6L436.1 176.9L415.2 156.3L408.2 156.3L401.2 149.4L394.3 156.3L387.3 156.3L380.3 163.1L366.4 163.1L352.4 176.9L352.4 183.7L359.4 190.6L380.3 190.6L387.3 197.5L422.2 197.5L429.2 204.3L429.2 211.2L443.1 211.2M380.3 190.6L394.3 197.5M429.2 197.5L436.1 204.3L443.1 204.3M3.5 211.2L10.5 211.2L17.4 204.3L94.2 204.3L101.2 197.5L129.1 197.5L136.1 190.6L143.1 190.6L150 183.7L157 190.6L157 204.3L184.9 204.3L191.9 197.5L198.9 197.5L205.9 190.6L345.4 190.6L352.4 197.5L359.4 197.5L366.4 190.6M3.5 190.6L10.5 197.5L3.5 204.3"/>
</g>
<rect x="0" y="0" width="446.6" height="223.0" fill="none" stroke="#000" stroke-width="2.8"/><path d="M-8 0H0" stroke="#000" stroke-width="1.8"/><path d="M-15.5 37.2H0" stroke="#000" stroke-width="2.4"/><path d="M-8 74.3H0" stroke="#000" stroke-width="1.8"/><path d="M-15.5 111.5H0" stroke="#000" stroke-width="2.4"/><path d="M-8 148.7H0" stroke="#000" stroke-width="1.8"/><path d="M-15.5 185.8H0" stroke="#000" stroke-width="2.4"/><path d="M-8 223H0" stroke="#000" stroke-width="1.8"/><path d="M0 223V230.5" stroke="#000" stroke-width="1.8"/><path d="M37.2 223V230.5" stroke="#000" stroke-width="1.8"/><path d="M74.4 223V237.5" stroke="#000" stroke-width="2.2"/><path d="M111.7 223V230.5" stroke="#000" stroke-width="1.8"/><path d="M148.9 223V230.5" stroke="#000" stroke-width="1.8"/><path d="M186.1 223V230.5" stroke="#000" stroke-width="1.8"/><path d="M223.3 223V237.5" stroke="#000" stroke-width="2.2"/><path d="M260.5 223V230.5" stroke="#000" stroke-width="1.8"/><path d="M297.7 223V230.5" stroke="#000" stroke-width="1.8"/><path d="M335 223V230.5" stroke="#000" stroke-width="1.8"/><path d="M372.2 223V237.5" stroke="#000" stroke-width="2.2"/><path d="M409.4 223V230.5" stroke="#000" stroke-width="1.8"/><path d="M446.6 223V230.5" stroke="#000" stroke-width="1.8"/>
</g>
<g transform="translate(542.2 884.4)">
<g clip-path="url(#cp)">
<g shape-rendering="crispEdges">
<g transform="translate(-2.326 0) scale(4.6521 3.0972)" fill="none" stroke-width="1.03">
<path stroke="#89d0c6" d="M0 0h97M0 1h97M0 70h97"/>
<path stroke="#83ccc2" d="M0 2h97"/>
<path stroke="#7dc8be" d="M0 3h97M0 5h25M34 5h3M43 5h1M50 5h9M63 5h34"/>
<path stroke="#80cac0" d="M0 4h24M34 4h2M51 4h7M64 4h33"/>
<path stroke="#76c2bc" d="M24 4h10M36 4h15M58 4h6M0 6h26M33 6h5M42 6h3M49 6h11M63 6h34M0 69h97"/>
<path stroke="#73c0bc" d="M25 5h9M37 5h6M44 5h6M59 5h4"/>
<path stroke="#6cbaba" d="M26 6h7M38 6h4M45 6h4M60 6h3M34 7h16"/>
<path stroke="#69b8ba" d="M0 7h28M29 7h5M50 7h9M63 7h34M0 68h88M94 68h3"/>
<path stroke="#64acbe" d="M28 7h1M59 7h4"/>
<path stroke="#6496c9" d="M0 8h29M54 8h5M64 8h8M84 8h13M88 68h6"/>
<path stroke="#649bc8" d="M29 8h5M49 8h5M72 8h12"/>
<path stroke="#649fc6" d="M34 8h4M46 8h3"/>
<path stroke="#64a3c3" d="M38 8h8M0 67h88M95 67h2"/>
<path stroke="#49835c" d="M59 8h5M37 9h2M45 9h2M0 66h88M96 66h1"/>
<path stroke="#658b40" d="M0 9h8M58 9h3M62 9h4M94 9h1M34 10h1M49 10h1M74 10h1M82 10h1M37 11h1M46 11h1M76 11h1M80 11h1M88 66h8"/>
<path stroke="#5b884a" d="M8 9h17M61 9h1M66 9h3M88 9h6M95 9h2M37 10h1M45 10h2M78 10h1"/>
<path stroke="#57874e" d="M25 9h6M53 9h1M69 9h4M84 9h4M38 10h2M44 10h1"/>
<path stroke="#548651" d="M31 9h2M50 9h3M73 9h2M82 9h2M40 10h4"/>
<path stroke="#508555" d="M33 9h2M49 9h1M75 9h2M79 9h3"/>
<path stroke="#4d8458" d="M35 9h2M47 9h2M77 9h2M88 67h7"/>
<path stroke="#558496" d="M39 9h6"/>
<path stroke="#628a43" d="M54 9h4M35 10h1M48 10h1M75 10h1M81 10h1M38 11h1M44 11h2M77 11h3"/>
<path stroke="#76912d" d="M0 10h8M27 10h1M55 10h5M62 10h5M93 10h2M31 11h1M50 11h1M72 11h1M84 11h1M35 12h1M47 12h1M74 12h1M25 64h8M40 64h54"/>
<path stroke="#708f33" d="M8 10h19M60 10h2M67 10h3M86 10h7M95 10h2M49 11h1M73 11h1M37 12h1M45 12h1M75 12h1"/>
<path stroke="#6e8e36" d="M28 10h3M53 10h2M70 10h2M85 10h1M34 11h1M48 11h1M74 11h1M82 11h1M38 12h2M44 12h1M76 12h1M80 12h1"/>
<path stroke="#6c8d39" d="M31 10h1M51 10h2M72 10h1M83 10h2M35 11h1M47 11h1M81 11h1M40 12h4M77 12h3M24 65h9M39 65h49M89 65h4"/>
<path stroke="#698c3c" d="M32 10h2M50 10h1M73 10h1M36 11h1M75 11h1"/>
<path stroke="#5e8947" d="M36 10h1M47 10h1M76 10h2M79 10h2M39 11h5"/>
<path stroke="#809521" d="M0 11h21M63 11h4M88 11h9M31 12h1M51 12h1M84 12h1M36 13h1M46 13h2M81 13h1M27 63h6M42 63h38M82 63h12"/>
<path stroke="#7d9424" d="M21 11h5M57 11h6M67 11h2M87 11h1M32 12h2M50 12h1M72 12h1M37 13h2M45 13h1M75 13h1"/>
<path stroke="#7a9327" d="M26 11h3M54 11h3M69 11h2M86 11h1M34 12h1M49 12h1M73 12h1M83 12h1M39 13h2M42 13h3M76 13h1M80 13h1M0 65h24M33 65h6M88 65h1M93 65h4"/>
<path stroke="#78922a" d="M29 11h2M51 11h3M71 11h1M85 11h1M48 12h1M82 12h1M41 13h1M77 13h3"/>
<path stroke="#739030" d="M32 11h2M83 11h1M36 12h1M46 12h1M81 12h1"/>
<path stroke="#8f9a1c" d="M0 12h26M58 12h10M88 12h9M32 13h2M50 13h1M72 13h1M28 62h5M43 62h37M81 62h12M0 63h27M33 63h9M80 63h2M94 63h3"/>
<path stroke="#88981d" d="M26 12h3M54 12h4M68 12h3M86 12h2M34 13h1M49 13h1M73 13h1M83 13h1"/>
<path stroke="#82961e" d="M29 12h2M52 12h2M71 12h1M85 12h1M35 13h1M48 13h1M74 13h1M82 13h1M0 64h25M33 64h7M94 64h3"/>
<path stroke="#a2a019" d="M0 13h27M56 13h13M88 13h9M35 14h2M47 14h2M74 14h1M82 14h1"/>
<path stroke="#9c9e1a" d="M27 13h4M53 13h3M69 13h2M86 13h2M37 14h2M45 14h2M75 14h1M80 14h2M30 61h3M57 61h2M73 61h18M0 62h28M33 62h10M80 62h1M93 62h4"/>
<path stroke="#969c1b" d="M31 13h1M51 13h2M71 13h1M84 13h2M39 14h6M76 14h4"/>
<path stroke="#b6a616" d="M0 14h29M55 14h15M87 14h10M33 59h2M72 59h19"/>
<path stroke="#b0a417" d="M29 14h3M51 14h4M70 14h2M84 14h3M0 60h31M32 60h26M59 60h13M91 60h6"/>
<path stroke="#a9a218" d="M32 14h3M49 14h2M72 14h2M83 14h1M31 60h1M58 60h1M72 60h19M0 61h30M33 61h24M59 61h14M91 61h6"/>
<path stroke="#c8ac13" d="M0 15h31M52 15h20M85 15h12"/>
<path stroke="#c3aa14" d="M31 15h5M48 15h4M72 15h3M82 15h3M0 58h97"/>
<path stroke="#bca815" d="M36 15h12M75 15h7M0 59h33M35 59h37M91 59h6"/>
<path stroke="#d7b010" d="M0 16h36M48 16h28M81 16h16M0 56h97"/>
<path stroke="#d2ae11" d="M36 16h12M76 16h5"/>
<path stroke="#e6b40d" d="M0 17h35M48 17h29M79 17h18M34 55h2M76 55h12"/>
<path stroke="#e1b30e" d="M35 17h13M77 17h2M0 55h34M36 55h40M88 55h9"/>
<path stroke="#f0b80b" d="M0 18h97M31 51h2M31 52h2M30 53h3M37 54h1M47 54h2M50 54h2M58 54h1M75 54h1M88 54h1"/>
<path stroke="#f4b40b" d="M0 19h97M31 50h2M33 51h1M29 52h1"/>
<path stroke="#f4ac0d" d="M0 20h16M22 20h75M17 21h4M17 22h2M20 22h1M17 23h1M20 23h1M18 24h2M33 50h1M0 52h28M39 52h7M53 52h4M65 52h13M88 52h9M33 53h1M37 53h1M47 53h1M51 53h1M58 53h1M77 53h2M87 53h1"/>
<path stroke="#f4b00c" d="M16 20h6M19 22h1M18 23h2M30 50h1M29 51h1M28 52h1M38 53h1M57 53h1M59 53h1M76 53h1"/>
<path stroke="#f29e10" d="M0 21h13M24 21h73M15 22h1M23 22h1M22 23h1M16 24h1M21 24h1M18 25h2M31 49h2M28 50h1M38 52h1M57 52h1M61 52h3"/>
<path stroke="#f2a20f" d="M13 21h2M23 21h1M22 22h1M16 23h1M0 51h28M40 51h6M53 51h4M65 51h14M87 51h10M33 52h1M46 52h1M52 52h1M64 52h1M78 52h1M87 52h1"/>
<path stroke="#f3a70e" d="M15 21h2M21 21h2M16 22h1M21 22h1M21 23h1M17 24h1M20 24h1M29 50h1M28 51h1M34 53h3M48 53h3M79 53h8"/>
<path stroke="#f19512" d="M0 22h13M28 22h2M37 22h29M82 22h15M14 23h1M23 23h1M15 24h1M22 24h1M21 25h1M29 49h1M33 49h1M0 50h27M41 50h5M54 50h3M66 50h15M85 50h12M49 52h2"/>
<path stroke="#f29a11" d="M13 22h2M15 23h1M17 25h1M20 25h1M30 49h1M27 50h1M34 52h4M47 52h2M51 52h1M58 52h3M79 52h8"/>
<path stroke="#f09013" d="M24 22h4M30 22h7M66 22h16M13 23h1M24 23h1M23 24h1M16 25h1M79 51h1M86 51h1"/>
<path stroke="#f08c14" d="M0 23h13M28 23h3M37 23h30M81 23h16M14 24h1M22 25h1M56 38h1M27 49h2M39 51h1M46 51h1M57 51h1M80 51h1M85 51h1"/>
<path stroke="#ef8615" d="M25 23h3M31 23h6M67 23h14M13 24h1M24 24h1M15 25h1M17 26h4M56 37h1M0 49h27M41 49h5M55 49h2M65 49h17M85 49h12M65 50h1M34 51h1M52 51h1M64 51h1"/>
<path stroke="#ee8016" d="M0 24h13M29 24h38M81 24h16M14 25h1M23 25h1M21 26h1M56 39h1M30 48h4M35 51h2M38 51h1M47 51h2M58 51h6M81 51h4"/>
<path stroke="#ed7a17" d="M25 24h1M28 24h1M67 24h1M80 24h1M13 25h1M24 25h1M16 26h1M22 26h1M27 48h3M40 50h1M81 50h1M37 51h1M49 51h3"/>
<path stroke="#ec7418" d="M26 24h2M68 24h12M0 25h13M29 25h39M80 25h17M15 26h1M0 48h27M42 48h4M55 48h3M64 48h33M53 50h1M57 50h1"/>
<path stroke="#ea681a" d="M25 25h1M28 25h1M68 25h2M79 25h1M0 26h14M30 26h39M79 26h18M16 27h2M20 27h2M56 36h1M57 38h1M0 47h34M43 47h3M55 47h4M63 47h34M82 49h1M84 49h1M64 50h1M82 50h1"/>
<path stroke="#e9621b" d="M26 25h2M70 25h9M15 27h1M22 27h2M57 37h1M54 49h1M57 49h1M64 49h1M83 49h1M35 50h1M39 50h1M47 50h1M58 50h1M83 50h1"/>
<path stroke="#eb6e19" d="M14 26h1M23 26h2M18 27h2M34 50h1M46 50h1M84 50h1"/>
<path stroke="#e85c1c" d="M25 26h1M29 26h1M69 26h1M0 27h15M24 27h2M31 27h13M49 27h23M79 27h18M57 39h1M56 40h1M0 46h34M44 46h2M55 46h5M63 46h34M36 50h3M48 50h1M52 50h1M59 50h5"/>
<path stroke="#e7561d" d="M26 26h1M28 26h1M70 26h3M78 26h1M15 28h8M55 38h1M49 50h1"/>
<path stroke="#e6501e" d="M27 26h1M73 26h5M44 27h1M48 27h1M0 28h15M23 28h4M31 28h13M49 28h24M78 28h19M57 36h1M55 37h1M0 45h34M44 45h3M55 45h5M62 45h35M63 48h1M34 49h1M46 49h1M50 50h2"/>
<path stroke="#e34e1d" d="M26 27h1M30 27h1M45 27h3M72 27h1M78 27h1M0 29h27M31 29h12M49 29h1M51 29h23M78 29h19M55 39h1M57 40h1M0 44h33M45 44h3M56 44h41M62 46h1M58 48h1M40 49h1M58 49h1M63 49h1"/>
<path stroke="#e04d1c" d="M27 27h1M29 27h1M73 27h1M77 27h1M0 30h28M31 30h11M48 30h2M52 30h22M78 30h19M0 43h33M45 43h3M57 43h40M61 45h1M41 48h1M54 48h1M53 49h1"/>
<path stroke="#dd4c1b" d="M28 27h1M74 27h3M48 28h1M73 28h1M50 29h1M0 31h29M31 31h11M48 31h2M54 31h21M78 31h19M0 32h29M30 32h12M49 32h1M55 32h20M79 32h18M56 35h1M55 36h1M0 42h34M45 42h3M58 42h39M60 45h1M34 48h1M46 48h1M35 49h1M47 49h2M59 49h4"/>
<path stroke="#da4a1a" d="M27 28h1M30 28h1M77 28h1M27 29h1M48 29h1M0 33h37M38 33h4M49 33h2M57 33h18M79 33h18M57 35h1M0 38h34M43 38h2M47 38h2M58 38h39M0 39h34M43 39h3M47 39h1M58 39h39M0 40h34M44 40h4M55 40h1M58 40h39M0 41h34M45 41h3M56 41h1M58 41h39M42 47h1M59 47h1M62 47h1M36 49h4"/>
<path stroke="#d74819" d="M28 28h2M44 28h4M74 28h3M30 29h1M50 30h2M74 30h1M0 34h36M38 34h4M58 34h18M79 34h18M0 35h36M40 35h2M58 35h18M79 35h18M0 36h35M41 36h2M58 36h19M79 36h18M0 37h34M42 37h1M48 37h1M58 37h39M57 41h1M43 46h1M46 46h1M46 47h1M54 47h1M59 48h1M62 48h1M49 49h1M52 49h1"/>
<path stroke="#d44718" d="M28 29h1M74 29h1M77 29h1M28 30h1M30 30h1M30 31h1M29 32h1M37 33h1M56 33h1M57 34h1M57 42h1M34 47h1M47 48h1M53 48h1M60 48h2"/>
<path stroke="#d14617" d="M29 29h1M46 29h2M75 29h2M42 30h1M77 30h1M29 31h1M53 31h1M78 32h1M56 34h1M55 35h1M78 36h1M46 39h1M56 43h1M33 44h1M60 46h2M35 48h1M40 48h1M48 48h1"/>
<path stroke="#cb4215" d="M43 29h1M46 30h1M75 30h2M42 31h1M52 31h1M75 31h1M77 31h1M75 32h1M55 33h1M78 33h1M39 35h1M42 35h1M76 35h1M34 37h1M45 38h1M55 41h1M41 47h1M47 47h1M53 47h1M37 48h1M39 48h1M52 48h1"/>
<path stroke="#c33f14" d="M44 29h1M45 31h2M76 31h1M47 32h1M53 32h1M77 32h1M48 33h1M42 34h1M76 34h1M78 34h1M36 35h1M38 35h1M43 36h1M54 36h1M41 37h1M47 37h1M34 38h1M48 39h1M54 39h1M43 40h1M44 42h1M34 45h1M54 45h1M53 46h1M52 47h1"/>
<path stroke="#ce4416" d="M45 29h1M29 30h1M47 30h1M50 31h1M48 32h1M50 32h1M54 32h1M75 33h1M36 34h1M77 36h1M56 42h1M33 43h1M44 44h1M55 44h1M47 45h1M34 46h1M54 46h1M60 47h2M36 48h1M50 49h2"/>
<path stroke="#b93b12" d="M43 30h1M44 31h1M43 33h5M52 33h2M43 34h6M50 34h5M77 34h1M37 35h1M43 35h1M53 35h1M36 36h3M44 36h5M53 36h1M35 37h1M40 37h1M45 37h2M53 37h1M41 38h1M48 40h1M34 41h1M34 42h1M43 44h1M54 44h1M53 45h1M35 46h1M41 46h1M48 46h1M52 46h1M49 47h1M51 48h1"/>
<path stroke="#b43912" d="M44 30h1M44 35h9M49 36h4M36 37h4M49 37h1M52 37h1M35 38h2M40 38h1M53 38h1M35 39h1M53 39h1M42 40h1M43 41h1M48 41h1M54 41h1M54 42h1M34 43h1M48 43h1M54 43h1M34 44h1M48 44h1M42 45h1M48 45h1M37 47h1M50 48h1"/>
<path stroke="#c84114" d="M45 30h1M47 31h1M51 31h1M42 32h1M42 33h1M37 34h1M55 34h1M78 35h1M35 36h1M40 36h1M43 37h1M54 37h1M42 38h1M46 38h1M54 38h1M44 41h1M44 43h1M43 45h1M42 46h1M47 46h1M35 47h1M48 47h1M38 48h1M49 48h1"/>
<path stroke="#be3d13" d="M43 31h1M43 32h4M51 32h2M76 32h1M51 33h1M54 33h1M76 33h2M49 34h1M54 35h1M77 35h1M39 36h1M44 37h1M34 39h1M42 39h1M34 40h1M54 40h1M55 42h1M55 43h1M36 47h1M40 47h1"/>
<path stroke="#af3712" d="M50 37h2M37 38h3M49 38h1M52 38h1M36 39h1M40 39h2M52 39h1M35 40h1M53 40h1M53 41h1M43 42h1M48 42h1M53 42h1M43 43h1M53 43h1M42 44h1M53 44h1M35 45h1M52 45h1M38 47h2"/>
<path stroke="#a53310" d="M50 38h1M40 40h1M41 41h1M52 41h1M35 42h1M41 42h1M52 42h1M35 43h1M52 43h1M41 44h1M40 46h1M51 46h1M50 47h1"/>
<path stroke="#aa3511" d="M51 38h1M37 39h3M36 40h1M41 40h1M52 40h1M35 41h1M42 41h1M42 42h1M42 43h1M35 44h1M52 44h1M41 45h1M36 46h1M49 46h1M51 47h1"/>
<path stroke="#a03110" d="M49 39h1M51 39h1M37 40h3M36 41h1M41 43h1"/>
<path stroke="#902b0e" d="M50 39h1M49 40h1M51 40h1M39 41h1M51 44h1"/>
<path stroke="#7e250d" d="M50 40h1M39 42h1M49 42h1M51 42h1M49 43h1M37 45h1"/>
<path stroke="#962d0f" d="M37 41h1M40 42h1M36 43h1M36 44h1M40 45h1M39 46h1"/>
<path stroke="#8a290e" d="M38 41h1M40 43h1M40 44h1M49 44h1M38 46h1"/>
<path stroke="#9b2f10" d="M40 41h1M36 42h1M36 45h1M49 45h1M51 45h1M37 46h1M50 46h1"/>
<path stroke="#84270e" d="M49 41h1M51 41h1M37 42h1M51 43h1M50 45h1"/>
<path stroke="#6c1f0c" d="M50 41h1M39 43h1M39 44h1M38 45h1"/>
<path stroke="#78230c" d="M38 42h1M37 43h1M39 45h1"/>
<path stroke="#601b0a" d="M50 42h1M38 44h1"/>
<path stroke="#661d0b" d="M38 43h1M50 43h1"/>
<path stroke="#72210c" d="M37 44h1M50 44h1"/>
<path stroke="#f5b90a" d="M30 51h1M30 52h1M0 53h30M39 53h8M52 53h5M60 53h16M88 53h9M33 54h4M49 54h1M76 54h12"/>
<path stroke="#ebb60c" d="M0 54h33M38 54h9M52 54h6M59 54h16M89 54h8"/>
<path stroke="#cdad12" d="M0 57h97"/>
<path stroke="#9cd4d1" d="M0 71h97"/>
<path stroke="#9ec0ce" d="M0 72h97"/>
</g>
</g>
<path fill="none" stroke="#000" stroke-width="1.8" stroke-linejoin="miter" stroke-linecap="square" d="M3.5 25.8L31.4 25.8L38.4 32.7L94.2 32.7L108.2 46.4L108.2 67L115.1 73.9L115.1 80.8L136.1 101.4L143.1 94.5L143.1 87.6L129.1 73.9L129.1 67L122.1 60.2L129.1 53.3L129.1 32.7L122.1 32.7L129.1 25.8L122.1 19L115.1 19L108.2 12.1L3.5 12.1M129.1 25.8L136.1 19L150 19L157 12.1L164 12.1L171 19L191.9 19L198.9 12.1L205.9 19L226.8 19L233.8 12.1L268.7 12.1L275.6 19L268.7 25.8L247.7 25.8L240.7 32.7L226.8 32.7L226.8 39.6L212.8 53.3L198.9 53.3L198.9 60.2L177.9 60.2L171 67L164 73.9L143.1 73.9L136.1 67L143.1 60.2L143.1 46.4L129.1 32.7M226.8 46.4L247.7 25.8L254.7 32.7L275.6 32.7L282.6 25.8L289.6 32.7L289.6 39.6L296.6 46.4L303.5 46.4L310.5 39.6L310.5 32.7L303.5 25.8L296.6 25.8L289.6 19L296.6 12.1L443.1 12.1M226.8 46.4L233.8 53.3L282.6 53.3L296.6 67L303.5 67L317.5 80.8L331.5 80.8L345.4 94.5L345.4 101.4L359.4 115.1L366.4 108.2L366.4 101.4L359.4 94.5L359.4 87.6L380.3 67L387.3 67L401.2 53.3L394.3 46.4L401.2 39.6L401.2 32.7L429.2 32.7L436.1 25.8L443.1 32.7M191.9 94.5L198.9 87.6L205.9 80.8L219.8 80.8L226.8 87.6L219.8 94.5L226.8 101.4L226.8 108.2L212.8 122L205.9 115.1L198.9 115.1L191.9 108.2L191.9 94.5M157 115.1L171 101.4L177.9 108.2L184.9 108.2L205.9 128.8L205.9 135.7L157 183.7L150 183.7L143.1 176.9L150 170L150 163.1L157 156.3L157 142.6L150 135.7L157 128.8L157 115.1M226.8 94.5L233.8 87.6L240.7 94.5L247.7 94.5L254.7 101.4L261.7 101.4L268.7 108.2L268.7 128.8L261.7 135.7L254.7 135.7L254.7 149.4L233.8 170L219.8 170L212.8 163.1L212.8 142.6L219.8 135.7L219.8 122L226.8 115.1L226.8 108.2L233.8 101.4L226.8 94.5M261.7 156.3L282.6 135.7L303.5 156.3L296.6 163.1L275.6 163.1L268.7 170L261.7 163.1L261.7 156.3M331.5 183.7L352.4 163.1L359.4 163.1L366.4 156.3L373.3 156.3L380.3 149.4L387.3 149.4L394.3 156.3L401.2 156.3L415.2 170L415.2 176.9L422.2 183.7L422.2 190.6L429.2 190.6L436.1 197.5L429.2 204.3L415.2 204.3L408.2 197.5L380.3 197.5L373.3 190.6L338.4 190.6L331.5 183.7M366.4 190.6L373.3 197.5L401.2 197.5L408.2 204.3L401.2 211.2L436.1 211.2L443.1 204.3M3.5 204.3L108.2 204.3L115.1 197.5L122.1 197.5L129.1 190.6L136.1 190.6L143.1 183.7L150 190.6L150 204.3L177.9 204.3L184.9 197.5L191.9 197.5L198.9 190.6L261.7 190.6L268.7 183.7L275.6 190.6L366.4 190.6"/>
</g>
<rect x="0" y="0" width="446.6" height="223.0" fill="none" stroke="#000" stroke-width="2.8"/><path d="M-8 0H0" stroke="#000" stroke-width="1.8"/><path d="M-15.5 37.2H0" stroke="#000" stroke-width="2.4"/><path d="M-8 74.3H0" stroke="#000" stroke-width="1.8"/><path d="M-15.5 111.5H0" stroke="#000" stroke-width="2.4"/><path d="M-8 148.7H0" stroke="#000" stroke-width="1.8"/><path d="M-15.5 185.8H0" stroke="#000" stroke-width="2.4"/><path d="M-8 223H0" stroke="#000" stroke-width="1.8"/><path d="M0 223V230.5" stroke="#000" stroke-width="1.8"/><path d="M37.2 223V230.5" stroke="#000" stroke-width="1.8"/><path d="M74.4 223V237.5" stroke="#000" stroke-width="2.2"/><path d="M111.7 223V230.5" stroke="#000" stroke-width="1.8"/><path d="M148.9 223V230.5" stroke="#000" stroke-width="1.8"/><path d="M186.1 223V230.5" stroke="#000" stroke-width="1.8"/><path d="M223.3 223V237.5" stroke="#000" stroke-width="2.2"/><path d="M260.5 223V230.5" stroke="#000" stroke-width="1.8"/><path d="M297.7 223V230.5" stroke="#000" stroke-width="1.8"/><path d="M335 223V230.5" stroke="#000" stroke-width="1.8"/><path d="M372.2 223V237.5" stroke="#000" stroke-width="2.2"/><path d="M409.4 223V230.5" stroke="#000" stroke-width="1.8"/><path d="M446.6 223V230.5" stroke="#000" stroke-width="1.8"/>
</g>
<g transform="translate(1013.6 884.4)">
<g clip-path="url(#cp)">
<rect width="446.6" height="223.0" fill="#bebebe"/>
<g shape-rendering="crispEdges">
<g transform="translate(-2.326 0) scale(4.6521 3.0972)" fill="none" stroke-width="1.03">
<path stroke="#ffe7e7" d="M1 1h2M4 1h1M6 1h1M19 1h1M22 1h2M25 1h2M32 1h1M4 2h1M6 2h1M10 2h2M22 2h1M24 2h1M29 2h1M33 2h1M38 2h1M1 3h1M3 3h1M9 3h1M24 3h1M30 3h1M32 3h1M34 3h2M58 3h1M60 3h1M62 3h1M65 3h1M69 3h1M76 3h1M89 3h1M94 3h2M13 4h1M17 4h1M23 4h1M27 4h1M36 4h1M68 4h2M74 4h2M77 4h1M89 4h1M93 4h1M8 5h1M11 5h1M16 5h2M19 5h2M22 5h1M27 5h2M33 5h5M59 5h1M71 5h1M73 5h1M91 5h2M94 5h3M6 6h1M13 6h1M32 6h1M36 6h1M55 6h1M58 6h1M63 6h1M72 6h1M75 6h1M78 6h1M80 6h1M84 6h1M88 6h1M91 6h2M94 6h1M5 7h1M18 7h1M27 7h1M31 7h1M35 7h1M58 7h1M63 7h2M66 7h1M68 7h1M70 7h2M75 7h1M79 7h1M95 7h1M0 8h1M4 8h1M13 8h1M18 8h1M30 8h2M36 8h1M62 8h1M65 8h3M72 8h1M74 8h2M91 8h1M1 9h1M13 9h1M22 9h1M35 9h1M55 9h1M58 9h2M63 9h1M76 9h1M90 9h1M5 10h1M8 10h2M21 10h2M24 10h1M26 10h1M35 10h1M37 10h1M45 10h1M50 10h1M54 10h1M58 10h1M61 10h1M80 10h1M85 10h1M89 10h1M94 10h1M8 11h2M14 11h1M22 11h1M44 11h1M50 11h1M52 11h1M55 11h1M67 11h1M77 11h1M82 11h1M86 11h1M95 11h1M0 12h1M11 12h1M15 12h1M20 12h1M22 12h1M35 12h1M50 12h3M58 12h1M78 12h1M81 12h2M88 12h2M1 13h2M19 13h1M21 13h2M30 13h1M46 13h1M65 13h1M67 13h2M77 13h1M87 13h1M5 14h1M15 14h1M17 14h1M20 14h1M26 14h1M28 14h1M45 14h1M53 14h1M58 14h1M63 14h2M66 14h1M77 14h1M89 14h1M29 15h1M34 15h1M44 15h1M51 15h1M53 15h2M67 15h1M74 15h1M77 15h1M80 15h1M82 15h1M90 15h1M46 16h1M49 16h1M53 16h1M57 16h1M59 16h1M67 16h1M77 16h1M81 16h1M15 17h1M29 17h1M46 17h1M50 17h1M55 17h1M63 17h1M66 17h1M68 17h1M70 17h1M76 17h1M78 17h1M82 17h1M84 17h1M1 18h1M14 18h2M20 18h1M61 18h1M81 18h1M86 18h1M15 19h1M25 19h1M46 19h1M53 19h2M60 19h1M81 19h1M90 19h1M95 19h2M18 20h3M24 20h1M52 20h1M54 20h1M67 20h2M91 20h1M93 20h1M53 21h1M85 21h1M91 21h1M94 21h1M96 21h1M24 22h1M66 22h1M83 22h2M91 22h1M59 23h1M74 23h1M89 23h1M92 23h1M75 24h1M82 24h1M92 24h1M76 25h1M81 25h1M95 25h2M1 26h1M3 26h1M22 26h1M57 26h1M92 26h2M1 27h1M3 27h1M21 27h1M50 27h1M92 27h2M23 28h1M74 28h1M92 28h2M3 29h2M23 29h1M25 29h1M45 29h1M73 29h1M92 29h1M94 29h3M24 30h1M45 30h1M79 30h1M3 31h1M53 31h1M88 31h1M96 31h1M75 32h1M88 32h1M95 32h1M1 33h1M27 33h1M74 33h1M95 33h2M1 34h1M27 34h1M32 34h1M49 34h1M74 34h1M96 34h1M1 35h1M4 35h1M35 35h1M26 36h1M35 36h1M61 36h1M75 36h1M88 36h1M4 37h1M6 37h1M30 37h1M35 37h2M38 37h1M81 37h1M84 37h1M89 37h1M82 38h1M6 39h1M2 40h1M4 40h1M36 40h1M39 40h1M52 40h1M39 41h1M53 41h1M4 42h1M53 42h1M55 43h1M87 43h1M60 44h2M90 44h1M1 45h1M38 45h1M88 45h2M2 46h1M83 46h1M88 46h1M1 47h1M4 47h1M85 47h1M85 48h2M88 48h1M95 48h1M3 50h1M30 50h2M34 51h1M0 52h1M33 52h1M88 53h1M34 55h1M39 56h1M67 56h2M2 57h1M4 57h1M67 57h1M69 57h1M66 58h3M70 58h3M65 59h1M69 59h2M74 59h1M61 60h1M63 60h1M66 60h1M71 60h1M77 60h1M49 61h2M53 61h1M60 61h1M68 61h1M76 61h1M48 62h2M53 62h2M58 62h1M60 62h1M65 62h1M67 62h2M53 63h3M67 63h1M76 63h1M45 64h1M60 64h1M68 64h1M72 64h3M51 65h1M57 65h1M67 65h1M69 65h1M73 65h2M59 66h1M69 66h1M74 66h1M17 67h1M60 67h3M64 67h1M66 67h1M45 68h1M58 68h1M65 68h1M73 68h1M20 69h1M44 69h1M65 69h1M71 69h1M57 70h1M70 70h1M72 70h1M74 70h1M56 71h1M69 71h1M71 71h1M73 71h3M35 72h1M49 72h2M68 72h2M75 72h1M93 72h1"/>
<path stroke="#fff7f7" d="M3 1h1M13 1h1M33 1h1M35 1h1M90 1h1M30 2h1M34 2h1M36 2h2M39 2h3M55 2h1M61 2h2M64 2h1M72 2h1M90 2h1M92 2h1M94 2h3M40 3h1M51 3h1M66 3h3M71 3h1M92 3h1M34 4h1M59 4h1M70 4h2M92 4h1M24 5h2M57 5h1M24 6h1M31 6h1M56 6h1M26 7h1M28 7h1M33 7h1M38 7h1M57 7h1M25 8h1M32 8h1M37 8h2M40 8h2M54 8h1M73 8h1M26 9h3M31 9h2M41 9h2M51 9h1M53 9h1M56 9h2M60 9h2M66 9h1M73 9h2M23 10h1M30 10h1M39 10h1M43 10h2M51 10h1M57 10h1M59 10h2M66 10h1M73 10h1M0 11h1M23 11h2M31 11h1M33 11h1M35 11h1M43 11h1M57 11h2M83 11h1M85 11h1M32 12h3M41 12h1M43 12h2M47 12h1M53 12h1M55 12h3M77 12h1M80 12h1M84 12h2M0 13h1M33 13h1M44 13h1M49 13h1M57 13h1M66 13h1M84 13h1M94 13h1M18 14h1M25 14h1M27 14h1M29 14h1M32 14h2M43 14h1M48 14h1M50 14h1M68 14h1M19 15h3M24 15h1M28 15h1M46 15h1M49 15h1M57 15h1M76 15h1M14 16h1M19 16h1M25 16h2M29 16h1M32 16h1M41 16h1M50 16h1M55 16h1M58 16h1M19 17h1M31 17h2M48 17h1M51 17h2M57 17h2M86 17h1M92 17h1M96 17h1M16 18h1M18 18h1M22 18h1M24 18h1M31 18h2M46 18h2M52 18h2M58 18h2M64 18h2M72 18h1M76 18h3M83 18h1M87 18h1M91 18h1M93 18h1M95 18h1M19 19h1M22 19h2M26 19h1M31 19h1M45 19h1M50 19h1M52 19h1M56 19h2M59 19h1M62 19h2M69 19h1M82 19h2M92 19h1M1 20h1M15 20h1M17 20h1M21 20h2M28 20h2M55 20h1M59 20h1M63 20h1M69 20h1M82 20h1M85 20h1M90 20h1M18 21h1M29 21h1M50 21h3M56 21h1M65 21h1M67 21h1M72 21h1M75 21h1M84 21h1M87 21h1M18 22h3M23 22h1M25 22h1M49 22h1M51 22h2M56 22h1M59 22h1M64 22h1M68 22h1M71 22h1M75 22h1M96 22h1M2 23h1M20 23h1M23 23h1M25 23h1M55 23h1M58 23h1M67 23h1M71 23h1M76 23h1M81 23h1M90 23h1M93 23h1M2 24h1M18 24h1M24 24h1M44 24h1M59 24h1M73 24h1M77 24h1M80 24h1M88 24h1M96 24h1M3 25h1M17 25h1M19 25h2M22 25h1M60 25h3M74 25h2M77 25h1M89 25h2M92 25h3M45 26h1M51 26h2M54 26h3M72 26h1M74 26h1M77 26h1M79 26h1M81 26h1M90 26h1M95 26h1M18 27h1M26 27h1M30 27h3M45 27h2M52 27h1M61 27h1M76 27h2M79 27h1M88 27h1M90 27h2M94 27h3M20 28h1M24 28h1M43 28h1M51 28h1M64 28h1M80 28h1M20 29h1M22 29h1M31 29h1M46 29h2M49 29h1M55 29h1M64 29h1M76 29h1M79 29h1M2 30h1M30 30h1M43 30h1M46 30h1M48 30h1M55 30h1M70 30h1M78 30h1M88 30h1M95 30h1M2 31h1M4 31h1M29 31h3M52 31h1M54 31h1M69 31h2M73 31h2M76 31h1M79 31h1M1 32h2M24 32h1M26 32h1M30 32h3M52 32h1M57 32h1M59 32h1M69 32h1M73 32h2M76 32h2M81 32h1M92 32h1M6 33h1M26 33h1M31 33h1M33 33h1M50 33h1M54 33h1M57 33h2M69 33h1M88 33h1M91 33h1M94 33h1M4 34h1M33 34h2M45 34h1M47 34h2M50 34h1M57 34h1M88 34h3M94 34h2M5 35h1M28 35h1M33 35h1M47 35h1M50 35h1M60 35h1M74 35h1M84 35h1M89 35h3M34 36h1M37 36h1M50 36h1M60 36h1M74 36h1M77 36h1M84 36h1M90 36h1M95 36h1M26 37h1M29 37h1M31 37h2M34 37h1M78 37h1M80 37h1M83 37h1M88 37h1M93 37h1M26 38h1M28 38h1M36 38h1M75 38h1M94 38h1M30 39h2M34 39h2M38 39h2M80 39h1M84 39h1M26 40h1M28 40h1M32 40h1M51 40h1M53 40h1M60 40h2M77 40h1M83 40h2M87 40h1M89 40h1M93 40h2M96 40h1M6 41h1M32 41h2M58 41h2M80 41h1M82 41h1M84 41h1M87 41h3M5 42h1M30 42h1M34 42h3M52 42h1M54 42h1M58 42h1M80 42h2M83 42h1M86 42h1M28 43h1M36 43h1M51 43h1M54 43h1M56 43h1M58 43h1M60 43h1M79 43h1M81 43h1M84 43h1M88 43h1M90 43h2M1 44h1M3 44h1M52 44h1M54 44h6M78 44h1M85 44h1M87 44h1M91 44h1M94 44h1M96 44h1M3 45h1M36 45h1M57 45h3M62 45h1M77 45h1M83 45h2M86 45h2M90 45h1M1 46h1M4 46h2M32 46h4M37 46h1M84 46h1M89 46h2M36 47h1M54 47h1M56 47h2M82 47h1M86 47h1M4 48h1M30 48h2M34 48h1M36 48h1M55 48h2M79 48h1M87 48h1M90 48h1M2 49h2M28 49h1M30 49h1M32 49h1M77 49h1M84 49h2M88 49h1M90 49h3M94 49h2M2 50h1M33 50h1M74 50h1M77 50h1M83 50h1M86 50h1M89 50h1M94 50h2M1 51h1M84 51h3M89 51h1M30 52h2M86 52h3M93 52h1M0 53h1M2 53h2M32 53h1M93 53h2M96 53h1M0 54h1M3 54h1M94 54h1M1 55h1M4 55h1M32 55h1M37 55h2M4 56h1M27 56h2M34 56h1M94 56h2M1 57h1M3 57h1M28 57h1M34 57h1M36 57h4M95 57h2M95 58h1M62 59h1M62 60h1M67 60h1M74 60h1M78 60h1M88 60h1M47 61h2M52 61h1M72 61h1M75 61h1M78 61h1M91 61h1M31 62h1M47 62h1M52 62h1M64 62h1M70 62h3M74 62h2M77 62h1M92 62h1M32 63h1M50 63h1M57 63h2M66 63h1M92 63h1M49 64h2M52 64h2M55 64h1M58 64h1M64 64h1M67 64h1M69 64h1M43 65h1M45 65h1M55 65h1M63 65h4M72 65h1M42 66h1M44 66h2M58 66h1M66 66h1M70 66h1M35 67h1M45 67h1M52 67h2M63 67h1M68 67h1M70 67h2M75 67h1M33 68h1M35 68h2M44 68h1M48 68h2M51 68h3M56 68h2M60 68h2M69 68h2M72 68h1M36 69h2M39 69h1M41 69h1M52 69h1M54 69h3M59 69h1M64 69h1M69 69h2M77 69h1M36 70h1M39 70h1M43 70h2M51 70h1M53 70h1M58 70h1M66 70h1M69 70h1M77 70h1M36 71h1M46 71h2M51 71h1M53 71h2M66 71h1M68 71h1M41 72h2M45 72h1M48 72h1M55 72h1M57 72h1M61 72h2M67 72h1M70 72h2M77 72h1"/>
<path stroke="#ffefef" d="M5 1h1M14 1h1M29 1h2M34 1h1M36 1h1M89 1h1M3 2h1M27 2h1M32 2h1M35 2h1M57 2h2M65 2h1M70 2h1M2 3h1M27 3h1M29 3h1M33 3h1M37 3h2M64 3h1M73 3h2M90 3h1M1 4h1M12 4h1M14 4h1M26 4h1M38 4h1M60 4h1M94 4h3M13 5h2M26 5h1M58 5h1M60 5h1M70 5h1M93 5h1M14 6h1M18 6h1M26 6h1M30 6h1M35 6h1M37 6h1M40 6h3M57 6h1M61 6h1M64 6h1M71 6h1M79 6h1M81 6h2M89 6h1M93 6h1M96 6h1M4 7h1M24 7h1M29 7h1M32 7h1M34 7h1M36 7h2M39 7h1M41 7h1M62 7h1M72 7h1M96 7h1M1 8h1M27 8h1M34 8h2M56 8h3M61 8h1M89 8h1M95 8h1M23 9h3M29 9h1M40 9h1M52 9h1M67 9h1M95 9h1M1 10h1M25 10h1M27 10h1M31 10h2M38 10h1M40 10h2M56 10h1M67 10h1M83 10h2M91 10h3M95 10h1M21 11h1M34 11h1M36 11h2M49 11h1M51 11h1M59 11h1M78 11h3M94 11h1M31 12h1M36 12h1M45 12h1M48 12h2M64 12h1M79 12h1M86 12h1M94 12h1M31 13h1M35 13h1M48 13h1M50 13h2M55 13h1M58 13h1M76 13h1M88 13h2M41 14h1M46 14h2M49 14h1M51 14h2M84 14h1M13 15h6M25 15h3M42 15h2M45 15h1M50 15h1M52 15h1M55 15h2M58 15h1M83 15h1M85 15h1M91 15h1M20 16h1M27 16h2M33 16h2M44 16h2M51 16h1M69 16h1M79 16h1M83 16h2M87 16h1M1 17h2M26 17h1M59 17h1M64 17h1M71 17h1M77 17h1M83 17h1M87 17h1M91 17h1M93 17h3M19 18h1M21 18h1M25 18h1M30 18h1M48 18h2M63 18h1M69 18h1M73 18h1M79 18h2M82 18h1M90 18h1M94 18h1M14 19h1M21 19h1M24 19h1M30 19h1M51 19h1M80 19h1M87 19h1M91 19h1M23 20h1M45 20h1M47 20h1M49 20h2M53 20h1M66 20h1M74 20h2M87 20h1M92 20h1M94 20h1M96 20h1M20 21h1M23 21h1M25 21h1M27 21h2M55 21h1M58 21h1M68 21h1M83 21h1M90 21h1M92 21h1M95 21h1M54 22h1M65 22h1M72 22h3M77 22h1M90 22h1M93 22h2M17 23h2M24 23h1M57 23h1M60 23h1M65 23h2M72 23h2M75 23h1M77 23h1M84 23h2M91 23h1M3 24h1M22 24h1M57 24h1M60 24h1M72 24h1M74 24h1M81 24h1M83 24h1M89 24h2M93 24h2M1 25h2M52 25h1M56 25h2M59 25h1M71 25h1M88 25h1M2 26h1M21 26h1M53 26h1M59 26h1M76 26h1M88 26h1M94 26h1M96 26h1M2 27h1M22 27h1M60 27h1M80 27h2M2 28h2M19 28h1M21 28h2M33 28h1M45 28h1M50 28h1M91 28h1M94 28h3M44 29h1M81 29h1M1 30h1M4 30h1M25 30h1M92 30h1M96 30h1M1 31h1M32 31h1M68 31h1M80 31h1M92 31h1M3 32h2M93 32h1M96 32h1M3 33h2M32 33h1M75 33h2M6 34h1M26 34h1M31 34h1M69 34h1M75 34h1M91 34h1M6 35h1M26 35h1M31 35h2M48 35h1M75 35h1M88 35h1M96 35h1M1 36h1M5 36h2M31 36h1M52 36h1M73 36h1M79 36h2M28 37h1M77 37h1M79 37h1M95 37h1M5 38h1M74 38h1M81 38h1M84 38h2M1 39h1M4 39h2M26 39h1M32 39h1M37 39h1M40 39h1M77 39h1M79 39h1M81 39h3M86 39h1M93 39h1M3 40h1M59 40h1M79 40h3M92 40h1M1 41h2M5 41h1M36 41h1M51 41h2M81 41h1M90 41h2M93 41h1M3 42h1M6 42h1M28 42h1M31 42h1M39 42h1M55 42h1M59 42h1M3 43h1M39 43h1M53 43h1M57 43h1M86 43h1M95 43h1M2 44h1M88 44h2M95 44h1M96 45h1M3 46h1M36 46h1M59 46h1M61 46h1M85 46h3M95 46h2M5 47h1M84 47h1M87 47h2M94 47h3M84 48h1M94 48h1M96 48h1M4 49h1M83 49h1M80 50h1M84 50h2M87 50h2M2 51h2M29 51h2M87 51h1M1 52h1M92 52h1M1 53h1M86 53h2M1 54h2M31 54h1M93 54h1M35 55h1M68 55h1M2 56h1M29 56h2M36 56h3M65 56h1M29 57h2M35 57h1M34 58h1M63 59h1M71 59h1M75 59h1M64 60h1M72 60h1M51 61h1M54 61h1M58 61h2M64 61h1M70 61h2M77 61h1M96 61h1M32 62h1M55 62h1M59 62h1M69 62h1M59 63h2M69 63h1M72 63h2M54 64h1M56 64h1M59 64h1M61 64h1M66 64h1M75 64h2M42 65h1M44 65h1M60 65h1M68 65h1M75 65h1M20 66h1M41 66h1M49 66h1M57 66h1M60 66h1M67 66h2M34 67h1M37 67h1M49 67h1M51 67h1M57 67h3M67 67h1M69 67h1M73 67h2M37 68h1M50 68h1M59 68h1M62 68h2M74 68h1M76 68h1M17 69h1M43 69h1M46 69h1M66 69h2M72 69h3M76 69h1M45 70h1M54 70h1M56 70h1M64 70h2M35 71h1M45 71h1M48 71h3M55 71h1M57 71h1M76 71h1M34 72h1M40 72h1M72 72h1M76 72h1M90 72h2"/>
<path stroke="#ffdfdf" d="M7 1h1M10 1h3M18 1h1M20 1h2M24 1h1M28 1h1M1 2h2M5 2h1M19 2h3M23 2h1M28 2h1M31 2h1M10 3h1M12 3h2M18 3h1M23 3h1M28 3h1M59 3h1M63 3h1M70 3h1M75 3h1M2 4h1M7 4h2M10 4h2M15 4h1M18 4h1M21 4h2M24 4h2M28 4h2M32 4h1M35 4h1M37 4h1M58 4h1M61 4h1M67 4h1M72 4h1M78 4h1M90 4h1M1 5h2M7 5h1M18 5h1M21 5h1M23 5h1M30 5h2M79 5h1M89 5h2M3 6h1M7 6h1M9 6h1M11 6h1M23 6h1M27 6h3M33 6h2M59 6h2M62 6h1M70 6h1M74 6h1M85 6h2M90 6h1M2 7h2M19 7h1M23 7h1M59 7h1M61 7h1M65 7h1M67 7h1M69 7h1M73 7h2M80 7h3M86 7h1M89 7h1M3 8h1M14 8h1M16 8h1M24 8h1M26 8h1M59 8h2M63 8h2M77 8h1M79 8h2M82 8h1M92 8h1M2 9h1M4 9h2M30 9h1M37 9h1M64 9h1M75 9h1M77 9h1M83 9h1M85 9h1M89 9h1M91 9h2M4 10h1M6 10h2M42 10h1M52 10h2M62 10h1M74 10h1M76 10h3M1 11h1M3 11h1M10 11h1M53 11h1M66 11h1M73 11h1M75 11h2M88 11h2M91 11h3M10 12h1M14 12h1M67 12h2M83 12h1M91 12h1M95 12h1M5 13h1M8 13h1M11 13h1M13 13h2M17 13h1M52 13h1M59 13h1M64 13h1M75 13h1M78 13h1M80 13h1M82 13h2M86 13h1M90 13h2M93 13h1M12 14h3M16 14h1M19 14h1M44 14h1M55 14h1M65 14h1M67 14h1M75 14h1M80 14h1M83 14h1M86 14h1M91 14h1M5 15h1M41 15h1M59 15h1M66 15h1M68 15h2M73 15h1M75 15h1M79 15h1M87 15h1M89 15h1M54 16h1M66 16h1M68 16h1M70 16h2M73 16h2M76 16h1M82 16h1M25 17h1M28 17h1M53 17h1M62 17h1M65 17h1M72 17h2M85 17h1M54 18h2M60 18h1M68 18h1M84 18h1M18 19h1M47 19h1M61 19h1M67 19h1M74 19h1M85 19h2M93 19h2M86 20h1M95 20h1M24 21h1M58 22h1M92 22h1M1 24h1M76 24h1M33 27h1M1 29h2M24 29h1M82 29h1M93 29h1M3 30h1M80 30h1M89 31h1M93 31h1M94 32h1M2 33h1M53 33h1M35 34h1M34 35h1M4 36h1M5 37h1M74 37h1M1 38h1M4 38h1M6 38h1M30 38h2M33 38h1M2 39h1M37 40h2M4 41h1M37 43h1M37 44h1M37 45h1M95 45h1M4 50h1M88 51h1M67 55h1M65 57h1M69 58h1M64 59h1M65 60h1M70 60h1M69 61h1M50 62h1M66 62h1M68 63h1M75 63h1M44 64h1M58 65h1M73 66h1M21 67h1M64 68h1M45 69h1M71 70h1M75 70h1M70 71h1M72 71h1M73 72h2"/>
<path stroke="#ffd7d7" d="M8 1h1M16 1h2M27 1h1M9 2h1M12 2h2M25 2h2M59 2h1M4 3h2M7 3h2M11 3h1M14 3h1M16 3h1M26 3h1M31 3h1M36 3h1M61 3h1M72 3h1M96 3h1M3 4h2M6 4h1M16 4h1M19 4h2M30 4h2M33 4h1M64 4h1M66 4h1M73 4h1M76 4h1M91 4h1M3 5h3M9 5h2M12 5h1M15 5h1M32 5h1M61 5h1M68 5h2M72 5h1M74 5h1M78 5h1M2 6h1M4 6h2M12 6h1M15 6h3M19 6h3M65 6h1M73 6h1M77 6h1M87 6h1M95 6h1M0 7h1M8 7h3M12 7h1M14 7h1M16 7h1M20 7h1M60 7h1M78 7h1M84 7h1M87 7h1M90 7h5M2 8h1M8 8h1M15 8h1M17 8h1M23 8h1M68 8h1M76 8h1M78 8h1M86 8h1M90 8h1M94 8h1M3 9h1M8 9h1M12 9h1M36 9h1M62 9h1M68 9h1M79 9h4M86 9h1M88 9h1M93 9h2M2 10h2M13 10h1M18 10h1M36 10h1M55 10h1M63 10h2M68 10h1M75 10h1M79 10h1M81 10h2M2 11h1M4 11h3M12 11h2M15 11h1M20 11h1M54 11h1M60 11h1M64 11h2M81 11h1M6 12h4M12 12h2M18 12h2M21 12h1M59 12h1M62 12h2M65 12h2M74 12h3M87 12h1M90 12h1M92 12h2M3 13h1M6 13h2M12 13h1M20 13h1M63 13h1M73 13h1M79 13h1M81 13h1M92 13h1M4 14h1M6 14h1M70 14h2M73 14h1M76 14h1M78 14h2M81 14h2M78 15h1M81 15h1M64 16h2M78 16h1M80 16h1M90 16h1M60 17h2M80 17h1M62 18h1M85 18h1M55 19h1M66 19h1M68 19h1M93 21h1M1 28h1M4 28h1M94 31h2M53 32h2M3 34h1M89 36h1M1 37h1M29 38h1M32 38h1M34 38h1M3 39h1M5 40h1M3 41h1M37 41h1M37 42h1M38 43h1M38 44h1M4 51h1M68 57h1M72 59h2M67 61h1M59 65h1M18 69h2M75 69h1M55 70h1"/>
<path stroke="#ffcfcf" d="M9 1h1M15 1h1M31 1h1M7 2h2M17 2h2M6 3h1M17 3h1M19 3h4M25 3h1M5 4h1M9 4h1M65 5h1M75 5h1M77 5h1M86 5h1M8 6h1M22 6h1M66 6h1M68 6h2M76 6h1M1 7h1M6 7h2M13 7h1M17 7h1M21 7h2M76 7h2M83 7h1M85 7h1M88 7h1M5 8h2M19 8h1M22 8h1M69 8h1M85 8h1M6 9h2M10 9h1M17 9h1M21 9h1M65 9h1M72 9h1M78 9h1M84 9h1M10 10h1M12 10h1M14 10h1M16 10h1M20 10h1M65 10h1M86 10h1M88 10h1M90 10h1M7 11h1M11 11h1M19 11h1M62 11h2M68 11h1M74 11h1M87 11h1M90 11h1M1 12h1M4 12h2M69 12h1M71 12h1M4 13h1M9 13h2M15 13h1M18 13h1M69 13h1M72 13h1M74 13h1M21 14h1M59 14h1M69 14h1M74 14h1M90 14h1M92 14h1M63 15h3M70 15h1M60 16h1M62 16h1M72 16h1M75 16h1M85 16h2M54 17h1M67 17h1M81 17h1M66 18h2M74 18h1M94 30h1M2 34h1M3 38h1M38 41h1M38 42h1M73 58h1M65 61h2M73 70h1"/>
<path stroke="#efefff" d="M91 1h3M56 2h1M91 2h1M53 3h1M42 4h1M44 4h1M50 4h1M52 4h1M55 4h1M40 5h3M44 5h1M56 5h1M51 6h1M43 7h1M53 8h1M33 9h1M29 11h1M29 12h1M42 12h1M24 13h1M27 13h2M23 14h1M18 16h1M23 16h1M31 16h1M42 16h1M48 16h1M17 17h1M33 17h1M33 18h1M71 18h1M96 18h1M71 19h2M77 19h1M26 20h1M60 20h1M62 20h1M64 20h1M70 20h1M76 20h1M78 20h2M84 20h1M46 21h1M69 21h1M76 21h2M79 21h1M15 22h1M50 22h1M63 22h1M69 22h1M79 22h1M21 23h1M27 23h1M46 23h1M56 23h1M68 23h1M25 24h1M47 24h1M49 24h1M51 24h1M53 24h2M56 24h1M58 24h1M63 24h1M65 24h1M69 24h1M18 25h1M44 25h1M48 25h2M63 25h1M65 25h2M68 25h1M78 25h1M47 26h1M64 26h1M78 26h1M47 27h2M55 27h3M78 27h1M28 28h1M49 28h1M58 28h2M63 28h1M66 28h1M75 28h1M89 28h2M53 29h2M58 29h1M77 29h1M49 30h1M51 30h1M23 31h1M44 31h1M49 31h1M61 31h1M75 31h1M5 32h1M50 32h2M61 32h1M90 32h1M48 33h1M56 33h1M78 33h1M93 33h1M29 34h1M55 34h1M29 35h1M51 35h1M53 35h1M57 35h1M82 35h1M93 35h1M29 36h1M51 36h1M58 36h2M86 36h1M52 37h1M55 37h2M59 37h2M91 37h1M39 38h1M55 38h1M59 38h1M86 38h2M90 38h1M92 38h1M29 39h1M56 39h1M58 39h1M90 39h1M92 39h1M56 40h3M86 40h1M91 40h1M95 40h1M29 41h1M55 41h1M85 41h1M96 41h1M56 42h1M61 42h1M87 42h1M90 42h1M31 43h1M82 43h2M5 44h1M35 44h1M79 44h2M83 44h1M30 45h2M53 45h1M55 45h1M92 45h2M53 46h1M91 46h1M51 47h1M76 47h1M81 47h1M29 48h1M76 48h2M80 48h1M56 49h1M55 50h1M79 51h1M94 51h2M77 52h1M95 52h2M91 53h1M96 54h1M3 55h1M36 55h1M94 55h1M32 56h1M93 56h1M40 57h1M39 58h1M92 58h1M31 59h1M57 60h1M76 60h1M81 60h1M80 61h1M82 61h1M87 61h1M87 62h1M93 62h2M30 63h1M47 63h1M94 63h1M32 64h1M77 64h1M94 64h2M15 65h1M62 65h1M90 65h1M93 65h1M21 66h1M47 66h1M53 66h1M90 66h4M42 67h1M54 67h1M72 67h1M96 67h1M22 68h1M41 68h1M55 68h1M67 68h1M93 68h1M96 68h1M34 69h1M49 69h1M61 69h1M61 70h1M90 70h1M42 71h1M60 71h1M86 71h2M89 71h1M94 71h2M3 72h2M22 72h1M30 72h3M46 72h1M54 72h1M59 72h1M63 72h1"/>
<path stroke="#f7f7ff" d="M94 1h2M42 2h1M54 2h1M63 2h1M73 2h2M41 3h1M43 3h1M56 3h1M40 4h1M54 4h1M29 5h1M51 5h3M38 6h1M43 6h1M52 6h2M42 7h1M53 7h2M39 8h1M96 8h1M39 9h1M96 9h1M33 10h2M96 10h1M26 11h1M30 11h1M38 11h1M23 12h2M28 12h1M25 13h2M34 13h1M41 13h1M45 13h1M47 13h1M32 15h2M47 15h1M16 16h2M22 16h1M24 16h1M47 16h1M56 16h1M18 17h1M47 17h1M17 18h1M23 18h1M34 18h1M57 18h1M27 19h1M29 19h1M49 19h1M64 19h1M70 19h1M73 19h1M2 20h1M16 20h1M57 20h1M65 20h1M77 20h1M80 20h2M83 20h1M1 21h1M17 21h1M19 21h1M21 21h1M26 21h1M45 21h1M48 21h1M57 21h1M60 21h2M63 21h1M74 21h1M78 21h1M1 22h1M17 22h1M22 22h1M27 22h2M46 22h1M48 22h1M55 22h1M70 22h1M76 22h1M82 22h1M85 22h1M89 22h1M1 23h1M22 23h1M48 23h1M52 23h1M63 23h2M69 23h2M80 23h1M82 23h1M94 23h3M19 24h1M26 24h2M48 24h1M50 24h1M52 24h1M55 24h1M62 24h1M66 24h3M78 24h2M91 24h1M95 24h1M25 25h1M50 25h1M54 25h1M67 25h1M70 25h1M73 25h1M79 25h1M17 26h1M19 26h1M43 26h1M48 26h2M62 26h1M65 26h1M68 26h1M71 26h1M73 26h1M80 26h1M89 26h1M19 27h1M27 27h2M54 27h1M59 27h1M64 27h4M71 27h1M73 27h1M29 28h2M32 28h1M47 28h1M52 28h3M56 28h1M61 28h2M77 28h2M27 29h1M29 29h1M33 29h1M43 29h1M57 29h1M59 29h1M62 29h1M72 29h1M75 29h1M88 29h3M21 30h2M27 30h2M50 30h1M53 30h1M56 30h1M60 30h1M62 30h1M67 30h2M74 30h3M91 30h1M5 31h1M25 31h1M28 31h1M47 31h2M50 31h1M55 31h3M59 31h2M77 31h2M90 31h1M25 32h1M27 32h2M33 32h1M44 32h2M56 32h1M62 32h2M67 32h1M80 32h1M82 32h1M5 33h1M30 33h1M52 33h1M59 33h1M62 33h1M70 33h1M81 33h1M90 33h1M92 33h1M52 34h1M56 34h1M59 34h1M61 34h2M78 34h1M80 34h1M92 34h2M55 35h1M58 35h1M76 35h1M78 35h1M80 35h2M85 35h1M92 35h1M27 36h2M32 36h1M36 36h1M55 36h1M57 36h1M87 36h1M93 36h1M27 37h1M37 37h1M53 37h1M73 37h1M86 37h1M27 38h1M37 38h2M51 38h2M56 38h3M89 38h1M93 38h1M36 39h1M50 39h1M75 39h1M91 39h1M6 40h1M27 40h1M29 40h1M31 40h1M33 40h1M55 40h1M76 40h1M85 40h1M88 40h1M90 40h1M27 41h2M30 41h2M54 41h1M83 41h1M86 41h1M94 41h1M29 42h1M33 42h1M50 42h1M85 42h1M92 42h2M95 42h1M1 43h1M4 43h1M35 43h1M61 43h1M85 43h1M4 44h1M28 44h2M53 44h1M62 44h1M4 45h2M33 45h2M51 45h1M54 45h1M56 45h1M60 45h1M76 45h1M79 45h1M85 45h1M91 45h1M28 46h1M31 46h1M51 46h1M54 46h1M58 46h1M75 46h1M78 46h1M82 46h1M92 46h1M30 47h2M34 47h1M74 47h1M77 47h1M79 47h1M89 47h1M33 48h1M52 48h1M54 48h1M57 48h1M74 48h1M78 48h1M82 48h1M89 48h1M92 48h2M29 49h1M33 49h1M35 49h1M78 49h1M80 49h3M93 49h1M28 50h1M52 50h1M75 50h2M78 50h2M81 50h1M92 50h1M28 51h1M31 51h2M75 51h3M93 51h1M96 51h1M29 52h1M74 52h3M94 52h1M27 53h2M92 53h1M27 54h2M87 54h1M92 54h1M0 55h1M2 55h1M30 55h1M65 55h1M91 55h1M96 55h1M33 56h1M91 56h1M96 56h1M27 57h1M66 57h1M91 57h1M2 58h2M28 58h2M33 58h1M35 58h2M41 58h1M30 59h1M37 59h1M68 59h1M56 60h1M58 60h2M79 60h1M82 60h1M84 60h3M90 60h1M31 61h2M55 61h2M62 61h1M93 61h1M95 61h1M61 62h1M78 62h1M91 62h1M95 62h1M48 63h1M51 63h1M56 63h1M62 63h1M64 63h1M91 63h1M93 63h1M47 64h1M62 64h1M32 65h1M46 65h2M49 65h1M53 65h1M70 65h1M77 65h1M17 66h2M32 66h1M46 66h1M48 66h1M51 66h2M54 66h1M64 66h1M22 67h1M36 67h1M38 67h1M41 67h1M47 67h2M55 67h1M77 67h1M88 67h1M38 68h1M43 68h1M46 68h1M77 68h1M87 68h1M33 69h1M35 69h1M40 69h1M47 69h1M50 69h1M62 69h1M31 70h1M34 70h1M37 70h2M40 70h2M48 70h2M52 70h1M62 70h1M31 71h4M37 71h3M43 71h1M52 71h1M59 71h1M62 71h1M64 71h1M93 71h1M38 72h2M43 72h2M47 72h1M52 72h1M58 72h1M89 72h1M94 72h1"/>
<path stroke="#e7e7ff" d="M96 1h1M42 3h1M54 3h1M41 4h1M43 4h1M56 4h1M52 7h1M31 15h1M23 17h1M35 17h1M72 20h1M15 21h2M47 21h1M81 21h1M47 22h1M16 23h1M45 23h1M49 23h1M53 23h1M62 23h1M16 24h1M46 24h1M64 24h1M46 25h2M64 25h1M69 25h1M44 26h1M46 26h1M70 26h1M29 27h1M58 27h1M27 28h1M31 28h1M55 28h1M67 28h1M60 29h2M70 29h2M78 29h1M57 30h3M90 30h1M49 32h1M60 33h1M79 34h1M56 35h1M79 35h1M56 36h1M92 36h1M50 38h1M53 38h1M96 38h1M55 39h1M87 39h1M96 39h1M34 41h1M56 41h2M95 41h1M27 42h1M32 43h3M96 43h1M30 44h3M82 44h1M32 45h1M80 45h1M52 46h1M76 46h1M81 46h1M93 46h1M52 47h1M75 47h1M78 47h1M81 48h1M75 49h1M27 51h1M53 51h1M27 52h1M30 53h1M93 55h1M92 56h1M93 57h1M93 58h1M67 59h1M55 60h1M83 60h1M81 61h1M83 61h2M89 61h1M90 62h1M88 63h3M96 63h1M90 64h3M16 65h1M19 65h1M23 65h1M89 65h1M92 65h1M15 66h1M22 66h1M25 66h1M43 66h1M3 67h1M16 67h1M43 67h1M86 67h1M94 67h2M16 68h1M47 68h1M68 68h1M88 68h1M90 68h1M94 68h1M4 69h1M21 69h1M31 69h2M51 69h1M86 69h1M90 69h1M94 69h1M5 70h1M18 70h1M30 70h1M88 70h1M91 70h1M94 70h2M0 71h1M3 71h2M30 71h1M91 71h2M6 72h1M8 72h1M21 72h1M23 72h2M26 72h2M29 72h1M37 72h1M53 72h1M65 72h1M78 72h1M87 72h1"/>
<path stroke="#ffc7c7" d="M14 2h1M16 2h1M62 4h2M6 5h1M62 5h1M67 5h1M76 5h1M87 5h1M1 6h1M11 7h1M15 7h1M7 8h1M9 8h4M20 8h2M70 8h1M81 8h1M83 8h2M87 8h2M9 9h1M14 9h2M18 9h3M11 10h1M15 10h1M17 10h1M69 10h1M72 10h1M87 10h1M18 11h1M61 11h1M69 11h1M16 12h1M70 12h1M73 12h1M70 13h2M72 14h1M71 15h1M79 17h1M93 30h1M2 36h1M3 37h1M35 38h1M17 68h1M21 68h1"/>
<path stroke="#ffbfbf" d="M15 2h1M15 3h1M65 4h1M66 5h1M10 6h1M67 6h1M93 8h1M11 9h1M69 9h1M87 9h1M19 10h1M16 11h1M70 11h3M2 12h2M17 12h1M60 12h1M72 12h1M16 13h1M62 14h1M72 15h1M86 15h1M61 16h1M63 16h1M74 17h1M75 19h1M2 35h1M18 67h1"/>
<path stroke="#ffffff" d="M60 2h1M66 2h4M71 2h1M89 2h1M93 2h1M39 3h1M52 3h1M55 3h1M57 3h1M77 3h1M91 3h1M93 3h1M39 4h1M51 4h1M53 4h1M57 4h1M38 5h2M54 5h2M25 6h1M39 6h1M54 6h1M25 7h1M30 7h1M40 7h1M55 7h2M28 8h2M33 8h1M42 8h2M51 8h2M55 8h1M0 9h1M34 9h1M38 9h1M43 9h2M54 9h1M0 10h1M28 10h2M25 11h1M27 11h2M32 11h1M42 11h1M47 11h1M56 11h1M84 11h1M96 11h1M25 12h3M30 12h1M37 12h1M46 12h1M54 12h1M23 13h1M29 13h1M32 13h1M36 13h1M42 13h2M53 13h2M56 13h1M85 13h1M22 14h1M24 14h1M30 14h2M42 14h1M54 14h1M56 14h2M85 14h1M22 15h1M30 15h1M48 15h1M84 15h1M13 16h1M15 16h1M21 16h1M30 16h1M43 16h1M52 16h1M14 17h1M16 17h1M20 17h3M24 17h1M27 17h1M30 17h1M34 17h1M49 17h1M56 17h1M69 17h1M2 18h1M26 18h4M50 18h2M56 18h1M70 18h1M92 18h1M1 19h2M16 19h2M20 19h1M28 19h1M48 19h1M58 19h1M65 19h1M76 19h1M78 19h2M84 19h1M14 20h1M25 20h1M27 20h1M46 20h1M48 20h1M51 20h1M56 20h1M58 20h1M61 20h1M71 20h1M73 20h1M89 20h1M2 21h1M14 21h1M22 21h1M49 21h1M54 21h1M59 21h1M62 21h1M64 21h1M66 21h1M70 21h2M73 21h1M82 21h1M86 21h1M89 21h1M2 22h1M21 22h1M26 22h1M29 22h1M45 22h1M57 22h1M60 22h3M67 22h1M78 22h1M86 22h1M95 22h1M19 23h1M26 23h1M28 23h1M47 23h1M50 23h2M54 23h1M61 23h1M78 23h2M83 23h1M17 24h1M20 24h2M23 24h1M45 24h1M61 24h1M70 24h2M21 25h1M23 25h2M26 25h1M45 25h1M51 25h1M53 25h1M55 25h1M58 25h1M72 25h1M80 25h1M91 25h1M18 26h1M20 26h1M27 26h1M50 26h1M58 26h1M60 26h2M63 26h1M66 26h2M75 26h1M91 26h1M20 27h1M43 27h2M49 27h1M51 27h1M53 27h1M62 27h2M72 27h1M74 27h2M89 27h1M26 28h1M44 28h1M46 28h1M48 28h1M60 28h1M72 28h2M76 28h1M79 28h1M81 28h1M88 28h1M21 29h1M30 29h1M32 29h1M48 29h1M50 29h3M56 29h1M63 29h1M74 29h1M80 29h1M91 29h1M23 30h1M26 30h1M29 30h1M31 30h3M44 30h1M47 30h1M52 30h1M54 30h1M61 30h1M63 30h1M69 30h1M73 30h1M77 30h1M81 30h1M89 30h1M24 31h1M26 31h2M33 31h1M43 31h1M45 31h2M58 31h1M62 31h1M67 31h1M81 31h2M91 31h1M29 32h1M43 32h1M46 32h2M55 32h1M58 32h1M60 32h1M68 32h1M70 32h1M78 32h2M89 32h1M91 32h1M25 33h1M28 33h2M34 33h1M44 33h3M49 33h1M51 33h1M55 33h1M61 33h1M68 33h1M71 33h1M73 33h1M77 33h1M79 33h2M82 33h1M89 33h1M5 34h1M28 34h1M30 34h1M46 34h1M51 34h1M53 34h2M58 34h1M60 34h1M70 34h1M73 34h1M76 34h2M81 34h2M27 35h1M30 35h1M46 35h1M52 35h1M54 35h1M61 35h1M73 35h1M77 35h1M94 35h2M30 36h1M33 36h1M53 36h2M76 36h1M78 36h1M81 36h3M85 36h1M91 36h1M94 36h1M96 36h1M33 37h1M50 37h2M54 37h1M57 37h2M75 37h2M82 37h1M85 37h1M87 37h1M90 37h1M92 37h1M94 37h1M96 37h1M25 38h1M54 38h1M76 38h5M83 38h1M88 38h1M95 38h1M27 39h2M33 39h1M51 39h4M57 39h1M59 39h1M76 39h1M78 39h1M85 39h1M88 39h2M94 39h2M1 40h1M30 40h1M34 40h2M54 40h1M78 40h1M82 40h1M35 41h1M60 41h3M92 41h1M1 42h2M32 42h1M51 42h1M57 42h1M60 42h1M62 42h1M82 42h1M84 42h1M89 42h1M91 42h1M94 42h1M2 43h1M5 43h1M29 43h2M50 43h1M52 43h1M59 43h1M62 43h1M80 43h1M92 43h3M36 44h1M51 44h1M84 44h1M86 44h1M92 44h2M2 45h1M28 45h2M35 45h1M61 45h1M74 45h2M78 45h1M82 45h1M94 45h1M29 46h2M55 46h3M60 46h1M74 46h1M77 46h1M94 46h1M2 47h2M28 47h2M32 47h2M35 47h1M53 47h1M55 47h1M60 47h1M83 47h1M90 47h4M1 48h3M28 48h1M32 48h1M35 48h1M53 48h1M75 48h1M83 48h1M91 48h1M1 49h1M31 49h1M34 49h1M74 49h1M76 49h1M79 49h1M86 49h2M89 49h1M96 49h1M1 50h1M29 50h1M32 50h1M34 50h1M82 50h1M93 50h1M96 50h1M33 51h1M74 51h1M80 51h1M92 51h1M2 52h1M28 52h1M32 52h1M85 52h1M29 53h1M31 53h1M95 53h1M29 54h2M32 54h1M66 54h2M95 54h1M27 55h3M31 55h1M33 55h1M66 55h1M92 55h1M95 55h1M1 56h1M3 56h1M31 56h1M35 56h1M66 56h1M31 57h3M94 57h1M1 58h1M4 58h1M30 58h3M37 58h2M40 58h1M94 58h1M96 58h1M29 59h1M33 59h1M38 59h1M66 59h1M76 59h1M60 60h1M68 60h2M73 60h1M75 60h1M80 60h1M87 60h1M89 60h1M91 60h1M57 61h1M61 61h1M63 61h1M73 61h2M79 61h1M88 61h1M92 61h1M94 61h1M51 62h1M56 62h2M62 62h2M73 62h1M76 62h1M96 62h1M31 63h1M49 63h1M52 63h1M61 63h1M63 63h1M65 63h1M70 63h2M74 63h1M77 63h1M95 63h1M46 64h1M48 64h1M51 64h1M57 64h1M63 64h1M65 64h1M70 64h2M48 65h1M50 65h1M52 65h1M54 65h1M56 65h1M61 65h1M71 65h1M76 65h1M19 66h1M39 66h2M50 66h1M55 66h2M61 66h3M65 66h1M71 66h2M75 66h2M87 66h1M32 67h2M39 67h2M44 67h1M46 67h1M50 67h1M56 67h1M65 67h1M76 67h1M87 67h1M32 68h1M34 68h1M39 68h2M42 68h1M54 68h1M66 68h1M71 68h1M75 68h1M38 69h1M42 69h1M48 69h1M53 69h1M57 69h2M60 69h1M63 69h1M68 69h1M87 69h1M32 70h2M35 70h1M42 70h1M46 70h2M50 70h1M59 70h2M63 70h1M67 70h2M76 70h1M40 71h2M44 71h1M58 71h1M61 71h1M63 71h1M65 71h1M67 71h1M77 71h1M90 71h1M33 72h1M36 72h1M51 72h1M56 72h1M60 72h1M64 72h1M66 72h1M92 72h1M95 72h1"/>
<path stroke="#dfdfff" d="M43 5h1M23 15h1M16 22h1M81 22h1M57 28h1M71 28h1M28 29h1M51 31h1M48 32h1M47 33h1M59 35h1M96 42h1M52 45h1M81 45h1M79 46h1M52 49h1M55 49h1M53 50h2M54 51h1M91 54h1M92 57h1M85 61h2M89 62h1M87 63h1M22 64h1M30 64h2M78 64h1M87 64h1M89 64h1M93 64h1M96 64h1M12 65h1M14 65h1M20 65h1M26 65h1M31 65h1M87 65h1M91 65h1M10 66h1M14 66h1M16 66h1M23 66h1M77 66h1M88 66h1M6 67h1M11 67h1M15 67h1M25 67h1M31 67h1M90 67h2M93 67h1M5 68h1M26 68h1M86 68h1M89 68h1M92 68h1M95 68h1M14 69h3M88 69h2M93 69h1M95 69h2M4 70h1M15 70h1M17 70h1M29 70h1M87 70h1M89 70h1M92 70h1M96 70h1M15 71h1M29 71h1M88 71h1M96 71h1M7 72h1M9 72h2M20 72h1M25 72h1M86 72h1M88 72h1M96 72h1"/>
<path stroke="#ffb7b7" d="M63 5h1M16 9h1M17 11h1M61 12h1M62 13h1M62 15h1M3 35h1M3 36h1M2 37h1M2 38h1"/>
<path stroke="#ffafaf" d="M64 5h1M71 8h1M60 15h1M75 18h1"/>
<path stroke="#ff9f9f" d="M70 9h1M61 15h1M75 17h1M20 67h1"/>
<path stroke="#ff9797" d="M71 9h1M71 10h1M61 13h1M60 14h1M18 68h1"/>
<path stroke="#ff8f8f" d="M70 10h1M20 68h1"/>
<path stroke="#ffa7a7" d="M60 13h1M61 14h1M19 67h1"/>
<path stroke="#d7d7ff" d="M80 21h1M69 26h1M70 28h1M67 29h1M69 29h1M91 38h1M34 44h1M81 44h1M80 46h1M80 47h1M53 49h1M90 61h1M79 62h1M86 62h1M88 62h1M78 63h1M88 64h1M13 65h1M17 65h2M21 65h1M24 65h2M27 65h1M78 65h1M88 65h1M8 66h2M24 66h1M26 66h1M31 66h1M89 66h1M8 67h1M23 67h1M26 67h2M78 67h1M89 67h1M1 68h1M3 68h1M6 68h1M12 68h1M15 68h1M23 68h1M30 68h1M78 68h1M85 68h1M91 68h1M3 69h1M7 69h1M25 69h2M78 69h1M91 69h2M1 70h1M3 70h1M6 70h1M8 70h1M14 70h1M19 70h1M93 70h1M1 71h1M6 71h1M8 71h1M24 71h2M28 71h1M5 72h1M12 72h1M14 72h2M19 72h1"/>
<path stroke="#c7c7ff" d="M80 22h1M69 27h2M68 29h1M33 44h1M81 62h1M85 62h1M79 64h1M82 64h1M28 65h1M79 65h1M84 65h1M86 65h1M83 66h1M0 67h1M7 67h1M12 67h2M24 67h1M28 67h1M30 67h1M2 68h1M25 68h1M2 69h1M8 69h1M30 69h1M27 70h1M78 70h1M2 71h1M13 71h1M16 71h1M19 71h1M22 71h1M78 71h1M2 72h1M17 72h2M79 72h2M84 72h1"/>
<path stroke="#cfcfff" d="M68 27h1M68 28h1M54 49h1M80 62h1M79 63h1M86 64h1M22 65h1M30 65h1M83 65h1M7 66h1M11 66h3M27 66h1M78 66h1M86 66h1M2 67h1M5 67h1M9 67h2M14 67h1M92 67h1M0 68h1M4 68h1M7 68h2M11 68h1M13 68h2M27 68h1M31 68h1M0 69h2M5 69h2M22 69h1M24 69h1M27 69h3M0 70h1M2 70h1M7 70h1M13 70h1M16 70h1M20 70h1M85 70h2M5 71h1M7 71h1M9 71h2M17 71h2M20 71h1M23 71h1M26 71h1M0 72h1M11 72h1M13 72h1M16 72h1M28 72h1"/>
<path stroke="#afafff" d="M69 28h1M81 63h2M85 64h1M81 65h1M79 66h2M29 67h1M82 67h1M84 67h1M83 68h1M80 69h2M12 70h1M79 70h1M81 70h1M80 71h2M83 72h1"/>
<path stroke="#bfbfff" d="M82 62h3M80 63h1M84 63h1M80 64h1M83 64h2M29 65h1M80 65h1M85 65h1M28 66h1M82 66h1M84 66h2M1 67h1M83 67h1M85 67h1M10 68h1M24 68h1M84 68h1M10 69h1M13 69h1M83 69h1M85 69h1M9 70h2M21 70h1M23 70h1M25 70h2M28 70h1M84 70h1M12 71h1M14 71h1M21 71h1M27 71h1M79 71h1M84 71h2M1 72h1M82 72h1"/>
<path stroke="#a7a7ff" d="M83 63h1M81 64h1M79 67h1M81 67h1M82 70h2M83 71h1"/>
<path stroke="#9f9fff" d="M85 63h1M30 66h1M80 67h1M81 68h2M79 69h1"/>
<path stroke="#b7b7ff" d="M86 63h1M82 65h1M29 66h1M81 66h1M4 67h1M9 68h1M28 68h2M79 68h1M9 69h1M11 69h2M23 69h1M82 69h1M84 69h1M11 70h1M22 70h1M24 70h1M80 70h1M11 71h1M82 71h1M81 72h1M85 72h1"/>
<path stroke="#ff7878" d="M19 68h1"/>
<path stroke="#9797ff" d="M80 68h1"/>
</g>
</g>
<use href="#cst"/>
</g>
<rect x="0" y="0" width="446.6" height="223.0" fill="none" stroke="#000" stroke-width="2.8"/><path d="M-8 0H0" stroke="#000" stroke-width="1.8"/><path d="M-15.5 37.2H0" stroke="#000" stroke-width="2.4"/><path d="M-8 74.3H0" stroke="#000" stroke-width="1.8"/><path d="M-15.5 111.5H0" stroke="#000" stroke-width="2.4"/><path d="M-8 148.7H0" stroke="#000" stroke-width="1.8"/><path d="M-15.5 185.8H0" stroke="#000" stroke-width="2.4"/><path d="M-8 223H0" stroke="#000" stroke-width="1.8"/><path d="M0 223V230.5" stroke="#000" stroke-width="1.8"/><path d="M37.2 223V230.5" stroke="#000" stroke-width="1.8"/><path d="M74.4 223V237.5" stroke="#000" stroke-width="2.2"/><path d="M111.7 223V230.5" stroke="#000" stroke-width="1.8"/><path d="M148.9 223V230.5" stroke="#000" stroke-width="1.8"/><path d="M186.1 223V230.5" stroke="#000" stroke-width="1.8"/><path d="M223.3 223V237.5" stroke="#000" stroke-width="2.2"/><path d="M260.5 223V230.5" stroke="#000" stroke-width="1.8"/><path d="M297.7 223V230.5" stroke="#000" stroke-width="1.8"/><path d="M335 223V230.5" stroke="#000" stroke-width="1.8"/><path d="M372.2 223V237.5" stroke="#000" stroke-width="2.2"/><path d="M409.4 223V230.5" stroke="#000" stroke-width="1.8"/><path d="M446.6 223V230.5" stroke="#000" stroke-width="1.8"/>
</g>
<g transform="translate(1485.0 884.4)">
<g clip-path="url(#cp)">
<rect width="446.6" height="223.0" fill="#bebebe"/>
<g shape-rendering="crispEdges">
<g transform="translate(-2.326 0) scale(4.6521 3.0972)" fill="none" stroke-width="1.03">
<path stroke="#fff7f7" d="M1 1h31M1 2h4M1 3h3M51 3h27M89 3h7M1 4h3M40 4h5M50 4h29M89 4h8M1 5h4M40 5h5M96 5h1M2 6h3M39 6h5M1 7h4M39 7h5M0 8h4M39 8h5M0 9h3M39 9h6M0 10h3M40 10h6M0 11h2M42 11h3M42 12h4M43 13h2M43 14h2M43 15h2M89 15h3M43 16h2M90 16h1M87 17h1M87 18h1M87 19h1M87 20h1M87 21h1M59 23h6M44 24h1M58 24h15M1 25h1M44 25h1M57 25h11M71 25h3M1 26h2M43 26h2M56 26h5M73 26h9M1 27h2M43 27h16M74 27h8M1 28h2M43 28h15M75 28h7M1 29h2M43 29h15M76 29h7M88 29h9M1 30h3M43 30h15M77 30h5M88 30h2M96 30h1M1 31h4M43 31h15M77 31h6M88 31h1M2 32h4M43 32h13M77 32h6M88 32h1M4 33h3M33 33h2M44 33h6M77 33h6M88 33h1M27 34h9M45 34h4M77 34h6M88 34h1M26 35h10M46 35h1M76 35h7M84 35h2M88 35h1M26 36h12M76 36h5M82 36h7M26 37h13M76 37h1M85 37h4M26 38h14M86 38h3M26 39h14M87 39h3M26 40h14M88 40h2M27 41h13M89 41h2M27 42h13M89 42h2M28 43h12M90 43h1M28 44h11M89 44h2M28 45h11M89 45h2M28 46h10M89 46h2M28 47h9M89 47h2M28 48h9M90 48h2M96 48h1M28 49h8M91 49h6M28 50h7M93 50h3M27 51h8M0 52h1M27 52h7M0 53h1M27 53h6M0 54h1M27 54h6M0 55h1M27 55h12M1 56h4M27 56h13M1 57h4M27 57h13M1 58h4M28 58h12M29 59h3M33 59h1M37 59h2M41 66h1M0 67h1M41 67h1M0 68h1M41 68h1M0 69h1M41 69h1M0 70h1M41 70h1M0 71h1M41 71h1M0 72h42"/>
<path stroke="#ffffff" d="M32 1h5M89 1h8M5 2h38M54 2h21M89 2h8M4 3h40M96 3h1M4 4h36M5 5h28M34 5h6M5 6h28M35 6h4M5 7h6M26 7h7M35 7h4M4 8h5M29 8h3M35 8h4M3 9h5M35 9h4M3 10h5M35 10h5M2 11h5M35 11h4M0 12h5M35 12h3M41 12h1M0 13h4M36 13h1M41 13h2M41 14h2M41 15h2M41 16h2M1 17h2M91 17h6M1 18h2M90 18h7M1 19h2M90 19h7M1 20h2M89 20h8M1 21h2M89 21h8M1 22h2M89 22h8M1 23h2M89 23h8M1 24h3M88 24h9M2 25h2M68 25h3M88 25h3M96 25h1M3 26h1M61 26h12M88 26h2M3 27h1M59 27h7M72 27h2M88 27h2M3 28h2M58 28h5M73 28h2M88 28h9M3 29h2M58 29h5M73 29h3M4 30h1M58 30h5M73 30h4M5 31h1M58 31h5M73 31h4M26 32h8M56 32h8M73 32h4M25 33h8M50 33h13M73 33h4M26 34h1M49 34h2M73 34h4M47 35h2M73 35h3M73 36h3M81 36h1M73 37h3M77 37h8M25 38h1M74 38h12M40 39h1M75 39h12M76 40h12M86 41h3M87 42h1M87 43h2M87 44h2M87 45h2M87 46h2M88 47h1M88 48h2M89 49h2M92 50h1M96 50h1M92 51h5M92 52h5M91 53h6M66 54h2M87 54h1M91 54h6M65 55h4M91 55h6M65 56h4M91 56h6M40 57h1M65 57h5M91 57h6M40 58h2M94 58h3M96 61h1M96 62h1M96 63h1M96 64h1M42 65h1M42 66h1M42 67h1M96 67h1M42 68h1M96 68h1M42 69h1M96 69h1M42 70h1M96 70h1M42 71h1M96 71h1M42 72h1M96 72h1"/>
<path stroke="#f7f7ff" d="M33 5h1M33 6h2M11 7h15M33 7h2M9 8h20M32 8h3M8 9h27M8 10h2M27 10h8M7 11h3M28 11h7M5 12h5M28 12h7M4 13h5M29 13h7M4 14h3M5 15h1M91 25h5M90 26h7M66 27h6M90 27h7M63 28h2M66 28h7M63 29h2M67 29h6M31 30h3M63 30h1M67 30h4M26 31h8M67 31h2M70 31h1M24 32h2M67 32h4M68 33h4M51 34h12M69 34h2M50 35h12M80 41h6M80 42h7M79 43h8M78 44h9M81 45h6M81 46h6M82 47h6M82 48h6M82 49h7M82 50h8M53 51h2M84 51h6M74 52h1M85 52h4M86 53h3M66 58h8M92 58h2M95 61h1M95 62h1M95 63h1M95 64h1M43 65h1M43 66h1M43 67h1M95 67h1M43 68h1M95 68h1M43 69h1M95 69h1M43 70h1M95 70h1M43 71h1M95 71h1M43 72h1M94 72h2"/>
<path stroke="#ffefef" d="M51 5h29M86 5h2M89 5h7M1 6h1M51 6h32M84 6h13M0 7h1M52 7h45M51 8h46M51 9h46M50 10h47M47 11h1M49 11h48M46 12h50M45 13h50M45 14h42M89 14h4M45 15h43M45 16h43M46 17h41M46 18h41M45 19h42M45 20h42M45 21h42M45 22h8M54 22h33M45 23h14M65 23h21M45 24h13M73 24h11M45 25h12M74 25h8M45 26h11M90 30h6M89 31h8M1 32h1M89 32h8M1 33h3M89 33h8M1 34h6M89 34h8M1 35h6M89 35h8M1 36h6M89 36h8M1 37h6M89 37h8M1 38h6M89 38h8M1 39h6M90 39h7M1 40h6M90 40h7M1 41h6M91 41h6M1 42h6M91 42h6M1 43h5M91 43h6M1 44h5M91 44h6M1 45h5M91 45h6M1 46h5M91 46h6M1 47h5M91 47h6M1 48h4M92 48h4M1 49h4M1 50h4M1 51h4M1 52h2M1 53h3M1 54h3M1 55h4M31 61h2M31 62h2M30 63h3M22 64h1M30 64h3M12 65h21M7 66h26M39 66h2M1 67h40M1 68h40M1 69h40M1 70h40M1 71h40"/>
<path stroke="#efefff" d="M10 10h17M10 11h18M10 12h18M9 13h20M12 14h22M13 15h22M13 16h22M14 17h22M14 18h21M14 19h18M14 20h16M14 21h16M15 22h15M16 23h13M16 24h12M17 25h10M17 26h6M27 26h1M18 27h5M26 27h8M19 28h6M26 28h8M20 29h6M27 29h7M21 30h10M23 31h3M69 31h1M50 36h12M50 37h11M50 38h10M50 39h10M51 40h11M51 41h12M50 42h13M50 43h13M51 44h12M51 45h12M74 45h7M51 46h11M74 46h7M51 47h7M60 47h1M74 47h8M52 48h6M74 48h8M52 49h5M74 49h8M52 50h4M74 50h8M74 51h4M79 51h2M75 52h3M62 59h15M55 60h37M47 61h48M47 62h1M91 62h4M92 63h3M44 64h3M92 64h3M44 65h3M92 65h2M44 66h3M92 66h2M44 67h3M92 67h3M44 68h3M92 68h3M44 69h3M92 69h3M44 70h4M91 70h4M44 71h51M44 72h50"/>
<path stroke="#e7e7ff" d="M48 62h43M47 63h45M47 64h45M47 65h45M47 66h45M47 67h45M47 68h45M47 69h45M48 70h43"/>
</g>
</g>
<use href="#cst"/>
</g>
<rect x="0" y="0" width="446.6" height="223.0" fill="none" stroke="#000" stroke-width="2.8"/><path d="M-8 0H0" stroke="#000" stroke-width="1.8"/><path d="M-15.5 37.2H0" stroke="#000" stroke-width="2.4"/><path d="M-8 74.3H0" stroke="#000" stroke-width="1.8"/><path d="M-15.5 111.5H0" stroke="#000" stroke-width="2.4"/><path d="M-8 148.7H0" stroke="#000" stroke-width="1.8"/><path d="M-15.5 185.8H0" stroke="#000" stroke-width="2.4"/><path d="M-8 223H0" stroke="#000" stroke-width="1.8"/><path d="M0 223V230.5" stroke="#000" stroke-width="1.8"/><path d="M37.2 223V230.5" stroke="#000" stroke-width="1.8"/><path d="M74.4 223V237.5" stroke="#000" stroke-width="2.2"/><path d="M111.7 223V230.5" stroke="#000" stroke-width="1.8"/><path d="M148.9 223V230.5" stroke="#000" stroke-width="1.8"/><path d="M186.1 223V230.5" stroke="#000" stroke-width="1.8"/><path d="M223.3 223V237.5" stroke="#000" stroke-width="2.2"/><path d="M260.5 223V230.5" stroke="#000" stroke-width="1.8"/><path d="M297.7 223V230.5" stroke="#000" stroke-width="1.8"/><path d="M335 223V230.5" stroke="#000" stroke-width="1.8"/><path d="M372.2 223V237.5" stroke="#000" stroke-width="2.2"/><path d="M409.4 223V230.5" stroke="#000" stroke-width="1.8"/><path d="M446.6 223V230.5" stroke="#000" stroke-width="1.8"/>
</g>
<g transform="translate(70.8 1156.4)">
<g clip-path="url(#cp)">
<g shape-rendering="crispEdges">
<g transform="translate(-2.326 0) scale(4.6521 3.0972)" fill="none" stroke-width="1.03">
<path stroke="#89d0c6" d="M0 0h97M0 1h97"/>
<path stroke="#83ccc2" d="M0 2h97"/>
<path stroke="#7dc8be" d="M0 3h97M0 4h42M64 4h3M72 4h25"/>
<path stroke="#73c0bc" d="M42 4h22M67 4h5M0 5h43M63 5h5M71 5h26M84 66h1M88 66h1M83 67h1M89 67h1M83 68h1M88 68h2M82 69h9M0 70h81M92 70h5"/>
<path stroke="#69b8ba" d="M43 5h20M68 5h3M90 66h1M0 67h80M93 67h4"/>
<path stroke="#66b6ba" d="M0 6h44M63 6h6M70 6h27M85 65h2M81 66h1M91 66h1"/>
<path stroke="#64a8c0" d="M44 6h19M69 6h1M82 65h1"/>
<path stroke="#649bc8" d="M0 7h56M63 7h9M83 7h14M0 65h29M44 65h37M92 65h5"/>
<path stroke="#558496" d="M56 7h7M76 8h4M82 64h1M90 64h1"/>
<path stroke="#649fc6" d="M72 7h11M81 65h1M91 65h1"/>
<path stroke="#508555" d="M0 8h26M55 8h1M63 8h7M85 8h12M29 65h15"/>
<path stroke="#4d8458" d="M26 8h11M44 8h11M70 8h3M83 8h2M0 64h30M45 64h33M95 64h2"/>
<path stroke="#49835c" d="M37 8h7M73 8h3M80 8h3M78 64h4M91 64h4"/>
<path stroke="#5b884a" d="M56 8h1M33 9h15M74 9h1M80 9h2M0 63h2M4 63h25M66 63h7M74 63h10M89 63h8"/>
<path stroke="#5e8947" d="M57 8h6M30 9h3M48 9h3M73 9h1M82 9h1M30 64h15"/>
<path stroke="#739030" d="M0 9h11M91 9h6M24 10h3M54 10h2M71 10h1M84 10h1"/>
<path stroke="#6c8d39" d="M11 9h3M89 9h2M32 10h3M46 10h3M74 10h1M80 10h2M0 62h2M4 62h25M67 62h5M75 62h22"/>
<path stroke="#698c3c" d="M14 9h8M63 9h6M86 9h3M35 10h11M75 10h2M78 10h2M2 63h2M29 63h37M73 63h1"/>
<path stroke="#658b40" d="M22 9h4M55 9h1M58 9h1M69 9h2M84 9h2M77 10h1"/>
<path stroke="#628a43" d="M26 9h4M51 9h4M71 9h2M83 9h1"/>
<path stroke="#6e8e36" d="M56 9h2M29 10h3M49 10h3M73 10h1M82 10h1"/>
<path stroke="#708f33" d="M59 9h4M27 10h2M52 10h2M72 10h1M83 10h1M2 62h2M29 62h38M72 62h3"/>
<path stroke="#57874e" d="M75 9h5M84 63h5"/>
<path stroke="#809521" d="M0 10h11M90 10h7M26 11h4M52 11h3M71 11h2M83 11h1"/>
<path stroke="#7a9327" d="M11 10h3M59 10h2M89 10h1M34 11h7M42 11h5M74 11h2M80 11h2"/>
<path stroke="#78922a" d="M14 10h6M56 10h1M64 10h5M86 10h3M76 11h4M0 61h5M13 61h65M91 61h2"/>
<path stroke="#76912d" d="M20 10h4M57 10h2M69 10h2M85 10h1M5 61h8M78 61h13M93 61h4"/>
<path stroke="#7d9424" d="M61 10h3M30 11h4M41 11h1M47 11h4M73 11h1M82 11h1M5 60h7M79 60h11M94 60h3"/>
<path stroke="#969c1b" d="M0 11h15M89 11h8M73 12h4M79 12h3M0 59h31M32 59h47M92 59h5"/>
<path stroke="#8f9a1c" d="M15 11h6M61 11h3M86 11h3M77 12h2M31 59h1M79 59h13"/>
<path stroke="#88981d" d="M21 11h1M59 11h2M64 11h5"/>
<path stroke="#82961e" d="M22 11h4M51 11h1M55 11h4M69 11h2M84 11h2M0 60h5M12 60h67M90 60h4"/>
<path stroke="#a9a218" d="M0 12h9M92 12h5M0 58h97"/>
<path stroke="#a2a019" d="M9 12h18M54 12h16M85 12h7"/>
<path stroke="#9c9e1a" d="M27 12h27M70 12h3M82 12h3"/>
<path stroke="#b6a616" d="M0 13h76M80 13h17"/>
<path stroke="#b0a417" d="M76 13h4"/>
<path stroke="#c3aa14" d="M0 14h22M41 14h1M48 14h3M63 14h4M86 14h11"/>
<path stroke="#c8ac13" d="M22 14h19M42 14h6M51 14h12M67 14h19"/>
<path stroke="#cdad12" d="M0 15h22M41 15h1M45 15h6M63 15h3M86 15h11"/>
<path stroke="#d2ae11" d="M22 15h2M39 15h2M42 15h3M51 15h2M61 15h2M66 15h2M84 15h2M0 56h97"/>
<path stroke="#d7b010" d="M24 15h15M53 15h8M68 15h16M0 16h22M40 16h3M44 16h7M63 16h2M85 16h12"/>
<path stroke="#e1b30e" d="M22 16h4M30 16h10M51 16h11M66 16h19M0 17h21M41 17h10M63 17h1M85 17h12M0 55h31M34 55h19M55 55h24M92 55h5"/>
<path stroke="#e6b40d" d="M26 16h1M29 16h1M21 17h1M62 17h1M64 17h1M31 55h3M53 55h2M79 55h13"/>
<path stroke="#ebb60c" d="M27 16h2M22 17h1M39 17h2M51 17h2M61 17h1M65 17h1M83 17h2M0 18h21M41 18h6M50 18h1M62 18h2M85 18h12M0 54h30M35 54h17M56 54h22M93 54h4"/>
<path stroke="#dcb20f" d="M43 16h1M62 16h1M65 16h1"/>
<path stroke="#f0b80b" d="M23 17h3M30 17h9M53 17h8M66 17h17M21 18h1M47 18h1M84 18h1M78 54h1"/>
<path stroke="#f4b40b" d="M26 17h1M22 18h3M30 18h10M52 18h9M65 18h19M41 19h1M60 19h1M64 19h1M0 20h22M42 20h5M56 20h9M84 20h13M0 53h26M36 53h15M57 53h22M93 53h4M32 54h1M53 54h1M80 54h11"/>
<path stroke="#f4ac0d" d="M27 17h2M22 19h3M31 19h10M48 19h3M52 19h4M65 19h18M41 20h1M0 21h22M41 21h6M56 21h9M83 21h14M56 22h2M0 52h27M38 52h13M57 52h23M93 52h4M30 53h1M35 53h1M55 53h1M92 53h1"/>
<path stroke="#f5b90a" d="M29 17h1M40 18h1M48 18h2M51 18h1M61 18h1M64 18h1M0 19h22M42 19h5M51 19h1M61 19h3M84 19h13M26 53h4M30 54h2M33 54h2M52 54h1M54 54h2M79 54h1M91 54h2"/>
<path stroke="#f4b00c" d="M25 18h1M47 19h1M56 19h4M83 19h1M27 52h3M51 53h1M56 53h1M79 53h1"/>
<path stroke="#f3a70e" d="M26 18h1M29 18h1M25 19h1M30 19h1M22 20h1M47 20h1M55 20h1M83 20h1M56 23h2M27 51h3M31 53h4M52 53h3M80 53h12"/>
<path stroke="#f19512" d="M27 18h2M26 20h1M23 21h3M30 21h6M50 21h3M66 21h4M73 21h9M53 22h1M55 24h1M57 24h1M25 50h1M32 52h3M53 52h3M81 52h10"/>
<path stroke="#f29e10" d="M26 19h1M29 19h1M23 20h3M30 20h10M48 20h3M66 20h16M22 21h1M39 21h2M47 21h1M54 21h1M65 21h1M82 21h1M54 22h1M59 22h1M58 23h1M28 49h1M23 51h3M37 52h1M51 52h1M80 52h1"/>
<path stroke="#f08c14" d="M27 19h2M27 20h2M27 21h2M34 22h1M51 22h1M66 22h1M23 23h1M34 23h1M60 23h2M81 23h1M0 24h24M29 24h1M33 24h13M63 24h3M81 24h16M25 28h1M27 48h3M0 50h24M39 50h12M58 50h23M91 50h6M38 51h1M57 51h1M80 51h1M91 51h1"/>
<path stroke="#f29a11" d="M29 20h1M36 21h3M53 21h1M60 22h1M0 23h23M35 23h12M54 23h1M62 23h4M82 23h15M56 24h1M27 49h1M29 49h1M26 50h1M30 50h1M0 51h23M39 51h12M58 51h22M92 51h5M31 52h1M35 52h2M52 52h1M56 52h1M91 52h1"/>
<path stroke="#f2a20f" d="M40 20h1M51 20h4M65 20h1M82 20h1M55 21h1M0 22h23M36 22h12M55 22h1M58 22h1M61 22h5M82 22h15M55 23h1M27 50h3M26 51h1M30 51h1M30 52h1M92 52h1"/>
<path stroke="#f09013" d="M26 21h1M29 21h1M48 21h2M70 21h3M23 22h1M35 22h1M52 22h1M81 22h1M53 23h1M59 23h1M54 24h1M58 24h1M26 28h1M25 29h2M26 49h1M30 49h1M24 50h1"/>
<path stroke="#ef8615" d="M24 22h10M67 22h2M73 22h8M52 23h1M53 24h1M59 24h1M26 27h1M25 49h1M51 51h1"/>
<path stroke="#ea681a" d="M48 22h1M68 24h1M51 25h1M60 25h2M80 25h1M64 26h1M46 35h1M58 41h1M58 42h1M26 47h1M30 47h1M49 47h1M0 48h24M41 48h4M59 48h24M89 48h8M31 50h1M51 50h1M57 50h1"/>
<path stroke="#eb6e19" d="M49 22h1M50 23h1M69 23h1M51 24h1M67 24h1M74 24h6M24 25h4M59 25h1M62 25h1M65 25h1M0 26h26M27 26h21M52 26h2M63 26h1M81 26h16M47 46h2M27 47h3M46 47h1M24 48h1M45 48h1M50 48h1M81 50h1M90 50h1"/>
<path stroke="#ee8016" d="M50 22h1M69 22h1M24 23h1M29 23h1M32 23h2M51 23h1M66 23h1M80 23h1M62 24h1M0 25h24M28 25h3M32 25h15M52 25h1M56 25h1M63 25h2M81 25h16M27 28h1M25 30h1M26 48h1M30 48h1M24 49h1M46 49h4M31 51h1M37 51h1M81 51h1M90 51h1"/>
<path stroke="#ed7a17" d="M70 22h3M25 23h4M30 23h2M67 23h2M74 23h6M28 24h1M30 24h1M32 24h1M46 24h1M52 24h1M60 24h2M55 25h1M57 25h1M25 27h1M27 29h1M26 30h1M47 48h2M0 49h24M40 49h6M50 49h1M58 49h24M90 49h7M32 51h5M52 51h5M82 51h8"/>
<path stroke="#e85c1c" d="M47 23h1M70 23h1M50 24h1M69 24h1M73 24h1M50 25h1M68 25h1M74 25h1M59 26h3M65 26h1M28 28h1M52 36h1M57 41h1M47 45h2M45 46h1M0 47h25M41 47h4M59 47h24M87 47h10M52 50h1M56 50h1M82 50h1M89 50h1"/>
<path stroke="#d44718" d="M48 23h1M72 25h1M72 26h1M70 27h1M72 27h1M67 28h1M70 28h3M75 28h1M47 29h1M59 46h1M84 47h2M39 48h1M57 48h1M86 48h1"/>
<path stroke="#dd4c1b" d="M49 23h1M72 24h1M68 27h1M73 27h4M78 27h1M53 28h1M79 28h1M58 29h2M27 31h1M0 33h33M36 33h9M61 33h5M71 33h4M81 33h16M45 36h1M58 40h1M46 42h4M0 43h31M43 43h3M49 43h1M60 43h37M83 47h1M38 49h1M83 49h1"/>
<path stroke="#e6501e" d="M71 23h1M73 25h1M48 26h2M68 26h1M74 26h1M76 26h2M47 27h1M29 28h1M0 29h25M30 29h16M54 29h4M60 29h6M79 29h18M45 35h1M46 36h1M47 44h1M45 45h1M50 45h1M0 46h26M42 46h3M60 46h37M39 49h1"/>
<path stroke="#e9621b" d="M72 23h1M66 25h2M75 25h5M54 26h5M62 26h1M80 26h1M0 27h24M28 27h19M53 27h1M56 27h4M62 27h3M80 27h17M27 30h1M51 37h1M57 42h1M46 46h1M49 46h1M25 47h1M45 47h1M50 47h1M38 50h1"/>
<path stroke="#ec7418" d="M73 23h1M24 24h4M31 24h1M66 24h1M80 24h1M31 25h1M53 25h2M58 25h1M26 26h1M24 27h1M27 27h1M52 37h1M47 47h2M25 48h1M46 48h1M49 48h1"/>
<path stroke="#e04d1c" d="M47 24h1M49 25h1M69 26h1M73 26h1M48 27h4M66 27h2M65 28h1M29 29h1M28 30h1M0 31h26M30 31h15M61 31h5M79 31h18M0 32h27M29 32h16M61 32h5M72 32h1M80 32h17M52 38h1M46 43h3M57 43h1M0 44h31M43 44h2M50 44h1M60 44h37M40 48h1M58 48h1M88 48h1M57 49h1M88 49h1"/>
<path stroke="#c84114" d="M48 24h1M75 30h1M78 30h1M46 31h1M51 31h3M58 31h2M69 31h3M74 31h1M70 32h1M70 33h1M60 34h1M76 34h1M47 35h1M60 35h1M31 36h1M37 36h1M47 36h1M50 36h1M60 36h1M66 36h1M50 37h1M66 37h1M30 38h1M68 38h1M57 39h1M66 39h1M59 41h2M31 45h1M58 46h1M32 47h3M39 47h1M52 47h1M55 47h3M36 48h2"/>
<path stroke="#d74819" d="M49 24h1M48 28h5M66 28h1M68 28h2M73 28h2M53 29h1M45 30h1M57 30h1M60 30h1M28 31h1M28 32h1M45 34h2M51 38h1M36 49h2"/>
<path stroke="#da4a1a" d="M70 24h1M48 25h1M69 27h1M77 27h1M47 28h1M46 29h1M29 30h1M29 31h1M27 32h1M0 34h32M37 34h8M61 34h5M71 34h5M82 34h15M0 35h31M38 35h7M61 35h5M70 35h6M82 35h15M0 36h31M38 36h7M61 36h5M69 36h8M82 36h15M0 37h30M39 37h6M61 37h5M69 37h9M81 37h16M0 38h30M40 38h5M61 38h5M69 38h28M0 39h30M40 39h6M61 39h5M69 39h28M0 40h30M42 40h7M57 40h1M61 40h5M68 40h29M0 41h30M43 41h6M61 41h6M68 41h29M0 42h30M43 42h3M61 42h36M86 47h1M31 48h1M51 48h1M83 48h1M87 48h1M32 49h4M52 49h5M84 49h4"/>
<path stroke="#d14617" d="M71 24h1M70 25h1M70 26h1M71 27h1M78 28h1M48 29h5M68 29h7M53 30h1M58 30h2M45 31h1M60 31h1M73 32h1M33 33h1M35 33h1M52 35h1M67 41h1M42 45h1M41 46h1M31 47h1M40 47h1M51 47h1M58 47h1M32 48h2M52 48h1M54 48h3M84 48h2"/>
<path stroke="#e7561d" d="M47 25h1M50 26h2M66 26h2M75 26h1M78 26h2M54 27h2M60 27h2M0 28h25M30 28h17M54 28h11M80 28h17M28 29h1M26 31h1M46 45h1M49 45h1M26 46h5M50 46h1M82 49h1M89 49h1M32 50h6M53 50h3M83 50h6"/>
<path stroke="#e34e1d" d="M69 25h1M52 27h1M65 27h1M79 27h1M0 30h25M30 30h15M54 30h3M61 30h5M79 30h18M51 36h1M58 43h1M45 44h2M48 44h2M0 45h31M43 45h2M60 45h37M31 49h1M51 49h1"/>
<path stroke="#c33f14" d="M71 25h1M76 29h1M66 30h1M50 31h1M68 31h1M75 31h1M78 31h1M51 32h4M57 32h3M69 32h1M75 32h1M78 32h1M79 33h1M33 34h1M35 34h1M66 34h1M69 34h1M80 34h1M66 35h1M68 36h1M80 36h1M60 37h1M68 37h1M53 38h1M60 38h1M66 38h1M30 39h1M39 39h1M47 39h1M51 39h2M60 39h1M30 40h1M59 40h2M30 41h1M56 41h1M42 42h1M56 42h1M42 43h1M31 44h1M41 45h1M51 45h1M57 45h2M32 46h1M40 46h1M57 46h1M53 47h2"/>
<path stroke="#cb4215" d="M71 26h1M77 28h1M78 29h1M47 30h4M68 30h2M74 30h1M54 31h1M56 31h2M72 31h2M45 32h1M60 32h1M74 32h1M45 33h1M60 33h1M32 34h1M36 34h1M69 35h1M81 35h1M53 36h1M77 36h1M38 37h1M46 37h1M79 37h1M39 38h1M46 39h1M58 39h1M68 39h1M41 40h1M67 40h1M42 41h1M49 41h1M30 42h1M59 42h1M50 43h1M59 43h1M42 44h1M59 44h1M31 46h1M51 46h1"/>
<path stroke="#ce4416" d="M76 28h1M66 29h2M75 29h1M46 30h1M51 30h2M70 30h4M55 31h1M71 32h1M79 32h1M34 33h1M75 33h1M80 33h1M70 34h1M81 34h1M31 35h1M37 35h1M51 35h1M76 35h1M81 36h1M30 37h1M45 37h1M53 37h1M78 37h1M80 37h1M45 38h1M66 40h1M60 42h1M57 44h2M59 45h1M34 48h2M38 48h1M53 48h1"/>
<path stroke="#b93b12" d="M77 29h1M76 30h1M49 31h1M76 31h1M50 32h1M77 32h1M54 33h1M57 33h1M66 33h1M53 34h1M58 34h1M67 34h2M78 34h1M33 35h3M58 35h1M67 35h1M78 35h2M32 36h5M48 36h2M58 36h1M32 37h1M35 37h2M48 37h2M58 37h2M31 38h1M37 38h1M47 38h3M57 38h1M59 38h1M67 38h1M49 39h2M53 39h1M56 39h1M41 41h1M50 41h1M32 44h1M40 44h2M51 44h1M56 44h1M33 45h2M39 45h2M56 45h1"/>
<path stroke="#be3d13" d="M67 30h1M47 31h1M46 32h1M55 32h2M68 32h1M76 32h1M46 33h1M51 33h3M58 33h2M68 33h2M76 33h3M34 34h1M51 34h2M59 34h1M77 34h1M79 34h1M32 35h1M36 35h1M50 35h1M53 35h1M59 35h1M68 35h1M77 35h1M80 35h1M59 36h1M67 36h1M78 36h2M31 37h1M37 37h1M47 37h1M67 37h1M38 38h1M46 38h1M50 38h1M58 38h1M48 39h1M59 39h1M67 39h1M40 40h1M49 40h1M56 40h1M50 42h1M31 43h1M56 43h1M32 45h1M33 46h2M39 46h1M55 46h2M35 47h1M38 47h1"/>
<path stroke="#af3712" d="M77 30h1M67 32h1M50 33h1M47 34h1M54 34h1M48 35h1M57 35h1M54 36h1M57 36h1M32 38h1M55 38h1M31 40h1M36 40h1M31 41h1M36 41h2M51 41h2M54 41h1M36 42h3M51 42h1M55 42h1M33 43h3M38 43h1M55 43h1M35 44h1M55 44h1M35 46h1M38 46h1M53 46h1"/>
<path stroke="#b43912" d="M48 31h1M66 31h2M77 31h1M66 32h1M55 33h2M67 33h1M50 34h1M57 34h1M49 35h1M33 37h2M54 37h1M57 37h1M35 38h2M54 38h1M56 38h1M31 39h1M36 39h3M54 39h2M37 40h3M50 40h6M38 41h3M55 41h1M31 42h1M39 42h3M32 43h1M39 43h3M51 43h1M33 44h2M39 44h1M55 45h1M52 46h1M54 46h1"/>
<path stroke="#a53310" d="M47 32h1M55 37h1M33 38h1M35 41h1M34 42h1M52 42h1M52 45h1M54 45h1"/>
<path stroke="#902b0e" d="M48 32h1M49 33h1M34 39h1M53 43h1M36 45h2"/>
<path stroke="#a03110" d="M49 32h1M49 34h1M55 34h2M32 39h1M35 40h1M33 42h1M53 42h1M52 43h1M54 43h1M36 44h1"/>
<path stroke="#9b2f10" d="M47 33h1M55 36h2M32 41h1M37 44h1M52 44h1M54 44h1M53 45h1"/>
<path stroke="#7e250d" d="M48 33h1"/>
<path stroke="#962d0f" d="M48 34h1M55 35h2M32 40h1M36 46h2"/>
<path stroke="#aa3511" d="M54 35h1M56 37h1M34 38h1M35 39h1M53 41h1M32 42h1M35 42h1M54 42h1M36 43h2M38 44h1M35 45h1M38 45h1M36 47h2"/>
<path stroke="#84270e" d="M33 39h1M33 41h1"/>
<path stroke="#72210c" d="M33 40h1"/>
<path stroke="#78230c" d="M34 40h1"/>
<path stroke="#8a290e" d="M34 41h1M53 44h1"/>
<path stroke="#bca815" d="M0 57h97"/>
<path stroke="#648ccc" d="M83 64h1M88 64h2"/>
<path stroke="#6491cb" d="M84 64h4"/>
<path stroke="#64acbe" d="M83 65h1M89 65h1"/>
<path stroke="#64b4b9" d="M84 65h1M87 65h1M80 66h1M92 66h1"/>
<path stroke="#64b0bc" d="M88 65h1M0 66h80M93 66h4"/>
<path stroke="#64a3c3" d="M90 65h1"/>
<path stroke="#6cbaba" d="M82 66h1M80 67h1M91 67h2"/>
<path stroke="#6ebcbb" d="M83 66h1M89 66h1M81 67h1M90 67h1M0 68h82M91 68h6"/>
<path stroke="#78c4bd" d="M85 66h2M84 67h1M0 72h97"/>
<path stroke="#76c2bc" d="M87 66h1M88 67h1M84 68h4M81 70h11M0 71h97"/>
<path stroke="#70bebc" d="M82 67h1M82 68h1M90 68h1M0 69h82M91 69h6"/>
<path stroke="#7ac6be" d="M85 67h3"/>
</g>
</g>
<path fill="none" stroke="#000" stroke-width="1.8" stroke-linejoin="miter" stroke-linecap="square" d="M3.5 12.1L191.9 12.1L198.9 19L254.7 19L261.7 25.8L254.7 32.7L233.8 32.7L219.8 46.4L205.9 46.4L198.9 53.3L191.9 46.4L191.9 32.7L184.9 32.7L191.9 39.6L184.9 46.4L184.9 53.3L191.9 60.2L184.9 67L164 67L157 73.9L150 73.9L143.1 80.8L136.1 73.9L129.1 73.9L129.1 80.8L136.1 87.6L136.1 94.5L129.1 101.4L122.1 101.4L115.1 94.5L115.1 87.6L108.2 80.8L108.2 73.9L101.2 67L101.2 60.2L94.2 53.3L101.2 46.4L94.2 39.6L94.2 32.7L52.3 32.7L45.4 25.8L3.5 25.8M233.8 39.6L240.7 32.7L261.7 32.7L268.7 25.8L275.6 32.7L282.6 32.7L289.6 39.6L289.6 53.3L282.6 60.2L240.7 60.2L233.8 53.3L233.8 39.6M212.8 60.2L219.8 53.3L226.8 53.3L233.8 60.2L254.7 60.2L261.7 67L282.6 67L289.6 73.9L289.6 80.8L282.6 87.6L275.6 80.8L261.7 80.8L254.7 87.6L240.7 73.9L233.8 80.8L219.8 80.8L212.8 73.9L219.8 67L212.8 60.2M205.9 94.5L219.8 80.8L240.7 80.8L247.7 87.6L247.7 94.5L261.7 94.5L268.7 87.6L275.6 87.6L282.6 94.5L282.6 128.8L275.6 135.7L275.6 142.6L268.7 149.4L268.7 156.3L247.7 176.9L233.8 163.1L233.8 135.7L226.8 128.8L226.8 122L212.8 122L205.9 115.1L205.9 94.5M136.1 115.1L150 101.4L164 101.4L184.9 122L191.9 122L198.9 128.8L198.9 135.7L171 163.1L164 163.1L143.1 183.7L136.1 176.9L136.1 163.1L143.1 156.3L143.1 135.7L136.1 128.8L136.1 115.1M443.1 12.1L331.5 12.1L324.5 19L317.5 19L310.5 12.1L296.6 12.1L289.6 19L289.6 25.8L310.5 46.4L303.5 46.4L296.6 53.3L296.6 60.2L303.5 67L303.5 73.9L296.6 80.8L303.5 87.6L303.5 122L310.5 128.8L317.5 122L317.5 115.1L331.5 101.4L331.5 94.5L338.4 101.4L345.4 101.4L359.4 115.1L373.3 115.1L380.3 108.2L366.4 94.5L366.4 87.6L373.3 80.8L373.3 73.9L394.3 53.3L394.3 46.4L401.2 39.6L394.3 32.7L415.2 32.7L422.2 25.8L443.1 25.8M359.4 170L387.3 142.6L401.2 142.6L408.2 149.4L415.2 149.4L429.2 163.1L429.2 176.9L422.2 183.7L415.2 183.7L408.2 176.9L380.3 176.9L373.3 183.7L366.4 183.7L359.4 176.9L359.4 170M3.5 190.6L10.5 197.5L17.4 197.5L17.4 190.6L24.4 183.7L52.3 183.7L59.3 190.6L129.1 190.6L136.1 197.5L129.1 204.3L122.1 204.3L198.9 204.3L205.9 197.5L303.5 197.5L310.5 190.6L331.5 190.6L338.4 197.5L345.4 190.6L359.4 190.6L366.4 183.7M373.3 183.7L380.3 176.9L408.2 176.9L422.2 190.6L429.2 190.6L436.1 183.7L443.1 183.7"/>
</g>
<rect x="0" y="0" width="446.6" height="223.0" fill="none" stroke="#000" stroke-width="2.8"/><path d="M-8 0H0" stroke="#000" stroke-width="1.8"/><path d="M-15.5 37.2H0" stroke="#000" stroke-width="2.4"/><path d="M-8 74.3H0" stroke="#000" stroke-width="1.8"/><path d="M-15.5 111.5H0" stroke="#000" stroke-width="2.4"/><path d="M-8 148.7H0" stroke="#000" stroke-width="1.8"/><path d="M-15.5 185.8H0" stroke="#000" stroke-width="2.4"/><path d="M-8 223H0" stroke="#000" stroke-width="1.8"/><path d="M0 223V230.5" stroke="#000" stroke-width="1.8"/><path d="M37.2 223V230.5" stroke="#000" stroke-width="1.8"/><path d="M74.4 223V237.5" stroke="#000" stroke-width="2.2"/><path d="M111.7 223V230.5" stroke="#000" stroke-width="1.8"/><path d="M148.9 223V230.5" stroke="#000" stroke-width="1.8"/><path d="M186.1 223V230.5" stroke="#000" stroke-width="1.8"/><path d="M223.3 223V237.5" stroke="#000" stroke-width="2.2"/><path d="M260.5 223V230.5" stroke="#000" stroke-width="1.8"/><path d="M297.7 223V230.5" stroke="#000" stroke-width="1.8"/><path d="M335 223V230.5" stroke="#000" stroke-width="1.8"/><path d="M372.2 223V237.5" stroke="#000" stroke-width="2.2"/><path d="M409.4 223V230.5" stroke="#000" stroke-width="1.8"/><path d="M446.6 223V230.5" stroke="#000" stroke-width="1.8"/>
</g>
<g transform="translate(542.2 1156.4)">
<g clip-path="url(#cp)">
<g shape-rendering="crispEdges">
<g transform="translate(-2.326 0) scale(4.6521 3.0972)" fill="none" stroke-width="1.03">
<path stroke="#89d0c6" d="M0 0h97M0 1h97"/>
<path stroke="#86cec4" d="M0 2h97M6 4h3M18 4h36M72 4h4M81 4h3"/>
<path stroke="#80cac0" d="M0 3h97"/>
<path stroke="#7ac6be" d="M0 4h6M9 4h9M54 4h18M76 4h5M84 4h13M4 6h7M16 6h39M70 6h8M79 6h7"/>
<path stroke="#78c4bd" d="M0 5h5M10 5h7M55 5h16M77 5h3M85 5h12"/>
<path stroke="#83ccc2" d="M5 5h5M17 5h38M71 5h6M80 5h5"/>
<path stroke="#70bebc" d="M0 6h4M11 6h5M55 6h15M78 6h1M86 6h11M0 7h55M60 7h3M69 7h28"/>
<path stroke="#66b6ba" d="M55 7h5M63 7h6M0 8h41M72 8h25M72 68h6M68 69h14M63 70h25M0 71h71M80 71h17"/>
<path stroke="#69b8ba" d="M41 8h13M60 8h4M69 8h3M71 71h9M0 72h97"/>
<path stroke="#64acbe" d="M54 8h6M64 8h5M39 9h10M52 9h13M69 9h6M70 67h4M77 67h3M64 68h2M84 68h3"/>
<path stroke="#64a3c3" d="M0 9h13M66 67h2M83 67h2M0 68h59M91 68h6"/>
<path stroke="#64a8c0" d="M13 9h24M75 9h22M68 67h2M80 67h3M59 68h5M87 68h4"/>
<path stroke="#649bc8" d="M37 9h1M36 10h1M39 10h5M69 10h8M71 66h8M59 67h4M87 67h5"/>
<path stroke="#649fc6" d="M38 9h1M49 9h3M65 9h4M44 10h4M51 10h15M63 67h3M85 67h2"/>
<path stroke="#558496" d="M0 10h11M51 11h15M0 66h61M90 66h7"/>
<path stroke="#648ccc" d="M11 10h10M92 10h5M61 66h4M85 66h5"/>
<path stroke="#6491cb" d="M21 10h8M37 10h2M84 10h8M65 66h3M82 66h3"/>
<path stroke="#6496c9" d="M29 10h7M48 10h3M66 10h3M77 10h7M68 66h3M79 66h3M0 67h59M92 67h5"/>
<path stroke="#658b40" d="M0 11h6"/>
<path stroke="#628a43" d="M6 11h2M12 11h1M8 64h63M79 64h18"/>
<path stroke="#5e8947" d="M8 11h4M13 11h3M96 11h1M71 64h8"/>
<path stroke="#5b884a" d="M16 11h6M91 11h5"/>
<path stroke="#57874e" d="M22 11h5M86 11h5"/>
<path stroke="#548651" d="M27 11h4M82 11h4M8 65h55M88 65h9"/>
<path stroke="#508555" d="M31 11h5M37 11h2M77 11h5M63 65h7M80 65h8"/>
<path stroke="#4d8458" d="M36 11h1M39 11h1M45 11h1M67 11h2M73 11h4M70 65h10"/>
<path stroke="#49835c" d="M40 11h5M46 11h5M66 11h1M69 11h4"/>
<path stroke="#7a9327" d="M0 12h7"/>
<path stroke="#78922a" d="M7 12h9M10 62h13M25 62h9M40 62h51"/>
<path stroke="#76912d" d="M16 12h7M90 12h7M0 63h9M23 63h1M34 63h5M90 63h2M94 63h3"/>
<path stroke="#739030" d="M23 12h5M85 12h5"/>
<path stroke="#708f33" d="M28 12h6M79 12h6M0 64h8"/>
<path stroke="#6e8e36" d="M34 12h6M73 12h6M9 63h14M24 63h10M39 63h51M92 63h2"/>
<path stroke="#6c8d39" d="M40 12h8M66 12h7"/>
<path stroke="#698c3c" d="M48 12h18M0 65h8"/>
<path stroke="#8f9a1c" d="M0 13h9"/>
<path stroke="#88981d" d="M9 13h21M83 13h14M29 60h4M75 60h3M83 60h8"/>
<path stroke="#82961e" d="M30 13h12M70 13h13M0 61h29M34 61h42M77 61h6M91 61h6"/>
<path stroke="#809521" d="M42 13h28M29 61h5M76 61h1M83 61h8"/>
<path stroke="#a9a218" d="M0 14h38M46 14h3M50 14h14M69 14h28"/>
<path stroke="#a2a019" d="M38 14h8M49 14h1M64 14h5M0 59h75M91 59h6"/>
<path stroke="#bca815" d="M0 15h18M38 15h8M55 15h2M64 15h4M87 15h10"/>
<path stroke="#c3aa14" d="M18 15h20M46 15h9M57 15h7M68 15h19M75 57h16"/>
<path stroke="#cdad12" d="M0 16h18M39 16h7M55 16h2M64 16h2M87 16h10"/>
<path stroke="#d2ae11" d="M18 16h6M27 16h12M46 16h9M57 16h7M66 16h21M0 56h75M91 56h6"/>
<path stroke="#d7b010" d="M24 16h3M75 56h16"/>
<path stroke="#dcb20f" d="M0 17h18M39 17h7M55 17h3M63 17h3M87 17h10"/>
<path stroke="#e1b30e" d="M18 17h5M29 17h10M46 17h9M58 17h5M66 17h21M0 55h75M91 55h6"/>
<path stroke="#e6b40d" d="M23 17h1M27 17h2M75 55h16"/>
<path stroke="#ebb60c" d="M24 17h1M0 18h18M38 18h9M56 18h2M59 18h7M87 18h10M0 54h32M34 54h41M91 54h6"/>
<path stroke="#f5b90a" d="M25 17h1M23 18h1M28 18h1M0 19h18M37 19h11M60 19h6M87 19h10M26 53h6M76 54h1M89 54h1"/>
<path stroke="#f0b80b" d="M26 17h1M18 18h5M29 18h9M47 18h9M58 18h1M66 18h21M32 54h2M75 54h1M90 54h1"/>
<path stroke="#f4ac0d" d="M24 18h1M19 20h1M31 20h2M49 20h2M52 20h1M59 20h2M66 20h2M85 20h1M0 21h19M32 21h17M50 21h2M62 21h4M86 21h11M29 50h2M0 52h27M35 52h17M54 52h24M90 52h7M32 53h2M77 53h1M89 53h1"/>
<path stroke="#f29e10" d="M25 18h1M24 19h1M27 20h1M20 21h4M28 21h3M53 21h8M67 21h17M29 49h2M27 50h1M23 51h3M34 52h1M78 52h1"/>
<path stroke="#f2a20f" d="M26 18h1M19 21h1M31 21h1M52 21h1M61 21h1M66 21h1M84 21h2M0 22h20M31 22h22M63 22h2M85 22h12M26 51h1M31 52h1M52 52h2M89 52h1"/>
<path stroke="#f4b00c" d="M27 18h1M20 19h4M28 19h4M52 19h3M68 19h17M18 20h1M48 20h1M61 20h1M28 51h3M27 52h1M76 53h1"/>
<path stroke="#f4b40b" d="M18 19h2M32 19h5M48 19h4M55 19h5M66 19h2M85 19h2M0 20h18M33 20h15M51 20h1M62 20h4M86 20h11M28 52h3M0 53h26M34 53h42M90 53h7M77 54h12"/>
<path stroke="#ef8615" d="M25 19h1M26 20h1M24 23h2M67 23h2M74 23h2M64 24h1M29 48h2M52 51h2M80 51h1M87 51h1"/>
<path stroke="#f08c14" d="M26 19h1M25 21h2M25 22h2M70 22h2M21 23h3M26 23h3M55 23h7M65 23h2M76 23h7M0 24h21M26 24h20M52 24h7M63 24h1M82 24h15M26 49h1M0 50h24M38 50h13M55 50h26M87 50h10M31 51h1M35 51h1M51 51h1"/>
<path stroke="#f3a70e" d="M27 19h1M20 20h4M28 20h3M53 20h6M68 20h17M49 21h1M28 50h1M27 51h1M78 53h11"/>
<path stroke="#f29a11" d="M24 20h1M27 21h1M20 22h1M30 22h1M53 22h1M62 22h1M65 22h1M84 22h1M28 49h1M0 51h23M36 51h15M55 51h24M89 51h8M32 52h2M79 52h10"/>
<path stroke="#ee8016" d="M25 20h1M73 23h1M21 24h1M46 24h3M51 24h1M59 24h1M62 24h1M28 48h1M0 49h26M38 49h12M55 49h27M86 49h11M32 51h3M81 51h6"/>
<path stroke="#f19512" d="M24 21h1M21 22h3M28 22h2M54 22h8M66 22h3M74 22h10M0 23h20M31 23h19M52 23h1M63 23h2M84 23h13M26 50h1"/>
<path stroke="#f09013" d="M24 22h1M27 22h1M69 22h1M72 22h2M20 23h1M29 23h2M50 23h2M53 23h2M62 23h1M83 23h1M27 49h1M24 50h2M54 51h1M79 51h1M88 51h1"/>
<path stroke="#ed7a17" d="M69 23h1M22 24h4M49 24h2M60 24h2M65 24h2M76 24h6M0 25h22M26 25h20M52 25h8M62 25h3M82 25h15M56 38h1M27 48h1M37 50h1"/>
<path stroke="#eb6e19" d="M70 23h2M68 24h1M22 25h1M51 25h1M65 25h1M81 25h1M46 46h1M45 47h3M0 48h26M39 48h6M55 48h42M31 50h1M36 50h1M51 50h1"/>
<path stroke="#ec7418" d="M72 23h1M67 24h1M74 24h2M60 25h2M56 39h1M26 48h1M45 48h4M54 50h1M81 50h1M86 50h1"/>
<path stroke="#e85c1c" d="M69 24h1M68 25h1M23 26h1M25 26h1M52 26h1M66 26h1M80 26h1M0 27h23M27 27h17M56 27h2M60 27h6M81 27h16M65 36h1M32 44h1M44 46h1M48 46h1M0 47h27M39 47h5M55 47h42M31 49h1M37 49h1M54 49h1M83 49h2"/>
<path stroke="#e34e1d" d="M70 24h1M69 25h1M46 26h2M73 26h2M24 27h2M53 27h2M66 27h1M0 29h24M27 29h16M61 29h5M80 29h17M56 37h1M65 37h1M32 43h1M44 44h1M0 45h31M41 45h2M56 45h41M31 48h1M54 48h1M33 49h3M52 49h1"/>
<path stroke="#e04d1c" d="M71 24h1M76 26h1M44 27h1M51 27h2M67 27h2M78 27h2M60 28h1M80 28h1M0 30h25M26 30h17M61 30h5M80 30h17M47 32h1M65 35h1M66 37h1M56 40h1M44 43h5M0 44h31M42 44h2M57 44h40M32 46h1M32 48h1"/>
<path stroke="#e7561d" d="M72 24h1M73 25h1M24 26h1M45 26h1M49 26h3M67 26h1M78 26h2M46 44h2M32 45h1M44 45h1M48 45h1M43 46h1M38 48h1M49 48h1"/>
<path stroke="#ea681a" d="M73 24h1M23 25h3M46 25h5M66 25h2M78 25h3M0 26h22M27 26h18M53 26h13M81 26h16M57 38h1M46 45h1M45 46h1M47 46h1M29 47h1M48 47h1M82 49h1M85 49h1M35 50h1M53 50h1M82 50h4"/>
<path stroke="#d74819" d="M70 25h1M48 27h1M70 27h2M74 27h1M44 28h1M67 28h7M78 28h1M59 29h1M66 29h1M43 30h1M60 30h1M31 31h1M34 31h1M47 31h1M60 31h1M48 32h1M47 33h1M0 34h30M38 34h6M60 34h4M71 34h3M79 34h18M0 35h30M40 35h8M60 35h5M70 35h5M79 35h18M0 36h29M41 36h8M60 36h4M69 36h7M80 36h17M0 37h28M42 37h7M60 37h4M69 37h7M81 37h16M66 38h1M58 39h1M65 39h1M32 42h1M31 43h1M41 44h1M40 45h1M39 46h1M33 47h1"/>
<path stroke="#d44718" d="M71 25h1M70 26h2M45 27h1M51 28h1M52 29h2M56 29h3M71 29h3M78 29h1M32 31h2M43 31h1M65 31h1M30 32h1M43 32h1M37 33h1M67 36h1M28 37h1M67 37h1M80 37h1M55 38h1M58 38h1M55 39h1M79 39h1M33 44h1M56 44h1M33 45h1M55 45h1M33 46h1M49 46h1M34 47h2M37 47h1M50 47h1M53 47h1"/>
<path stroke="#dd4c1b" d="M72 25h1M69 26h1M75 26h1M49 27h2M73 27h1M24 28h1M26 28h1M57 28h1M66 28h1M24 29h1M26 29h1M25 30h1M0 31h31M35 31h8M61 31h4M79 31h18M0 32h30M35 32h8M60 32h5M72 32h1M79 32h18M66 35h1M64 36h1M57 37h1M64 37h1M57 40h1M43 42h6M0 43h31M42 43h2M57 43h40M31 44h1M31 45h1M31 47h2M49 47h1M33 48h2M37 48h1M50 48h1M53 48h1"/>
<path stroke="#e9621b" d="M74 25h4M22 26h1M26 26h1M57 39h1M45 45h1M47 45h1M27 47h2M30 47h1M44 47h1M50 49h1M32 50h3M52 50h1"/>
<path stroke="#e6501e" d="M48 26h1M68 26h1M77 26h1M23 27h1M26 27h1M55 27h1M58 27h2M80 27h1M0 28h24M27 28h17M61 28h5M81 28h16M66 36h1M45 44h1M48 44h1M43 45h1M0 46h31M40 46h3M55 46h42M32 49h1M36 49h1M51 49h1M53 49h1"/>
<path stroke="#da4a1a" d="M72 26h1M69 27h1M72 27h1M77 27h1M25 28h1M52 28h5M58 28h2M79 28h1M25 29h1M43 29h1M60 29h1M79 29h1M79 30h1M0 33h30M38 33h6M60 33h4M71 33h3M79 33h18M0 38h29M42 38h7M59 38h7M67 38h10M80 38h17M0 39h30M42 39h7M59 39h6M66 39h12M80 39h17M0 40h30M42 40h7M58 40h39M0 41h30M42 41h7M58 41h39M0 42h30M42 42h1M58 42h39M31 46h1M38 47h1M54 47h1M35 48h2M51 48h2"/>
<path stroke="#cb4215" d="M46 27h1M75 27h2M49 28h1M51 29h1M69 29h1M74 29h1M45 30h1M56 30h1M70 30h1M48 31h1M52 31h1M57 31h1M71 31h1M74 31h4M32 32h2M44 32h2M58 32h1M74 32h4M35 33h1M45 33h2M65 33h1M30 34h1M37 34h1M46 34h1M59 34h1M78 34h1M38 35h1M59 35h1M69 35h1M49 36h1M59 36h1M76 36h1M29 37h1M49 37h1M79 37h1M49 38h1M79 38h1M30 39h1M41 39h1M49 39h1M30 40h1M41 40h1M49 40h1M55 40h1M41 41h1M33 42h1M56 42h1M49 43h1M39 44h1M34 45h1M54 45h1M35 46h1M37 46h1M50 46h1M53 46h1"/>
<path stroke="#d14617" d="M47 27h1M44 29h1M54 29h2M70 29h1M44 30h1M57 30h3M71 30h3M78 30h1M78 31h1M46 32h1M73 32h1M48 33h1M64 33h1M44 34h1M64 34h2M59 37h1M68 37h1M78 39h1M57 41h1M30 42h1M57 42h1M33 43h1M41 43h1M49 45h1M54 46h1M36 47h1M51 47h2"/>
<path stroke="#c33f14" d="M45 28h1M51 30h1M54 30h1M75 30h2M53 31h1M66 31h1M70 31h1M57 33h1M66 33h1M31 34h2M35 34h1M49 34h4M57 34h1M67 34h1M69 34h1M76 34h1M31 35h1M36 35h1M50 35h4M56 35h1M77 35h1M36 36h2M51 36h4M30 37h1M36 37h4M50 37h4M78 37h1M36 38h4M50 38h1M53 38h1M31 39h1M36 39h4M54 39h1M33 40h2M38 40h2M54 40h1M34 41h1M38 41h2M39 42h1M54 43h1M34 44h1M38 44h1M50 45h1M51 46h2"/>
<path stroke="#b43912" d="M46 28h1M67 33h1M69 33h1M54 34h1M35 36h1M35 38h1M33 39h1M51 39h1M53 40h1M35 41h1M37 41h1M53 44h1"/>
<path stroke="#b93b12" d="M47 28h1M75 28h2M46 29h3M50 29h1M75 29h2M67 30h1M69 30h1M49 31h2M56 31h1M56 34h1M68 34h1M32 35h1M34 39h1M50 40h1M50 44h1M35 45h1M37 45h1"/>
<path stroke="#c84114" d="M48 28h1M45 29h1M68 29h1M46 30h2M51 31h1M49 32h4M57 32h1M31 33h4M49 33h4M58 33h1M70 33h1M75 33h3M36 34h1M48 34h1M58 34h1M75 34h1M77 34h1M30 35h1M37 35h1M49 35h1M57 35h2M68 35h1M76 35h1M78 35h1M30 36h1M38 36h2M50 36h1M55 36h1M58 36h1M77 36h2M40 37h1M54 37h1M77 37h1M30 38h1M40 38h1M54 38h1M78 38h1M40 39h1M31 40h2M40 40h1M31 41h1M33 41h1M40 41h1M49 41h1M55 41h1M40 42h1M49 42h1M55 42h1M39 43h2M55 43h1M54 44h1M38 45h1M36 46h1"/>
<path stroke="#ce4416" d="M50 28h1M74 28h1M77 28h1M67 29h1M77 29h1M52 30h2M66 30h1M74 30h1M77 30h1M44 31h3M58 31h2M72 31h2M31 32h1M34 32h1M59 32h1M65 32h1M71 32h1M78 32h1M30 33h1M36 33h1M44 33h1M59 33h1M74 33h1M78 33h1M45 34h1M47 34h1M66 34h1M70 34h1M74 34h1M39 35h1M48 35h1M67 35h1M75 35h1M29 36h1M40 36h1M56 36h2M68 36h1M79 36h1M41 37h1M55 37h1M58 37h1M76 37h1M29 38h1M41 38h1M77 38h1M30 41h1M32 41h1M56 41h1M31 42h1M41 42h1M56 43h1M40 44h1M49 44h1M55 44h1M39 45h1M34 46h1M38 46h1"/>
<path stroke="#af3712" d="M49 29h1M50 30h1M54 31h1M56 32h1M56 33h1M55 34h1M34 35h1M35 37h1M32 38h1M52 39h1M36 41h1M50 41h1M50 43h1M36 45h1M51 45h1"/>
<path stroke="#be3d13" d="M48 30h1M55 30h1M53 32h1M66 32h1M70 32h1M53 33h1M33 34h2M53 34h1M35 35h1M54 35h2M31 36h1M31 37h1M31 38h1M51 38h2M32 39h1M35 39h1M50 39h1M53 39h1M35 40h3M54 41h1M34 42h1M38 42h1M54 42h1M34 43h1M38 43h1M53 45h1"/>
<path stroke="#aa3511" d="M49 30h1M68 30h1M68 33h1M33 35h1M32 36h1M53 41h1M50 42h1M53 43h1M52 45h1"/>
<path stroke="#a53310" d="M55 31h1M67 31h1M69 31h1M67 32h1M69 32h1M54 33h1M35 42h1M37 42h1M53 42h1M35 44h1M37 44h1"/>
<path stroke="#962d0f" d="M68 31h1M68 32h1M33 38h1M36 42h1M51 44h1"/>
<path stroke="#a03110" d="M54 32h1M32 37h1M51 40h1M35 43h1M37 43h1"/>
<path stroke="#902b0e" d="M55 32h1M34 36h1M36 44h1M52 44h1"/>
<path stroke="#9b2f10" d="M55 33h1M34 38h1M52 40h1"/>
<path stroke="#84270e" d="M33 36h1M51 41h2M36 43h1"/>
<path stroke="#72210c" d="M33 37h1M52 42h1"/>
<path stroke="#7e250d" d="M34 37h1M51 43h1"/>
<path stroke="#78230c" d="M51 42h1M52 43h1"/>
<path stroke="#c8ac13" d="M0 57h75M91 57h6"/>
<path stroke="#b6a616" d="M0 58h75M91 58h6"/>
<path stroke="#b0a417" d="M75 58h16"/>
<path stroke="#9c9e1a" d="M75 59h16"/>
<path stroke="#969c1b" d="M0 60h29M33 60h42M78 60h5M91 60h6"/>
<path stroke="#7d9424" d="M0 62h10M23 62h2M34 62h6M91 62h6"/>
<path stroke="#64b0bc" d="M74 67h3M66 68h3M81 68h3M0 69h63M87 69h10"/>
<path stroke="#64b4b9" d="M69 68h3M78 68h3M63 69h5M82 69h5M0 70h63M88 70h9"/>
</g>
</g>
<path fill="none" stroke="#000" stroke-width="1.8" stroke-linejoin="miter" stroke-linecap="square" d="M3.5 19L17.4 19L24.4 12.1L38.4 12.1L45.4 19L73.3 19L80.2 12.1L247.7 12.1L254.7 19L247.7 25.8L226.8 25.8L219.8 32.7L205.9 32.7L198.9 39.6L191.9 39.6L184.9 46.4L177.9 39.6L177.9 25.8L171 25.8L171 39.6L177.9 46.4L177.9 53.3L171 60.2L150 60.2L136.1 73.9L115.1 73.9L122.1 80.8L122.1 87.6L115.1 94.5L80.2 60.2L80.2 46.4L73.3 39.6L66.3 39.6L59.3 32.7L52.3 32.7L45.4 39.6L31.4 39.6L24.4 32.7L3.5 32.7M226.8 39.6L240.7 25.8L275.6 25.8L282.6 19L289.6 19L303.5 32.7L303.5 39.6L289.6 53.3L268.7 53.3L261.7 46.4L233.8 46.4L226.8 39.6M205.9 46.4L212.8 39.6L219.8 39.6L226.8 46.4L247.7 46.4L261.7 60.2L268.7 53.3L275.6 60.2L282.6 60.2L289.6 67L289.6 73.9L282.6 80.8L275.6 73.9L247.7 73.9L240.7 67L240.7 60.2L233.8 60.2L226.8 67L205.9 46.4M198.9 87.6L212.8 73.9L226.8 73.9L233.8 67L240.7 73.9L240.7 80.8L254.7 80.8L261.7 87.6L268.7 80.8L275.6 80.8L282.6 87.6L282.6 94.5L275.6 101.4L275.6 115.1L268.7 122L268.7 128.8L254.7 142.6L254.7 156.3L247.7 163.1L240.7 163.1L226.8 149.4L226.8 115.1L219.8 108.2L205.9 108.2L198.9 101.4L198.9 87.6M129.1 115.1L136.1 108.2L136.1 101.4L143.1 94.5L157 94.5L164 101.4L171 101.4L177.9 108.2L184.9 108.2L191.9 115.1L191.9 135.7L184.9 142.6L177.9 142.6L177.9 149.4L171 156.3L164 156.3L150 170L143.1 163.1L143.1 135.7L136.1 128.8L136.1 122L129.1 115.1M443.1 19L394.3 19L387.3 12.1L373.3 12.1L366.4 19L359.4 19L352.4 12.1L331.5 12.1L317.5 25.8L317.5 46.4L303.5 46.4L303.5 67L296.6 73.9L303.5 80.8L303.5 94.5L296.6 101.4L296.6 115.1L303.5 122L310.5 115.1L317.5 115.1L331.5 101.4L331.5 94.5L338.4 101.4L345.4 108.2L352.4 115.1L359.4 122L366.4 122L373.3 115.1L366.4 108.2L366.4 94.5L373.3 87.6L373.3 80.8L380.3 73.9L387.3 73.9L401.2 60.2L401.2 39.6L436.1 39.6L443.1 32.7M345.4 170L352.4 163.1L359.4 163.1L366.4 156.3L373.3 156.3L380.3 149.4L394.3 149.4L401.2 156.3L408.2 156.3L422.2 170L422.2 190.6L415.2 197.5L408.2 197.5L401.2 190.6L387.3 190.6L380.3 183.7L359.4 183.7L352.4 190.6L345.4 183.7L345.4 170M3.5 204.3L31.4 204.3L45.4 190.6L101.2 190.6L108.2 197.5L115.1 190.6L129.1 190.6L136.1 183.7L150 183.7L157 190.6L150 197.5L177.9 197.5L184.9 190.6L352.4 190.6M401.2 190.6L408.2 197.5L422.2 197.5L429.2 190.6L436.1 197.5L443.1 197.5"/>
</g>
<rect x="0" y="0" width="446.6" height="223.0" fill="none" stroke="#000" stroke-width="2.8"/><path d="M-8 0H0" stroke="#000" stroke-width="1.8"/><path d="M-15.5 37.2H0" stroke="#000" stroke-width="2.4"/><path d="M-8 74.3H0" stroke="#000" stroke-width="1.8"/><path d="M-15.5 111.5H0" stroke="#000" stroke-width="2.4"/><path d="M-8 148.7H0" stroke="#000" stroke-width="1.8"/><path d="M-15.5 185.8H0" stroke="#000" stroke-width="2.4"/><path d="M-8 223H0" stroke="#000" stroke-width="1.8"/><path d="M0 223V230.5" stroke="#000" stroke-width="1.8"/><path d="M37.2 223V230.5" stroke="#000" stroke-width="1.8"/><path d="M74.4 223V237.5" stroke="#000" stroke-width="2.2"/><path d="M111.7 223V230.5" stroke="#000" stroke-width="1.8"/><path d="M148.9 223V230.5" stroke="#000" stroke-width="1.8"/><path d="M186.1 223V230.5" stroke="#000" stroke-width="1.8"/><path d="M223.3 223V237.5" stroke="#000" stroke-width="2.2"/><path d="M260.5 223V230.5" stroke="#000" stroke-width="1.8"/><path d="M297.7 223V230.5" stroke="#000" stroke-width="1.8"/><path d="M335 223V230.5" stroke="#000" stroke-width="1.8"/><path d="M372.2 223V237.5" stroke="#000" stroke-width="2.2"/><path d="M409.4 223V230.5" stroke="#000" stroke-width="1.8"/><path d="M446.6 223V230.5" stroke="#000" stroke-width="1.8"/>
</g>
<g transform="translate(1013.6 1156.4)">
<g clip-path="url(#cp)">
<rect width="446.6" height="223.0" fill="#bebebe"/>
<g shape-rendering="crispEdges">
<g transform="translate(-2.326 0) scale(4.6521 3.0972)" fill="none" stroke-width="1.03">
<path stroke="#ffffff" d="M0 0h1M4 0h1M8 0h1M46 0h2M76 0h2M82 0h1M3 1h1M75 1h1M77 1h1M82 1h1M85 1h1M89 1h1M0 2h1M9 2h2M16 2h3M79 2h1M82 2h1M95 2h1M5 3h1M11 4h1M83 4h1M91 4h1M13 5h1M70 5h1M89 5h1M95 5h1M67 6h1M83 6h1M89 7h1M0 8h1M9 8h1M81 8h3M89 8h2M9 9h1M68 9h1M80 9h3M85 9h1M2 10h1M7 10h1M17 10h1M80 10h1M83 10h1M69 11h1M71 11h1M84 11h1M11 12h1M14 12h1M84 12h1M94 12h2M2 13h1M91 13h2M2 14h1M14 14h1M72 14h1M78 14h1M85 14h1M90 14h1M95 14h1M7 15h1M5 16h1M76 16h1M96 16h1M0 17h1M93 17h1M94 18h1M14 19h1M77 20h1M12 21h1M92 21h1M94 21h1M29 22h1M61 22h1M43 23h1M61 23h2M72 23h1M87 23h2M95 23h1M42 24h1M62 24h1M88 24h1M91 24h1M95 24h1M19 25h1M43 25h1M53 25h3M63 25h1M79 25h1M91 25h1M10 26h1M17 26h1M27 26h1M43 26h1M49 26h3M60 26h1M62 26h1M77 26h1M87 26h1M95 26h2M47 27h1M65 27h1M68 27h1M79 27h1M90 27h1M19 28h1M75 28h3M85 28h1M92 28h1M26 29h1M47 29h1M63 29h1M66 29h1M70 29h1M91 29h3M58 30h1M64 30h1M69 30h1M72 30h1M80 30h1M85 30h1M0 31h1M6 31h1M29 31h1M43 31h1M54 31h1M56 31h2M60 31h1M64 31h1M70 31h1M72 31h1M76 31h1M89 31h1M0 32h1M2 32h1M5 32h1M43 32h1M51 32h1M54 32h1M60 32h1M67 32h1M79 32h1M82 32h1M26 33h1M50 33h1M68 33h1M80 33h2M89 33h1M3 34h1M32 34h1M37 34h1M48 34h1M55 34h2M59 34h1M69 34h1M80 34h1M3 35h1M46 35h1M48 35h1M50 35h1M73 35h1M79 35h1M92 35h1M95 35h1M31 36h1M49 36h1M71 36h1M73 36h1M89 36h1M13 37h1M31 37h1M57 37h2M76 37h1M62 38h1M91 38h2M28 39h1M61 39h1M78 39h1M91 39h1M94 39h1M96 39h1M38 40h1M48 40h2M75 40h2M94 40h1M27 41h1M34 41h1M36 41h1M63 41h1M76 41h1M72 43h1M3 44h1M8 44h2M35 45h1M72 45h1M74 45h1M2 46h1M30 46h1M32 46h1M35 46h1M72 46h1M78 46h1M1 47h1M31 47h2M48 47h1M73 47h1M75 47h1M48 48h1M6 49h1M28 49h1M31 50h1M33 52h1M11 53h1M29 53h1M33 53h1M11 54h1M29 54h1M65 54h2M25 55h1M30 55h1M66 55h1M32 56h1M51 56h1M56 56h1M65 57h2M1 58h1M23 58h1M28 58h1M69 58h2M0 59h1M24 59h1M57 59h1M64 59h1M69 59h1M1 60h1M14 60h1M16 60h1M20 60h2M28 60h1M63 60h2M71 60h2M4 61h2M4 62h3M8 62h1M10 62h1M17 62h1M27 62h1M65 62h1M1 63h1M66 63h1M6 64h2M23 64h1M68 64h1M65 65h1M14 66h1M69 66h1M74 66h1M78 66h1M13 67h1M23 67h1M75 67h1M0 68h1M9 68h1M16 68h1M26 68h1M70 68h2M7 69h1M15 69h1M60 69h1M66 69h1M79 69h1M96 69h1M16 70h1M26 70h2M29 70h1M65 70h1M67 70h1M78 70h1M82 70h1M6 71h1M18 71h1M27 71h1M35 71h1M53 71h1M57 71h1M65 71h1M88 71h1M90 71h1M94 71h1M7 72h1M13 72h1M15 72h1M17 72h1M37 72h1M39 72h1M52 72h1M56 72h1M64 72h1M66 72h1M73 72h1M77 72h1"/>
<path stroke="#f7f7ff" d="M1 0h1M14 0h1M30 0h1M32 0h1M78 0h1M93 0h2M8 1h1M10 1h1M17 1h1M76 1h1M4 2h1M13 2h1M77 2h1M90 2h1M93 2h1M0 3h2M3 3h2M9 3h2M92 3h1M1 4h1M7 4h1M1 5h2M4 5h1M6 5h2M71 5h1M11 6h1M14 6h1M68 6h1M82 6h1M94 6h1M3 7h1M10 7h1M82 7h1M88 7h1M6 8h1M11 8h1M16 8h1M0 9h1M3 9h1M6 9h1M78 9h2M88 9h1M78 10h1M7 11h1M9 11h1M17 11h1M87 11h1M93 11h1M95 11h1M2 12h1M7 12h1M12 12h1M71 12h1M83 12h1M3 13h1M76 13h1M83 13h1M6 14h1M67 14h1M86 14h1M2 15h1M5 15h1M95 15h1M77 16h1M86 16h1M14 17h1M66 17h1M76 17h1M91 17h1M0 18h1M7 18h1M76 18h1M93 18h1M75 19h1M77 19h1M91 19h1M58 20h1M78 20h1M93 20h2M4 21h1M57 21h1M77 21h1M0 22h1M7 22h1M41 22h1M57 22h1M63 22h1M72 22h1M93 22h1M12 23h1M22 23h1M49 23h1M55 23h2M86 23h1M0 24h1M12 24h1M38 24h1M40 24h1M76 24h1M86 24h1M92 24h1M39 25h1M47 25h2M59 25h1M82 25h1M87 25h2M93 25h1M96 25h1M5 26h3M32 26h1M46 26h1M59 26h1M73 26h1M90 26h1M19 27h1M27 27h1M44 27h1M50 27h2M47 28h1M51 28h1M67 28h2M78 28h2M94 28h1M0 29h1M52 29h2M77 29h1M85 29h1M67 30h1M70 30h1M1 31h1M42 31h1M44 31h1M49 31h1M53 31h1M55 31h1M81 31h1M4 32h1M25 32h2M50 32h1M58 32h2M69 32h1M71 32h2M75 32h1M80 32h2M91 32h1M96 32h1M11 33h1M27 33h1M48 33h1M52 33h1M67 33h1M76 33h1M90 33h1M28 34h3M52 34h1M54 34h1M60 34h2M70 34h1M75 34h1M94 34h1M31 35h1M55 35h1M2 36h1M12 36h1M48 36h1M60 36h1M96 36h1M41 37h1M47 37h1M51 37h1M73 37h1M75 37h1M77 37h1M93 37h1M78 38h1M82 38h1M2 39h2M5 39h1M11 39h1M29 39h2M64 39h1M95 39h1M10 40h1M37 40h1M74 40h1M95 40h1M2 41h1M71 41h2M4 42h1M73 42h1M76 43h1M78 44h1M4 45h1M10 45h1M73 45h1M29 46h1M34 46h1M64 46h1M73 46h1M75 46h1M9 47h1M89 47h1M30 48h2M47 48h1M49 48h1M63 48h1M77 48h1M8 49h1M29 49h1M76 49h1M12 51h1M29 51h1M34 51h1M8 52h1M29 52h1M8 53h1M65 53h1M8 54h1M10 54h1M13 54h1M28 54h1M30 54h1M56 54h1M23 55h2M50 55h2M24 56h1M2 57h1M30 57h1M63 57h1M24 58h1M57 58h1M64 58h1M21 59h1M27 59h2M67 59h1M70 59h1M72 59h1M0 60h1M2 60h1M15 60h1M23 60h1M0 61h1M14 61h1M9 62h1M11 62h2M22 62h1M63 62h1M66 62h1M22 63h3M65 63h1M15 64h1M22 64h1M44 64h1M65 64h1M74 64h1M6 65h1M8 65h1M25 65h1M27 65h1M68 65h1M75 65h2M13 66h1M19 66h1M22 66h1M64 66h1M80 66h1M3 67h2M17 67h1M24 67h1M58 67h1M63 67h1M76 67h1M78 67h1M15 68h1M22 68h1M58 68h1M62 68h1M8 69h1M18 69h2M27 69h1M51 69h1M69 69h1M80 69h1M19 70h1M21 70h1M24 70h1M28 70h1M48 70h2M74 70h1M80 70h1M89 70h2M95 70h1M14 71h3M25 71h1M47 71h2M51 71h1M54 71h1M64 71h1M89 71h1M96 71h1M0 72h1M18 72h1M50 72h1M63 72h1M70 72h2M81 72h1M85 72h3M94 72h1"/>
<path stroke="#ffe7e7" d="M2 0h1M12 0h2M34 0h1M84 0h1M13 1h1M32 1h1M41 1h1M47 1h1M84 1h1M8 2h1M15 2h1M20 2h1M24 2h1M75 2h1M81 2h1M88 2h1M76 3h2M95 3h1M3 4h1M15 4h1M77 4h1M84 4h1M87 4h1M95 4h2M68 5h1M86 5h1M88 5h1M92 5h2M15 6h1M74 6h1M79 6h1M88 6h1M27 7h1M68 7h1M78 7h1M80 7h1M94 7h1M17 8h1M72 8h1M75 8h1M79 8h1M85 8h1M17 9h1M83 9h2M72 10h1M85 10h1M87 10h1M92 10h1M6 11h1M14 11h1M38 11h1M76 12h1M78 12h1M85 12h1M93 12h1M1 13h1M71 13h2M0 14h1M72 15h1M59 16h1M72 16h1M93 16h1M7 17h1M73 17h1M92 17h1M96 17h1M68 18h2M75 18h1M92 18h1M19 19h1M65 19h1M18 20h1M75 20h2M92 20h1M0 21h1M21 21h1M33 21h1M69 21h1M93 21h1M18 22h1M20 22h3M26 22h1M32 22h3M43 22h1M55 22h1M92 22h1M20 23h1M42 23h1M47 23h1M63 23h1M75 23h1M51 24h1M67 24h1M71 24h1M74 24h1M11 25h1M18 25h1M21 25h2M30 25h1M34 25h1M38 25h1M42 25h1M44 25h1M64 25h1M72 25h1M94 25h1M21 26h1M23 26h1M30 26h1M34 26h1M44 26h1M48 26h1M64 26h2M67 26h1M82 26h1M93 26h1M29 27h2M32 27h1M61 27h1M63 27h1M94 27h1M24 28h1M29 28h1M43 28h1M48 28h1M50 28h1M54 28h2M58 28h2M64 28h1M27 29h1M30 29h1M34 29h1M42 29h1M59 29h1M65 29h1M72 29h1M76 29h1M96 29h1M22 30h1M25 30h1M29 30h2M52 30h1M57 30h1M61 30h1M68 30h1M74 30h1M89 30h1M26 31h1M31 31h1M38 31h1M59 31h1M66 31h1M80 31h1M82 31h1M27 32h1M29 32h2M34 32h1M36 32h1M42 32h1M45 32h1M55 32h1M57 32h1M84 32h1M88 32h2M31 33h1M34 33h1M56 33h1M75 33h1M92 33h1M58 34h1M68 34h1M71 34h1M86 34h1M88 34h1M60 35h1M68 35h1M70 35h2M76 35h1M78 35h1M89 35h1M0 36h1M28 36h1M36 36h1M68 36h1M78 36h2M68 37h1M81 37h2M84 37h1M90 37h1M96 38h1M31 39h1M40 39h1M73 39h1M88 39h1M89 40h1M29 41h1M75 41h1M78 41h1M90 41h1M28 42h1M77 42h1M77 43h1M33 44h1M82 44h2M8 45h1M29 45h1M75 45h1M86 45h1M9 46h1M87 46h1M2 47h1M6 47h2M88 47h1M2 48h1M80 48h1M90 48h1M1 50h1M9 50h1M77 50h3M89 50h1M10 51h2M82 51h1M95 51h1M81 52h1M86 52h1M93 52h3M1 53h1M3 53h1M32 53h1M93 53h1M1 54h3M93 54h1M95 54h1M32 55h1M64 55h1M2 56h1M50 56h1M64 56h1M90 56h1M1 57h1M96 57h1M67 58h1M22 59h1M65 59h1M92 59h1M68 60h1M70 60h1M8 61h3M67 61h1M71 61h1M26 62h1M64 62h1M74 62h1M95 62h1M4 63h2M67 63h1M73 63h1M67 64h1M67 65h1M73 65h2M10 66h1M20 66h1M66 66h2M70 66h1M72 66h1M1 67h1M10 67h1M68 67h1M70 67h1M73 67h2M80 67h1M66 68h1M73 68h2M76 68h1M80 68h1M20 69h1M65 69h1M77 69h1M5 70h1M10 70h1M72 70h1M88 70h1M92 70h2M9 71h1M20 71h1M79 71h1M81 71h1M93 71h1M38 72h1M80 72h1M89 72h1M93 72h1"/>
<path stroke="#e7e7ff" d="M3 0h1M15 0h1M0 1h1M16 1h1M79 1h1M81 1h1M91 2h1M0 4h1M13 4h1M9 5h1M90 5h1M69 6h1M95 6h1M9 7h1M11 7h2M90 7h1M3 8h2M14 8h2M1 9h1M15 9h1M6 10h1M11 10h4M1 11h1M8 11h1M10 11h1M13 11h1M1 12h1M8 12h1M13 12h1M16 12h2M79 12h1M6 13h1M10 13h2M14 13h2M15 14h1M84 14h1M91 15h1M6 16h1M14 16h1M1 17h1M4 17h3M15 18h1M77 18h1M87 19h1M90 19h1M9 20h1M89 20h2M9 21h3M1 22h1M4 22h1M12 22h1M51 22h1M77 22h1M86 22h1M90 22h1M0 23h1M3 23h2M69 23h1M77 23h1M96 23h1M3 24h1M10 24h1M43 24h1M56 24h1M61 24h1M5 25h2M60 25h1M74 25h1M89 25h2M92 25h1M11 26h1M19 26h1M52 26h1M61 26h1M5 27h1M7 27h1M45 27h1M67 27h1M74 27h1M88 27h1M10 28h1M58 29h1M75 29h1M90 29h1M94 29h2M53 30h1M7 31h2M11 31h2M58 31h1M92 31h1M3 32h1M6 32h3M11 32h1M61 32h2M70 32h1M76 32h1M93 32h1M95 32h1M0 33h1M6 33h1M25 33h1M58 33h1M61 33h2M2 34h1M46 34h1M76 34h1M1 35h1M8 35h2M30 35h1M94 35h1M3 36h2M8 36h1M94 36h1M30 37h1M59 37h1M72 37h1M74 37h1M1 38h1M5 38h1M10 38h1M41 38h1M47 38h1M49 38h2M52 38h1M54 38h1M59 38h1M70 38h2M73 38h1M77 38h1M81 38h1M10 39h1M50 39h1M75 39h1M1 40h1M3 40h3M7 40h1M47 40h1M56 40h1M70 40h1M96 40h1M12 41h1M37 41h1M56 41h1M59 41h2M62 41h1M73 41h1M2 42h2M5 42h3M36 42h1M60 42h1M71 42h1M74 42h1M6 43h1M35 43h1M70 43h1M37 44h1M50 44h1M56 44h1M77 44h1M7 45h1M39 45h1M52 45h1M78 45h1M52 46h1M62 46h1M8 47h1M38 47h1M40 47h1M61 47h1M39 48h1M50 48h1M57 48h1M62 48h1M1 49h1M49 49h1M57 49h1M75 49h1M79 49h1M30 50h1M64 50h1M30 51h1M33 51h1M35 51h1M35 52h1M64 52h2M0 53h1M13 53h1M50 53h1M9 54h1M12 54h1M57 54h1M28 55h2M62 55h1M3 56h1M34 56h1M54 56h1M63 56h1M28 57h1M32 57h1M30 58h1M56 58h1M17 59h2M26 59h1M56 59h1M58 59h1M13 60h1M73 60h1M15 61h1M20 61h2M23 61h1M61 61h2M7 62h1M23 62h2M32 62h2M62 62h1M15 63h1M18 63h1M60 63h1M63 63h1M8 64h1M20 64h1M24 64h1M26 64h2M43 64h1M7 65h1M18 65h1M58 65h1M4 66h1M7 66h2M15 66h1M23 66h2M49 66h1M57 66h1M63 66h1M15 67h1M18 67h1M26 67h1M4 68h1M17 68h2M32 68h1M63 68h1M6 69h1M21 69h1M30 69h2M25 70h1M31 70h1M38 70h1M50 70h1M57 70h2M61 70h1M63 70h2M66 70h1M75 70h1M3 71h1M30 71h1M37 71h1M39 71h1M46 71h1M52 71h1M55 71h1M76 71h1M87 71h1M26 72h1M36 72h1M67 72h1"/>
<path stroke="#ffdfdf" d="M5 0h1M23 0h1M35 0h1M1 1h2M29 1h3M33 1h1M83 1h1M88 1h1M1 2h2M6 2h1M19 2h1M23 2h1M28 2h1M43 2h1M76 2h1M94 2h1M8 3h1M13 3h1M20 3h1M70 3h1M73 3h1M84 3h1M93 3h1M12 4h1M16 4h1M71 4h1M74 4h2M15 5h1M77 5h1M84 5h1M87 5h1M96 5h1M70 6h1M78 6h1M84 6h1M91 6h2M17 7h1M69 7h1M72 7h1M75 7h2M66 8h1M73 8h1M77 8h2M86 8h2M92 8h1M94 8h1M66 9h1M70 9h1M75 9h1M86 9h2M89 9h2M93 9h1M35 10h1M67 10h1M31 11h1M35 11h1M67 11h2M86 11h1M89 11h1M96 11h1M20 12h1M68 12h1M72 12h2M87 12h2M92 12h1M19 13h1M68 13h1M85 13h1M87 13h2M95 13h1M3 14h1M44 14h1M77 14h1M71 15h1M74 15h1M17 16h1M60 16h1M71 16h1M92 16h1M61 17h2M68 17h1M70 17h3M71 18h1M16 19h1M68 19h1M17 20h1M19 20h1M21 20h2M33 20h1M57 20h1M68 20h2M15 21h1M19 21h2M23 21h1M34 21h2M52 21h1M73 21h1M16 22h2M23 22h1M27 22h1M30 22h1M37 22h1M46 22h1M59 22h2M74 22h1M94 22h1M16 23h2M28 23h1M68 23h1M74 23h1M17 24h3M22 24h1M27 24h1M30 24h1M46 24h1M54 24h1M64 24h1M68 24h1M23 25h2M26 25h1M66 25h1M69 25h1M71 25h1M78 25h1M24 26h1M28 26h1M42 26h1M45 26h1M47 26h1M63 26h1M25 27h1M57 27h1M60 27h1M62 27h1M93 27h1M26 28h1M31 28h1M42 28h1M56 28h1M60 28h1M69 28h1M72 28h1M29 29h1M31 29h1M43 29h2M51 29h1M62 29h1M88 29h1M34 30h1M49 30h1M65 30h1M41 31h1M41 32h1M83 32h1M35 33h1M42 33h1M82 33h2M91 33h1M26 34h1M33 34h1M36 34h1M57 34h1M63 34h2M87 34h1M90 34h1M27 35h1M35 35h1M57 35h1M59 35h1M72 35h1M1 36h1M33 36h1M50 36h1M58 36h1M90 36h1M38 37h1M79 37h1M34 38h1M38 38h1M95 38h1M82 39h1M88 40h1M92 40h1M87 41h1M79 42h1M32 43h1M78 43h1M91 43h1M34 44h2M90 44h1M28 45h1M32 45h1M3 46h1M77 46h1M88 46h1M90 46h1M28 47h1M80 47h1M89 48h1M93 48h1M89 49h1M93 49h1M10 50h1M80 50h1M92 50h1M7 51h1M9 51h1M83 51h2M5 52h1M84 52h1M2 53h1M4 54h1M91 54h1M0 55h1M31 55h1M89 55h1M1 56h1M68 57h1M66 59h1M1 61h1M63 61h1M68 61h2M96 61h1M2 62h2M75 62h1M69 63h1M71 63h1M77 63h1M70 64h1M73 64h1M2 65h1M10 65h1M20 65h1M66 65h1M70 65h2M0 66h2M11 66h1M71 66h1M73 66h1M79 66h1M72 67h1M13 68h1M81 68h1M10 69h2M14 69h1M74 69h1M91 69h1M95 69h1M3 70h1M20 70h1M83 70h1M86 70h1M94 70h1M12 71h1M73 71h1M12 72h1M54 72h1M83 72h1M88 72h1"/>
<path stroke="#ffcfcf" d="M6 0h1M40 0h1M75 0h1M6 1h1M28 1h1M34 1h1M40 1h1M42 1h2M11 2h1M25 2h2M30 2h1M11 3h1M17 3h1M22 3h1M24 3h1M74 3h1M36 4h1M72 4h1M76 4h1M31 5h1M66 5h1M75 5h2M27 6h1M30 6h2M39 6h1M66 6h1M75 6h2M71 7h1M87 7h1M67 8h2M31 9h1M35 9h1M64 9h1M67 9h1M73 9h1M91 9h2M94 9h3M30 10h1M59 10h1M70 10h1M89 10h1M91 10h1M30 11h1M65 11h2M88 11h1M90 11h1M19 12h1M38 12h1M69 12h1M75 12h1M91 12h1M18 13h1M38 13h1M64 13h2M69 13h1M93 13h2M43 14h1M45 14h1M93 14h2M36 15h1M60 15h1M67 15h1M34 16h1M58 16h1M73 16h1M45 17h1M58 17h1M63 17h1M69 17h1M74 17h1M19 18h1M72 18h1M18 19h1M32 19h1M63 19h1M67 19h1M70 19h1M24 20h1M31 20h1M34 20h1M41 20h1M51 20h2M59 20h1M67 20h1M18 21h1M24 21h1M30 21h2M36 21h1M44 21h1M46 21h1M53 21h1M28 22h1M35 22h1M65 22h1M24 23h3M30 23h1M44 23h1M64 23h1M17 25h1M25 25h1M45 25h1M65 25h1M25 26h2M39 26h1M55 26h1M23 27h1M40 27h1M58 27h1M64 27h1M20 28h1M34 28h1M39 28h1M52 28h1M96 28h1M24 29h1M41 29h1M45 29h1M71 29h1M42 30h1M44 30h1M23 31h2M27 31h1M34 31h1M35 32h1M44 32h1M87 32h1M36 33h1M33 35h1M58 35h1M86 35h2M69 36h1M26 37h1M78 37h1M35 38h1M89 38h1M26 39h1M33 39h1M35 39h1M37 39h1M83 39h1M89 39h1M31 40h1M34 40h1M81 40h1M83 40h1M86 40h1M30 41h1M35 41h1M77 41h1M81 42h1M87 42h1M79 43h1M82 43h1M87 43h1M85 44h1M83 45h1M80 46h1M86 46h1M3 47h1M91 47h1M94 48h1M2 49h1M88 49h1M94 49h1M81 51h1M88 51h1M80 52h1M91 52h2M96 53h1M92 55h1M94 55h1M96 55h1M0 57h1M67 57h1M2 58h1M2 61h1M95 61h1M72 62h1M78 62h1M76 63h1M78 63h1M72 65h1M14 67h1M92 67h1M11 68h1M14 68h1M20 68h1M12 69h1M67 69h1M73 69h1M94 69h1M12 70h1M84 70h1M84 71h1M9 72h2M74 72h1"/>
<path stroke="#ffefef" d="M7 0h1M29 0h1M83 0h1M86 0h1M7 1h1M74 1h1M14 2h1M80 2h1M83 2h1M85 2h1M2 3h1M71 3h1M85 3h1M91 3h1M4 4h3M3 5h1M5 5h1M72 5h1M74 5h1M94 5h1M72 6h2M15 7h2M73 7h1M83 7h3M95 7h1M84 8h1M77 10h1M84 10h1M94 10h2M78 11h2M70 12h1M90 12h1M96 12h1M12 13h2M17 13h1M70 13h1M84 13h1M90 13h1M13 14h1M17 14h1M71 14h1M35 15h1M94 15h1M0 16h1M94 16h1M15 17h1M67 17h1M75 17h1M63 18h1M74 18h1M89 18h1M15 19h1M17 19h1M92 19h1M96 19h1M47 21h1M55 21h2M59 21h1M74 21h2M86 21h1M24 22h1M47 22h3M53 22h1M56 22h1M58 22h1M70 22h2M75 22h1M95 22h2M19 23h1M46 23h1M53 23h2M39 24h1M50 24h1M58 24h1M60 24h1M69 24h2M27 25h1M29 25h1M31 25h1M33 25h1M40 25h2M51 25h2M75 25h1M29 26h1M31 26h1M53 26h2M68 26h1M71 26h1M80 26h1M20 27h1M24 27h1M31 27h1M48 27h1M53 27h1M55 27h1M70 27h3M77 27h1M96 27h1M30 28h1M32 28h1M45 28h1M62 28h1M65 28h2M70 28h2M73 28h2M89 28h1M95 28h1M32 29h1M46 29h1M49 29h1M60 29h1M64 29h1M73 29h1M79 29h1M89 29h1M26 30h1M31 30h1M59 30h1M66 30h1M71 30h1M75 30h1M88 30h1M25 31h1M52 31h1M65 31h1M67 31h1M71 31h1M84 31h1M88 31h1M24 32h1M28 32h1M32 32h1M52 32h1M68 32h1M5 33h1M72 33h1M79 33h1M85 33h1M87 33h1M95 33h2M27 34h1M73 34h1M89 34h1M95 34h1M2 35h1M37 35h1M45 35h1M69 35h1M75 35h1M80 35h1M96 35h1M56 36h1M76 36h1M91 36h1M0 37h1M32 37h2M39 37h2M50 37h1M89 37h1M95 37h1M27 38h1M32 38h1M40 38h1M53 38h1M69 38h1M80 38h1M83 38h1M90 38h1M27 39h1M36 39h1M72 39h1M29 40h1M73 40h1M91 40h1M93 40h1M82 41h1M86 41h1M33 42h2M86 42h1M31 43h1M75 43h1M3 45h1M9 45h1M30 45h2M33 45h1M76 45h1M79 45h1M28 46h1M29 47h1M62 47h1M64 47h1M76 47h1M90 47h1M6 50h2M11 50h1M28 50h1M0 51h1M6 51h1M8 51h1M65 51h1M77 51h1M4 53h1M10 53h1M95 53h1M5 54h2M1 55h3M56 55h1M65 55h1M67 55h1M25 56h1M66 56h1M25 57h1M57 57h1M70 57h1M0 58h1M62 58h1M65 58h2M17 60h1M22 60h1M92 60h1M66 61h1M70 61h1M0 62h1M71 62h1M73 62h1M76 62h1M2 63h1M68 63h1M70 63h1M74 63h2M3 64h2M66 64h1M75 64h1M78 64h1M0 65h1M3 65h1M15 65h1M77 65h2M2 66h1M77 66h1M11 67h1M65 67h1M69 67h1M71 67h1M77 67h1M79 67h1M69 68h1M3 69h1M13 69h1M68 69h1M72 69h1M76 69h1M8 70h1M13 70h1M68 70h1M87 70h1M10 71h1M13 71h1M49 71h2M67 71h1M70 71h2M77 71h1M85 71h1M92 71h1M16 72h1M53 72h1M79 72h1M92 72h1"/>
<path stroke="#ffd7d7" d="M9 0h1M11 0h1M39 0h1M41 0h1M45 0h1M85 0h1M12 1h1M20 1h1M24 1h1M46 1h1M86 1h1M96 1h1M7 2h1M12 2h1M29 2h1M32 2h1M34 2h2M40 2h2M74 2h1M96 2h1M12 3h1M15 3h1M19 3h1M56 3h1M67 3h1M69 3h1M72 3h1M96 3h1M14 4h1M67 4h3M16 5h1M28 5h1M44 5h1M67 5h1M85 5h1M16 6h1M23 6h1M77 6h1M86 6h2M86 7h1M91 7h1M93 7h1M10 8h1M56 8h1M69 8h1M74 8h1M80 8h1M91 8h1M93 8h1M95 8h1M10 9h1M30 9h1M49 9h1M65 9h1M69 9h1M72 9h1M28 10h2M34 10h1M37 10h1M65 10h1M71 10h1M76 10h1M86 10h1M90 10h1M18 11h1M20 11h1M32 11h1M37 11h1M85 11h1M91 11h1M67 12h1M74 12h1M20 13h1M37 13h1M63 13h1M67 13h1M74 13h1M63 14h1M92 14h1M66 15h1M75 15h1M92 15h2M70 16h1M60 17h1M62 18h1M64 18h1M73 18h1M96 18h1M62 19h1M66 19h1M69 19h1M74 19h1M37 20h1M70 20h1M73 20h1M29 21h1M41 21h2M48 21h1M51 21h1M54 21h1M58 21h1M60 21h1M63 21h1M15 22h1M50 22h1M68 22h2M73 22h1M18 23h1M59 23h2M66 23h1M73 23h1M20 24h2M44 24h1M49 24h1M59 24h1M65 24h1M75 24h1M28 25h1M68 25h1M57 26h2M66 26h1M69 26h2M79 26h1M81 26h1M86 26h1M28 27h1M33 27h1M54 27h1M59 27h1M92 27h1M25 28h1M61 28h1M91 28h1M25 29h1M39 29h1M48 29h1M38 30h1M60 30h1M28 31h1M85 31h1M40 32h1M56 32h1M28 33h3M40 33h2M44 33h2M84 33h1M88 33h1M34 34h1M91 34h1M96 34h1M26 35h1M74 35h1M90 35h2M27 36h1M34 36h2M37 36h1M57 36h1M35 37h1M37 37h1M69 37h2M80 37h1M96 37h1M39 38h1M84 38h1M38 39h1M90 39h1M35 40h1M80 40h1M87 40h1M90 40h1M88 41h2M30 42h1M78 42h1M28 43h1M30 43h1M83 43h1M86 43h1M89 43h2M92 43h1M31 44h1M79 44h1M87 44h1M91 44h1M88 45h1M90 45h1M4 46h1M31 46h1M76 46h1M89 46h1M92 47h1M88 48h1M80 49h1M86 49h1M81 50h3M94 50h1M78 51h1M91 51h1M94 51h1M1 52h1M3 52h1M6 52h1M90 53h3M32 54h1M90 54h1M92 54h1M96 54h1M91 55h1M0 56h1M94 56h1M96 56h1M24 57h1M25 58h1M65 60h1M93 60h1M96 60h1M64 61h1M68 62h1M77 62h1M79 62h1M96 62h1M71 64h1M76 64h2M1 65h1M80 65h1M81 66h1M0 67h1M66 67h2M93 67h1M10 68h1M68 68h1M77 68h1M79 68h1M78 69h1M81 69h2M92 69h1M73 70h1M85 70h1M11 71h1M83 71h1M11 72h1M91 72h1M95 72h1"/>
<path stroke="#fff7f7" d="M10 0h1M31 0h1M33 0h1M89 0h1M95 0h1M5 1h1M18 1h2M22 1h2M94 1h2M5 2h1M22 2h1M84 2h1M86 2h2M89 2h1M6 3h1M14 3h1M68 3h1M86 3h1M88 3h1M94 3h1M70 4h1M85 4h1M92 4h3M14 5h1M69 5h1M91 5h1M71 6h1M80 6h1M85 6h1M89 6h2M93 6h1M7 7h1M74 7h1M81 7h1M7 8h1M88 8h1M2 9h1M11 9h1M76 9h1M9 10h2M68 10h2M88 10h1M93 10h1M15 11h1M70 11h1M76 11h1M86 12h1M0 13h1M73 13h1M86 13h1M89 13h1M96 13h1M1 14h1M4 14h1M73 14h1M91 14h1M0 15h1M17 15h1M76 15h2M90 15h1M7 16h1M95 16h1M77 17h1M95 17h1M18 18h1M66 18h2M70 18h1M89 19h1M74 20h1M86 20h1M88 20h1M96 20h1M22 21h1M25 21h1M62 21h1M72 21h1M96 21h1M19 22h1M25 22h1M54 22h1M62 22h1M21 23h1M48 23h1M50 23h3M58 23h1M70 23h2M94 23h1M11 24h1M41 24h1M47 24h2M52 24h2M57 24h1M63 24h1M77 24h1M87 24h1M89 24h2M9 25h2M20 25h1M32 25h1M46 25h1M49 25h2M56 25h3M70 25h1M76 25h2M95 25h1M18 26h1M20 26h1M72 26h1M76 26h1M78 26h1M94 26h1M18 27h1M26 27h1M43 27h1M46 27h1M49 27h1M52 27h1M66 27h1M69 27h1M73 27h1M75 27h2M95 27h1M27 28h1M44 28h1M53 28h1M57 28h1M63 28h1M84 28h1M90 28h1M93 28h1M33 29h1M56 29h1M67 29h1M69 29h1M74 29h1M0 30h1M48 30h1M76 30h1M90 30h1M92 30h3M30 31h1M61 31h1M68 31h1M75 31h1M31 32h1M33 32h1M53 32h1M90 32h1M2 33h2M33 33h1M43 33h1M51 33h1M55 33h1M63 33h1M71 33h1M77 33h2M93 33h1M31 34h1M45 34h1M49 34h3M62 34h1M72 34h1M74 34h1M78 34h1M92 34h1M0 35h1M32 35h1M51 35h1M56 35h1M61 35h1M77 35h1M88 35h1M32 36h1M47 36h1M72 36h1M75 36h1M77 36h1M92 36h1M1 37h1M27 37h1M49 37h1M92 37h1M26 38h1M30 38h2M79 38h1M88 38h1M93 38h1M32 39h1M39 39h1M41 39h1M74 39h1M28 40h1M30 40h1M33 40h1M36 40h1M64 40h1M72 40h1M28 41h1M35 42h1M75 42h1M2 43h2M5 43h1M34 43h1M30 44h1M32 44h1M75 44h1M34 45h1M5 46h1M33 46h1M79 46h1M35 47h1M63 47h1M77 47h1M6 48h1M28 48h2M7 49h1M30 49h1M8 50h1M64 51h1M0 52h1M7 52h1M9 52h3M32 52h1M34 52h1M5 53h3M9 53h1M28 53h1M94 53h1M7 54h1M33 54h1M55 54h1M94 54h1M4 55h1M52 56h1M57 56h1M67 56h1M89 56h1M23 57h1M56 57h1M69 57h1M68 58h1M2 59h1M71 59h1M66 60h2M69 60h1M3 61h1M73 61h1M1 62h1M14 62h1M67 62h1M69 62h2M0 63h1M17 63h1M21 63h1M26 63h1M0 64h3M69 64h1M79 64h1M9 65h1M11 65h1M14 65h1M16 65h1M19 65h1M79 65h1M6 66h1M21 66h1M6 67h1M9 67h1M12 67h1M19 67h1M21 67h2M6 68h3M19 68h1M21 68h1M65 68h1M72 68h1M5 69h1M71 69h1M4 70h1M6 70h1M9 70h1M14 70h1M30 70h1M47 70h1M71 70h1M77 70h1M79 70h1M81 70h1M17 71h1M19 71h1M38 71h1M72 71h1M74 71h1M78 71h1M80 71h1M86 71h1M95 71h1M8 72h1M14 72h1M19 72h1M30 72h2M33 72h1M55 72h1M57 72h1M61 72h2M75 72h1M82 72h1M90 72h1"/>
<path stroke="#d7d7ff" d="M16 0h3M91 0h1M14 1h2M3 2h1M11 5h1M4 6h1M8 6h1M96 6h1M1 8h2M5 8h1M4 9h1M7 9h1M5 10h1M8 10h1M3 11h1M11 11h2M81 11h1M3 12h3M9 12h2M82 12h1M7 13h1M82 14h1M4 16h1M85 16h1M3 17h1M16 17h1M78 17h1M1 18h1M3 18h1M5 18h1M88 18h1M78 19h1M95 19h1M11 20h1M78 21h1M85 21h1M87 21h1M91 21h1M3 22h1M5 22h2M10 22h1M2 23h1M9 23h1M1 24h1M9 24h1M7 25h2M8 26h2M88 26h1M2 27h1M4 27h1M10 27h1M12 27h1M2 28h1M4 28h1M6 28h1M2 29h2M11 29h1M2 30h1M8 30h1M54 30h1M91 30h1M5 31h1M9 31h1M77 31h1M9 32h2M47 32h1M63 32h1M9 33h1M59 33h1M69 33h1M0 34h1M8 34h1M53 34h1M5 35h1M47 35h1M52 35h1M2 37h1M4 37h1M10 37h1M12 37h1M55 37h2M61 37h1M71 37h1M6 38h1M13 38h1M48 38h1M56 38h1M60 38h2M8 39h2M60 39h1M62 39h1M77 39h1M6 40h1M8 40h1M12 40h1M58 40h3M71 40h1M4 41h1M7 41h1M10 41h2M48 41h1M69 41h2M11 42h1M37 42h1M40 42h1M62 42h3M7 43h1M38 43h1M57 43h1M71 43h1M74 43h1M49 44h1M53 44h1M60 44h1M62 44h1M70 44h1M6 45h1M36 45h1M49 45h2M53 45h1M64 45h1M37 46h2M51 46h1M63 46h1M37 47h1M42 47h1M47 47h1M60 47h1M74 47h1M78 47h1M33 48h1M36 48h1M51 48h1M61 48h1M9 49h1M35 49h1M47 49h1M51 49h1M56 49h1M73 49h1M29 50h1M50 50h1M36 51h1M51 51h1M12 52h1M51 52h1M49 53h1M51 53h1M62 53h1M51 54h1M54 54h1M52 55h1M60 55h1M4 56h1M28 56h3M33 56h1M19 59h1M18 60h1M19 61h1M59 61h1M40 62h1M50 62h2M58 62h1M61 62h1M9 63h1M31 63h1M44 63h1M47 63h1M50 63h1M57 63h2M11 64h1M46 64h1M63 64h1M41 65h1M46 65h2M49 65h1M69 65h1M5 66h1M18 66h1M42 66h2M47 66h2M53 66h2M65 66h1M5 67h1M31 67h2M43 67h1M49 67h1M51 67h1M59 67h1M62 67h1M64 67h1M31 68h1M38 68h1M52 68h1M60 68h1M0 69h1M17 69h1M25 69h2M35 69h1M42 69h1M58 69h1M32 70h2M22 71h1M29 71h1M59 71h1M3 72h2M23 72h1M28 72h1M35 72h1M49 72h1"/>
<path stroke="#efefff" d="M19 0h1M79 0h3M78 1h1M90 1h1M93 1h1M78 2h1M92 2h1M7 3h1M83 3h1M87 3h1M89 3h2M10 4h1M86 4h1M88 4h2M0 5h1M8 5h1M12 5h1M83 5h1M2 6h2M7 6h1M10 6h1M12 6h1M13 7h2M96 7h1M8 8h1M76 8h1M8 9h1M77 9h1M3 10h1M80 11h1M83 11h1M94 11h1M6 12h1M15 12h1M77 12h1M4 13h1M77 13h2M5 14h1M76 14h1M83 14h1M96 14h1M1 15h1M78 15h1M1 16h1M15 16h1M90 16h2M2 17h1M17 17h1M86 17h1M94 17h1M4 18h1M91 18h1M0 19h1M76 19h1M88 19h1M93 19h1M0 20h1M12 20h1M87 20h1M91 20h1M95 20h1M7 21h2M76 21h1M90 21h1M95 21h1M2 22h1M8 22h1M76 22h1M87 22h1M11 23h1M41 23h1M57 23h1M76 23h1M78 23h1M92 23h1M72 24h2M78 24h1M93 24h2M0 25h1M62 25h1M0 26h1M12 26h1M33 26h1M74 26h2M3 27h1M6 27h1M78 27h1M89 27h1M0 28h1M3 28h1M46 28h1M49 28h1M83 28h1M88 28h1M1 29h1M55 29h1M57 29h1M78 29h1M80 29h1M83 29h1M1 30h1M7 30h1M45 30h1M47 30h1M56 30h1M81 30h2M84 30h1M95 30h1M2 31h1M48 31h1M69 31h1M83 31h1M90 31h1M93 31h1M46 32h1M49 32h1M92 32h1M94 32h1M32 33h1M46 33h1M49 33h1M54 33h1M60 33h1M70 33h1M94 33h1M4 34h1M77 34h1M79 34h1M93 34h1M28 35h1M49 35h1M62 35h3M93 35h1M9 36h1M52 36h1M61 36h1M48 37h1M52 37h2M64 37h1M83 37h1M91 37h1M94 37h1M0 38h1M3 38h2M28 38h1M63 38h2M74 38h2M94 38h1M1 39h1M4 39h1M7 39h1M47 39h3M53 39h1M63 39h1M70 39h2M81 39h1M92 39h2M11 40h1M40 40h1M50 40h1M53 40h1M63 40h1M69 40h1M5 41h2M49 41h2M55 41h1M55 42h1M72 42h1M76 42h1M4 43h1M33 43h1M73 43h1M2 44h1M4 44h1M10 44h1M76 44h1M2 45h1M77 45h1M7 46h2M10 46h1M74 46h1M79 47h1M7 48h1M75 48h1M10 49h1M77 49h2M0 50h1M35 50h1M31 51h1M28 52h1M31 52h1M85 52h1M12 53h1M30 53h2M31 54h1M50 54h1M58 54h1M63 54h2M33 55h1M55 55h1M57 55h1M63 55h1M23 56h1M31 56h1M65 56h1M58 57h2M64 57h1M63 58h1M1 59h1M20 59h1M59 59h1M63 59h1M73 59h1M24 60h1M60 60h1M6 61h1M11 61h1M13 61h1M17 61h1M22 61h1M26 61h1M72 61h1M13 62h1M15 62h1M25 62h1M59 62h2M6 63h1M10 63h1M14 63h1M16 63h1M25 63h1M27 63h1M5 64h1M9 64h2M14 64h1M16 64h4M21 64h1M25 64h1M4 65h1M17 65h1M21 65h1M23 65h1M26 65h1M43 65h1M3 66h1M9 66h1M26 66h2M68 66h1M75 66h2M2 67h1M7 67h2M16 67h1M27 67h1M3 68h1M5 68h1M24 68h1M27 68h1M61 68h1M64 68h1M4 69h1M9 69h1M16 69h1M22 69h2M28 69h1M32 69h1M47 69h2M61 69h1M7 70h1M18 70h1M59 70h2M69 70h2M91 70h1M4 71h1M21 71h1M26 71h1M28 71h1M33 71h1M36 71h1M56 71h1M63 71h1M82 71h1M91 71h1M6 72h1M20 72h1M27 72h1M40 72h1M60 72h1M65 72h1M69 72h1M78 72h1M84 72h1"/>
<path stroke="#ffc7c7" d="M20 0h1M24 0h1M28 0h1M37 0h1M74 0h1M87 0h2M44 1h1M87 1h1M21 2h1M27 2h1M33 2h1M42 2h1M21 3h1M23 3h1M28 3h2M32 3h2M35 3h1M21 4h1M31 4h2M35 4h1M43 4h2M73 4h1M30 5h1M51 5h1M22 6h1M28 6h1M32 6h1M38 6h1M45 6h1M52 6h1M62 6h1M50 7h1M67 7h1M79 7h1M22 8h1M24 8h1M96 8h1M24 9h1M29 9h1M42 9h1M27 10h1M31 10h3M36 10h1M64 10h1M73 10h1M96 10h1M72 11h2M92 11h1M37 12h1M89 12h1M36 13h1M66 13h1M75 13h1M18 14h2M29 14h1M66 14h1M68 14h1M70 14h1M68 15h1M73 15h1M18 16h1M29 16h2M32 16h2M57 16h1M63 16h1M66 16h1M69 16h1M18 17h2M29 17h2M65 17h1M29 18h1M58 18h1M65 18h1M26 19h1M30 19h2M34 19h1M38 19h1M53 19h1M64 19h1M73 19h1M14 20h1M30 20h1M35 20h1M43 20h1M47 20h1M62 20h1M66 20h1M72 20h1M26 21h1M32 21h1M43 21h1M61 21h1M67 21h1M42 22h1M27 23h1M29 23h1M32 23h1M67 23h1M23 24h1M25 24h1M45 24h1M66 24h1M67 25h1M22 26h1M41 26h1M91 26h1M39 27h1M42 27h1M91 27h1M28 28h1M33 28h1M68 29h1M21 30h1M40 30h2M51 31h1M86 32h1M86 33h1M36 35h1M80 36h1M34 37h1M85 37h1M33 38h1M36 38h2M34 39h1M86 39h1M32 40h1M82 40h1M79 41h2M83 41h1M85 41h1M84 42h1M81 43h1M29 44h1M84 44h1M89 44h1M80 45h1M81 46h2M87 47h1M5 48h1M86 48h2M92 48h1M5 49h1M84 49h2M87 49h1M90 49h3M85 50h1M90 50h1M93 50h1M85 51h1M90 51h1M93 51h1M2 52h1M4 52h1M82 52h1M90 52h1M90 55h1M93 55h1M88 56h1M92 56h2M95 56h1M94 59h1M94 60h2M3 63h1M72 63h1M79 63h1M72 64h1M20 67h1M81 67h1M94 67h2M12 68h1M67 68h1M92 68h1M87 69h1M90 69h1M11 70h1M7 71h2M96 72h1"/>
<path stroke="#ffb7b7" d="M21 0h1M44 0h1M96 0h1M21 1h1M39 1h1M31 2h1M44 2h1M47 2h1M16 3h1M34 3h1M36 3h1M40 3h2M44 3h1M58 3h1M17 4h1M23 4h2M27 4h1M33 4h1M39 4h1M17 5h1M20 5h1M23 5h1M38 5h1M41 5h1M50 5h1M52 5h1M17 6h1M43 6h1M65 6h1M18 7h1M28 7h1M51 7h1M62 7h1M66 7h1M23 8h1M50 8h3M71 8h1M25 9h1M32 9h1M37 9h1M41 9h1M47 9h1M59 9h3M63 9h1M19 10h1M25 10h1M38 10h1M51 10h1M75 10h1M21 11h1M27 11h2M39 11h1M49 11h1M60 11h1M30 12h3M36 12h1M46 12h1M61 12h2M43 13h1M51 13h1M60 13h3M36 14h1M46 14h3M58 14h1M65 14h1M74 14h1M19 15h1M48 15h1M57 15h1M61 15h2M69 15h1M19 16h1M22 16h1M36 16h1M44 16h2M74 16h1M20 17h1M25 17h1M28 17h1M36 17h1M57 17h1M59 17h1M30 18h2M33 18h2M45 18h1M22 19h1M29 19h1M35 19h2M45 19h1M58 19h1M15 20h1M44 20h1M53 20h1M55 20h2M65 20h1M71 20h1M17 21h1M50 21h1M44 22h1M23 23h1M34 23h1M45 23h1M29 24h1M31 24h1M22 27h1M34 27h1M41 27h1M56 27h1M40 28h1M50 29h1M39 31h2M85 32h1M35 34h1M44 35h1M36 37h1M86 38h1M33 41h1M81 41h1M83 42h1M85 42h1M89 42h1M91 45h2M4 47h2M81 47h1M83 47h1M86 47h1M82 48h1M87 50h1M91 50h1M2 51h1M80 51h1M79 52h1M87 53h1M87 54h1M88 55h1M93 58h1M95 58h1M65 61h1M83 62h1M83 63h1M85 63h1M96 63h1M94 66h1M82 67h1M91 68h1M86 69h1M89 69h1M93 69h1"/>
<path stroke="#ffbfbf" d="M22 0h1M36 0h1M38 0h1M42 0h1M11 1h1M35 1h1M45 1h1M18 3h1M26 3h1M31 3h1M42 3h1M50 3h1M55 3h1M57 3h1M65 3h1M75 3h1M20 4h1M45 4h1M65 4h2M22 5h1M27 5h1M32 5h1M37 5h1M39 5h1M43 5h1M45 5h1M73 5h1M29 6h1M37 6h1M40 6h1M51 6h1M63 6h2M22 7h1M26 7h1M29 7h1M40 7h1M56 7h2M77 7h1M92 7h1M21 8h1M25 8h1M27 8h2M30 8h1M33 8h2M59 8h1M65 8h1M70 8h1M20 9h1M28 9h1M71 9h1M74 9h1M23 10h1M63 10h1M66 10h1M19 11h1M29 11h1M33 11h1M36 11h1M74 11h1M18 12h1M21 12h1M60 12h1M65 12h2M21 13h1M20 14h1M30 14h1M75 14h1M18 15h1M34 15h1M45 15h2M20 16h1M28 16h1M62 16h1M67 16h1M75 16h1M21 17h1M32 17h1M46 18h1M57 18h1M61 18h1M20 19h1M24 19h1M28 19h1M33 19h1M37 19h1M57 19h1M61 19h1M71 19h2M16 20h1M20 20h1M23 20h1M29 20h1M32 20h1M36 20h1M42 20h1M46 20h1M61 20h1M28 21h1M37 21h1M45 21h1M64 21h1M70 21h2M31 22h1M36 22h1M45 22h1M64 22h1M66 22h2M15 23h1M31 23h1M65 23h1M24 24h1M26 24h1M28 24h1M32 24h1M38 26h1M56 26h1M92 26h1M22 28h1M38 28h1M41 28h1M21 29h1M28 29h1M38 29h1M40 29h1M24 30h1M28 30h1M39 30h1M43 30h1M51 30h1M34 35h1M70 36h1M81 36h1M85 38h1M84 39h2M27 40h1M84 40h2M29 42h1M32 42h1M82 42h1M90 42h1M80 43h1M88 43h1M28 44h1M80 44h2M86 44h1M88 44h1M81 45h2M87 45h1M91 46h1M30 47h1M82 47h1M83 49h1M5 50h1M84 50h1M86 50h1M88 50h1M1 51h1M79 51h1M89 51h1M78 52h1M83 52h1M95 55h1M91 56h1M92 57h1M92 58h1M94 58h1M96 58h1M93 59h1M80 62h3M81 65h1M78 68h1M94 68h1M96 68h1"/>
<path stroke="#ffafaf" d="M25 0h1M43 0h1M25 1h1M36 2h1M45 2h2M25 3h1M37 3h1M43 3h1M51 3h1M59 3h2M66 3h1M26 4h1M28 4h1M37 4h1M42 4h1M50 4h1M55 4h1M57 4h1M64 4h1M35 5h1M64 5h2M26 6h1M33 6h1M44 6h1M23 7h1M39 7h1M52 7h1M61 7h1M64 7h2M70 7h1M32 8h1M57 8h1M60 8h2M63 8h2M18 9h1M23 9h1M33 9h2M36 9h1M38 9h1M40 9h1M48 9h1M51 9h1M56 9h1M58 9h1M62 9h1M21 10h1M24 10h1M49 10h1M52 10h1M43 11h1M46 11h1M48 11h1M27 12h1M29 12h1M35 12h1M51 12h1M59 12h1M64 12h1M27 13h2M30 13h2M39 13h1M44 13h2M49 14h1M52 14h1M59 14h2M62 14h1M26 15h1M28 15h2M41 15h1M56 15h1M63 15h1M65 15h1M70 15h1M23 16h1M27 16h1M31 16h1M35 16h1M42 16h1M46 16h1M61 16h1M68 16h1M31 17h1M35 17h1M44 17h1M51 17h1M20 18h1M28 18h1M32 18h1M52 18h1M60 18h1M43 19h1M47 19h1M25 20h3M45 20h1M48 20h1M54 20h1M63 20h1M16 21h1M68 21h1M16 24h1M34 24h1M40 26h1M21 27h1M38 27h1M21 28h1M23 28h1M20 29h1M22 29h1M61 29h1M27 30h1M57 33h1M44 34h1M87 38h1M87 39h1M84 41h1M80 42h1M29 43h1M85 43h1M84 45h1M83 46h1M92 46h1M3 48h2M91 48h1M81 49h2M5 51h1M86 51h1M92 51h1M87 52h3M88 53h2M89 54h1M94 57h2M95 59h2M82 63h1M80 64h1M82 65h1M82 66h1M83 69h2M88 69h1"/>
<path stroke="#ff9f9f" d="M26 0h1M26 1h2M37 1h1M37 2h1M45 3h1M61 3h1M64 3h1M18 4h2M34 4h1M38 4h1M51 4h1M58 4h1M62 4h1M21 5h1M25 5h2M29 5h1M33 5h1M62 5h1M19 6h2M61 6h1M34 7h1M58 7h1M20 8h1M26 8h1M29 8h1M37 8h1M39 8h2M21 9h2M50 9h1M42 10h1M50 10h1M22 11h1M26 11h1M50 11h1M58 11h2M28 12h1M39 12h1M46 13h1M56 13h3M55 14h1M64 14h1M30 15h1M43 15h1M47 15h1M51 15h1M64 15h1M21 16h1M56 16h1M24 17h1M34 17h1M43 17h1M64 17h1M21 18h4M37 18h1M51 18h1M53 18h1M59 18h1M51 19h1M54 19h1M64 20h1M27 21h1M66 21h1M33 23h1M23 30h1M32 41h1M84 46h1M84 47h1M4 51h1M86 64h1M88 66h1M96 66h1M83 67h1M88 67h1M91 67h1M83 68h1M87 68h1"/>
<path stroke="#ffa7a7" d="M27 0h1M36 1h1M27 3h1M62 3h1M22 4h1M40 4h1M52 4h1M24 5h1M36 5h1M40 5h1M42 5h1M24 6h1M36 6h1M50 6h1M33 7h1M37 7h1M41 7h1M63 7h1M18 8h2M35 8h2M41 8h2M55 8h1M62 8h1M26 9h2M39 9h1M20 10h1M39 10h1M43 10h1M62 10h1M74 10h1M47 11h1M51 11h1M62 11h1M64 11h1M75 11h1M22 12h1M43 12h1M47 12h1M49 12h1M58 12h1M29 13h1M48 13h2M28 14h1M61 14h1M69 14h1M25 15h1M27 15h1M42 15h1M44 15h1M58 15h2M24 16h2M41 16h1M43 16h1M22 17h2M26 17h2M33 17h1M46 17h1M52 17h1M25 18h2M35 18h2M38 18h1M43 18h2M56 18h1M21 19h1M23 19h1M25 19h1M27 19h1M44 19h1M46 19h1M52 19h1M56 19h1M60 19h1M50 20h1M60 20h1M49 21h1M23 29h1M31 42h1M88 42h1M84 43h1M92 44h1M85 45h1M89 45h1M85 46h1M81 48h1M83 48h1M2 50h1M93 57h1M84 62h2M80 63h2M83 66h3M93 66h1M86 67h1M96 67h1M82 68h1M93 68h1M95 68h1M85 69h1"/>
<path stroke="#dfdfff" d="M90 0h1M92 0h1M4 1h1M9 1h1M80 1h1M92 1h1M2 4h1M8 4h2M10 5h1M1 6h1M6 6h1M13 6h1M81 6h1M4 7h1M6 7h1M12 8h1M12 9h1M16 9h1M1 10h1M4 10h1M16 10h1M79 10h1M81 10h1M2 11h1M5 11h1M77 11h1M82 11h1M0 12h1M5 13h1M9 13h1M16 13h1M16 14h1M4 15h1M15 15h2M85 15h2M16 16h1M90 17h1M14 18h1M16 18h2M87 18h1M90 18h1M95 18h1M86 19h1M94 19h1M1 20h1M10 20h1M1 21h2M88 21h1M9 22h1M91 22h1M7 23h2M10 23h1M79 23h1M90 23h2M93 23h1M96 24h1M1 25h1M12 25h1M61 25h1M80 25h2M7 28h1M54 29h1M84 29h1M11 30h1M55 30h1M77 30h1M83 30h1M96 30h1M10 31h1M47 31h1M94 31h1M96 31h1M1 32h1M12 32h1M48 32h1M77 32h1M1 33h1M4 33h1M7 33h2M12 33h1M53 33h1M7 34h1M9 34h1M10 35h1M12 35h1M53 35h1M30 36h1M51 36h1M59 36h1M64 36h1M74 36h1M93 36h1M95 36h1M3 37h1M5 37h1M62 37h1M51 38h1M57 38h1M76 38h1M0 39h1M6 39h1M13 39h1M51 39h2M69 39h1M2 40h1M9 40h1M39 40h1M54 40h1M62 40h1M3 41h1M40 41h1M51 41h1M53 41h1M64 41h1M74 41h1M9 42h1M12 42h1M57 42h2M9 43h2M39 43h2M55 43h2M5 44h1M7 44h1M57 44h2M64 44h1M73 44h2M51 45h1M71 45h1M6 46h1M0 47h1M10 47h1M33 47h2M36 47h1M39 47h1M49 47h1M1 48h1M9 48h2M35 48h1M40 48h2M76 48h1M79 48h1M34 49h1M32 50h3M32 51h1M30 52h1M50 52h1M55 53h1M0 54h1M49 54h1M62 54h1M67 54h1M53 56h1M55 56h1M62 56h1M29 57h1M60 57h1M62 57h1M61 58h1M13 59h1M15 59h2M23 59h1M68 59h1M19 60h1M27 60h1M57 60h1M59 60h1M62 60h1M7 61h1M12 61h1M16 61h1M24 61h2M27 61h1M60 61h1M16 62h1M21 62h1M44 62h1M46 62h2M8 63h1M11 63h1M20 63h1M59 63h1M64 63h1M13 64h1M31 64h1M58 64h1M64 64h1M12 65h2M22 65h1M24 65h1M45 65h1M63 65h2M12 66h1M17 66h1M50 66h1M58 66h2M53 67h1M57 67h1M1 68h2M23 68h1M37 68h1M39 68h1M59 68h1M75 68h1M29 69h1M33 69h1M39 69h1M49 69h2M59 69h1M64 69h1M70 69h1M75 69h1M1 70h1M15 70h1M17 70h1M22 70h1M35 70h1M46 70h1M51 70h1M53 70h1M76 70h1M96 70h1M5 71h1M23 71h1M31 71h1M34 71h1M58 71h1M61 71h2M66 71h1M68 71h2M75 71h1M1 72h1M25 72h1M32 72h1M41 72h2M51 72h1M58 72h2M72 72h1"/>
<path stroke="#ff9797" d="M38 1h1M38 2h2M38 3h1M52 3h3M63 3h1M25 4h1M29 4h2M41 4h1M54 4h1M56 4h1M19 5h1M53 5h1M63 5h1M21 6h1M35 6h1M56 6h1M20 7h2M32 7h1M35 7h1M42 7h1M55 7h1M60 7h1M58 8h1M19 9h1M52 9h1M57 9h1M22 10h1M26 10h1M44 10h1M47 10h1M60 10h2M24 11h1M63 11h1M26 12h1M45 12h1M48 12h1M50 12h1M53 12h1M57 12h1M63 12h1M47 13h1M55 13h1M27 14h1M31 14h1M34 14h1M51 14h1M20 15h1M31 15h2M49 15h1M52 15h1M55 15h1M51 16h1M53 16h1M55 16h1M65 16h1M27 18h1M50 18h1M50 19h1M59 19h1M28 20h1M31 41h1M3 51h1M87 51h1M88 54h1M95 63h1M82 64h1M88 64h1M96 64h1M83 65h1M85 65h2M86 66h1M91 66h2M95 66h1M85 67h1M87 67h1M85 68h1"/>
<path stroke="#c7c7ff" d="M91 1h1M5 6h1M9 6h1M0 7h1M82 10h1M80 12h1M79 13h1M82 13h1M7 14h1M3 15h1M6 15h1M13 15h1M81 15h2M3 16h1M83 16h1M2 18h1M5 19h1M7 19h1M2 20h1M79 20h1M82 21h1M78 22h1M83 22h1M88 22h1M83 23h1M2 24h1M4 24h4M81 24h1M86 25h1M1 26h2M0 27h1M9 27h1M8 28h1M6 29h1M9 29h1M46 30h1M10 33h1M10 34h1M6 35h1M11 35h1M29 35h1M54 35h1M5 36h1M10 36h1M29 36h1M53 36h1M62 36h1M7 37h1M11 37h1M29 37h1M60 37h1M12 38h1M54 39h1M59 39h1M38 41h1M54 41h1M48 42h1M59 42h1M70 42h1M36 43h2M42 43h2M54 43h1M58 43h1M39 44h1M43 44h1M48 44h1M54 44h1M63 44h1M57 45h1M60 45h1M36 46h1M53 46h1M58 46h1M61 46h1M43 48h1M56 48h1M59 48h1M0 49h1M48 49h1M55 49h1M59 49h1M63 49h1M74 49h1M47 50h2M53 50h2M57 51h1M34 53h1M48 53h1M54 53h1M58 53h1M63 53h2M34 54h1M52 54h1M25 59h1M25 60h2M53 60h1M56 60h1M18 61h1M18 62h2M35 62h1M57 62h1M13 63h1M45 63h2M61 63h1M28 64h1M32 64h1M37 64h1M39 64h1M47 64h2M62 64h1M5 65h1M32 65h1M48 65h1M54 65h1M59 65h1M16 66h1M25 66h1M44 66h2M33 67h1M37 67h2M40 67h1M47 67h1M55 67h1M60 67h2M29 68h1M33 68h1M54 68h1M1 69h1M45 69h2M52 69h1M62 69h1M2 70h1M34 70h1M36 70h1M45 70h1M0 71h1M24 71h1M45 71h1M5 72h1M24 72h1M29 72h1M46 72h2"/>
<path stroke="#ff8787" d="M30 3h1M39 3h1M63 4h1M34 5h1M57 5h1M59 5h1M61 5h1M41 6h1M36 7h1M53 7h1M57 10h1M45 11h1M52 11h1M23 12h1M33 13h1M35 13h1M50 13h1M54 13h1M24 14h3M53 14h1M21 15h1M24 15h1M50 15h1M54 15h1M47 16h1M53 17h1M55 19h1M84 48h1M4 49h1M3 50h1M87 62h2M84 64h1M90 67h1M88 68h3"/>
<path stroke="#ff7878" d="M53 4h1M56 5h1M53 6h1M59 6h1M54 9h1M55 10h2M53 13h1M50 14h1M22 15h2M49 16h1M54 16h1M47 18h1M55 18h1M50 31h1M86 63h1M87 65h1M90 65h1M95 65h1M89 66h1M86 68h1"/>
<path stroke="#ff8f8f" d="M59 4h1M18 5h1M18 6h1M25 6h1M34 6h1M57 6h1M60 6h1M38 7h1M59 7h1M54 8h1M55 9h1M18 10h1M48 10h1M58 10h1M61 11h1M33 12h1M44 12h1M52 12h1M54 12h3M26 13h1M32 13h1M52 13h1M59 13h1M21 14h1M32 14h1M56 14h1M33 15h1M26 16h1M52 16h1M64 16h1M50 17h1M49 20h1M65 21h1M33 24h1M85 47h1M85 48h1M3 49h1M4 50h1M84 63h1M81 64h1M83 64h1M89 64h1M84 65h1M88 65h1M87 66h1M84 67h1M84 68h1"/>
<path stroke="#ff8080" d="M60 4h1M42 6h1M58 6h1M19 7h1M54 7h1M25 11h1M44 11h1M53 11h1M56 11h2M24 12h1M22 13h1M23 14h1M35 14h1M54 14h1M57 14h1M53 15h1M50 16h1M56 17h1M54 18h1M48 19h2M86 62h1M88 63h1M85 64h1M87 64h1M90 64h1M89 65h1"/>
<path stroke="#ff7070" d="M61 4h1M58 5h1M24 7h1M53 10h1M23 11h1M54 11h2M25 12h1M23 13h3M33 14h1M48 16h1M47 17h1M54 17h2M87 63h1M91 64h1M96 65h1M90 66h1M89 67h1"/>
<path stroke="#cfcfff" d="M90 4h1M0 6h1M5 7h1M8 7h1M13 8h1M14 9h1M15 10h1M4 11h1M16 11h1M80 14h1M14 15h1M83 15h2M96 15h1M2 16h1M82 16h1M6 18h1M78 18h1M8 19h2M11 19h1M4 20h1M7 20h1M3 21h1M6 21h1M89 21h1M11 22h1M80 22h1M85 22h1M1 23h1M89 23h1M55 24h1M82 24h1M2 25h3M73 25h1M4 26h1M89 26h1M11 27h1M1 28h1M9 28h1M11 28h2M10 29h1M4 30h1M6 30h1M9 30h2M4 31h1M45 31h1M91 31h1M95 31h1M78 32h1M47 33h1M5 34h2M47 34h1M4 35h1M7 35h1M11 36h1M55 36h1M6 37h1M28 37h1M2 38h1M7 38h1M29 38h1M58 38h1M72 38h1M56 39h1M0 40h1M13 40h1M41 40h1M51 40h2M61 40h1M8 41h1M39 41h1M57 41h2M61 41h1M39 42h1M49 42h2M54 42h1M56 42h1M8 43h1M49 43h2M60 43h1M62 43h2M6 44h1M36 44h1M42 44h1M52 44h1M61 44h1M72 44h1M5 45h1M37 45h2M54 45h1M58 45h1M39 46h1M49 46h1M41 47h1M43 47h1M57 47h2M8 48h1M32 48h1M34 48h1M37 48h2M58 48h1M60 48h1M74 48h1M31 49h1M50 49h1M55 50h3M28 51h1M50 51h1M57 52h1M56 53h1M61 53h1M66 53h1M60 56h2M61 57h1M58 58h3M14 59h1M60 59h3M55 60h1M58 60h1M61 60h1M58 61h1M20 62h1M31 62h1M45 62h1M7 63h1M12 63h1M19 63h1M33 63h1M40 63h1M43 63h1M48 63h1M51 63h1M12 64h1M30 64h1M40 64h1M42 64h1M59 64h1M31 65h1M28 66h1M38 66h1M46 66h1M55 66h1M62 66h1M25 67h1M46 67h1M50 67h1M54 67h1M25 68h1M28 68h1M30 68h1M40 68h1M42 68h1M53 68h1M57 68h1M2 69h1M24 69h1M36 69h1M38 69h1M40 69h1M63 69h1M0 70h1M23 70h1M37 70h1M40 70h1M52 70h1M56 70h1M62 70h1M32 71h1M60 71h1M68 72h1M76 72h1"/>
<path stroke="#ff5858" d="M54 5h1M91 65h1"/>
<path stroke="#ff6868" d="M55 5h1M38 8h1M53 8h1M53 9h1M22 14h1M49 17h1M49 18h1M95 64h1"/>
<path stroke="#ff6060" d="M60 5h1M54 6h2M25 7h1M54 10h1M48 18h1M50 30h1M92 65h2"/>
<path stroke="#bfbfff" d="M1 7h2M5 9h1M13 9h1M0 10h1M79 14h1M84 17h1M6 19h1M10 19h1M5 21h1M79 21h1M79 22h1M89 22h1M8 24h1M79 24h1M8 27h1M5 28h1M8 29h1M3 31h1M1 34h1M11 34h1M6 36h1M54 36h1M9 37h1M54 37h1M63 37h1M11 38h1M55 39h1M57 39h2M41 41h1M10 42h1M41 42h3M51 42h1M59 43h1M61 43h1M51 44h1M42 45h1M48 45h1M59 45h1M61 45h3M40 46h1M42 46h2M50 46h1M0 48h1M42 48h1M73 48h1M78 48h1M36 49h1M39 49h1M42 49h1M58 49h1M62 49h1M52 51h1M36 52h1M55 52h1M57 53h1M53 54h1M34 55h1M53 55h1M35 56h1M43 62h1M56 63h1M62 63h1M29 64h1M33 64h1M41 64h1M45 64h1M60 64h2M42 65h1M44 65h1M52 65h1M39 66h1M41 66h1M52 66h1M60 66h2M39 67h1M41 68h1M43 68h2M47 68h1M49 68h3M55 68h1M37 69h1M41 69h1M44 69h1M57 69h1M39 70h1M41 70h1M55 70h1M2 71h1M43 71h1M21 72h2"/>
<path stroke="#b7b7ff" d="M0 11h1M8 13h1M81 14h1M78 16h1M81 16h1M84 16h1M85 17h1M84 18h1M86 18h1M1 19h1M3 19h2M79 19h1M81 19h1M6 20h1M82 23h1M3 26h1M1 27h1M5 29h1M12 29h1M3 30h1M5 30h1M12 30h1M12 34h1M7 36h1M8 37h1M9 38h1M55 38h1M12 39h1M76 39h1M55 40h1M47 41h1M38 42h1M53 42h1M61 42h1M41 43h1M52 43h2M40 44h1M71 44h1M40 45h1M43 45h1M56 45h1M41 46h1M47 46h2M32 49h1M40 49h1M51 50h1M47 51h2M55 51h1M56 52h1M35 53h1M39 53h1M47 53h1M53 53h1M48 54h1M61 54h1M37 56h2M54 60h1M57 61h1M48 62h2M32 63h1M35 63h1M42 63h1M38 64h1M50 64h1M56 64h2M28 65h1M38 65h3M57 65h1M60 65h1M62 65h1M28 67h1M30 67h1M44 67h2M52 67h1M56 67h1M34 68h1M46 68h1M48 68h1M34 69h1M54 69h1M42 70h2M54 70h1M42 71h1M2 72h1M34 72h1M43 72h1"/>
<path stroke="#afafff" d="M81 12h1M79 15h1M82 17h2M82 18h1M3 20h1M5 20h1M8 20h1M81 20h1M82 22h1M84 22h1M6 23h1M80 23h1M4 29h1M7 29h1M57 40h1M9 41h1M8 42h1M47 43h2M51 43h1M38 44h1M41 44h1M55 44h1M59 44h1M41 45h1M47 45h1M57 46h1M60 46h1M50 47h1M56 47h1M37 49h2M61 49h1M49 50h1M58 50h1M37 51h1M49 51h1M53 51h1M49 52h1M52 52h1M36 53h2M52 53h1M35 54h1M47 54h1M54 55h1M36 56h1M34 62h1M42 62h1M52 62h1M41 63h1M34 64h1M49 64h1M53 65h1M55 65h1M31 66h2M36 66h2M51 66h1M29 67h1M42 67h1M48 67h1M35 68h2M45 68h1M43 69h1M55 69h2M1 71h1M40 71h2M44 71h1M44 72h1M48 72h1"/>
<path stroke="#a7a7ff" d="M80 13h2M80 15h1M79 16h1M81 17h1M79 18h1M80 19h1M82 19h1M80 20h1M5 23h1M81 23h1M80 24h1M46 31h1M8 38h1M52 41h1M47 42h1M64 43h1M47 44h1M55 45h1M54 46h3M51 47h1M53 47h1M33 49h1M41 49h1M43 49h1M60 49h1M36 50h1M52 50h1M38 51h1M37 52h2M53 52h2M38 53h1M35 55h2M61 55h1M53 61h1M56 61h1M53 62h2M56 62h1M49 63h1M52 64h1M30 65h1M33 65h1M36 65h1M50 65h2M61 65h1M29 66h2M33 66h1M35 67h1M44 70h1M45 72h1"/>
<path stroke="#8080ff" d="M80 16h1M53 48h1M48 52h1M37 54h1M40 54h1M38 55h1M35 65h1M34 66h1M56 68h1"/>
<path stroke="#ff4040" d="M48 17h1"/>
<path stroke="#9797ff" d="M79 17h1M83 18h1M2 19h1M82 20h1M55 47h1M55 48h1M40 50h1M39 51h1M54 51h1M56 51h1M58 51h1M38 54h2M39 55h1M39 56h1M54 61h2M34 63h1M55 63h1M54 64h1M56 65h1M35 66h1M56 66h1M34 67h1M53 69h1"/>
<path stroke="#8787ff" d="M80 17h1M38 50h1M60 50h1M40 51h1M59 51h1M39 52h2M47 52h1M40 53h1M36 54h1M37 55h1M52 63h1M54 63h1M53 64h1"/>
<path stroke="#8f8fff" d="M80 18h1M54 49h1M37 50h1M59 50h1M55 62h1M35 64h1M34 65h1"/>
<path stroke="#9f9fff" d="M81 18h1M83 19h1M80 21h2M81 22h1M63 36h1M52 42h1M59 46h1M52 47h1M59 47h1M52 48h1M52 49h2M39 50h1M58 52h1M41 62h1M36 64h1M51 64h1M55 64h1M29 65h1M37 65h1M40 66h1M36 67h1M41 67h1"/>
<path stroke="#7878ff" d="M54 47h1M40 55h1M40 56h1M53 63h1"/>
<path stroke="#6868ff" d="M54 48h1"/>
<path stroke="#7070ff" d="M60 51h1"/>
</g>
</g>
<use href="#cst"/>
</g>
<rect x="0" y="0" width="446.6" height="223.0" fill="none" stroke="#000" stroke-width="2.8"/><path d="M-8 0H0" stroke="#000" stroke-width="1.8"/><path d="M-15.5 37.2H0" stroke="#000" stroke-width="2.4"/><path d="M-8 74.3H0" stroke="#000" stroke-width="1.8"/><path d="M-15.5 111.5H0" stroke="#000" stroke-width="2.4"/><path d="M-8 148.7H0" stroke="#000" stroke-width="1.8"/><path d="M-15.5 185.8H0" stroke="#000" stroke-width="2.4"/><path d="M-8 223H0" stroke="#000" stroke-width="1.8"/><path d="M0 223V230.5" stroke="#000" stroke-width="1.8"/><path d="M37.2 223V230.5" stroke="#000" stroke-width="1.8"/><path d="M74.4 223V237.5" stroke="#000" stroke-width="2.2"/><path d="M111.7 223V230.5" stroke="#000" stroke-width="1.8"/><path d="M148.9 223V230.5" stroke="#000" stroke-width="1.8"/><path d="M186.1 223V230.5" stroke="#000" stroke-width="1.8"/><path d="M223.3 223V237.5" stroke="#000" stroke-width="2.2"/><path d="M260.5 223V230.5" stroke="#000" stroke-width="1.8"/><path d="M297.7 223V230.5" stroke="#000" stroke-width="1.8"/><path d="M335 223V230.5" stroke="#000" stroke-width="1.8"/><path d="M372.2 223V237.5" stroke="#000" stroke-width="2.2"/><path d="M409.4 223V230.5" stroke="#000" stroke-width="1.8"/><path d="M446.6 223V230.5" stroke="#000" stroke-width="1.8"/>
</g>
<g transform="translate(1485.0 1156.4)">
<g clip-path="url(#cp)">
<rect width="446.6" height="223.0" fill="#bebebe"/>
<g shape-rendering="crispEdges">
<g transform="translate(-2.326 0) scale(4.6521 3.0972)" fill="none" stroke-width="1.03">
<path stroke="#ffa7a7" d="M0 0h48M74 0h23M0 1h48M74 1h23M0 2h48M74 2h23M39 3h7M39 4h7M31 5h2M55 5h3M31 6h2M55 6h3M32 7h1M55 7h3M32 8h1M55 8h3M31 9h2M55 9h3M31 10h2M55 10h3M31 11h2M55 11h3M31 12h2M55 12h3M31 13h2M55 13h3M31 14h2M55 14h3M31 15h2M55 15h3M31 16h2M55 16h3M31 17h2M55 17h3M31 18h2M55 18h3M31 19h2M55 19h3M31 20h2M55 20h3M31 21h2M55 21h3M31 22h2M55 22h3M31 23h2M55 23h3M31 24h2M55 24h3M31 25h2M55 25h3M31 26h2M55 26h3M31 27h2M55 27h3M31 28h2M55 28h3M31 29h2M55 29h3M31 30h1M55 30h3M31 31h1M55 31h3M31 32h2M42 32h1M3 36h1M3 37h2M3 38h2M86 38h2M3 39h2M86 39h2M3 40h2M86 40h2M3 41h2M86 41h2M3 42h2M86 42h2M3 43h2M86 43h2M3 44h2M86 44h2M3 45h2M86 45h2M3 46h2M86 46h2M3 47h2M86 47h2M3 48h2M86 48h2M3 49h2M86 49h2M3 50h2M85 50h3M3 51h2M85 51h2M3 52h2M85 52h2M3 53h2M3 54h2M3 55h2M3 56h2M96 56h1M96 57h1M96 58h1M95 59h2M95 60h1M3 61h2M95 61h1M3 62h2M81 62h2M95 62h1M3 63h2M81 63h2M3 64h2M80 64h2M3 65h2M80 65h2M93 65h1M3 66h2M80 66h2M93 66h1M3 67h2M79 67h2M92 67h2M3 68h2M79 68h2M92 68h1M3 69h2M78 69h3M92 69h1M1 70h1M82 70h2M88 70h2"/>
<path stroke="#e7e7ff" d="M0 3h1M96 3h1M0 4h1M96 4h1M15 5h1M77 5h1M15 6h1M77 6h1M15 7h1M77 7h1M15 8h1M77 8h1M15 9h1M77 9h1M15 10h1M77 10h1M15 11h1M77 11h1M15 12h1M77 12h1M15 13h1M77 13h1M15 14h1M77 14h1M15 15h1M77 15h1M15 16h1M77 16h1M15 17h1M77 17h1M15 18h1M77 18h1M15 19h1M77 19h1M15 20h1M77 20h1M15 21h1M77 21h1M15 22h1M77 22h1M15 23h1M77 23h1M77 24h1M77 25h1M77 26h1M77 27h1M77 28h1M77 29h1M77 30h1M77 31h1M77 32h1M79 33h1M33 34h1M68 34h1M89 34h1M29 35h1M68 35h1M28 36h1M68 36h1M28 37h1M68 37h1M28 38h1M28 39h1M28 40h1M28 41h1M28 42h1M28 43h1M28 44h1M28 45h1M28 46h1M28 47h1M28 48h1M28 49h1M28 50h1M28 51h1M28 52h1M28 53h1M66 53h1M28 54h1M66 54h1M28 55h1M65 55h2M28 56h1M65 56h1M28 57h1M65 57h1M28 58h1M64 58h2M28 59h1M64 59h1M28 60h1M64 60h1M63 61h2M63 62h1M63 63h1M28 64h1M63 64h1M28 65h1M62 65h2M28 66h1M62 66h1M28 67h1M62 67h1M28 68h1M62 68h1M28 69h1M62 69h1M29 70h1M61 70h1M31 71h2M58 71h2"/>
<path stroke="#efefff" d="M1 3h4M89 3h7M1 4h4M89 4h7M16 5h1M76 5h1M16 6h1M76 6h1M16 7h1M76 7h1M16 8h1M76 8h1M16 9h1M76 9h1M16 10h1M76 10h1M16 11h1M76 11h1M16 12h1M76 12h1M16 13h1M76 13h1M16 14h1M76 14h1M16 15h1M76 15h1M16 16h1M76 16h1M16 17h1M76 17h1M16 18h1M76 18h1M16 19h1M76 19h1M16 20h1M76 20h1M16 21h1M76 21h1M16 22h1M76 22h1M16 23h1M76 23h1M16 24h1M76 24h1M76 25h1M76 26h1M76 27h1M76 28h1M76 29h1M76 30h1M76 31h1M76 32h1M43 33h1M32 34h1M69 34h2M88 34h1M28 35h1M69 35h2M27 36h1M69 36h2M27 37h1M69 37h2M27 38h1M69 38h2M27 39h1M69 39h2M27 40h1M69 40h2M27 41h1M69 41h2M70 42h1M70 43h1M70 44h1M67 54h1M67 55h1M66 56h2M66 57h2M66 58h1M27 59h1M65 59h2M27 60h1M65 60h2M27 61h1M65 61h1M27 62h1M64 62h2M27 63h1M64 63h2M27 64h1M64 64h1M27 65h1M64 65h1M27 66h1M63 66h1M27 67h1M63 67h1M27 68h1M63 68h1M27 69h1M63 69h1M28 70h1M62 70h1M29 71h2M60 71h2M37 72h18"/>
<path stroke="#f7f7ff" d="M5 3h4M85 3h4M5 4h4M85 4h4M17 5h1M75 5h1M17 6h1M75 6h1M17 7h1M75 7h1M17 8h1M75 8h1M17 9h1M75 9h1M17 10h1M75 10h1M17 11h1M75 11h1M17 12h1M75 12h1M17 13h1M75 13h1M17 14h1M75 14h1M17 15h1M75 15h1M17 16h1M75 16h1M17 17h1M75 17h1M17 18h1M75 18h1M17 19h1M75 19h1M17 20h1M75 20h1M17 21h1M75 21h1M17 22h1M75 22h1M17 23h1M75 23h1M17 24h1M75 24h1M17 25h1M75 25h1M17 26h1M75 26h1M75 27h1M75 28h1M75 29h1M75 30h1M75 31h1M75 32h1M42 33h1M67 33h2M77 33h2M31 34h1M71 34h2M87 34h1M27 35h1M71 35h2M71 36h2M71 37h2M71 38h2M71 39h2M71 40h2M71 41h2M71 42h2M71 43h2M71 44h2M71 45h2M72 46h1M68 57h1M67 58h2M67 59h2M67 60h1M66 61h2M66 62h2M66 63h1M65 64h2M65 65h1M64 66h2M64 67h2M64 68h1M64 69h1M27 70h1M63 70h2M27 71h2M62 71h2M29 72h8M55 72h6"/>
<path stroke="#ffffff" d="M9 3h2M83 3h2M9 4h2M83 4h2M18 5h1M74 5h1M18 6h1M74 6h1M18 7h1M74 7h1M18 8h1M74 8h1M18 9h1M74 9h1M18 10h1M74 10h1M18 11h1M74 11h1M18 12h1M74 12h1M18 13h1M74 13h1M18 14h1M74 14h1M18 15h1M74 15h1M18 16h1M74 16h1M18 17h1M74 17h1M18 18h1M74 18h1M18 19h1M74 19h1M18 20h1M74 20h1M18 21h1M74 21h1M18 22h1M74 22h1M18 23h1M74 23h1M18 24h1M74 24h1M18 25h1M74 25h1M18 26h1M74 26h1M18 27h1M74 27h1M74 28h1M74 29h1M74 30h1M40 33h2M69 33h4M75 33h2M26 34h5M73 34h1M86 34h1M1 35h12M26 35h1M73 35h1M73 36h1M26 37h1M73 37h1M26 38h1M73 38h1M26 39h1M73 39h1M73 40h1M73 41h1M73 42h1M73 43h1M73 44h1M73 45h1M73 46h1M73 47h1M73 48h1M73 49h1M23 55h3M23 56h3M23 57h3M69 57h2M23 58h3M69 58h2M22 59h5M69 59h1M22 60h5M68 60h2M22 61h5M68 61h1M22 62h5M68 62h1M22 63h5M67 63h2M22 64h5M67 64h1M22 65h5M66 65h2M22 66h5M66 66h2M22 67h5M66 67h1M22 68h5M65 68h2M22 69h5M65 69h1M22 70h5M65 70h1M18 71h9M64 71h2M12 72h17M61 72h8"/>
<path stroke="#fff7f7" d="M11 3h2M11 4h2M19 5h1M72 5h2M19 6h1M72 6h2M19 7h1M72 7h2M19 8h1M72 8h2M19 9h1M72 9h2M19 10h1M72 10h2M19 11h1M72 11h2M19 12h1M72 12h2M19 13h1M72 13h2M19 14h1M72 14h2M19 15h1M72 15h2M19 16h1M72 16h2M19 17h1M72 17h2M19 18h1M72 18h2M19 19h1M72 19h2M19 20h1M72 20h2M19 21h1M72 21h2M19 22h1M72 22h2M19 23h1M72 23h2M19 24h1M72 24h2M19 25h1M72 25h2M19 26h1M72 26h2M19 27h1M72 27h2M19 28h1M72 28h2M72 29h2M72 30h1M72 31h1M52 32h11M72 32h1M36 33h1M74 34h2M0 35h1M74 35h1M95 35h2M74 36h1M74 37h1M74 38h1M74 39h1M74 40h1M74 41h1M74 42h1M74 43h1M74 44h1M74 45h1M74 46h1M74 47h1M74 48h1M74 49h1M15 59h7M70 59h1M15 60h7M70 60h1M15 61h7M69 61h2M15 62h7M69 62h1M15 63h7M69 63h1M15 64h7M68 64h2M15 65h7M68 65h1M15 66h7M68 66h1M15 67h7M67 67h1M15 68h7M67 68h1M15 69h7M66 69h2M14 70h8M66 70h2M12 71h6M66 71h3M5 72h7M69 72h8M92 72h5"/>
<path stroke="#ffefef" d="M13 3h3M77 3h1M13 4h3M77 4h1M20 5h1M71 5h1M20 6h1M71 6h1M20 7h1M71 7h1M20 8h1M71 8h1M20 9h1M71 9h1M20 10h1M71 10h1M20 11h1M71 11h1M20 12h1M71 12h1M20 13h1M71 13h1M20 14h1M71 14h1M20 15h1M71 15h1M20 16h1M71 16h1M20 17h1M71 17h1M20 18h1M71 18h1M20 19h1M71 19h1M20 20h1M71 20h1M20 21h1M71 21h1M20 22h1M71 22h1M20 23h1M71 23h1M20 24h1M71 24h1M20 25h1M71 25h1M20 26h1M71 26h1M20 27h1M71 27h1M20 28h1M71 28h1M20 29h1M71 29h1M71 30h1M71 31h1M50 32h2M63 32h1M69 32h3M76 34h5M75 35h2M94 35h1M75 36h2M13 37h1M75 37h2M13 38h1M75 38h2M13 39h1M75 39h2M13 40h1M75 40h2M75 41h2M75 42h2M75 43h2M75 44h2M75 45h2M75 46h2M75 47h2M75 48h2M75 49h1M13 53h1M13 54h1M13 59h2M71 59h2M13 60h2M71 60h1M13 61h2M71 61h1M13 62h2M70 62h2M13 63h2M70 63h1M13 64h2M70 64h1M13 65h2M69 65h1M13 66h2M69 66h1M13 67h2M68 67h2M13 68h2M68 68h1M13 69h2M68 69h1M13 70h1M68 70h1M10 71h2M69 71h2M0 72h5M77 72h15"/>
<path stroke="#ffe7e7" d="M16 3h2M75 3h2M16 4h2M75 4h2M21 5h1M69 5h2M21 6h1M69 6h2M21 7h1M69 7h2M21 8h1M69 8h2M21 9h1M69 9h2M21 10h1M69 10h2M21 11h1M69 11h2M21 12h1M69 12h2M21 13h1M69 13h2M21 14h1M69 14h2M21 15h1M69 15h2M21 16h1M69 16h2M21 17h1M69 17h2M21 18h1M69 18h2M21 19h1M69 19h2M21 20h1M69 20h2M21 21h1M69 21h2M21 22h1M69 22h2M21 23h1M69 23h2M21 24h1M69 24h2M21 25h1M69 25h2M21 26h1M69 26h2M21 27h1M69 27h2M21 28h1M69 28h2M21 29h1M69 29h2M21 30h1M69 30h2M69 31h2M49 32h1M67 32h2M35 33h1M77 35h1M93 35h1M12 36h1M77 36h1M12 37h1M77 37h1M12 38h1M77 38h1M12 39h1M77 39h1M12 40h1M12 41h1M77 41h1M12 42h1M77 42h1M77 43h1M77 44h1M77 45h1M77 46h1M77 47h1M77 48h1M76 49h2M12 51h1M12 52h1M12 53h1M12 54h1M73 59h1M72 60h1M12 61h1M72 61h1M12 62h1M72 62h1M12 63h1M71 63h1M12 64h1M71 64h1M12 65h1M70 65h2M12 66h1M70 66h1M12 67h1M70 67h1M12 68h1M69 68h2M12 69h1M69 69h1M11 70h2M69 70h1M9 71h1M71 71h2M96 71h1"/>
<path stroke="#ffdfdf" d="M18 3h2M72 3h3M18 4h2M72 4h3M22 5h1M68 5h1M22 6h1M68 6h1M22 7h1M68 7h1M22 8h1M68 8h1M22 9h1M68 9h1M22 10h1M68 10h1M22 11h1M68 11h1M22 12h1M68 12h1M22 13h1M68 13h1M22 14h1M68 14h1M22 15h1M68 15h1M22 16h1M68 16h1M22 17h1M68 17h1M22 18h1M68 18h1M22 19h1M68 19h1M22 20h1M68 20h1M22 21h1M68 21h1M22 22h1M68 22h1M22 23h1M68 23h1M22 24h1M68 24h1M22 25h1M68 25h1M22 26h1M68 26h1M22 27h1M68 27h1M22 28h1M68 28h1M22 29h1M68 29h1M22 30h1M68 30h1M68 31h1M48 32h1M34 33h1M78 35h1M92 35h1M11 36h1M78 36h1M11 37h1M78 37h1M11 38h1M78 38h1M11 39h1M78 39h1M11 40h1M11 41h1M78 41h1M11 42h1M78 42h1M78 43h1M78 44h1M78 45h1M78 46h1M78 47h1M78 48h1M78 49h1M11 50h1M77 50h1M11 51h1M77 51h1M11 52h1M11 53h1M11 54h1M73 60h1M11 61h1M73 61h1M11 62h1M73 62h1M11 63h1M72 63h1M11 64h1M72 64h1M11 65h1M72 65h1M11 66h1M71 66h1M11 67h1M71 67h1M11 68h1M71 68h1M11 69h1M70 69h1M10 70h1M70 70h2M7 71h2M73 71h2M94 71h2"/>
<path stroke="#ffd7d7" d="M20 3h2M70 3h2M20 4h2M70 4h2M23 5h2M66 5h2M23 6h2M66 6h2M23 7h2M66 7h2M23 8h2M66 8h2M23 9h2M66 9h2M23 10h2M66 10h2M23 11h2M66 11h2M23 12h2M66 12h2M23 13h2M66 13h2M23 14h2M66 14h2M23 15h2M66 15h2M23 16h2M66 16h2M23 17h2M66 17h2M23 18h2M66 18h2M23 19h2M66 19h2M23 20h2M66 20h2M23 21h2M66 21h2M23 22h2M66 22h2M23 23h2M66 23h2M23 24h2M66 24h2M23 25h2M66 25h2M23 26h2M66 26h2M23 27h2M66 27h2M23 28h2M66 28h2M23 29h2M66 29h2M23 30h2M66 30h2M23 31h2M66 31h2M24 32h1M47 32h1M79 35h1M10 36h1M79 36h1M10 37h1M79 37h1M10 38h1M79 38h1M10 39h1M10 40h1M10 41h1M79 41h1M10 42h1M79 42h1M10 43h1M79 43h1M10 44h1M79 44h1M10 45h1M79 45h1M10 46h1M79 46h1M10 47h1M79 47h1M10 48h1M79 48h1M10 49h1M79 49h1M10 50h1M78 50h1M10 51h1M78 51h1M10 52h1M10 53h1M10 54h1M10 61h1M10 62h1M74 62h1M10 63h1M73 63h1M10 64h1M73 64h1M10 65h1M73 65h1M10 66h1M72 66h1M10 67h1M72 67h1M10 68h1M72 68h1M10 69h1M71 69h1M9 70h1M72 70h1M4 71h3M75 71h4M92 71h2"/>
<path stroke="#ffcfcf" d="M22 3h2M67 3h3M22 4h2M67 4h3M25 5h1M65 5h1M25 6h1M65 6h1M25 7h1M65 7h1M25 8h1M65 8h1M25 9h1M65 9h1M25 10h1M65 10h1M25 11h1M65 11h1M25 12h1M65 12h1M25 13h1M65 13h1M25 14h1M65 14h1M25 15h1M65 15h1M25 16h1M65 16h1M25 17h1M65 17h1M25 18h1M65 18h1M25 19h1M65 19h1M25 20h1M65 20h1M25 21h1M65 21h1M25 22h1M65 22h1M25 23h1M65 23h1M25 24h1M65 24h1M25 25h1M65 25h1M25 26h1M65 26h1M25 27h1M65 27h1M25 28h1M65 28h1M25 29h1M65 29h1M25 30h1M65 30h1M25 31h1M65 31h1M25 32h1M46 32h1M25 33h1M33 33h1M80 35h1M91 35h1M9 36h1M80 36h1M9 37h1M80 37h1M9 38h1M80 38h1M9 39h1M9 40h1M80 40h1M9 41h1M80 41h1M9 42h1M80 42h1M9 43h1M80 43h1M9 44h1M80 44h1M9 45h1M80 45h1M9 46h1M80 46h1M9 47h1M80 47h1M9 48h1M80 48h1M9 49h1M80 49h1M9 50h1M79 50h1M9 51h1M79 51h1M9 52h1M78 52h2M9 53h1M9 54h1M9 61h1M9 62h1M75 62h1M9 63h1M74 63h2M9 64h1M74 64h1M9 65h1M74 65h1M9 66h1M73 66h1M9 67h1M73 67h1M9 68h1M73 68h1M9 69h1M72 69h1M8 70h1M73 70h1M96 70h1M1 71h3M79 71h4M89 71h3"/>
<path stroke="#ffc7c7" d="M24 3h3M64 3h3M24 4h3M64 4h3M26 5h1M64 5h1M26 6h1M64 6h1M26 7h1M64 7h1M26 8h1M64 8h1M26 9h1M64 9h1M26 10h1M64 10h1M26 11h1M64 11h1M26 12h1M64 12h1M26 13h1M64 13h1M26 14h1M64 14h1M26 15h1M64 15h1M26 16h1M64 16h1M26 17h1M64 17h1M26 18h1M64 18h1M26 19h1M64 19h1M26 20h1M64 20h1M26 21h1M64 21h1M26 22h1M64 22h1M26 23h1M64 23h1M26 24h1M64 24h1M26 25h1M64 25h1M26 26h1M64 26h1M26 27h1M64 27h1M26 28h1M64 28h1M26 29h1M64 29h1M26 30h1M64 30h1M26 31h1M64 31h1M26 32h1M26 33h1M32 33h1M90 35h1M8 36h1M81 36h1M8 37h1M81 37h1M8 38h1M81 38h1M8 39h1M81 39h1M8 40h1M81 40h1M8 41h1M81 41h1M8 42h1M81 42h1M8 43h1M81 43h1M8 44h1M81 44h1M8 45h1M81 45h1M8 46h1M81 46h1M8 47h1M81 47h1M8 48h1M81 48h1M8 49h1M81 49h1M8 50h1M80 50h1M8 51h1M80 51h1M8 52h1M80 52h1M8 53h1M8 54h1M8 61h1M8 62h1M76 62h1M8 63h1M76 63h1M8 64h1M75 64h1M8 65h1M75 65h1M8 66h1M74 66h1M8 67h1M74 67h1M8 68h1M74 68h1M8 69h1M73 69h1M96 69h1M7 70h1M74 70h1M95 70h1M0 71h1M83 71h6"/>
<path stroke="#ffbfbf" d="M27 3h2M61 3h3M27 4h2M61 4h3M27 5h1M62 5h2M27 6h1M62 6h2M27 7h1M62 7h2M27 8h1M62 8h2M27 9h1M62 9h2M27 10h1M62 10h2M27 11h1M62 11h2M27 12h1M62 12h2M27 13h1M62 13h2M27 14h1M62 14h2M27 15h1M62 15h2M27 16h1M62 16h2M27 17h1M62 17h2M27 18h1M62 18h2M27 19h1M62 19h2M27 20h1M62 20h2M27 21h1M62 21h2M27 22h1M62 22h2M27 23h1M62 23h2M27 24h1M62 24h2M27 25h1M62 25h2M27 26h1M62 26h2M27 27h1M62 27h2M27 28h1M62 28h2M27 29h1M62 29h2M27 30h1M27 31h1M27 32h1M45 32h1M27 33h2M30 33h2M89 35h1M7 36h1M7 37h1M82 37h1M7 38h1M82 38h1M7 39h1M82 39h1M7 40h1M82 40h1M7 41h1M82 41h1M7 42h1M82 42h1M7 43h1M82 43h1M7 44h1M82 44h1M7 45h1M82 45h1M7 46h1M82 46h1M7 47h1M82 47h1M7 48h1M82 48h1M7 49h1M82 49h1M7 50h1M81 50h1M7 51h1M81 51h1M7 52h1M81 52h1M7 53h1M7 54h1M7 61h1M7 62h1M77 62h1M7 63h1M77 63h1M7 64h1M76 64h1M7 65h1M76 65h1M7 66h1M75 66h1M7 67h1M75 67h1M96 67h1M7 68h1M75 68h1M96 68h1M7 69h1M74 69h1M95 69h1M6 70h1M75 70h2M94 70h1"/>
<path stroke="#ffb7b7" d="M29 3h4M56 3h5M29 4h4M56 4h5M28 5h2M61 5h1M28 6h2M61 6h1M28 7h2M61 7h1M28 8h2M61 8h1M28 9h2M61 9h1M28 10h2M61 10h1M28 11h2M61 11h1M28 12h2M61 12h1M28 13h2M61 13h1M28 14h2M61 14h1M28 15h2M61 15h1M28 16h2M61 16h1M28 17h2M61 17h1M28 18h2M61 18h1M28 19h2M61 19h1M28 20h2M61 20h1M28 21h2M61 21h1M28 22h2M61 22h1M28 23h2M61 23h1M28 24h2M61 24h1M28 25h2M61 25h1M28 26h2M61 26h1M28 27h2M61 27h1M28 28h2M61 28h1M28 29h2M61 29h1M28 30h2M61 30h1M28 31h2M61 31h1M28 32h2M44 32h1M29 33h1M86 35h3M6 36h1M6 37h1M83 37h1M6 38h1M83 38h1M6 39h1M83 39h1M6 40h1M83 40h1M6 41h1M83 41h1M6 42h1M83 42h1M6 43h1M83 43h1M6 44h1M83 44h1M6 45h1M83 45h1M6 46h1M83 46h1M6 47h1M83 47h1M6 48h1M83 48h1M6 49h1M83 49h1M6 50h1M82 50h1M6 51h1M82 51h1M6 52h1M82 52h1M6 53h1M6 54h1M6 61h1M6 62h1M78 62h1M6 63h1M78 63h1M6 64h1M77 64h1M96 64h1M6 65h1M77 65h1M96 65h1M6 66h1M76 66h2M96 66h1M6 67h1M76 67h1M95 67h1M6 68h1M76 68h1M95 68h1M6 69h1M75 69h1M94 69h1M4 70h2M77 70h2M92 70h2"/>
<path stroke="#ffafaf" d="M33 3h6M50 3h6M33 4h6M50 4h6M30 5h1M58 5h3M30 6h1M58 6h3M58 7h3M30 8h1M58 8h3M30 9h1M58 9h3M30 10h1M58 10h3M30 11h1M58 11h3M30 12h1M58 12h3M30 13h1M58 13h3M30 14h1M58 14h3M30 15h1M58 15h3M30 16h1M58 16h3M30 17h1M58 17h3M30 18h1M58 18h3M30 19h1M58 19h3M30 20h1M58 20h3M30 21h1M58 21h3M30 22h1M58 22h3M30 23h1M58 23h3M30 24h1M58 24h3M30 25h1M58 25h3M30 26h1M58 26h3M30 27h1M58 27h3M30 28h1M58 28h3M30 29h1M58 29h3M30 30h1M58 30h3M30 31h1M58 31h3M30 32h1M43 32h1M4 36h2M5 37h1M84 37h2M5 38h1M84 38h2M5 39h1M84 39h2M5 40h1M84 40h2M5 41h1M84 41h2M5 42h1M84 42h2M5 43h1M84 43h2M5 44h1M84 44h2M5 45h1M84 45h2M5 46h1M84 46h2M5 47h1M84 47h2M5 48h1M84 48h2M5 49h1M84 49h2M5 50h1M83 50h2M5 51h1M83 51h2M5 52h1M83 52h2M5 53h1M5 54h1M96 60h1M5 61h1M96 61h1M5 62h1M79 62h2M96 62h1M5 63h1M79 63h2M95 63h2M5 64h1M78 64h2M95 64h1M5 65h1M78 65h2M95 65h1M5 66h1M78 66h2M94 66h2M5 67h1M77 67h2M94 67h1M5 68h1M77 68h2M93 68h2M5 69h1M76 69h2M93 69h1M2 70h2M79 70h3M90 70h2"/>
<path stroke="#9797ff" d="M0 5h1M96 5h1M0 6h1M96 6h1M0 7h1M96 7h1M0 8h1M96 8h1M0 9h1M96 9h1M0 10h1M96 10h1M0 11h1M96 11h1M0 12h1M96 12h1M0 13h1M96 13h1M0 14h1M96 14h1M0 15h1M96 15h1M0 16h1M96 16h1M0 17h1M96 17h1M0 18h1M96 18h1M0 19h1M96 19h1M0 20h1M96 20h1M0 21h1M96 21h1M0 22h1M96 22h1M0 23h1M96 23h1M0 24h1M96 24h1M0 25h1M96 25h1M0 26h1M96 26h1M0 27h1M96 27h1M0 28h1M96 28h1M0 29h1M96 29h1M0 30h1M96 30h1M0 31h1M96 31h1M0 32h1M96 32h1M0 33h1M96 33h1M52 34h3M52 35h3M52 36h3M39 37h3M52 37h3M39 38h3M52 38h3M39 39h3M52 39h3M39 40h3M52 40h3M39 41h3M52 41h3M39 42h5M52 42h3M39 43h5M52 43h3M39 44h5M52 44h3M39 45h5M52 45h3M39 46h5M52 46h3M39 47h5M52 47h3M39 48h5M52 48h3M39 49h5M52 49h3M39 50h2M52 50h2M39 51h2M52 51h2M39 52h2M52 52h2M39 53h2M52 53h2M39 54h2M52 54h2M39 55h2M52 55h2M39 56h2M52 56h2M40 62h4M51 62h2M40 63h4M51 63h2M39 64h5M51 64h2M39 65h5M51 65h2M39 66h5M51 66h2M39 67h5M51 67h2M39 68h5M51 68h2M39 69h5M51 69h2"/>
<path stroke="#9f9fff" d="M1 5h2M92 5h4M1 6h2M92 6h4M1 7h2M92 7h4M1 8h2M92 8h4M1 9h2M92 9h4M1 10h2M92 10h4M1 11h2M92 11h4M1 12h2M92 12h4M1 13h2M92 13h4M1 14h2M92 14h4M1 15h2M92 15h4M1 16h2M92 16h4M1 17h2M92 17h4M1 18h2M92 18h4M1 19h2M92 19h4M1 20h2M92 20h4M1 21h2M92 21h4M1 22h2M92 22h4M1 23h2M92 23h4M1 24h2M92 24h4M1 25h2M92 25h4M1 26h2M92 26h4M1 27h2M92 27h4M1 28h2M92 28h4M1 29h2M92 29h4M1 30h2M92 30h4M1 31h2M92 31h4M1 32h2M92 32h4M1 33h2M92 33h4M55 34h2M55 35h2M55 36h2M38 37h1M55 37h2M38 38h1M55 38h2M38 39h1M55 39h2M38 40h1M55 40h2M38 41h1M55 41h2M38 42h1M55 42h2M38 43h1M55 43h2M38 44h1M55 44h2M38 45h1M55 45h2M38 46h1M55 46h2M38 47h1M55 47h2M38 48h1M55 48h2M38 49h1M55 49h2M38 50h1M54 50h3M38 51h1M54 51h2M38 52h1M54 52h2M38 53h1M54 53h2M38 54h1M54 54h2M38 55h1M54 55h2M38 56h1M54 56h2M53 60h2M53 61h2M53 62h2M53 63h2M38 64h1M53 64h2M38 65h1M53 65h2M38 66h1M53 66h1M38 67h1M53 67h1M38 68h1M53 68h1M38 69h1M53 69h1M43 70h8"/>
<path stroke="#a7a7ff" d="M3 5h2M89 5h3M3 6h2M89 6h3M3 7h2M89 7h3M3 8h2M89 8h3M3 9h2M89 9h3M3 10h2M89 10h3M3 11h2M89 11h3M3 12h2M89 12h3M3 13h2M89 13h3M3 14h2M90 14h2M3 15h2M90 15h2M3 16h2M90 16h2M3 17h2M90 17h2M3 18h2M89 18h3M3 19h2M89 19h3M3 20h2M89 20h3M3 21h2M89 21h3M3 22h2M89 22h3M3 23h2M89 23h3M3 24h2M89 24h3M3 25h2M89 25h3M3 26h2M89 26h3M3 27h2M89 27h3M3 28h2M89 28h3M3 29h2M89 29h3M3 30h2M89 30h3M3 31h2M89 31h3M3 32h2M89 32h3M3 33h2M50 33h5M89 33h3M0 34h3M57 34h2M96 34h1M37 35h1M57 35h2M37 36h1M57 36h2M37 37h1M57 37h2M37 38h1M57 38h2M37 39h1M57 39h2M37 40h1M57 40h2M37 41h1M57 41h2M37 42h1M57 42h2M37 43h1M57 43h2M37 44h1M57 44h2M37 45h1M57 45h2M37 46h1M57 46h2M37 47h1M57 47h2M37 48h1M57 48h2M37 49h1M57 49h1M37 50h1M57 50h1M37 51h1M56 51h2M37 52h1M56 52h2M37 53h1M56 53h2M37 54h1M56 54h1M37 55h1M56 55h1M37 56h1M56 56h1M56 57h1M56 58h1M56 59h1M55 60h1M55 61h1M55 62h1M55 63h1M37 64h1M55 64h1M37 65h1M55 65h1M37 66h1M54 66h2M37 67h1M54 67h1M37 68h1M54 68h1M37 69h1M54 69h1M39 70h4M51 70h2"/>
<path stroke="#afafff" d="M5 5h3M86 5h3M5 6h3M86 6h3M5 7h3M86 7h3M5 8h3M86 8h3M5 9h3M86 9h3M5 10h3M86 10h3M5 11h3M86 11h3M5 12h3M86 12h3M5 13h3M86 13h3M5 14h3M86 14h1M5 15h3M86 15h1M5 16h3M86 16h1M5 17h3M86 17h1M5 18h3M86 18h3M5 19h3M86 19h3M5 20h3M86 20h3M5 21h3M86 21h3M5 22h3M86 22h3M5 23h3M86 23h3M5 24h3M86 24h3M5 25h3M86 25h3M5 26h3M86 26h3M5 27h2M88 27h1M5 28h2M88 28h1M5 29h2M88 29h1M5 30h2M88 30h1M5 31h2M88 31h1M5 32h2M86 32h3M5 33h2M49 33h1M55 33h2M87 33h2M3 34h3M59 34h1M95 34h1M36 35h1M59 35h1M36 36h1M59 36h1M36 37h1M59 37h1M36 38h1M59 38h1M36 39h1M59 39h1M36 40h1M59 40h1M36 41h1M59 41h1M36 42h1M59 42h1M36 43h1M59 43h1M36 44h1M59 44h1M36 45h1M59 45h1M36 46h1M59 46h1M36 47h1M59 47h1M36 48h1M59 48h1M36 49h1M58 49h2M36 50h1M58 50h1M36 51h1M58 51h1M36 52h1M58 52h1M36 53h1M58 53h1M36 54h1M57 54h2M36 55h1M57 55h1M36 56h1M57 56h1M57 57h1M57 58h1M57 59h1M56 60h1M56 61h1M56 62h1M56 63h1M36 64h1M56 64h1M36 65h1M56 65h1M36 66h1M56 66h1M36 67h1M55 67h1M36 68h1M55 68h1M36 69h1M55 69h1M38 70h1M53 70h2"/>
<path stroke="#b7b7ff" d="M8 5h1M85 5h1M8 6h1M85 6h1M8 7h1M85 7h1M8 8h1M85 8h1M8 9h1M85 9h1M8 10h1M85 10h1M8 11h1M85 11h1M8 12h1M85 12h1M8 13h1M85 13h1M85 14h1M85 15h1M85 16h1M85 17h1M8 19h1M8 20h1M8 21h1M85 21h1M8 22h1M85 22h1M8 23h1M8 24h1M8 25h1M8 26h1M7 27h2M7 28h2M85 28h1M7 29h2M85 29h1M7 30h2M85 30h1M7 31h2M85 31h1M7 32h2M85 32h1M7 33h2M48 33h1M57 33h2M85 33h2M6 34h2M37 34h1M60 34h1M94 34h1M35 35h1M60 35h1M35 36h1M60 36h1M35 37h1M60 37h1M35 38h1M60 38h1M35 39h1M60 39h1M35 40h1M60 40h1M35 41h1M60 41h1M35 42h1M60 42h1M35 43h1M60 43h1M35 44h1M60 44h1M35 45h1M60 45h1M35 46h1M60 46h1M35 47h1M60 47h1M35 48h1M60 48h1M35 49h1M60 49h1M35 50h1M59 50h2M35 51h1M59 51h1M35 52h1M35 53h1M35 54h1M35 55h1M35 56h1M58 57h1M58 58h1M58 59h1M57 60h2M57 61h1M35 62h1M57 62h1M35 63h1M57 63h1M35 64h1M57 64h1M35 65h1M57 65h1M35 66h1M57 66h1M35 67h1M56 67h1M35 68h1M56 68h1M35 69h1M56 69h1M36 70h2M55 70h1"/>
<path stroke="#bfbfff" d="M9 5h1M83 5h2M9 6h1M83 6h2M9 7h1M83 7h2M9 8h1M83 8h2M9 9h1M83 9h2M9 10h1M83 10h2M9 11h1M83 11h2M9 12h1M83 12h2M9 13h1M83 13h2M83 14h2M83 15h2M83 16h2M83 17h2M83 18h2M9 19h1M83 19h1M9 20h1M9 21h1M9 22h1M83 22h2M9 23h1M83 23h1M9 24h1M9 25h1M9 26h1M9 27h1M9 28h1M83 28h2M9 29h1M83 29h2M9 30h1M83 30h2M9 31h1M83 31h2M9 32h1M83 32h2M9 33h1M47 33h1M59 33h1M84 33h1M8 34h2M36 34h1M61 34h2M93 34h1M34 35h1M61 35h2M34 36h1M61 36h2M34 37h1M61 37h2M34 38h1M61 38h2M34 39h1M61 39h2M34 40h1M61 40h2M34 41h1M61 41h2M34 42h1M61 42h2M34 43h1M61 43h2M34 44h1M61 44h2M34 45h1M61 45h2M34 46h1M61 46h2M34 47h1M61 47h2M34 48h1M61 48h2M34 49h1M61 49h1M34 50h1M34 51h1M60 51h1M34 52h1M34 53h1M34 54h1M34 55h1M60 55h1M34 56h1M60 56h1M59 57h1M59 58h1M59 59h1M59 60h1M58 61h1M34 62h1M58 62h1M34 63h1M58 63h1M34 64h1M58 64h1M34 65h1M58 65h1M34 66h1M58 66h1M34 67h1M57 67h1M34 68h1M57 68h1M34 69h1M57 69h1M35 70h1M56 70h1"/>
<path stroke="#c7c7ff" d="M10 5h1M10 6h1M82 6h1M10 7h1M82 7h1M10 8h1M82 8h1M10 9h1M82 9h1M10 10h1M82 10h1M10 11h1M82 11h1M10 12h1M82 12h1M10 13h1M82 13h1M82 14h1M82 15h1M82 16h1M82 17h1M82 18h1M10 19h1M82 19h1M10 20h1M82 20h1M10 21h1M82 21h1M10 22h1M82 22h1M10 23h1M82 23h1M10 24h1M82 24h1M10 25h1M82 25h1M10 26h1M82 26h1M10 27h1M10 28h1M10 29h1M10 30h1M82 30h1M10 31h1M82 31h1M10 32h1M82 32h1M10 33h1M46 33h1M60 33h1M83 33h1M10 34h1M63 34h1M92 34h1M33 35h1M63 35h1M33 36h1M63 36h1M33 37h1M63 37h1M33 38h1M63 38h1M33 39h1M63 39h1M33 40h1M63 40h1M33 41h1M63 41h1M33 42h1M63 42h1M33 43h1M63 43h1M33 44h1M63 44h1M33 45h1M63 45h1M33 46h1M63 46h1M33 47h1M63 47h1M33 48h1M63 48h1M33 49h1M62 49h2M33 50h1M33 51h1M33 52h1M33 53h1M61 53h1M33 54h1M61 54h1M33 55h1M61 55h1M33 56h1M61 56h1M60 57h1M60 58h1M60 59h1M60 60h1M59 61h2M33 62h1M59 62h1M33 63h1M59 63h1M33 64h1M59 64h1M33 65h1M59 65h1M33 66h1M59 66h1M33 67h1M58 67h1M33 68h1M58 68h1M33 69h1M58 69h1M34 70h1M57 70h1M41 71h11"/>
<path stroke="#cfcfff" d="M11 5h1M11 6h1M80 6h2M11 7h1M80 7h2M11 8h1M80 8h2M11 9h1M80 9h2M11 10h1M80 10h2M11 11h1M80 11h2M11 12h1M80 12h2M11 13h1M80 13h2M80 14h2M80 15h2M80 16h2M80 17h2M80 18h2M11 19h1M80 19h2M11 20h1M80 20h2M11 21h1M80 21h2M11 22h1M80 22h2M11 23h1M80 23h2M11 24h1M80 24h2M11 25h1M80 25h2M11 26h1M80 26h2M11 27h1M11 28h1M11 29h1M80 29h1M11 30h1M80 30h2M11 31h1M80 31h2M11 32h1M80 32h2M11 33h1M61 33h2M82 33h1M11 34h1M35 34h1M64 34h1M91 34h1M32 35h1M64 35h1M32 36h1M64 36h1M32 37h1M64 37h1M32 38h1M64 38h1M32 39h1M64 39h1M32 40h1M64 40h1M32 41h1M64 41h1M32 42h1M64 42h1M32 43h1M64 43h1M32 44h1M64 44h1M32 45h1M64 45h1M32 46h1M64 46h1M32 47h1M64 47h1M32 48h1M32 49h1M32 50h1M64 50h1M32 51h1M32 52h1M32 53h1M62 53h2M32 54h1M62 54h1M32 55h1M62 55h1M32 56h1M62 56h1M32 57h1M61 57h1M61 58h1M61 59h1M61 60h1M32 62h1M60 62h1M32 63h1M60 63h1M32 64h1M60 64h1M32 65h1M60 65h1M32 66h1M32 67h1M59 67h1M32 68h1M59 68h1M32 69h1M59 69h1M33 70h1M58 70h1M38 71h3M52 71h3"/>
<path stroke="#d7d7ff" d="M12 5h2M12 6h2M79 6h1M12 7h2M79 7h1M12 8h2M79 8h1M12 9h2M79 9h1M12 10h2M79 10h1M12 11h2M79 11h1M12 12h2M79 12h1M12 13h2M79 13h1M13 14h1M79 14h1M13 15h1M79 15h1M79 16h1M79 17h1M79 18h1M79 19h1M12 20h1M79 20h1M12 21h1M79 21h1M12 22h1M79 22h1M12 23h1M79 23h1M12 24h1M79 24h1M12 25h1M79 25h1M12 26h1M79 26h1M12 27h1M79 27h1M12 28h1M79 28h1M12 29h1M79 29h1M12 30h1M12 31h1M12 32h1M79 32h1M12 33h1M45 33h1M63 33h1M81 33h1M12 34h1M34 34h1M31 35h1M30 36h2M30 37h2M30 38h2M30 39h2M30 40h2M30 41h2M30 42h2M30 43h2M30 44h2M30 45h2M30 46h2M30 47h2M30 48h2M30 49h2M30 50h2M30 51h2M64 51h2M30 52h2M64 52h1M30 53h2M64 53h1M30 54h2M63 54h1M30 55h2M63 55h1M30 56h2M63 56h1M30 57h1M62 57h2M30 58h1M62 58h1M62 59h1M62 60h1M61 61h1M31 62h1M61 62h1M31 63h1M61 63h1M30 64h2M61 64h1M30 65h2M61 65h1M30 66h2M60 66h1M30 67h2M60 67h1M30 68h2M60 68h1M30 69h2M60 69h1M31 70h2M59 70h1M35 71h3M55 71h1"/>
<path stroke="#dfdfff" d="M14 5h1M14 6h1M78 6h1M14 7h1M78 7h1M14 8h1M78 8h1M14 9h1M78 9h1M14 10h1M78 10h1M14 11h1M78 11h1M14 12h1M78 12h1M14 13h1M78 13h1M14 14h1M78 14h1M14 15h1M78 15h1M14 16h1M78 16h1M14 17h1M78 17h1M14 18h1M78 18h1M14 19h1M78 19h1M14 20h1M78 20h1M78 21h1M78 22h1M78 23h1M78 24h1M78 25h1M78 26h1M78 27h1M78 28h1M78 29h1M78 32h1M44 33h1M80 33h1M90 34h1M30 35h1M29 36h1M29 37h1M29 38h1M29 39h1M29 40h1M29 41h1M29 42h1M29 43h1M29 44h1M29 45h1M29 46h1M29 47h1M29 48h1M29 49h1M29 50h1M29 51h1M29 52h1M65 52h1M29 53h1M65 53h1M29 54h1M64 54h2M29 55h1M64 55h1M29 56h1M64 56h1M29 57h1M64 57h1M63 58h1M63 59h1M63 60h1M62 61h1M62 62h1M62 63h1M29 64h1M62 64h1M29 65h1M29 66h1M61 66h1M29 67h1M61 67h1M29 68h1M61 68h1M29 69h1M61 69h1M30 70h1M60 70h1M33 71h2M56 71h2"/>
<path stroke="#ff9f9f" d="M33 5h2M52 5h3M33 6h2M52 6h3M33 7h2M52 7h3M33 8h2M52 8h3M33 9h2M52 9h3M33 10h2M52 10h3M33 11h1M52 11h3M33 12h1M52 12h3M33 13h1M52 13h3M33 14h2M52 14h3M33 15h2M52 15h3M33 16h2M52 16h3M33 17h2M52 17h3M33 18h2M52 18h3M33 19h2M52 19h3M33 20h2M52 20h3M33 21h2M52 21h3M33 22h2M53 22h2M33 23h2M52 23h3M33 24h2M52 24h3M33 25h2M52 25h3M33 26h2M52 26h3M33 27h2M52 27h3M33 28h2M52 28h3M33 29h2M52 29h3M34 30h1M52 30h3M34 31h1M52 31h3M33 32h3M40 32h2M1 36h2M89 36h2M2 37h1M89 37h1M2 38h1M88 38h2M2 39h1M88 39h2M2 40h1M88 40h2M2 41h1M88 41h2M2 42h1M88 42h2M2 43h1M88 43h2M2 44h1M88 44h2M2 45h1M88 45h2M2 46h1M88 46h2M2 47h1M88 47h2M2 48h1M88 48h2M2 49h1M88 49h2M2 50h1M88 50h2M2 51h1M87 51h2M2 52h1M87 52h2M2 53h1M87 53h2M96 53h1M2 54h1M87 54h1M96 54h1M2 55h1M95 55h2M2 56h1M95 56h1M2 57h1M95 57h1M2 58h1M94 58h2M2 59h1M94 59h1M2 60h1M93 60h2M2 61h1M2 62h1M83 62h2M2 63h1M83 63h2M2 64h1M82 64h3M2 65h1M82 65h2M92 65h1M2 66h1M82 66h2M91 66h2M2 67h1M81 67h3M91 67h1M2 68h1M81 68h2M91 68h1M2 69h1M81 69h2M90 69h2M0 70h1M84 70h4"/>
<path stroke="#ff9797" d="M35 5h5M50 5h2M35 6h5M50 6h2M35 7h5M50 7h2M35 8h5M50 8h2M35 9h5M49 9h3M35 10h5M49 10h3M35 11h5M49 11h3M35 12h5M49 12h3M35 13h5M49 13h3M35 14h2M49 14h3M35 15h2M49 15h3M35 16h2M49 16h3M35 17h2M49 17h3M35 18h4M49 18h3M35 19h4M49 19h3M35 20h3M49 20h3M35 21h3M49 21h3M35 22h3M49 22h3M49 23h3M38 24h2M49 24h3M38 25h2M49 25h3M38 26h2M49 26h3M38 27h2M49 27h3M38 28h2M49 28h3M38 29h2M49 29h3M38 30h2M49 30h3M38 31h2M48 31h4M36 32h1M0 36h1M91 36h6M0 37h2M90 37h7M0 38h2M90 38h7M0 39h2M90 39h7M0 40h2M90 40h7M90 41h1M90 42h1M90 43h3M90 44h3M90 45h3M90 46h3M0 47h2M90 47h3M0 48h2M90 48h5M0 49h2M90 49h5M0 50h2M90 50h5M0 51h2M89 51h7M0 52h2M89 52h7M0 53h2M89 53h7M0 54h2M88 54h8M0 55h2M88 55h7M0 56h2M88 56h7M0 57h2M92 57h3M0 58h2M92 58h2M0 59h2M92 59h2M0 60h2M92 60h1M0 61h2M0 62h2M85 62h4M0 63h2M85 63h4M0 64h2M85 64h7M0 65h2M84 65h8M0 66h2M84 66h7M0 67h2M84 67h7M0 68h2M83 68h8M0 69h2M83 69h7"/>
<path stroke="#ff8f8f" d="M40 5h6M40 6h6M40 7h3M40 8h3M40 9h3M47 9h2M42 10h3M47 10h2M43 11h6M43 12h6M43 13h6M43 14h6M41 15h8M41 16h8M43 17h6M43 18h6M43 19h6M41 20h8M41 21h8M41 22h8M41 23h8M40 24h9M40 25h9M40 26h9M40 27h9M40 28h9M40 29h9M40 30h9M40 31h8"/>
<path stroke="#8f8fff" d="M44 34h8M44 35h8M47 36h5M47 37h5M47 38h5M47 39h5M47 40h5M47 41h5M47 42h5M47 43h5M47 44h5M47 45h5M47 46h5M47 47h5M47 48h5M47 49h5M47 50h5M47 51h5M47 52h5M47 53h5M47 54h5M50 55h2M50 56h2M44 62h7M44 63h7M44 64h7M44 65h7M44 66h7M44 67h7M44 68h7M44 69h7"/>
</g>
</g>
<use href="#cst"/>
</g>
<rect x="0" y="0" width="446.6" height="223.0" fill="none" stroke="#000" stroke-width="2.8"/><path d="M-8 0H0" stroke="#000" stroke-width="1.8"/><path d="M-15.5 37.2H0" stroke="#000" stroke-width="2.4"/><path d="M-8 74.3H0" stroke="#000" stroke-width="1.8"/><path d="M-15.5 111.5H0" stroke="#000" stroke-width="2.4"/><path d="M-8 148.7H0" stroke="#000" stroke-width="1.8"/><path d="M-15.5 185.8H0" stroke="#000" stroke-width="2.4"/><path d="M-8 223H0" stroke="#000" stroke-width="1.8"/><path d="M0 223V230.5" stroke="#000" stroke-width="1.8"/><path d="M37.2 223V230.5" stroke="#000" stroke-width="1.8"/><path d="M74.4 223V237.5" stroke="#000" stroke-width="2.2"/><path d="M111.7 223V230.5" stroke="#000" stroke-width="1.8"/><path d="M148.9 223V230.5" stroke="#000" stroke-width="1.8"/><path d="M186.1 223V230.5" stroke="#000" stroke-width="1.8"/><path d="M223.3 223V237.5" stroke="#000" stroke-width="2.2"/><path d="M260.5 223V230.5" stroke="#000" stroke-width="1.8"/><path d="M297.7 223V230.5" stroke="#000" stroke-width="1.8"/><path d="M335 223V230.5" stroke="#000" stroke-width="1.8"/><path d="M372.2 223V237.5" stroke="#000" stroke-width="2.2"/><path d="M409.4 223V230.5" stroke="#000" stroke-width="1.8"/><path d="M446.6 223V230.5" stroke="#000" stroke-width="1.8"/>
</g>
<text x="294.1" y="18.8" font-size="25.6" text-anchor="middle">Merdith 2021 Paleomagnetic</text>
<text x="294.1" y="49.5" font-size="25.6" text-anchor="middle">Frame</text>
<text x="765.5" y="18.8" font-size="25.6" text-anchor="middle">Müller 2019 Mantle</text>
<text x="765.5" y="49.5" font-size="25.6" text-anchor="middle">Frame</text>
<text x="1236.9" y="18.8" font-size="25.6" text-anchor="middle">Temperature</text>
<text x="1236.9" y="49.5" font-size="25.6" text-anchor="middle">Difference</text>
<text x="1708.3" y="18.8" font-size="25.6" text-anchor="middle">Absolute Latitude</text>
<text x="1708.3" y="49.5" font-size="25.6" text-anchor="middle">Difference</text>
<text x="1978.5" y="173.7" font-size="25" text-anchor="middle">210</text>
<text x="1978.5" y="204.6" font-size="25" text-anchor="middle">Ma</text>
<text x="1978.5" y="445.7" font-size="25" text-anchor="middle">170</text>
<text x="1978.5" y="476.6" font-size="25" text-anchor="middle">Ma</text>
<text x="1978.5" y="717.7" font-size="25" text-anchor="middle">130</text>
<text x="1978.5" y="748.6" font-size="25" text-anchor="middle">Ma</text>
<text x="1978.5" y="989.7" font-size="25" text-anchor="middle">90</text>
<text x="1978.5" y="1020.6" font-size="25" text-anchor="middle">Ma</text>
<text x="1978.5" y="1261.7" font-size="25" text-anchor="middle">40</text>
<text x="1978.5" y="1292.6" font-size="25" text-anchor="middle">Ma</text>
<text x="43.4" y="113" font-size="20" text-anchor="end">60°N</text>
<text x="43.4" y="261.6" font-size="20" text-anchor="end">60°S</text>
<text x="43.4" y="385" font-size="20" text-anchor="end">60°N</text>
<text x="43.4" y="533.6" font-size="20" text-anchor="end">60°S</text>
<text x="43.4" y="657" font-size="20" text-anchor="end">60°N</text>
<text x="43.4" y="805.6" font-size="20" text-anchor="end">60°S</text>
<text x="43.4" y="929" font-size="20" text-anchor="end">60°N</text>
<text x="43.4" y="1077.6" font-size="20" text-anchor="end">60°S</text>
<text x="43.4" y="1201" font-size="20" text-anchor="end">60°N</text>
<text x="43.4" y="1349.6" font-size="20" text-anchor="end">60°S</text>
<text x="145.2" y="1419" font-size="20" text-anchor="middle">120°W</text>
<text x="294.1" y="1419" font-size="20" text-anchor="middle">0°</text>
<text x="443" y="1419" font-size="20" text-anchor="middle">120°E</text>
<text x="616.6" y="1419" font-size="20" text-anchor="middle">120°W</text>
<text x="765.5" y="1419" font-size="20" text-anchor="middle">0°</text>
<text x="914.4" y="1419" font-size="20" text-anchor="middle">120°E</text>
<text x="1088" y="1419" font-size="20" text-anchor="middle">120°W</text>
<text x="1236.9" y="1419" font-size="20" text-anchor="middle">0°</text>
<text x="1385.8" y="1419" font-size="20" text-anchor="middle">120°E</text>
<text x="1559.4" y="1419" font-size="20" text-anchor="middle">120°W</text>
<text x="1708.3" y="1419" font-size="20" text-anchor="middle">0°</text>
<text x="1857.2" y="1419" font-size="20" text-anchor="middle">120°E</text>
<rect x="70" y="1473.3" width="870" height="26.299999999999955" fill="url(#gt)" stroke="#000" stroke-width="2"/><path d="M70 1499.6V1504.1" stroke="#000" stroke-width="1.2"/><path d="M126.5 1499.6V1504.1" stroke="#000" stroke-width="1.2"/><path d="M183 1499.6V1508.6" stroke="#000" stroke-width="1.6"/><text x="183" y="1535.3" font-size="20" text-anchor="middle">−20</text><path d="M239.5 1499.6V1504.1" stroke="#000" stroke-width="1.2"/><path d="M296 1499.6V1504.1" stroke="#000" stroke-width="1.2"/><path d="M352.5 1499.6V1504.1" stroke="#000" stroke-width="1.2"/><path d="M409 1499.6V1508.6" stroke="#000" stroke-width="1.6"/><text x="409" y="1535.3" font-size="20" text-anchor="middle">0</text><path d="M465.5 1499.6V1504.1" stroke="#000" stroke-width="1.2"/><path d="M521.9 1499.6V1504.1" stroke="#000" stroke-width="1.2"/><path d="M578.4 1499.6V1504.1" stroke="#000" stroke-width="1.2"/><path d="M634.9 1499.6V1508.6" stroke="#000" stroke-width="1.6"/><text x="634.9" y="1535.3" font-size="20" text-anchor="middle">20</text><path d="M691.4 1499.6V1504.1" stroke="#000" stroke-width="1.2"/><path d="M747.9 1499.6V1504.1" stroke="#000" stroke-width="1.2"/><path d="M804.4 1499.6V1504.1" stroke="#000" stroke-width="1.2"/><path d="M860.9 1499.6V1508.6" stroke="#000" stroke-width="1.6"/><text x="860.9" y="1535.3" font-size="20" text-anchor="middle">40</text><path d="M917.4 1499.6V1504.1" stroke="#000" stroke-width="1.2"/><text x="505" y="1571.8" font-size="23.8" text-anchor="middle">Temperature (°C)</text>
<rect x="1015" y="1473.3" width="430" height="26.299999999999955" fill="url(#gd)" stroke="#000" stroke-width="2"/><path d="M1015 1499.6V1508.6" stroke="#000" stroke-width="1.6"/><text x="1015" y="1535.3" font-size="20" text-anchor="middle">−20</text><path d="M1036.5 1499.6V1504.1" stroke="#000" stroke-width="1.2"/><path d="M1058 1499.6V1504.1" stroke="#000" stroke-width="1.2"/><path d="M1079.5 1499.6V1504.1" stroke="#000" stroke-width="1.2"/><path d="M1101 1499.6V1504.1" stroke="#000" stroke-width="1.2"/><path d="M1122.5 1499.6V1508.6" stroke="#000" stroke-width="1.6"/><text x="1122.5" y="1535.3" font-size="20" text-anchor="middle">−10</text><path d="M1144 1499.6V1504.1" stroke="#000" stroke-width="1.2"/><path d="M1165.5 1499.6V1504.1" stroke="#000" stroke-width="1.2"/><path d="M1187 1499.6V1504.1" stroke="#000" stroke-width="1.2"/><path d="M1208.5 1499.6V1504.1" stroke="#000" stroke-width="1.2"/><path d="M1230 1499.6V1508.6" stroke="#000" stroke-width="1.6"/><text x="1230" y="1535.3" font-size="20" text-anchor="middle">0</text><path d="M1251.5 1499.6V1504.1" stroke="#000" stroke-width="1.2"/><path d="M1273 1499.6V1504.1" stroke="#000" stroke-width="1.2"/><path d="M1294.5 1499.6V1504.1" stroke="#000" stroke-width="1.2"/><path d="M1316 1499.6V1504.1" stroke="#000" stroke-width="1.2"/><path d="M1337.5 1499.6V1508.6" stroke="#000" stroke-width="1.6"/><text x="1337.5" y="1535.3" font-size="20" text-anchor="middle">10</text><path d="M1359 1499.6V1504.1" stroke="#000" stroke-width="1.2"/><path d="M1380.5 1499.6V1504.1" stroke="#000" stroke-width="1.2"/><path d="M1402 1499.6V1504.1" stroke="#000" stroke-width="1.2"/><path d="M1423.5 1499.6V1504.1" stroke="#000" stroke-width="1.2"/><path d="M1445 1499.6V1508.6" stroke="#000" stroke-width="1.6"/><text x="1445" y="1535.3" font-size="20" text-anchor="middle">20</text><text x="1230" y="1571.8" font-size="23.8" text-anchor="middle">Temperature Difference (°C)</text>
<rect x="1515" y="1473.3" width="429.5" height="26.299999999999955" fill="url(#gl)" stroke="#000" stroke-width="2"/><path d="M1515 1499.6V1508.6" stroke="#000" stroke-width="1.6"/><text x="1515" y="1535.3" font-size="20" text-anchor="middle">−20</text><path d="M1536.5 1499.6V1504.1" stroke="#000" stroke-width="1.2"/><path d="M1558 1499.6V1504.1" stroke="#000" stroke-width="1.2"/><path d="M1579.4 1499.6V1504.1" stroke="#000" stroke-width="1.2"/><path d="M1600.9 1499.6V1504.1" stroke="#000" stroke-width="1.2"/><path d="M1622.4 1499.6V1508.6" stroke="#000" stroke-width="1.6"/><text x="1622.4" y="1535.3" font-size="20" text-anchor="middle">−10</text><path d="M1643.8 1499.6V1504.1" stroke="#000" stroke-width="1.2"/><path d="M1665.3 1499.6V1504.1" stroke="#000" stroke-width="1.2"/><path d="M1686.8 1499.6V1504.1" stroke="#000" stroke-width="1.2"/><path d="M1708.3 1499.6V1504.1" stroke="#000" stroke-width="1.2"/><path d="M1729.8 1499.6V1508.6" stroke="#000" stroke-width="1.6"/><text x="1729.8" y="1535.3" font-size="20" text-anchor="middle">0</text><path d="M1751.2 1499.6V1504.1" stroke="#000" stroke-width="1.2"/><path d="M1772.7 1499.6V1504.1" stroke="#000" stroke-width="1.2"/><path d="M1794.2 1499.6V1504.1" stroke="#000" stroke-width="1.2"/><path d="M1815.7 1499.6V1504.1" stroke="#000" stroke-width="1.2"/><path d="M1837.1 1499.6V1508.6" stroke="#000" stroke-width="1.6"/><text x="1837.1" y="1535.3" font-size="20" text-anchor="middle">10</text><path d="M1858.6 1499.6V1504.1" stroke="#000" stroke-width="1.2"/><path d="M1880.1 1499.6V1504.1" stroke="#000" stroke-width="1.2"/><path d="M1901.5 1499.6V1504.1" stroke="#000" stroke-width="1.2"/><path d="M1923 1499.6V1504.1" stroke="#000" stroke-width="1.2"/><path d="M1944.5 1499.6V1508.6" stroke="#000" stroke-width="1.6"/><text x="1944.5" y="1535.3" font-size="20" text-anchor="middle">20</text><text x="1729.8" y="1571.8" font-size="23.8" text-anchor="middle">Absolute Latitude Difference (°)</text>
</svg></body></html>
